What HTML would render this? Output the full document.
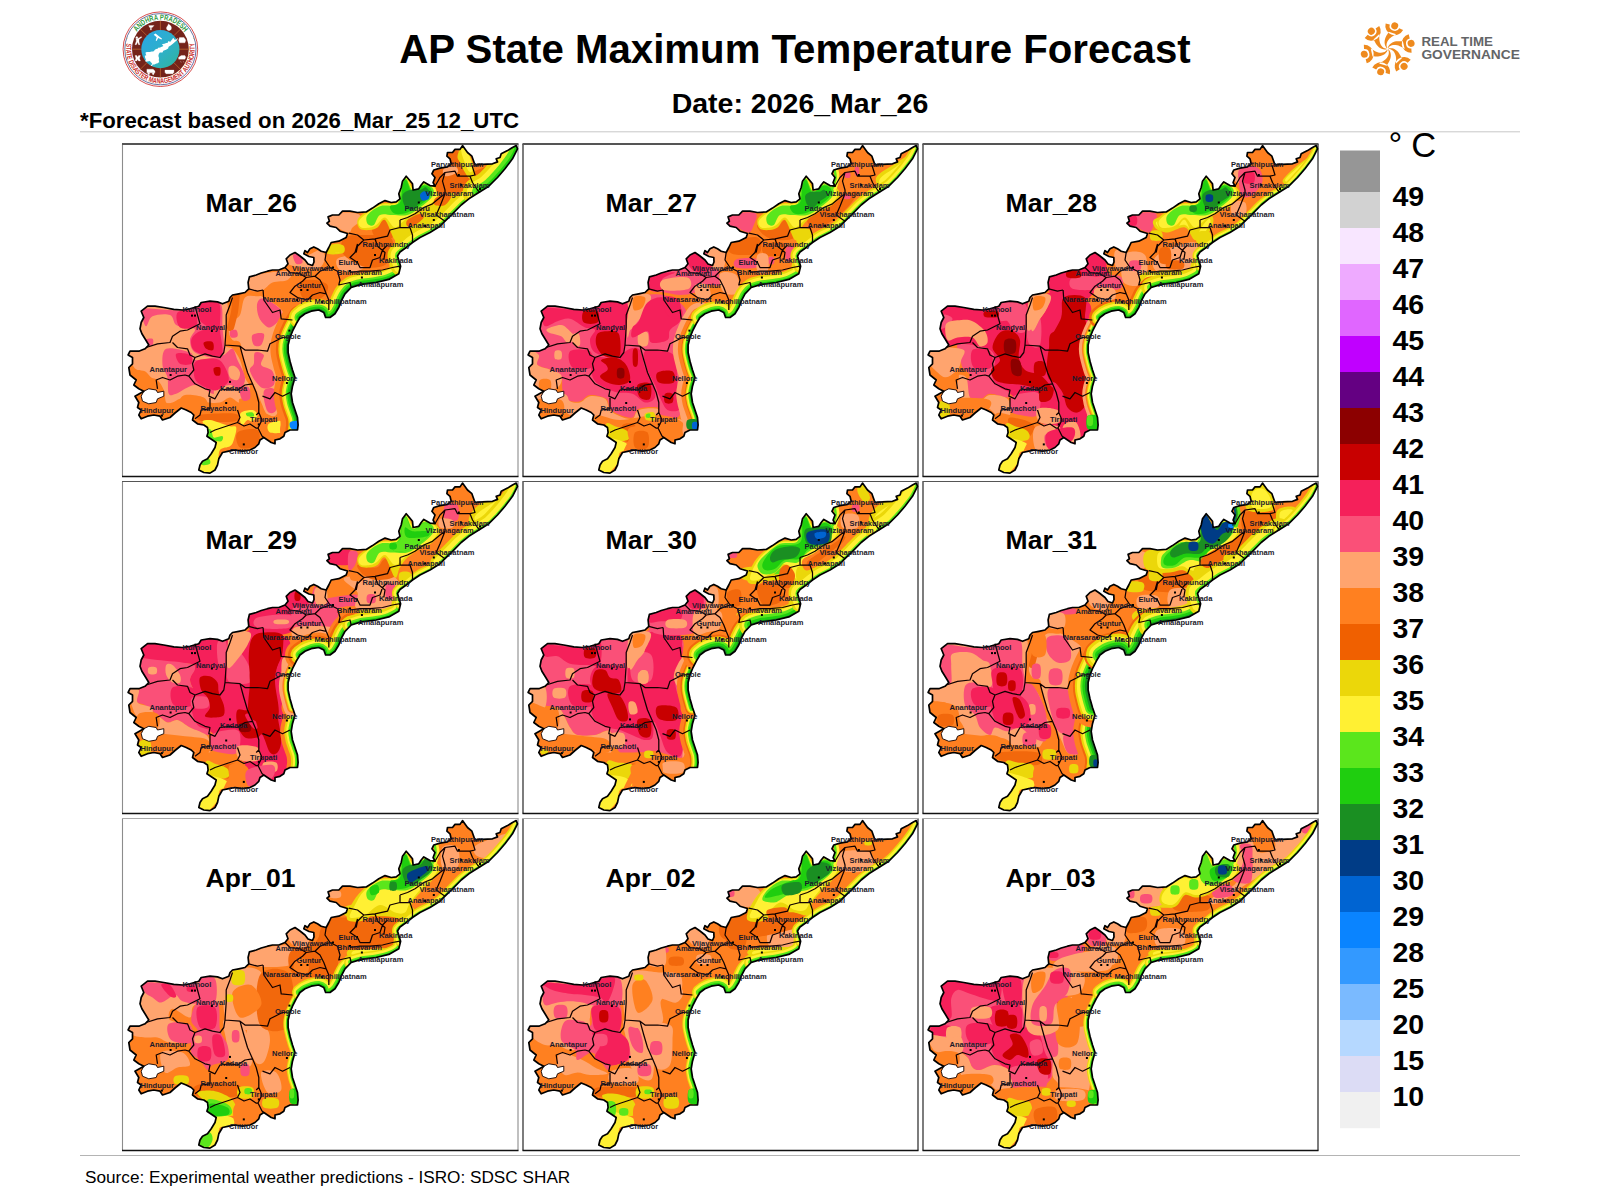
<!DOCTYPE html><html><head><meta charset="utf-8"><title>AP State Maximum Temperature Forecast</title>
<style>html,body{margin:0;padding:0;background:#fff}svg{display:block}text{font-family:"Liberation Sans",Arial,sans-serif}.b{font-weight:bold}.c{font-size:7.5px;font-weight:bold;fill:#1a1a2a}.d{font-size:26.5px;font-weight:bold;fill:#000}.n{font-size:28.5px;font-weight:bold;fill:#000}</style></head><body>
<svg width="1600" height="1200" viewBox="0 0 1600 1200">
<rect width="1600" height="1200" fill="#fff"/>
<defs>
<clipPath id="st"><path d="M516.2,145.6L512.5,147.5L507.5,150.6L501.2,153.8L500.0,157.5L496.2,158.8L497.5,161.9L492.5,163.8L482.5,164.4L475.0,165.0L471.9,156.2L467.5,152.5L462.5,145.6L460.0,149.4L455.0,149.4L452.5,152.5L447.5,152.5L446.9,156.2L450.0,158.8L451.2,163.8L447.5,166.9L440.0,168.1L433.8,170.0L431.9,173.8L435.0,177.5L433.1,182.5L435.0,186.2L430.0,185.6L423.8,181.9L421.2,185.0L418.8,188.8L413.1,190.0L412.5,183.8L409.4,180.0L406.2,176.2L402.5,181.2L401.2,187.5L398.8,193.8L400.0,198.8L396.2,201.9L391.2,202.5L385.0,200.6L378.8,203.8L372.5,208.1L366.2,211.9L357.5,212.5L350.0,211.2L342.5,211.2L338.8,215.0L332.5,215.0L328.1,216.9L329.4,221.2L326.9,223.1L330.0,226.2L336.2,227.5L340.0,231.2L347.5,233.5L346.2,237.5L338.8,241.2L331.2,242.5L328.8,247.5L326.2,252.5L321.2,251.2L317.5,248.8L313.8,246.9L310.0,248.8L307.5,252.5L305.0,250.6L303.8,253.8L309.0,256.5L313.8,257.5L314.0,262.0L312.5,265.5L308.0,264.0L305.0,260.0L300.0,256.0L295.0,252.5L290.0,255.0L286.2,258.8L288.0,263.8L285.0,267.5L278.8,270.0L272.5,270.0L267.5,271.2L261.2,273.0L256.2,275.0L249.4,276.9L248.1,282.5L248.8,288.8L245.0,292.5L238.8,293.8L232.5,295.0L230.0,297.5L228.8,301.2L222.5,303.8L217.5,301.9L210.0,301.2L201.2,302.5L198.8,306.2L190.0,308.8L182.5,310.0L173.8,309.4L163.8,307.5L155.0,306.2L147.5,306.2L141.2,311.2L143.8,317.5L141.2,322.5L140.0,328.8L141.9,333.8L145.0,338.8L148.8,345.0L145.0,348.8L138.8,351.2L130.0,351.2L128.1,355.0L132.5,357.5L132.5,363.8L128.8,367.5L130.0,375.0L136.2,380.0L133.8,385.0L138.8,388.8L143.8,391.2L135.0,396.2L138.8,402.5L137.5,407.5L141.2,410.0L138.8,415.0L141.2,418.8L147.5,416.2L153.8,415.0L160.0,416.2L162.5,420.0L170.0,417.5L175.0,413.0L181.2,408.0L186.2,410.0L191.2,412.5L193.8,415.0L192.5,420.0L197.5,423.8L203.8,425.0L207.5,427.5L208.1,432.5L206.9,436.2L212.5,440.0L216.2,442.5L215.0,447.5L211.2,453.8L207.5,458.8L202.5,461.2L200.0,465.0L198.8,470.0L203.8,472.5L210.0,473.1L215.0,470.0L217.5,465.0L218.8,458.8L222.5,452.5L228.8,451.2L235.0,450.0L242.5,451.2L250.0,450.0L255.0,447.5L258.8,443.8L260.0,440.0L263.8,437.5L267.5,440.0L271.2,442.5L275.0,443.8L275.0,440.0L280.0,438.8L283.8,436.2L285.0,432.5L290.0,430.0L297.5,430.0L298.1,425.0L297.5,417.5L295.0,410.0L292.5,402.5L291.2,393.8L292.5,386.2L295.0,377.5L292.5,370.0L290.0,361.2L288.1,352.5L288.1,345.0L290.0,337.5L292.5,331.2L296.2,323.8L300.0,317.5L305.0,313.8L311.2,311.2L318.8,310.0L323.8,312.5L325.6,317.5L330.0,317.5L335.0,313.8L338.8,307.5L341.2,301.2L345.0,293.8L351.2,287.5L361.2,284.4L376.2,282.5L388.8,279.4L398.8,273.8L400.6,266.2L397.5,256.0L400.0,252.0L406.2,247.5L412.5,242.5L420.0,237.5L430.0,232.5L440.0,226.2L445.0,221.2L452.5,213.8L461.2,205.0L468.8,198.8L478.8,192.5L488.8,186.2L497.5,177.5L505.0,168.8L512.5,158.8L517.5,148.8Z"/></clipPath>
<path id="ol" d="M516.2,145.6L512.5,147.5L507.5,150.6L501.2,153.8L500.0,157.5L496.2,158.8L497.5,161.9L492.5,163.8L482.5,164.4L475.0,165.0L471.9,156.2L467.5,152.5L462.5,145.6L460.0,149.4L455.0,149.4L452.5,152.5L447.5,152.5L446.9,156.2L450.0,158.8L451.2,163.8L447.5,166.9L440.0,168.1L433.8,170.0L431.9,173.8L435.0,177.5L433.1,182.5L435.0,186.2L430.0,185.6L423.8,181.9L421.2,185.0L418.8,188.8L413.1,190.0L412.5,183.8L409.4,180.0L406.2,176.2L402.5,181.2L401.2,187.5L398.8,193.8L400.0,198.8L396.2,201.9L391.2,202.5L385.0,200.6L378.8,203.8L372.5,208.1L366.2,211.9L357.5,212.5L350.0,211.2L342.5,211.2L338.8,215.0L332.5,215.0L328.1,216.9L329.4,221.2L326.9,223.1L330.0,226.2L336.2,227.5L340.0,231.2L347.5,233.5L346.2,237.5L338.8,241.2L331.2,242.5L328.8,247.5L326.2,252.5L321.2,251.2L317.5,248.8L313.8,246.9L310.0,248.8L307.5,252.5L305.0,250.6L303.8,253.8L309.0,256.5L313.8,257.5L314.0,262.0L312.5,265.5L308.0,264.0L305.0,260.0L300.0,256.0L295.0,252.5L290.0,255.0L286.2,258.8L288.0,263.8L285.0,267.5L278.8,270.0L272.5,270.0L267.5,271.2L261.2,273.0L256.2,275.0L249.4,276.9L248.1,282.5L248.8,288.8L245.0,292.5L238.8,293.8L232.5,295.0L230.0,297.5L228.8,301.2L222.5,303.8L217.5,301.9L210.0,301.2L201.2,302.5L198.8,306.2L190.0,308.8L182.5,310.0L173.8,309.4L163.8,307.5L155.0,306.2L147.5,306.2L141.2,311.2L143.8,317.5L141.2,322.5L140.0,328.8L141.9,333.8L145.0,338.8L148.8,345.0L145.0,348.8L138.8,351.2L130.0,351.2L128.1,355.0L132.5,357.5L132.5,363.8L128.8,367.5L130.0,375.0L136.2,380.0L133.8,385.0L138.8,388.8L143.8,391.2L135.0,396.2L138.8,402.5L137.5,407.5L141.2,410.0L138.8,415.0L141.2,418.8L147.5,416.2L153.8,415.0L160.0,416.2L162.5,420.0L170.0,417.5L175.0,413.0L181.2,408.0L186.2,410.0L191.2,412.5L193.8,415.0L192.5,420.0L197.5,423.8L203.8,425.0L207.5,427.5L208.1,432.5L206.9,436.2L212.5,440.0L216.2,442.5L215.0,447.5L211.2,453.8L207.5,458.8L202.5,461.2L200.0,465.0L198.8,470.0L203.8,472.5L210.0,473.1L215.0,470.0L217.5,465.0L218.8,458.8L222.5,452.5L228.8,451.2L235.0,450.0L242.5,451.2L250.0,450.0L255.0,447.5L258.8,443.8L260.0,440.0L263.8,437.5L267.5,440.0L271.2,442.5L275.0,443.8L275.0,440.0L280.0,438.8L283.8,436.2L285.0,432.5L290.0,430.0L297.5,430.0L298.1,425.0L297.5,417.5L295.0,410.0L292.5,402.5L291.2,393.8L292.5,386.2L295.0,377.5L292.5,370.0L290.0,361.2L288.1,352.5L288.1,345.0L290.0,337.5L292.5,331.2L296.2,323.8L300.0,317.5L305.0,313.8L311.2,311.2L318.8,310.0L323.8,312.5L325.6,317.5L330.0,317.5L335.0,313.8L338.8,307.5L341.2,301.2L345.0,293.8L351.2,287.5L361.2,284.4L376.2,282.5L388.8,279.4L398.8,273.8L400.6,266.2L397.5,256.0L400.0,252.0L406.2,247.5L412.5,242.5L420.0,237.5L430.0,232.5L440.0,226.2L445.0,221.2L452.5,213.8L461.2,205.0L468.8,198.8L478.8,192.5L488.8,186.2L497.5,177.5L505.0,168.8L512.5,158.8L517.5,148.8Z" fill="none" stroke="#000" stroke-width="1.7" stroke-linejoin="round"/>
<g id="db" fill="none" stroke="#100" stroke-width="1.25" stroke-linejoin="round">
<path d="M146.2,347.5L157.5,343.8L170.0,342.5L172.5,336.2L180.0,331.2L187.5,330.0L195.0,326.2L200.0,323.8L197.5,315.0L195.0,306.2 M172.5,342.5L177.5,347.5L187.5,348.8L190.0,355.0L195.0,357.5L192.5,363.8L193.8,370.0L188.8,376.2L185.0,375.0L177.5,376.2L170.0,380.0L162.5,377.5L156.2,380.0L157.5,388.8 M195.0,357.5L205.0,353.8L212.5,356.2L220.0,357.5L223.8,352.5L225.0,345.0L226.2,327.5L226.2,315.0L230.0,305.0L232.5,297.5 M188.8,376.2L195.0,383.8L205.0,388.8L210.0,390.0L208.8,396.2L215.0,398.8L220.0,390.0L230.0,388.8L237.5,390.0L245.0,385.0L252.5,383.8 M225.0,345.0L240.0,346.2L245.0,350.0L257.5,350.0L267.5,351.2L270.0,343.8L277.5,340.0L282.5,337.5L290.0,337.0 M240.0,346.2L243.8,360.0L247.5,372.5L252.5,383.8L256.2,392.5L258.8,402.5L258.8,412.5L256.2,415.0 M262.5,396.2L270.0,398.8L275.0,392.5L282.5,396.2L290.0,392.5 M210.0,396.2L210.0,408.8L201.2,410.0L200.0,415.0L195.0,418.8 M237.5,410.0L240.0,417.5L237.5,422.5L230.0,425.0L222.5,427.5L215.0,430.0L210.0,432.5 M263.1,290.0L263.8,300.0L272.5,312.5L280.0,310.0L281.2,318.8L292.5,320.0 M248.8,288.8L257.5,291.2L263.1,290.0 M285.0,267.5L290.0,272.5L300.0,273.8L306.2,277.5L302.5,281.2L295.0,286.2L290.0,292.5L297.5,297.5L307.5,300.0L312.5,295.0L320.0,292.5L326.2,293.8L328.8,300.0L328.8,310.0 M306.2,277.5L315.0,276.2L320.0,280.0L323.8,287.5L326.2,293.8 M326.2,252.5L325.0,260.0L330.0,267.5L320.0,271.2L315.0,276.2 M330.0,267.5L337.5,271.2L340.0,280.0L338.8,285.0L350.0,282.5L351.2,287.5 M357.5,243.8L355.0,252.5L350.0,257.5L357.5,262.5L360.0,267.5L370.0,267.5L372.5,260.0L380.0,257.5L382.5,250.0L387.5,245.0 M350.0,272.5L360.0,271.2L370.0,271.2L382.5,270.0L392.5,267.5L400.0,266.2 M400.0,220.0L407.5,217.5L415.0,213.8L423.8,207.5L432.5,203.8L440.0,197.5L445.0,193.8 M348.8,233.1L357.5,235.0L363.8,240.0L375.0,238.8L387.5,236.2L390.0,230.0L400.0,227.5L400.0,220.0 M400.0,227.5L410.0,227.5L412.5,235.0L412.5,242.5 M435.0,186.2L440.0,177.5L445.0,172.5L455.0,171.2L457.5,176.2L470.0,176.2L475.0,175.0L471.9,165.0 M470.0,176.2L472.5,182.5L477.5,190.0L480.0,192.5 M445.0,172.5L442.5,181.2L445.0,190.0L445.0,193.8L440.0,206.2L436.2,215.0L445.0,221.2 M363.8,240.0L357.5,246.2L356.2,252.5 M375.0,238.8L377.5,246.2L385.0,252.5L383.8,260.0 M258.8,412.5L262.0,420.0L258.0,428.0L262.0,436.0L263.8,437.5 M237.5,422.5L244.0,426.0L250.0,424.0L256.0,428.0L258.0,428.0"/>
<path d="M143.8,391.2L148.8,388.8L156.2,390.0L157.5,392.5L163.8,391.2L163.8,396.2L157.5,398.8L156.2,402.5L148.8,403.8L142.5,401.2L141.2,396.2Z" fill="#fff" stroke-width="0.9"/>
</g>
<g id="ct" fill="#000"><rect x="191.0" y="314.6" width="2" height="2"/><rect x="194.0" y="314.6" width="2" height="2"/><rect x="210.9" y="330.0" width="2" height="2"/><rect x="169.6" y="374.0" width="2" height="2"/><rect x="229.0" y="380.9" width="2" height="2"/><rect x="225.2" y="402.0" width="2" height="2"/><rect x="257.8" y="423.4" width="2" height="2"/><rect x="285.9" y="382.0" width="2" height="2"/><rect x="288.4" y="329.6" width="2" height="2"/><rect x="242.8" y="443.4" width="2" height="2"/><rect x="160.9" y="414.6" width="2" height="2"/><rect x="306.5" y="289.0" width="2" height="2"/><rect x="300.2" y="289.0" width="2" height="2"/><rect x="332.0" y="266.5" width="2" height="2"/><rect x="399.0" y="265.9" width="2" height="2"/><rect x="374.0" y="254.0" width="2" height="2"/><rect x="360.9" y="276.5" width="2" height="2"/><rect x="349.0" y="270.0" width="2" height="2"/><rect x="432.8" y="219.0" width="2" height="2"/><rect x="417.8" y="201.5" width="2" height="2"/><rect x="457.8" y="174.0" width="2" height="2"/><rect x="460.0" y="184.0" width="2" height="2"/><rect x="479.0" y="188.0" width="2" height="2"/><rect x="424.0" y="225.0" width="2" height="2"/><rect x="356.0" y="261.0" width="2" height="2"/><rect x="321.0" y="301.0" width="2" height="2"/><rect x="296.0" y="299.0" width="2" height="2"/></g>
</defs>
<text x="795" y="62.5" text-anchor="middle" class="b" font-size="40.2">AP State Maximum Temperature Forecast</text>
<text x="800" y="112.5" text-anchor="middle" class="b" font-size="28.5">Date: 2026_Mar_26</text>
<rect x="80" y="131.3" width="1440" height="1" fill="#c8c8c8"/>
<text x="80" y="128" class="b" font-size="22.25">*Forecast based on 2026_Mar_25 12_UTC</text>
<rect x="80" y="1155" width="1440" height="1" fill="#b4b4b4"/>
<text x="85" y="1183" font-size="17.2">Source: Experimental weather predictions - ISRO: SDSC SHAR</text>
<g id="apsdma">
<circle cx="160.4" cy="49.2" r="37.3" fill="#fff" stroke="#d23a3a" stroke-width="0.9"/>
<circle cx="160.4" cy="49.2" r="35.6" fill="none" stroke="#2a3a7a" stroke-width="0.7"/>
<circle cx="160.4" cy="49.2" r="28.4" fill="#74231a"/>
<line x1="160.40" y1="30.20" x2="160.40" y2="20.80" stroke="#e38a3c" stroke-width="0.5"/>
<line x1="173.84" y1="35.76" x2="180.48" y2="29.12" stroke="#e38a3c" stroke-width="0.5"/>
<line x1="179.40" y1="49.20" x2="188.80" y2="49.20" stroke="#e38a3c" stroke-width="0.5"/>
<line x1="173.84" y1="62.64" x2="180.48" y2="69.28" stroke="#e38a3c" stroke-width="0.5"/>
<line x1="160.40" y1="68.20" x2="160.40" y2="77.60" stroke="#e38a3c" stroke-width="0.5"/>
<line x1="146.96" y1="62.64" x2="140.32" y2="69.28" stroke="#e38a3c" stroke-width="0.5"/>
<line x1="141.40" y1="49.20" x2="132.00" y2="49.20" stroke="#e38a3c" stroke-width="0.5"/>
<line x1="146.96" y1="35.76" x2="140.32" y2="29.12" stroke="#e38a3c" stroke-width="0.5"/>
<path transform="translate(151.37,27.40) scale(0.9)" d="M-3,-2h6l-2,2h-1v3h-1v-3h-1z" fill="#fff" stroke="#fff" stroke-width="0.3"/>
<path transform="translate(169.43,27.40) scale(0.9)" d="M-1,-4c2,2 4,3 3,6c-1,2-4,2-5,0c-1,-2 1,-3 2,-6z" fill="#fff" stroke="#fff" stroke-width="0.3"/>
<path transform="translate(182.20,40.17) scale(0.9)" d="M-3,-3h5l2,3l-1,3h-6l-1,-3z" fill="#fff" stroke="#fff" stroke-width="0.3"/>
<path transform="translate(182.20,58.23) scale(0.9)" d="M-4,-1l3,-2h4l1,2l-1,2h-7z M-2,3l1,2 M1,3l1,2" fill="#fff" stroke="#fff" stroke-width="0.3"/>
<path transform="translate(169.43,71.00) scale(0.9)" d="M-5,-1h10v3h-10z M-4,2h8v1h-8z" fill="#fff" stroke="#fff" stroke-width="0.3"/>
<path transform="translate(151.37,71.00) scale(0.9)" d="M-5,-2h7l2,2v2h-9z M-3,2a1,1 0 1,0 .1,0 M2,2a1,1 0 1,0 .1,0" fill="#fff" stroke="#fff" stroke-width="0.3"/>
<path transform="translate(138.60,58.23) scale(0.9)" d="M-4,-3l1,3l-1,3h2l1,-2l1,2h2l-1,-3l1,-3h-2l-1,2l-1,-2z" fill="#fff" stroke="#fff" stroke-width="0.3"/>
<path transform="translate(138.60,40.17) scale(0.9)" d="M-2,-4a1.2,1.2 0 1,0 .1,0z M-3,-2h3l3,-2l.5,1l-3,2v3l1,3h-1.5l-1,-3l-1.5,3h-1.5l1.5,-4z" fill="#fff" stroke="#fff" stroke-width="0.3"/>
<defs><linearGradient id="sea" x1="0" y1="0" x2="1" y2="1"><stop offset="0" stop-color="#2aa6e6"/><stop offset="0.55" stop-color="#2eb0c8"/><stop offset="1" stop-color="#2fb59a"/></linearGradient>
<path id="arcT" d="M136.77,31.71 A29.4,29.4 0 0 1 184.33,32.13"/>
<path id="arcB" d="M126.62,43.24 A34.3,34.3 0 1 0 194.18,43.24"/>
</defs>
<circle cx="160.4" cy="49.2" r="19.1" fill="url(#sea)"/>
<path d="M178.14,38.00L176.84,38.70L176.51,39.41L174.57,39.68L173.49,38.00L172.62,38.60L172.40,39.14L171.54,39.95L171.11,40.76L170.67,41.46L169.70,41.73L168.89,40.98L168.19,41.62L167.76,42.87L166.24,43.03L164.40,43.79L162.78,44.00L161.97,44.54L162.57,45.08L163.43,45.95L161.92,46.81L160.94,46.92L160.08,47.25L160.21,47.59L160.51,48.37L159.43,47.55L158.24,47.79L157.59,48.76L156.08,49.02L154.94,49.84L154.13,50.81L153.27,51.46L151.64,51.46L149.91,52.11L147.64,52.00L145.70,52.33L145.59,53.84L146.35,55.25L144.72,55.79L144.94,56.87L145.27,58.28L145.91,59.25L145.37,60.65L145.70,61.63L147.32,61.41L148.62,61.13L150.02,61.09L150.56,62.06L151.48,62.82L152.19,63.68L151.43,65.09L150.67,66.06L152.08,66.06L152.73,64.55L154.46,64.44L155.86,63.79L156.62,63.47L157.27,63.47L158.13,62.82L159.27,62.17L158.78,60.22L159.00,58.06L158.40,55.90L158.78,54.06L159.86,52.54L161.48,52.44L162.46,52.54L163.32,50.81L166.03,49.84L168.13,48.44L168.62,46.81L170.67,45.52L172.62,43.89L174.89,42.06L177.16,40.00Z" fill="#fff"/>
<path d="M155.5,33.6l6.6,5.2l-.7,.8l-3.2,-1.6l-1.6,3l-.9,-.4l1,-3.4l-3,-2.4z" fill="#fff"/>
<text font-size="7.6" font-weight="bold" fill="#2e9a3e" textLength="55.4" lengthAdjust="spacingAndGlyphs"><textPath href="#arcT" startOffset="0" textLength="55.4" lengthAdjust="spacingAndGlyphs">ANDHRA PRADESH</textPath></text>
<text font-size="7.4" font-weight="bold" fill="#c9302c" textLength="119.7" lengthAdjust="spacingAndGlyphs"><textPath href="#arcB" startOffset="0" textLength="119.7" lengthAdjust="spacingAndGlyphs">STATE DISASTER MANAGEMENT AUTHORITY</textPath></text>
<circle cx="126.9" cy="38.2" r="0.5" fill="#c9a24a"/><circle cx="193.9" cy="38.2" r="0.5" fill="#c9a24a"/>
</g>
<g id="rtg" fill="#ee8a1e" stroke="none">
<g transform="translate(1387.7,48.8) rotate(17)"><path d="M-0.69,-0.78L-1.42,-1.62L-1.96,-2.62L-2.33,-3.74L-2.50,-4.93L-2.49,-6.18L-2.30,-7.46L-1.92,-8.74L-1.38,-9.99L-0.69,-11.21L0.14,-12.38L1.07,-13.48L2.07,-14.53L3.09,-15.52L4.00,-16.50L-4.00,-16.50L-4.25,-15.24L-4.61,-13.93L-4.94,-12.59L-5.20,-11.23L-5.36,-9.87L-5.40,-8.52L-5.30,-7.20L-5.07,-5.93L-4.70,-4.73L-4.19,-3.61L-3.56,-2.59L-2.80,-1.69L-1.94,-0.92L-1.01,-0.28Z M9.26,-22.37A9.4,9.4 0 0 1 -9.39,-23.67L-5.10,-23.82A5.1,5.1 0 0 0 5.02,-23.11Z"/><circle cx="0" cy="-24.0" r="3.5"/></g>
<g transform="translate(1387.7,48.8) rotate(77)"><path d="M-0.69,-0.78L-1.42,-1.62L-1.96,-2.62L-2.33,-3.74L-2.50,-4.93L-2.49,-6.18L-2.30,-7.46L-1.92,-8.74L-1.38,-9.99L-0.69,-11.21L0.14,-12.38L1.07,-13.48L2.07,-14.53L3.09,-15.52L4.00,-16.50L-4.00,-16.50L-4.25,-15.24L-4.61,-13.93L-4.94,-12.59L-5.20,-11.23L-5.36,-9.87L-5.40,-8.52L-5.30,-7.20L-5.07,-5.93L-4.70,-4.73L-4.19,-3.61L-3.56,-2.59L-2.80,-1.69L-1.94,-0.92L-1.01,-0.28Z M9.26,-22.37A9.4,9.4 0 0 1 -9.39,-23.67L-5.10,-23.82A5.1,5.1 0 0 0 5.02,-23.11Z"/><circle cx="0" cy="-24.0" r="3.5"/></g>
<g transform="translate(1387.7,48.8) rotate(137)"><path d="M-0.69,-0.78L-1.42,-1.62L-1.96,-2.62L-2.33,-3.74L-2.50,-4.93L-2.49,-6.18L-2.30,-7.46L-1.92,-8.74L-1.38,-9.99L-0.69,-11.21L0.14,-12.38L1.07,-13.48L2.07,-14.53L3.09,-15.52L4.00,-16.50L-4.00,-16.50L-4.25,-15.24L-4.61,-13.93L-4.94,-12.59L-5.20,-11.23L-5.36,-9.87L-5.40,-8.52L-5.30,-7.20L-5.07,-5.93L-4.70,-4.73L-4.19,-3.61L-3.56,-2.59L-2.80,-1.69L-1.94,-0.92L-1.01,-0.28Z M9.26,-22.37A9.4,9.4 0 0 1 -9.39,-23.67L-5.10,-23.82A5.1,5.1 0 0 0 5.02,-23.11Z"/><circle cx="0" cy="-24.0" r="3.5"/></g>
<g transform="translate(1387.7,48.8) rotate(197)"><path d="M-0.69,-0.78L-1.42,-1.62L-1.96,-2.62L-2.33,-3.74L-2.50,-4.93L-2.49,-6.18L-2.30,-7.46L-1.92,-8.74L-1.38,-9.99L-0.69,-11.21L0.14,-12.38L1.07,-13.48L2.07,-14.53L3.09,-15.52L4.00,-16.50L-4.00,-16.50L-4.25,-15.24L-4.61,-13.93L-4.94,-12.59L-5.20,-11.23L-5.36,-9.87L-5.40,-8.52L-5.30,-7.20L-5.07,-5.93L-4.70,-4.73L-4.19,-3.61L-3.56,-2.59L-2.80,-1.69L-1.94,-0.92L-1.01,-0.28Z M9.26,-22.37A9.4,9.4 0 0 1 -9.39,-23.67L-5.10,-23.82A5.1,5.1 0 0 0 5.02,-23.11Z"/><circle cx="0" cy="-24.0" r="3.5"/></g>
<g transform="translate(1387.7,48.8) rotate(257)"><path d="M-0.69,-0.78L-1.42,-1.62L-1.96,-2.62L-2.33,-3.74L-2.50,-4.93L-2.49,-6.18L-2.30,-7.46L-1.92,-8.74L-1.38,-9.99L-0.69,-11.21L0.14,-12.38L1.07,-13.48L2.07,-14.53L3.09,-15.52L4.00,-16.50L-4.00,-16.50L-4.25,-15.24L-4.61,-13.93L-4.94,-12.59L-5.20,-11.23L-5.36,-9.87L-5.40,-8.52L-5.30,-7.20L-5.07,-5.93L-4.70,-4.73L-4.19,-3.61L-3.56,-2.59L-2.80,-1.69L-1.94,-0.92L-1.01,-0.28Z M9.26,-22.37A9.4,9.4 0 0 1 -9.39,-23.67L-5.10,-23.82A5.1,5.1 0 0 0 5.02,-23.11Z"/><circle cx="0" cy="-24.0" r="3.5"/></g>
<g transform="translate(1387.7,48.8) rotate(317)"><path d="M-0.69,-0.78L-1.42,-1.62L-1.96,-2.62L-2.33,-3.74L-2.50,-4.93L-2.49,-6.18L-2.30,-7.46L-1.92,-8.74L-1.38,-9.99L-0.69,-11.21L0.14,-12.38L1.07,-13.48L2.07,-14.53L3.09,-15.52L4.00,-16.50L-4.00,-16.50L-4.25,-15.24L-4.61,-13.93L-4.94,-12.59L-5.20,-11.23L-5.36,-9.87L-5.40,-8.52L-5.30,-7.20L-5.07,-5.93L-4.70,-4.73L-4.19,-3.61L-3.56,-2.59L-2.80,-1.69L-1.94,-0.92L-1.01,-0.28Z M9.26,-22.37A9.4,9.4 0 0 1 -9.39,-23.67L-5.10,-23.82A5.1,5.1 0 0 0 5.02,-23.11Z"/><circle cx="0" cy="-24.0" r="3.5"/></g>
</g>
<text x="1421.4" y="46.2" font-size="12.6" font-weight="bold" fill="#636567" textLength="71.5" lengthAdjust="spacingAndGlyphs">REAL TIME</text>
<text x="1421.4" y="59.2" font-size="12.6" font-weight="bold" fill="#636567" textLength="98.5" lengthAdjust="spacingAndGlyphs">GOVERNANCE</text>
<g>
<rect x="1340" y="150.5" width="40" height="41.5" fill="#969696"/>
<rect x="1340" y="192" width="40" height="36.2" fill="#d2d2d2"/>
<rect x="1340" y="228" width="40" height="36.2" fill="#f8e6ff"/>
<rect x="1340" y="264" width="40" height="36.2" fill="#eeaaff"/>
<rect x="1340" y="300" width="40" height="36.2" fill="#e066ff"/>
<rect x="1340" y="336" width="40" height="36.2" fill="#c000ff"/>
<rect x="1340" y="372" width="40" height="36.2" fill="#640082"/>
<rect x="1340" y="408" width="40" height="36.2" fill="#8c0000"/>
<rect x="1340" y="444" width="40" height="36.2" fill="#c80000"/>
<rect x="1340" y="480" width="40" height="36.2" fill="#f5205a"/>
<rect x="1340" y="516" width="40" height="36.2" fill="#fa5078"/>
<rect x="1340" y="552" width="40" height="36.2" fill="#ffa46e"/>
<rect x="1340" y="588" width="40" height="36.2" fill="#ff8020"/>
<rect x="1340" y="624" width="40" height="36.2" fill="#f06000"/>
<rect x="1340" y="660" width="40" height="36.2" fill="#ebd70a"/>
<rect x="1340" y="696" width="40" height="36.2" fill="#fff033"/>
<rect x="1340" y="732" width="40" height="36.2" fill="#5be61c"/>
<rect x="1340" y="768" width="40" height="36.2" fill="#1fce0f"/>
<rect x="1340" y="804" width="40" height="36.2" fill="#1a8f22"/>
<rect x="1340" y="840" width="40" height="36.2" fill="#003c86"/>
<rect x="1340" y="876" width="40" height="36.2" fill="#0064d2"/>
<rect x="1340" y="912" width="40" height="36.2" fill="#0a84ff"/>
<rect x="1340" y="948" width="40" height="36.2" fill="#3399ff"/>
<rect x="1340" y="984" width="40" height="36.2" fill="#7abaff"/>
<rect x="1340" y="1020" width="40" height="36.2" fill="#b5d8ff"/>
<rect x="1340" y="1056" width="40" height="36.2" fill="#dcdcf5"/>
<rect x="1340" y="1092" width="40" height="36.2" fill="#f0f0f0"/>
<text x="1392.5" y="206.2" class="n">49</text>
<text x="1392.5" y="242.2" class="n">48</text>
<text x="1392.5" y="278.2" class="n">47</text>
<text x="1392.5" y="314.2" class="n">46</text>
<text x="1392.5" y="350.2" class="n">45</text>
<text x="1392.5" y="386.2" class="n">44</text>
<text x="1392.5" y="422.2" class="n">43</text>
<text x="1392.5" y="458.2" class="n">42</text>
<text x="1392.5" y="494.2" class="n">41</text>
<text x="1392.5" y="530.2" class="n">40</text>
<text x="1392.5" y="566.2" class="n">39</text>
<text x="1392.5" y="602.2" class="n">38</text>
<text x="1392.5" y="638.2" class="n">37</text>
<text x="1392.5" y="674.2" class="n">36</text>
<text x="1392.5" y="710.2" class="n">35</text>
<text x="1392.5" y="746.2" class="n">34</text>
<text x="1392.5" y="782.2" class="n">33</text>
<text x="1392.5" y="818.2" class="n">32</text>
<text x="1392.5" y="854.2" class="n">31</text>
<text x="1392.5" y="890.2" class="n">30</text>
<text x="1392.5" y="926.2" class="n">29</text>
<text x="1392.5" y="962.2" class="n">28</text>
<text x="1392.5" y="998.2" class="n">25</text>
<text x="1392.5" y="1034.2" class="n">20</text>
<text x="1392.5" y="1070.2" class="n">15</text>
<text x="1392.5" y="1106.2" class="n">10</text>
<text x="1388.6" y="156.8" font-size="34.5">°</text><text x="1411.2" y="156.8" font-size="34.5">C</text>
</g>
<rect x="122.5" y="144" width="395.5" height="332.5" fill="#fff"/>
<path d="M122.5,144V476.5" stroke="#8c8c8c" stroke-width="1.1" fill="none"/><path d="M518,144V476.5" stroke="#8c8c8c" stroke-width="1.1" fill="none"/>
<path d="M122.0,144H518.5" stroke="#555" stroke-width="1.8" fill="none"/><path d="M122.0,476.5H518.5" stroke="#111" stroke-width="1.3" fill="none"/>
<g transform="translate(0,0.0)">
<g clip-path="url(#st)">
<rect x="120" y="140" width="400" height="340" fill="#ff8020"/>
<path d="M141.2,307.5C143.8,305.8 150.6,304.6 157.5,305.0C164.4,305.4 175.4,310.4 182.5,310.0C189.6,309.6 193.8,303.9 200.0,302.5C206.2,301.1 215.4,301.7 220.0,301.9C224.6,302.1 226.5,299.5 227.5,303.8C228.5,308.0 226.7,320.6 226.2,327.5C225.8,334.4 224.0,341.5 225.0,345.0C226.0,348.5 230.0,346.2 232.5,348.8C235.0,351.2 237.9,355.2 240.0,360.0C242.1,364.8 243.3,372.9 245.0,377.5C246.7,382.1 250.0,383.8 250.0,387.5C250.0,391.2 246.9,397.5 245.0,400.0C243.1,402.5 241.2,402.9 238.8,402.5C236.2,402.1 233.1,397.5 230.0,397.5C226.9,397.5 223.8,401.7 220.0,402.5C216.2,403.3 210.8,402.9 207.5,402.5C204.2,402.1 202.9,400.8 200.0,400.0C197.1,399.2 193.3,397.7 190.0,397.5C186.7,397.3 182.9,397.9 180.0,398.8C177.1,399.6 174.8,401.9 172.5,402.5C170.2,403.1 167.7,404.6 166.2,402.5C164.8,400.4 165.2,393.8 163.8,390.0C162.3,386.2 159.6,382.1 157.5,380.0C155.4,377.9 153.3,379.0 151.2,377.5C149.2,376.0 147.3,372.5 145.0,371.2C142.7,370.0 139.6,371.0 137.5,370.0C135.4,369.0 134.0,367.9 132.5,365.0C131.0,362.1 127.7,355.0 128.8,352.5C129.8,350.0 135.6,351.2 138.8,350.0C141.9,348.8 147.3,348.3 147.5,345.0C147.7,341.7 140.8,335.0 140.0,330.0C139.2,325.0 142.3,318.8 142.5,315.0C142.7,311.2 138.8,309.2 141.2,307.5Z" fill="#ffa46e"/>
<path d="M245.0,297.5C247.9,294.4 254.4,296.2 257.5,296.2C260.6,296.2 259.6,295.0 263.8,297.5C267.9,300.0 279.6,306.2 282.5,311.2C285.4,316.2 282.3,322.7 281.2,327.5C280.2,332.3 276.9,335.4 276.2,340.0C275.6,344.6 276.7,350.0 277.5,355.0C278.3,360.0 280.4,365.0 281.2,370.0C282.1,375.0 282.7,379.6 282.5,385.0C282.3,390.4 281.0,397.5 280.0,402.5C279.0,407.5 278.3,412.9 276.2,415.0C274.2,417.1 270.0,417.1 267.5,415.0C265.0,412.9 263.3,407.1 261.2,402.5C259.2,397.9 257.3,392.5 255.0,387.5C252.7,382.5 249.6,377.9 247.5,372.5C245.4,367.1 243.8,360.0 242.5,355.0C241.2,350.0 241.7,345.0 240.0,342.5C238.3,340.0 234.4,341.9 232.5,340.0C230.6,338.1 228.8,334.4 228.8,331.2C228.8,328.1 230.6,324.0 232.5,321.2C234.4,318.5 237.9,319.0 240.0,315.0C242.1,311.0 242.1,300.6 245.0,297.5Z" fill="#ffa46e"/>
<path d="M236.2,296.2C235.9,299.0 235.3,307.3 234.4,312.5C233.4,317.7 231.2,325.0 230.6,327.5" fill="none" stroke="#f2680c" stroke-width="7" stroke-linecap="round" stroke-linejoin="round"/>
<path d="M249.4,277.5C251.2,274.8 254.5,274.8 261.2,273.8C268.0,272.7 285.6,270.2 290.0,271.2C294.4,272.3 290.4,278.1 287.5,280.0C284.6,281.9 276.7,280.8 272.5,282.5C268.3,284.2 266.2,288.8 262.5,290.0C258.8,291.2 252.2,292.1 250.0,290.0C247.8,287.9 247.5,280.2 249.4,277.5Z" fill="#ffa46e"/>
<path d="M287.5,256.2C288.6,254.5 291.7,253.3 295.0,253.1C298.3,252.9 303.3,255.5 307.5,255.0C311.7,254.5 317.1,249.6 320.0,250.0C322.9,250.4 325.0,254.6 325.0,257.5C325.0,260.4 322.9,265.6 320.0,267.5C317.1,269.4 311.7,269.0 307.5,268.8C303.3,268.5 298.2,267.1 295.0,266.2C291.8,265.4 289.4,265.4 288.1,263.8C286.9,262.1 286.4,258.0 287.5,256.2Z" fill="#ffa46e"/>
<path d="M337.5,258.8C340.4,256.2 352.5,254.4 357.5,255.0C362.5,255.6 367.5,259.8 367.5,262.5C367.5,265.2 362.1,270.0 357.5,271.2C352.9,272.5 343.3,272.1 340.0,270.0C336.7,267.9 334.6,261.2 337.5,258.8Z" fill="#ffa46e"/>
<path d="M328.8,215.0C331.0,212.7 337.7,212.7 342.5,212.5C347.3,212.3 354.4,212.5 357.5,213.8C360.6,215.0 362.1,217.7 361.2,220.0C360.4,222.3 354.6,225.4 352.5,227.5C350.4,229.6 351.5,232.5 348.8,232.5C346.0,232.5 339.6,228.5 336.2,227.5C332.9,226.5 330.0,228.3 328.8,226.2C327.5,224.2 326.5,217.3 328.8,215.0Z" fill="#ffa46e"/>
<path d="M300.0,282.5C302.1,279.6 310.4,279.6 315.0,280.0C319.6,280.4 325.8,282.5 327.5,285.0C329.2,287.5 327.1,292.5 325.0,295.0C322.9,297.5 318.8,299.6 315.0,300.0C311.2,300.4 305.0,300.4 302.5,297.5C300.0,294.6 297.9,285.4 300.0,282.5Z" fill="#f2680c"/>
<path d="M343.8,240.0C346.2,237.9 354.8,235.8 357.5,237.5C360.2,239.2 361.2,246.9 360.0,250.0C358.8,253.1 352.9,256.2 350.0,256.2C347.1,256.2 343.5,252.7 342.5,250.0C341.5,247.3 341.2,242.1 343.8,240.0Z" fill="#f2680c"/>
<path d="M345.0,237.5C348.8,235.0 356.2,235.0 363.8,235.0C371.2,235.0 385.2,234.6 390.0,237.5C394.8,240.4 393.3,247.9 392.5,252.5C391.7,257.1 389.2,262.5 385.0,265.0C380.8,267.5 373.3,268.3 367.5,267.5C361.7,266.7 354.4,262.9 350.0,260.0C345.6,257.1 342.1,253.8 341.2,250.0C340.4,246.2 341.2,240.0 345.0,237.5Z" fill="#f2680c"/>
<path d="M373.8,221.2C375.8,219.0 381.5,218.1 385.0,218.8C388.5,219.4 393.8,221.9 395.0,225.0C396.2,228.1 395.0,235.0 392.5,237.5C390.0,240.0 383.3,240.8 380.0,240.0C376.7,239.2 373.5,235.6 372.5,232.5C371.5,229.4 371.7,223.5 373.8,221.2Z" fill="#f2680c"/>
<path d="M327.5,246.2C330.2,245.0 339.8,244.0 342.5,245.0C345.2,246.0 345.4,250.9 343.8,252.5C342.1,254.1 335.4,254.4 332.5,254.4C329.6,254.4 327.1,253.9 326.2,252.5C325.4,251.1 324.8,247.5 327.5,246.2Z" fill="#ebd70a"/>
<path d="M330.0,247.5C331.5,246.6 338.3,246.1 340.0,246.9C341.7,247.6 341.5,250.9 340.0,251.9C338.5,252.8 332.9,253.2 331.2,252.5C329.6,251.8 328.5,248.4 330.0,247.5Z" fill="#fff033"/>
<path d="M327.5,246.2C329.2,244.8 336.0,243.1 338.8,243.8C341.5,244.4 343.8,248.5 343.8,250.0C343.8,251.5 341.2,252.1 338.8,252.5C336.2,252.9 330.6,253.5 328.8,252.5C326.9,251.5 325.8,247.7 327.5,246.2Z" fill="#ebd70a"/>
<path d="M357.5,220.0C358.3,217.3 361.2,215.2 365.0,212.5C368.8,209.8 374.6,205.6 380.0,203.8C385.4,201.9 394.2,205.0 397.5,201.2C400.8,197.5 398.5,185.4 400.0,181.2C401.5,177.1 403.8,174.8 406.2,176.2C408.8,177.7 412.1,189.1 415.0,190.0C417.9,190.9 420.4,182.5 423.8,181.9C427.1,181.2 432.3,184.1 435.0,186.2C437.7,188.4 440.4,191.9 440.0,195.0C439.6,198.1 435.4,202.5 432.5,205.0C429.6,207.5 426.7,207.5 422.5,210.0C418.3,212.5 411.2,216.7 407.5,220.0C403.8,223.3 402.1,226.7 400.0,230.0C397.9,233.3 397.5,241.7 395.0,240.0C392.5,238.3 387.9,222.1 385.0,220.0C382.1,217.9 380.0,225.8 377.5,227.5C375.0,229.2 372.9,229.8 370.0,230.0C367.1,230.2 362.1,230.4 360.0,228.8C357.9,227.1 356.7,222.7 357.5,220.0Z" fill="#ebd70a"/>
<path d="M358.8,221.2C359.6,219.0 362.7,216.5 366.2,213.8C369.8,211.0 374.8,206.9 380.0,205.0C385.2,203.1 394.0,206.2 397.5,202.5C401.0,198.8 399.8,186.7 401.2,182.5C402.7,178.3 404.2,176.2 406.2,177.5C408.3,178.8 410.8,189.1 413.8,190.0C416.7,190.9 420.4,183.6 423.8,183.1C427.1,182.6 431.5,184.9 433.8,186.9C436.0,188.9 437.9,192.2 437.5,195.0C437.1,197.8 434.0,201.5 431.2,203.8C428.5,206.0 425.4,206.2 421.2,208.8C417.1,211.2 410.6,215.6 406.2,218.8C401.9,221.9 398.5,227.7 395.0,227.5C391.5,227.3 388.1,217.9 385.0,217.5C381.9,217.1 378.8,223.3 376.2,225.0C373.8,226.7 372.5,227.1 370.0,227.5C367.5,227.9 363.1,228.5 361.2,227.5C359.4,226.5 357.9,223.5 358.8,221.2Z" fill="#fff033"/>
<path d="M367.5,215.0C369.6,212.1 375.0,208.1 380.0,206.2C385.0,204.4 394.0,207.5 397.5,203.8C401.0,200.0 399.8,187.9 401.2,183.8C402.7,179.6 404.3,177.5 406.2,178.8C408.2,180.0 410.2,190.3 413.1,191.2C416.0,192.2 420.5,184.9 423.8,184.4C427.0,183.9 431.0,186.1 432.5,188.1C434.0,190.1 434.6,193.0 432.5,196.2C430.4,199.5 424.2,204.4 420.0,207.5C415.8,210.6 412.1,213.8 407.5,215.0C402.9,216.2 397.1,215.0 392.5,215.0C387.9,215.0 383.1,213.3 380.0,215.0C376.9,216.7 375.8,223.5 373.8,225.0C371.7,226.5 368.5,225.4 367.5,223.8C366.5,222.1 365.4,217.9 367.5,215.0Z" fill="#5be61c"/>
<path d="M390.0,206.2C390.8,204.4 397.9,206.0 400.0,202.5C402.1,199.0 401.5,188.8 402.5,185.0C403.5,181.2 404.6,178.8 406.2,180.0C407.9,181.2 409.6,191.6 412.5,192.5C415.4,193.4 420.6,186.1 423.8,185.6C426.9,185.1 430.2,187.6 431.2,189.4C432.3,191.1 431.9,193.6 430.0,196.2C428.1,198.9 423.8,202.3 420.0,205.0C416.2,207.7 411.7,211.0 407.5,212.5C403.3,214.0 397.9,214.8 395.0,213.8C392.1,212.7 389.2,208.1 390.0,206.2Z" fill="#1fce0f"/>
<path d="M402.5,195.0C403.3,192.3 407.1,190.8 410.0,190.0C412.9,189.2 417.3,190.4 420.0,190.0C422.7,189.6 424.6,186.7 426.2,187.5C427.9,188.3 431.0,192.5 430.0,195.0C429.0,197.5 422.9,200.0 420.0,202.5C417.1,205.0 415.0,209.4 412.5,210.0C410.0,210.6 406.7,208.8 405.0,206.2C403.3,203.8 401.7,197.7 402.5,195.0Z" fill="#1a8f22"/>
<path d="M420.0,195.0C420.2,193.4 422.3,191.6 423.8,191.2C425.2,190.9 427.9,191.9 428.8,193.1C429.6,194.4 429.8,197.5 428.8,198.8C427.7,200.0 424.0,201.2 422.5,200.6C421.0,200.0 419.8,196.6 420.0,195.0Z" fill="#0064d2"/>
<path d="M397.5,227.5C400.8,223.3 409.2,218.8 415.0,215.0C420.8,211.2 427.5,208.3 432.5,205.0C437.5,201.7 441.7,197.1 445.0,195.0C448.3,192.9 450.4,190.8 452.5,192.5C454.6,194.2 459.6,199.4 457.5,205.0C455.4,210.6 446.2,220.8 440.0,226.2C433.8,231.7 426.7,233.1 420.0,237.5C413.3,241.9 404.2,252.1 400.0,252.5C395.8,252.9 395.4,244.2 395.0,240.0C394.6,235.8 394.2,231.7 397.5,227.5Z" fill="#ebd70a"/>
<path d="M407.5,220.0C409.6,217.9 417.3,214.2 420.0,213.8C422.7,213.3 424.6,215.6 423.8,217.5C422.9,219.4 417.7,223.5 415.0,225.0C412.3,226.5 408.8,227.1 407.5,226.2C406.2,225.4 405.4,222.1 407.5,220.0Z" fill="#f2680c"/>
<path d="M435.0,198.8C436.7,196.9 442.3,194.2 445.0,193.8C447.7,193.3 451.2,194.4 451.2,196.2C451.2,198.1 447.7,203.5 445.0,205.0C442.3,206.5 436.7,206.0 435.0,205.0C433.3,204.0 433.3,200.6 435.0,198.8Z" fill="#f2680c"/>
<path d="M447.5,152.5C448.5,150.6 455.0,150.0 457.5,151.2C460.0,152.5 460.4,156.5 462.5,160.0C464.6,163.5 467.5,170.8 470.0,172.5C472.5,174.2 473.3,171.5 477.5,170.0C481.7,168.5 492.5,163.3 495.0,163.8C497.5,164.2 494.6,169.8 492.5,172.5C490.4,175.2 486.2,177.1 482.5,180.0C478.8,182.9 475.0,187.9 470.0,190.0C465.0,192.1 457.5,191.7 452.5,192.5C447.5,193.3 442.9,196.0 440.0,195.0C437.1,194.0 436.2,190.0 435.0,186.2C433.8,182.5 430.8,175.6 432.5,172.5C434.2,169.4 441.9,169.2 445.0,167.5C448.1,165.8 450.8,165.0 451.2,162.5C451.7,160.0 446.5,154.4 447.5,152.5Z" fill="#f2680c"/>
<path d="M443.8,168.8C445.4,167.1 452.7,165.6 455.0,166.2C457.3,166.9 459.2,170.8 457.5,172.5C455.8,174.2 447.3,176.9 445.0,176.2C442.7,175.6 442.1,170.4 443.8,168.8Z" fill="#ffa46e"/>
<path d="M457.5,156.2C457.9,153.5 460.4,146.2 462.5,146.2C464.6,146.2 467.9,151.5 470.0,156.2C472.1,161.0 475.0,171.2 475.0,175.0C475.0,178.8 471.7,179.2 470.0,178.8C468.3,178.3 466.7,175.2 465.0,172.5C463.3,169.8 461.2,165.2 460.0,162.5C458.8,159.8 457.1,159.0 457.5,156.2Z" fill="#ebd70a"/>
<path d="M461.2,150.0C461.5,148.1 463.5,147.5 465.0,148.8C466.5,150.0 468.8,154.0 470.0,157.5C471.2,161.0 472.7,167.7 472.5,170.0C472.3,172.3 470.2,172.9 468.8,171.2C467.3,169.6 465.0,163.5 463.8,160.0C462.5,156.5 461.0,151.9 461.2,150.0Z" fill="#fff033"/>
<path d="M160.0,405.0C162.7,401.9 172.1,404.2 176.2,402.5C180.4,400.8 180.4,395.8 185.0,395.0C189.6,394.2 199.2,395.4 203.8,397.5C208.3,399.6 206.9,405.8 212.5,407.5C218.1,409.2 232.9,409.0 237.5,407.5C242.1,406.0 236.7,400.0 240.0,398.8C243.3,397.5 254.2,398.1 257.5,400.0C260.8,401.9 256.2,407.1 260.0,410.0C263.8,412.9 275.8,418.8 280.0,417.5C284.2,416.2 283.3,407.1 285.0,402.5C286.7,397.9 287.9,387.9 290.0,390.0C292.1,392.1 296.2,408.3 297.5,415.0C298.8,421.7 307.9,423.8 297.5,430.0C287.1,436.2 251.7,452.9 235.0,452.5C218.3,452.1 210.0,432.7 197.5,427.5C185.0,422.3 166.2,425.0 160.0,421.2C153.8,417.5 157.3,408.1 160.0,405.0Z" fill="#ff8020"/>
<path d="M200.0,415.0C205.4,413.8 229.2,412.7 235.0,413.8C240.8,414.8 240.4,420.0 235.0,421.2C229.6,422.5 208.3,422.3 202.5,421.2C196.7,420.2 194.6,416.2 200.0,415.0Z" fill="#f2680c"/>
<path d="M237.5,432.5C240.4,429.6 254.2,427.9 257.5,430.0C260.8,432.1 260.4,442.1 257.5,445.0C254.6,447.9 243.3,449.6 240.0,447.5C236.7,445.4 234.6,435.4 237.5,432.5Z" fill="#f2680c"/>
<path d="M202.5,421.2C203.1,420.0 207.3,419.8 210.0,420.0C212.7,420.2 215.4,421.5 218.8,422.5C222.1,423.5 227.1,425.4 230.0,426.2C232.9,427.1 235.6,425.2 236.2,427.5C236.9,429.8 234.8,436.9 233.8,440.0C232.7,443.1 232.3,444.6 230.0,446.2C227.7,447.9 222.1,446.9 220.0,450.0C217.9,453.1 219.2,461.0 217.5,465.0C215.8,469.0 213.3,472.9 210.0,473.8C206.7,474.6 199.0,472.1 197.5,470.0C196.0,467.9 198.8,464.6 201.2,461.2C203.8,457.9 210.0,453.1 212.5,450.0C215.0,446.9 217.1,445.0 216.2,442.5C215.4,440.0 209.2,437.5 207.5,435.0C205.8,432.5 207.1,429.8 206.2,427.5C205.4,425.2 201.9,422.5 202.5,421.2Z" fill="#fff033"/>
<path d="M206.5,429.4C207.1,428.3 210.0,428.6 211.2,430.0C212.5,431.4 211.9,436.5 213.8,437.5C215.6,438.5 221.2,435.6 222.5,436.2C223.8,436.9 222.9,440.6 221.2,441.2C219.6,441.9 214.8,440.8 212.5,440.0C210.2,439.2 208.5,438.0 207.5,436.2C206.5,434.5 205.9,430.4 206.5,429.4Z" fill="#5be61c"/>
<path d="M201.2,460.0C202.3,459.0 207.3,458.1 208.8,458.8C210.2,459.4 211.0,462.7 210.0,463.8C209.0,464.8 204.0,465.6 202.5,465.0C201.0,464.4 200.2,461.0 201.2,460.0Z" fill="#5be61c"/>
<path d="M241.2,412.5C243.3,410.8 249.8,409.6 252.5,410.0C255.2,410.4 257.5,413.1 257.5,415.0C257.5,416.9 254.2,420.4 252.5,421.2C250.8,422.1 249.2,419.4 247.5,420.0C245.8,420.6 243.8,425.0 242.5,425.0C241.2,425.0 240.2,422.1 240.0,420.0C239.8,417.9 239.2,414.2 241.2,412.5Z" fill="#fff033"/>
<path d="M246.2,413.1C247.1,412.5 251.2,412.0 252.5,412.5C253.8,413.0 254.6,415.6 253.8,416.2C252.9,416.9 248.8,416.8 247.5,416.2C246.2,415.7 245.4,413.8 246.2,413.1Z" fill="#5be61c"/>
<path d="M268.8,423.8C271.0,421.9 281.0,420.0 283.8,421.2C286.5,422.5 287.3,429.4 285.0,431.2C282.7,433.1 272.7,433.8 270.0,432.5C267.3,431.2 266.5,425.6 268.8,423.8Z" fill="#fff033"/>
<path d="M142.5,308.8C147.1,307.5 162.9,309.8 170.0,310.0C177.1,310.2 180.0,311.2 185.0,310.0C190.0,308.8 194.2,303.8 200.0,302.5C205.8,301.2 216.2,298.3 220.0,302.5C223.8,306.7 221.9,319.2 222.5,327.5C223.1,335.8 225.0,347.5 223.8,352.5C222.5,357.5 219.8,357.5 215.0,357.5C210.2,357.5 199.2,355.4 195.0,352.5C190.8,349.6 190.0,343.8 190.0,340.0C190.0,336.2 195.0,332.1 195.0,330.0C195.0,327.9 193.1,328.3 190.0,327.5C186.9,326.7 179.6,327.1 176.2,325.0C172.9,322.9 174.0,316.5 170.0,315.0C166.0,313.5 156.5,314.4 152.5,316.2C148.5,318.1 147.9,326.0 146.2,326.2C144.6,326.5 143.1,320.4 142.5,317.5C141.9,314.6 137.9,310.0 142.5,308.8Z" fill="#fa5078"/>
<path d="M166.2,348.8C170.8,346.7 185.2,350.6 190.0,352.5C194.8,354.4 190.8,359.2 195.0,360.0C199.2,360.8 210.2,358.3 215.0,357.5C219.8,356.7 220.8,356.5 223.8,355.0C226.7,353.5 230.2,347.9 232.5,348.8C234.8,349.6 235.4,355.2 237.5,360.0C239.6,364.8 244.6,372.5 245.0,377.5C245.4,382.5 242.5,388.8 240.0,390.0C237.5,391.2 234.2,385.0 230.0,385.0C225.8,385.0 217.9,388.5 215.0,390.0C212.1,391.5 215.8,394.6 212.5,393.8C209.2,392.9 201.0,385.0 195.0,385.0C189.0,385.0 180.6,392.3 176.2,393.8C171.9,395.2 170.2,396.5 168.8,393.8C167.3,391.0 168.5,382.3 167.5,377.5C166.5,372.7 162.7,369.8 162.5,365.0C162.3,360.2 161.7,350.8 166.2,348.8Z" fill="#fa5078"/>
<path d="M228.8,367.5C229.6,365.6 233.1,365.4 235.0,366.2C236.9,367.1 239.6,370.2 240.0,372.5C240.4,374.8 239.2,379.2 237.5,380.0C235.8,380.8 231.5,379.6 230.0,377.5C228.5,375.4 227.9,369.4 228.8,367.5Z" fill="#ffa46e"/>
<path d="M257.5,302.5C258.5,300.2 260.0,297.7 263.8,298.8C267.5,299.8 277.3,305.4 280.0,308.8C282.7,312.1 281.7,315.6 280.0,318.8C278.3,321.9 273.1,327.1 270.0,327.5C266.9,327.9 263.3,323.8 261.2,321.2C259.2,318.8 258.1,315.6 257.5,312.5C256.9,309.4 256.5,304.8 257.5,302.5Z" fill="#fa5078"/>
<path d="M230.0,331.2C230.8,330.0 235.0,329.2 236.2,330.0C237.5,330.8 238.3,335.0 237.5,336.2C236.7,337.5 232.5,338.3 231.2,337.5C230.0,336.7 229.2,332.5 230.0,331.2Z" fill="#fa5078"/>
<path d="M252.5,335.0C254.2,333.1 262.3,332.1 263.8,333.8C265.2,335.4 262.9,343.1 261.2,345.0C259.6,346.9 255.2,346.7 253.8,345.0C252.3,343.3 250.8,336.9 252.5,335.0Z" fill="#fa5078"/>
<path d="M255.0,352.5C256.7,351.0 262.7,352.9 263.8,355.0C264.8,357.1 259.8,362.3 261.2,365.0C262.7,367.7 270.4,367.9 272.5,371.2C274.6,374.6 275.6,382.3 273.8,385.0C271.9,387.7 265.2,389.8 261.2,387.5C257.3,385.2 251.2,375.2 250.0,371.2C248.8,367.3 252.9,366.9 253.8,363.8C254.6,360.6 253.3,354.0 255.0,352.5Z" fill="#fa5078"/>
<path d="M240.0,388.8C241.0,386.7 247.1,385.8 248.8,387.5C250.4,389.2 251.0,396.7 250.0,398.8C249.0,400.8 244.2,401.7 242.5,400.0C240.8,398.3 239.0,390.8 240.0,388.8Z" fill="#fa5078"/>
<path d="M263.8,391.2C265.0,387.7 272.9,386.9 275.0,390.0C277.1,393.1 277.5,406.5 276.2,410.0C275.0,413.5 269.6,414.4 267.5,411.2C265.4,408.1 262.5,394.8 263.8,391.2Z" fill="#fa5078"/>
<path d="M293.1,255.0C293.8,253.4 298.4,253.1 300.0,254.4C301.6,255.6 303.1,260.9 302.5,262.5C301.9,264.1 297.8,265.0 296.2,263.8C294.7,262.5 292.5,256.6 293.1,255.0Z" fill="#fa5078"/>
<path d="M145.0,340.0C146.0,338.8 151.2,337.9 152.5,338.8C153.8,339.6 153.5,343.8 152.5,345.0C151.5,346.2 147.5,347.1 146.2,346.2C145.0,345.4 144.0,341.2 145.0,340.0Z" fill="#fa5078"/>
<path d="M177.5,312.5C179.8,309.8 190.6,309.0 193.8,311.2C196.9,313.5 198.5,323.5 196.2,326.2C194.0,329.0 183.1,329.8 180.0,327.5C176.9,325.2 175.2,315.2 177.5,312.5Z" fill="#f5205a"/>
<path d="M200.0,303.8C203.1,300.9 215.4,298.8 218.8,303.1C222.1,307.5 219.4,321.8 220.0,330.0C220.6,338.2 223.3,348.0 222.5,352.5C221.7,357.0 219.6,357.1 215.0,356.9C210.4,356.7 199.0,354.1 195.0,351.2C191.0,348.4 190.8,343.1 191.2,340.0C191.7,336.9 194.8,334.6 197.5,332.5C200.2,330.4 207.1,329.6 207.5,327.5C207.9,325.4 201.2,324.0 200.0,320.0C198.8,316.0 196.9,306.6 200.0,303.8Z" fill="#f5205a"/>
<path d="M196.2,361.2C199.8,359.0 210.4,358.1 215.0,358.8C219.6,359.4 221.5,361.5 223.8,365.0C226.0,368.5 229.4,376.0 228.8,380.0C228.1,384.0 222.7,387.1 220.0,388.8C217.3,390.4 216.2,391.0 212.5,390.0C208.8,389.0 200.6,385.4 197.5,382.5C194.4,379.6 194.0,376.0 193.8,372.5C193.5,369.0 192.7,363.5 196.2,361.2Z" fill="#f5205a"/>
<path d="M176.2,353.8C177.9,352.3 187.5,353.3 190.0,355.0C192.5,356.7 192.9,362.3 191.2,363.8C189.6,365.2 182.5,365.4 180.0,363.8C177.5,362.1 174.6,355.2 176.2,353.8Z" fill="#f5205a"/>
<path d="M203.8,342.5C204.8,341.4 210.9,340.6 212.5,341.9C214.1,343.1 214.2,348.9 213.1,350.0C212.1,351.1 207.8,350.0 206.2,348.8C204.7,347.5 202.7,343.6 203.8,342.5Z" fill="#c80000"/>
<path d="M213.8,368.1C214.6,366.9 219.0,366.4 220.0,367.5C221.0,368.6 220.8,373.8 220.0,375.0C219.2,376.2 216.0,376.1 215.0,375.0C214.0,373.9 212.9,369.4 213.8,368.1Z" fill="#c80000"/>
<path d="M297.5,430.0C297.6,429.2 298.1,427.1 298.1,425.0C298.1,422.9 298.0,420.0 297.5,417.5C297.0,415.0 295.8,412.5 295.0,410.0C294.2,407.5 293.1,405.2 292.5,402.5C291.9,399.8 291.2,396.5 291.2,393.8C291.2,391.0 291.9,389.0 292.5,386.2C293.1,383.5 295.0,380.2 295.0,377.5C295.0,374.8 293.3,372.7 292.5,370.0C291.7,367.3 290.7,364.2 290.0,361.2C289.3,358.3 288.4,355.2 288.1,352.5C287.8,349.8 287.8,347.5 288.1,345.0C288.4,342.5 289.3,339.8 290.0,337.5C290.7,335.2 291.5,333.5 292.5,331.2C293.5,329.0 295.0,326.0 296.2,323.8C297.5,321.5 299.4,318.5 300.0,317.5" fill="none" stroke="#ff8020" stroke-width="35" stroke-linecap="round" stroke-linejoin="round"/>
<path d="M297.5,430.0C297.6,429.2 298.1,427.1 298.1,425.0C298.1,422.9 298.0,420.0 297.5,417.5C297.0,415.0 295.8,412.5 295.0,410.0C294.2,407.5 293.1,405.2 292.5,402.5C291.9,399.8 291.2,396.5 291.2,393.8C291.2,391.0 291.9,389.0 292.5,386.2C293.1,383.5 295.0,380.2 295.0,377.5C295.0,374.8 293.3,372.7 292.5,370.0C291.7,367.3 290.7,364.2 290.0,361.2C289.3,358.3 288.4,355.2 288.1,352.5C287.8,349.8 287.8,347.5 288.1,345.0C288.4,342.5 289.3,339.8 290.0,337.5C290.7,335.2 291.5,333.5 292.5,331.2C293.5,329.0 295.0,326.0 296.2,323.8C297.5,321.5 299.4,318.5 300.0,317.5" fill="none" stroke="#f2680c" stroke-width="24" stroke-linecap="round" stroke-linejoin="round"/>
<path d="M297.5,430.0C297.6,429.2 298.1,427.1 298.1,425.0C298.1,422.9 298.0,420.0 297.5,417.5C297.0,415.0 295.8,412.5 295.0,410.0C294.2,407.5 293.1,405.2 292.5,402.5C291.9,399.8 291.2,396.5 291.2,393.8C291.2,391.0 291.9,389.0 292.5,386.2C293.1,383.5 295.0,380.2 295.0,377.5C295.0,374.8 293.3,372.7 292.5,370.0C291.7,367.3 290.7,364.2 290.0,361.2C289.3,358.3 288.4,355.2 288.1,352.5C287.8,349.8 287.8,347.5 288.1,345.0C288.4,342.5 289.3,339.8 290.0,337.5C290.7,335.2 291.5,333.5 292.5,331.2C293.5,329.0 295.0,326.0 296.2,323.8C297.5,321.5 299.4,318.5 300.0,317.5" fill="none" stroke="#ebd70a" stroke-width="19" stroke-linecap="round" stroke-linejoin="round"/>
<path d="M297.5,430.0C297.6,429.2 298.1,427.1 298.1,425.0C298.1,422.9 298.0,420.0 297.5,417.5C297.0,415.0 295.8,412.5 295.0,410.0C294.2,407.5 293.1,405.2 292.5,402.5C291.9,399.8 291.2,396.5 291.2,393.8C291.2,391.0 291.9,389.0 292.5,386.2C293.1,383.5 295.0,380.2 295.0,377.5C295.0,374.8 293.3,372.7 292.5,370.0C291.7,367.3 290.7,364.2 290.0,361.2C289.3,358.3 288.4,355.2 288.1,352.5C287.8,349.8 287.8,347.5 288.1,345.0C288.4,342.5 289.3,339.8 290.0,337.5C290.7,335.2 291.5,333.5 292.5,331.2C293.5,329.0 295.0,326.0 296.2,323.8C297.5,321.5 299.4,318.5 300.0,317.5" fill="none" stroke="#fff033" stroke-width="16" stroke-linecap="round" stroke-linejoin="round"/>
<path d="M297.5,430.0C297.6,429.2 298.1,427.1 298.1,425.0C298.1,422.9 298.0,420.0 297.5,417.5C297.0,415.0 295.8,412.5 295.0,410.0C294.2,407.5 293.1,405.2 292.5,402.5C291.9,399.8 291.2,396.5 291.2,393.8C291.2,391.0 291.9,389.0 292.5,386.2C293.1,383.5 295.0,380.2 295.0,377.5C295.0,374.8 293.3,372.7 292.5,370.0C291.7,367.3 290.7,364.2 290.0,361.2C289.3,358.3 288.4,355.2 288.1,352.5C287.8,349.8 287.8,347.5 288.1,345.0C288.4,342.5 289.3,339.8 290.0,337.5C290.7,335.2 291.5,333.5 292.5,331.2C293.5,329.0 295.0,326.0 296.2,323.8C297.5,321.5 299.4,318.5 300.0,317.5" fill="none" stroke="#5be61c" stroke-width="11" stroke-linecap="round" stroke-linejoin="round"/>
<path d="M297.5,430.0C297.6,429.2 298.1,427.1 298.1,425.0C298.1,422.9 298.0,420.0 297.5,417.5C297.0,415.0 295.8,412.5 295.0,410.0C294.2,407.5 293.1,405.2 292.5,402.5C291.9,399.8 291.2,396.5 291.2,393.8C291.2,391.0 291.9,389.0 292.5,386.2C293.1,383.5 295.0,380.2 295.0,377.5C295.0,374.8 293.3,372.7 292.5,370.0C291.7,367.3 290.7,364.2 290.0,361.2C289.3,358.3 288.4,355.2 288.1,352.5C287.8,349.8 287.8,347.5 288.1,345.0C288.4,342.5 289.3,339.8 290.0,337.5C290.7,335.2 291.5,333.5 292.5,331.2C293.5,329.0 295.0,326.0 296.2,323.8C297.5,321.5 299.4,318.5 300.0,317.5" fill="none" stroke="#1fce0f" stroke-width="8" stroke-linecap="round" stroke-linejoin="round"/>
<path d="M297.5,430.0C297.6,429.2 298.1,427.1 298.1,425.0C298.1,422.9 298.0,420.0 297.5,417.5C297.0,415.0 295.8,412.5 295.0,410.0C294.2,407.5 293.1,405.2 292.5,402.5C291.9,399.8 291.2,396.5 291.2,393.8C291.2,391.0 291.9,389.0 292.5,386.2C293.1,383.5 295.0,380.2 295.0,377.5C295.0,374.8 293.3,372.7 292.5,370.0C291.7,367.3 290.7,364.2 290.0,361.2C289.3,358.3 288.4,355.2 288.1,352.5C287.8,349.8 287.8,347.5 288.1,345.0C288.4,342.5 289.3,339.8 290.0,337.5C290.7,335.2 291.5,333.5 292.5,331.2C293.5,329.0 295.0,326.0 296.2,323.8C297.5,321.5 299.4,318.5 300.0,317.5" fill="none" stroke="#1a8f22" stroke-width="4" stroke-linecap="round" stroke-linejoin="round"/>
<path d="M300.0,317.5C300.8,316.9 303.1,314.8 305.0,313.8C306.9,312.7 309.0,311.9 311.2,311.2C313.5,310.6 316.7,309.8 318.8,310.0C320.8,310.2 322.6,311.2 323.8,312.5C324.9,313.8 324.6,316.7 325.6,317.5C326.6,318.3 328.4,318.1 330.0,317.5C331.6,316.9 333.5,315.4 335.0,313.8C336.5,312.1 337.7,309.6 338.8,307.5C339.8,305.4 340.2,303.5 341.2,301.2C342.3,299.0 343.3,296.0 345.0,293.8C346.7,291.5 348.5,289.1 351.2,287.5C354.0,285.9 357.1,285.2 361.2,284.4C365.4,283.6 371.7,283.3 376.2,282.5C380.8,281.7 385.0,280.9 388.8,279.4C392.5,277.9 396.8,275.9 398.8,273.8C400.7,271.6 400.3,267.5 400.6,266.2" fill="none" stroke="#ebd70a" stroke-width="22" stroke-linecap="round" stroke-linejoin="round"/>
<path d="M300.0,317.5C300.8,316.9 303.1,314.8 305.0,313.8C306.9,312.7 309.0,311.9 311.2,311.2C313.5,310.6 316.7,309.8 318.8,310.0C320.8,310.2 322.6,311.2 323.8,312.5C324.9,313.8 324.6,316.7 325.6,317.5C326.6,318.3 328.4,318.1 330.0,317.5C331.6,316.9 333.5,315.4 335.0,313.8C336.5,312.1 337.7,309.6 338.8,307.5C339.8,305.4 340.2,303.5 341.2,301.2C342.3,299.0 343.3,296.0 345.0,293.8C346.7,291.5 348.5,289.1 351.2,287.5C354.0,285.9 357.1,285.2 361.2,284.4C365.4,283.6 371.7,283.3 376.2,282.5C380.8,281.7 385.0,280.9 388.8,279.4C392.5,277.9 396.8,275.9 398.8,273.8C400.7,271.6 400.3,267.5 400.6,266.2" fill="none" stroke="#fff033" stroke-width="18" stroke-linecap="round" stroke-linejoin="round"/>
<path d="M300.0,317.5C300.8,316.9 303.1,314.8 305.0,313.8C306.9,312.7 309.0,311.9 311.2,311.2C313.5,310.6 316.7,309.8 318.8,310.0C320.8,310.2 322.6,311.2 323.8,312.5C324.9,313.8 324.6,316.7 325.6,317.5C326.6,318.3 328.4,318.1 330.0,317.5C331.6,316.9 333.5,315.4 335.0,313.8C336.5,312.1 337.7,309.6 338.8,307.5C339.8,305.4 340.2,303.5 341.2,301.2C342.3,299.0 343.3,296.0 345.0,293.8C346.7,291.5 348.5,289.1 351.2,287.5C354.0,285.9 357.1,285.2 361.2,284.4C365.4,283.6 371.7,283.3 376.2,282.5C380.8,281.7 385.0,280.9 388.8,279.4C392.5,277.9 396.8,275.9 398.8,273.8C400.7,271.6 400.3,267.5 400.6,266.2" fill="none" stroke="#5be61c" stroke-width="11" stroke-linecap="round" stroke-linejoin="round"/>
<path d="M300.0,317.5C300.8,316.9 303.1,314.8 305.0,313.8C306.9,312.7 309.0,311.9 311.2,311.2C313.5,310.6 316.7,309.8 318.8,310.0C320.8,310.2 322.6,311.2 323.8,312.5C324.9,313.8 324.6,316.7 325.6,317.5C326.6,318.3 328.4,318.1 330.0,317.5C331.6,316.9 333.5,315.4 335.0,313.8C336.5,312.1 337.7,309.6 338.8,307.5C339.8,305.4 340.2,303.5 341.2,301.2C342.3,299.0 343.3,296.0 345.0,293.8C346.7,291.5 348.5,289.1 351.2,287.5C354.0,285.9 357.1,285.2 361.2,284.4C365.4,283.6 371.7,283.3 376.2,282.5C380.8,281.7 385.0,280.9 388.8,279.4C392.5,277.9 396.8,275.9 398.8,273.8C400.7,271.6 400.3,267.5 400.6,266.2" fill="none" stroke="#1fce0f" stroke-width="7" stroke-linecap="round" stroke-linejoin="round"/>
<path d="M300.0,317.5C300.8,316.9 303.1,314.8 305.0,313.8C306.9,312.7 309.0,311.9 311.2,311.2C313.5,310.6 316.7,309.8 318.8,310.0C320.8,310.2 322.6,311.2 323.8,312.5C324.9,313.8 324.6,316.7 325.6,317.5C326.6,318.3 328.4,318.1 330.0,317.5C331.6,316.9 333.5,315.4 335.0,313.8C336.5,312.1 337.7,309.6 338.8,307.5C339.8,305.4 340.2,303.5 341.2,301.2C342.3,299.0 343.3,296.0 345.0,293.8C346.7,291.5 348.5,289.1 351.2,287.5C354.0,285.9 357.1,285.2 361.2,284.4C365.4,283.6 371.7,283.3 376.2,282.5C380.8,281.7 385.0,280.9 388.8,279.4C392.5,277.9 396.8,275.9 398.8,273.8C400.7,271.6 400.3,267.5 400.6,266.2" fill="none" stroke="#1a8f22" stroke-width="3" stroke-linecap="round" stroke-linejoin="round"/>
<path d="M400.6,266.2C400.1,264.5 397.6,258.4 397.5,256.0C397.4,253.6 398.5,253.4 400.0,252.0C401.5,250.6 404.2,249.1 406.2,247.5C408.3,245.9 410.2,244.2 412.5,242.5C414.8,240.8 417.1,239.2 420.0,237.5C422.9,235.8 426.7,234.4 430.0,232.5C433.3,230.6 437.5,228.1 440.0,226.2C442.5,224.4 442.9,223.3 445.0,221.2C447.1,219.2 449.8,216.5 452.5,213.8C455.2,211.0 458.5,207.5 461.2,205.0C464.0,202.5 465.8,200.8 468.8,198.8C471.7,196.7 477.1,193.5 478.8,192.5" fill="none" stroke="#ebd70a" stroke-width="20" stroke-linecap="round" stroke-linejoin="round"/>
<path d="M400.6,266.2C400.1,264.5 397.6,258.4 397.5,256.0C397.4,253.6 398.5,253.4 400.0,252.0C401.5,250.6 404.2,249.1 406.2,247.5C408.3,245.9 410.2,244.2 412.5,242.5C414.8,240.8 417.1,239.2 420.0,237.5C422.9,235.8 426.7,234.4 430.0,232.5C433.3,230.6 437.5,228.1 440.0,226.2C442.5,224.4 442.9,223.3 445.0,221.2C447.1,219.2 449.8,216.5 452.5,213.8C455.2,211.0 458.5,207.5 461.2,205.0C464.0,202.5 465.8,200.8 468.8,198.8C471.7,196.7 477.1,193.5 478.8,192.5" fill="none" stroke="#fff033" stroke-width="14" stroke-linecap="round" stroke-linejoin="round"/>
<path d="M400.6,266.2C400.1,264.5 397.6,258.4 397.5,256.0C397.4,253.6 398.5,253.4 400.0,252.0C401.5,250.6 404.2,249.1 406.2,247.5C408.3,245.9 410.2,244.2 412.5,242.5C414.8,240.8 417.1,239.2 420.0,237.5C422.9,235.8 426.7,234.4 430.0,232.5C433.3,230.6 437.5,228.1 440.0,226.2C442.5,224.4 442.9,223.3 445.0,221.2C447.1,219.2 449.8,216.5 452.5,213.8C455.2,211.0 458.5,207.5 461.2,205.0C464.0,202.5 465.8,200.8 468.8,198.8C471.7,196.7 477.1,193.5 478.8,192.5" fill="none" stroke="#5be61c" stroke-width="5" stroke-linecap="round" stroke-linejoin="round"/>
<path d="M478.8,192.5C480.4,191.5 485.6,188.8 488.8,186.2C491.9,183.8 494.8,180.4 497.5,177.5C500.2,174.6 502.5,171.9 505.0,168.8C507.5,165.6 510.4,162.1 512.5,158.8C514.6,155.4 516.9,150.9 517.5,148.8C518.1,146.6 516.5,146.1 516.2,145.6" fill="none" stroke="#ebd70a" stroke-width="32" stroke-linecap="round" stroke-linejoin="round"/>
<path d="M478.8,192.5C480.4,191.5 485.6,188.8 488.8,186.2C491.9,183.8 494.8,180.4 497.5,177.5C500.2,174.6 502.5,171.9 505.0,168.8C507.5,165.6 510.4,162.1 512.5,158.8C514.6,155.4 516.9,150.9 517.5,148.8C518.1,146.6 516.5,146.1 516.2,145.6" fill="none" stroke="#fff033" stroke-width="24" stroke-linecap="round" stroke-linejoin="round"/>
<path d="M478.8,192.5C480.4,191.5 485.6,188.8 488.8,186.2C491.9,183.8 494.8,180.4 497.5,177.5C500.2,174.6 502.5,171.9 505.0,168.8C507.5,165.6 510.4,162.1 512.5,158.8C514.6,155.4 516.9,150.9 517.5,148.8C518.1,146.6 516.5,146.1 516.2,145.6" fill="none" stroke="#5be61c" stroke-width="14" stroke-linecap="round" stroke-linejoin="round"/>
<path d="M478.8,192.5C480.4,191.5 485.6,188.8 488.8,186.2C491.9,183.8 494.8,180.4 497.5,177.5C500.2,174.6 502.5,171.9 505.0,168.8C507.5,165.6 510.4,162.1 512.5,158.8C514.6,155.4 516.9,150.9 517.5,148.8C518.1,146.6 516.5,146.1 516.2,145.6" fill="none" stroke="#1fce0f" stroke-width="6" stroke-linecap="round" stroke-linejoin="round"/>
<path d="M290.0,422.5C291.0,421.2 296.0,420.2 297.5,421.2C299.0,422.3 299.8,427.5 298.8,428.8C297.7,430.0 292.7,429.8 291.2,428.8C289.8,427.7 289.0,423.8 290.0,422.5Z" fill="#0a84ff"/>
</g>
<use href="#db"/><use href="#ol"/><use href="#ct"/>
<g class="c"><text x="431" y="167">Parvathipuram</text><text x="449.5" y="188">Srikakulam</text><text x="425.5" y="195.5">Vizianagaram</text><text x="404.5" y="211">Paderu</text><text x="419.5" y="217">Visakhapatnam</text><text x="407.5" y="228">Anakapalli</text><text x="362.5" y="247">Rajahmundry</text><text x="338.5" y="264.5">Eluru</text><text x="379" y="263">Kakinada</text><text x="292" y="270.5">Vijayawada</text><text x="275.5" y="276">Amaravati</text><text x="337" y="275">Bhimavaram</text><text x="296.5" y="288">Guntur</text><text x="358" y="287">Amalapuram</text><text x="263.5" y="302">Narasaraopet</text><text x="314.5" y="304">Machilipatnam</text><text x="182.5" y="312">Kurnool</text><text x="196" y="330">Nandyal</text><text x="275" y="339">Ongole</text><text x="149.5" y="372">Anantapur</text><text x="272" y="381">Nellore</text><text x="220" y="390.5">Kadapa</text><text x="200.5" y="411">Rayachoti</text><text x="140.5" y="413">Hindupur</text><text x="250" y="422">Tirupati</text><text x="229" y="454">Chittoor</text></g>
<text x="205.6" y="211.5" class="d">Mar_26</text>
</g>
<rect x="523" y="144" width="395" height="332.5" fill="#fff"/>
<path d="M523,144V476.5" stroke="#111" stroke-width="1.1" fill="none"/><path d="M918,144V476.5" stroke="#111" stroke-width="1.1" fill="none"/>
<path d="M522.5,144H918.5" stroke="#555" stroke-width="1.8" fill="none"/><path d="M522.5,476.5H918.5" stroke="#111" stroke-width="1.3" fill="none"/>
<g transform="translate(400,0.0)">
<g clip-path="url(#st)">
<rect x="120" y="140" width="400" height="340" fill="#ff8020"/>
<path d="M141.2,307.5C143.8,305.8 150.6,304.6 157.5,305.0C164.4,305.4 175.4,310.4 182.5,310.0C189.6,309.6 193.8,303.9 200.0,302.5C206.2,301.1 214.6,302.7 220.0,301.9C225.4,301.0 228.3,298.6 232.5,297.5C236.7,296.4 239.8,295.4 245.0,295.0C250.2,294.6 257.5,293.3 263.8,295.0C270.0,296.7 278.5,300.6 282.5,305.0C286.5,309.4 288.5,315.4 287.5,321.2C286.5,327.1 278.3,333.5 276.2,340.0C274.2,346.5 274.2,353.8 275.0,360.0C275.8,366.2 280.0,370.4 281.2,377.5C282.5,384.6 283.1,395.8 282.5,402.5C281.9,409.2 281.0,415.4 277.5,417.5C274.0,419.6 264.6,416.7 261.2,415.0C257.9,413.3 261.2,408.5 257.5,407.5C253.8,406.5 242.9,407.1 238.8,408.8C234.6,410.4 235.6,416.5 232.5,417.5C229.4,418.5 223.8,416.5 220.0,415.0C216.2,413.5 212.3,411.5 210.0,408.8C207.7,406.0 209.6,401.0 206.2,398.8C202.9,396.5 194.4,394.6 190.0,395.0C185.6,395.4 183.8,400.4 180.0,401.2C176.2,402.1 170.4,401.9 167.5,400.0C164.6,398.1 163.5,394.0 162.5,390.0C161.5,386.0 163.1,379.6 161.2,376.2C159.4,372.9 155.2,371.9 151.2,370.0C147.3,368.1 141.0,367.5 137.5,365.0C134.0,362.5 129.8,357.5 130.0,355.0C130.2,352.5 135.8,351.7 138.8,350.0C141.7,348.3 147.3,348.3 147.5,345.0C147.7,341.7 140.8,335.0 140.0,330.0C139.2,325.0 142.3,318.8 142.5,315.0C142.7,311.2 138.8,309.2 141.2,307.5Z" fill="#fa5078"/>
<path d="M127.5,350.0C129.4,348.3 137.1,352.5 138.8,355.0C140.4,357.5 135.4,362.5 137.5,365.0C139.6,367.5 147.3,368.3 151.2,370.0C155.2,371.7 159.8,372.5 161.2,375.0C162.7,377.5 161.7,382.5 160.0,385.0C158.3,387.5 154.8,389.2 151.2,390.0C147.7,390.8 141.9,392.1 138.8,390.0C135.6,387.9 134.4,381.7 132.5,377.5C130.6,373.3 128.3,369.6 127.5,365.0C126.7,360.4 125.6,351.7 127.5,350.0Z" fill="#ffa46e"/>
<path d="M135.0,390.0C139.2,388.5 157.9,391.9 163.8,393.8C169.6,395.6 167.3,399.8 170.0,401.2C172.7,402.7 176.7,403.3 180.0,402.5C183.3,401.7 185.8,396.9 190.0,396.2C194.2,395.6 201.7,396.5 205.0,398.8C208.3,401.0 207.5,407.1 210.0,410.0C212.5,412.9 216.2,414.8 220.0,416.2C223.8,417.7 229.4,419.8 232.5,418.8C235.6,417.7 234.6,411.7 238.8,410.0C242.9,408.3 253.8,407.7 257.5,408.8C261.2,409.8 257.1,414.4 261.2,416.2C265.4,418.1 279.0,418.1 282.5,420.0C286.0,421.9 297.1,426.2 282.5,427.5C267.9,428.8 210.4,429.6 195.0,427.5C179.6,425.4 194.2,417.1 190.0,415.0C185.8,412.9 175.4,417.1 170.0,415.0C164.6,412.9 162.7,404.6 157.5,402.5C152.3,400.4 142.5,404.6 138.8,402.5C135.0,400.4 130.8,391.5 135.0,390.0Z" fill="#ffa46e"/>
<path d="M275.0,342.5C276.2,337.1 280.0,330.8 282.5,327.5C285.0,324.2 289.2,316.2 290.0,322.5C290.8,328.8 287.7,351.7 287.5,365.0C287.3,378.3 289.6,393.1 288.8,402.5C287.9,411.9 284.2,421.2 282.5,421.2C280.8,421.2 279.0,409.8 278.8,402.5C278.5,395.2 281.9,384.6 281.2,377.5C280.6,370.4 276.0,365.8 275.0,360.0C274.0,354.2 273.8,347.9 275.0,342.5Z" fill="#ffa46e"/>
<path d="M147.5,328.8C149.6,327.5 157.5,324.6 161.2,325.0C165.0,325.4 167.5,329.0 170.0,331.2C172.5,333.5 176.7,336.9 176.2,338.8C175.8,340.6 170.0,342.9 167.5,342.5C165.0,342.1 164.4,337.9 161.2,336.2C158.1,334.6 151.0,333.8 148.8,332.5C146.5,331.2 145.4,330.0 147.5,328.8Z" fill="#ffa46e"/>
<path d="M172.5,335.0C173.3,333.1 177.5,332.1 178.8,333.8C180.0,335.4 180.8,343.1 180.0,345.0C179.2,346.9 175.0,346.7 173.8,345.0C172.5,343.3 171.7,336.9 172.5,335.0Z" fill="#ffa46e"/>
<path d="M155.0,351.2C156.0,350.0 160.2,350.0 161.2,351.2C162.3,352.5 162.3,357.5 161.2,358.8C160.2,360.0 156.0,360.0 155.0,358.8C154.0,357.5 154.0,352.5 155.0,351.2Z" fill="#ffa46e"/>
<path d="M232.5,300.0C235.6,297.1 241.9,296.7 245.0,297.5C248.1,298.3 252.1,302.1 251.2,305.0C250.4,307.9 243.3,311.5 240.0,315.0C236.7,318.5 233.3,322.5 231.2,326.2C229.2,330.0 228.3,339.4 227.5,337.5C226.7,335.6 225.4,321.2 226.2,315.0C227.1,308.8 229.4,302.9 232.5,300.0Z" fill="#ffa46e"/>
<path d="M238.8,332.5C240.2,330.4 246.0,330.4 247.5,332.5C249.0,334.6 249.0,342.9 247.5,345.0C246.0,347.1 240.2,347.1 238.8,345.0C237.3,342.9 237.3,334.6 238.8,332.5Z" fill="#ffa46e"/>
<path d="M228.8,365.0C229.6,363.1 232.9,363.1 233.8,365.0C234.6,366.9 234.6,374.4 233.8,376.2C232.9,378.1 229.6,378.1 228.8,376.2C227.9,374.4 227.9,366.9 228.8,365.0Z" fill="#ffa46e"/>
<path d="M136.2,400.0C140.4,397.5 157.1,397.5 161.2,400.0C165.4,402.5 165.4,412.5 161.2,415.0C157.1,417.5 140.4,417.5 136.2,415.0C132.1,412.5 132.1,402.5 136.2,400.0Z" fill="#ff8020"/>
<path d="M140.0,380.0C141.7,378.3 148.3,378.3 150.0,380.0C151.7,381.7 151.7,388.3 150.0,390.0C148.3,391.7 141.7,391.7 140.0,390.0C138.3,388.3 138.3,381.7 140.0,380.0Z" fill="#ff8020"/>
<path d="M195.0,416.2C199.2,412.9 209.6,420.2 220.0,420.0C230.4,419.8 247.1,414.6 257.5,415.0C267.9,415.4 278.3,418.3 282.5,422.5C286.7,426.7 297.1,437.1 282.5,440.0C267.9,442.9 209.6,444.0 195.0,440.0C180.4,436.0 190.8,419.6 195.0,416.2Z" fill="#ff8020"/>
<path d="M222.5,425.0C224.6,422.5 232.9,422.5 235.0,425.0C237.1,427.5 237.1,437.5 235.0,440.0C232.9,442.5 224.6,442.5 222.5,440.0C220.4,437.5 220.4,427.5 222.5,425.0Z" fill="#f2680c"/>
<path d="M206.2,423.8C207.7,421.5 211.5,425.0 215.0,426.2C218.5,427.5 225.4,429.0 227.5,431.2C229.6,433.5 231.0,438.5 227.5,440.0C224.0,441.5 209.8,442.7 206.2,440.0C202.7,437.3 204.8,426.0 206.2,423.8Z" fill="#ebd70a"/>
<path d="M207.5,437.5C210.0,437.5 221.2,440.4 225.0,442.5C228.8,444.6 230.8,448.3 230.0,450.0C229.2,451.7 222.1,450.0 220.0,452.5C217.9,455.0 219.2,461.5 217.5,465.0C215.8,468.5 213.3,472.9 210.0,473.8C206.7,474.6 199.0,472.1 197.5,470.0C196.0,467.9 198.8,464.6 201.2,461.2C203.8,457.9 211.0,453.1 212.5,450.0C214.0,446.9 210.8,444.6 210.0,442.5C209.2,440.4 205.0,437.5 207.5,437.5Z" fill="#fff033"/>
<path d="M236.2,431.2C234.9,434.0 230.7,442.1 228.1,447.5C225.5,452.9 223.1,459.5 220.6,463.8C218.1,468.0 214.4,471.2 213.1,472.8" fill="none" stroke="#ff8020" stroke-width="5.5" stroke-linecap="round" stroke-linejoin="round"/>
<path d="M230.0,427.5C235.0,425.0 255.0,423.8 260.0,427.5C265.0,431.2 264.2,445.8 260.0,450.0C255.8,454.2 240.0,453.8 235.0,452.5C230.0,451.2 230.8,446.7 230.0,442.5C229.2,438.3 225.0,430.0 230.0,427.5Z" fill="#ff8020"/>
<path d="M235.0,432.5C237.1,430.0 245.4,430.0 247.5,432.5C249.6,435.0 249.6,445.0 247.5,447.5C245.4,450.0 237.1,450.0 235.0,447.5C232.9,445.0 232.9,435.0 235.0,432.5Z" fill="#f2680c"/>
<path d="M245.0,413.8C246.2,412.5 252.1,411.5 253.8,412.5C255.4,413.5 256.2,418.8 255.0,420.0C253.8,421.2 247.9,421.0 246.2,420.0C244.6,419.0 243.8,415.0 245.0,413.8Z" fill="#ebd70a"/>
<path d="M246.2,414.4C246.9,413.8 249.4,413.2 250.0,413.8C250.6,414.3 250.6,416.9 250.0,417.5C249.4,418.1 246.9,418.0 246.2,417.5C245.6,417.0 245.6,415.0 246.2,414.4Z" fill="#5be61c"/>
<path d="M231.2,295.0C235.0,292.5 247.3,292.9 250.0,295.0C252.7,297.1 250.0,302.5 247.5,307.5C245.0,312.5 238.3,321.2 235.0,325.0C231.7,328.8 228.8,332.5 227.5,330.0C226.2,327.5 226.9,315.8 227.5,310.0C228.1,304.2 227.5,297.5 231.2,295.0Z" fill="#ffa46e"/>
<path d="M233.8,297.5C235.6,295.4 243.5,295.8 245.0,297.5C246.5,299.2 244.4,305.4 242.5,307.5C240.6,309.6 235.2,311.7 233.8,310.0C232.3,308.3 231.9,299.6 233.8,297.5Z" fill="#ff8020"/>
<path d="M142.5,307.5C149.3,306.7 172.9,310.8 182.5,310.0C192.1,309.2 192.7,303.8 200.0,302.5C207.3,301.2 221.9,298.3 226.2,302.5C230.6,306.7 226.7,319.2 226.2,327.5C225.8,335.8 225.6,347.5 223.8,352.5C221.9,357.5 219.8,357.5 215.0,357.5C210.2,357.5 199.2,355.4 195.0,352.5C190.8,349.6 190.0,343.8 190.0,340.0C190.0,336.2 195.8,332.1 195.0,330.0C194.2,327.9 189.2,329.4 185.0,327.5C180.8,325.6 174.6,319.8 170.0,318.8C165.4,317.7 161.7,320.0 157.5,321.2C153.3,322.5 147.6,327.3 145.0,326.2C142.4,325.2 142.3,318.1 141.9,315.0C141.5,311.9 135.7,308.3 142.5,307.5Z" fill="#f5205a"/>
<path d="M192.5,357.5C196.5,355.4 208.8,359.0 215.0,357.5C221.2,356.0 225.8,350.0 230.0,348.8C234.2,347.5 237.5,346.9 240.0,350.0C242.5,353.1 242.9,362.1 245.0,367.5C247.1,372.9 250.8,377.5 252.5,382.5C254.2,387.5 256.2,394.2 255.0,397.5C253.8,400.8 248.8,403.1 245.0,402.5C241.2,401.9 237.1,395.4 232.5,393.8C227.9,392.1 221.7,393.3 217.5,392.5C213.3,391.7 211.2,390.6 207.5,388.8C203.8,386.9 197.7,384.4 195.0,381.2C192.3,378.1 191.7,374.0 191.2,370.0C190.8,366.0 188.5,359.6 192.5,357.5Z" fill="#f5205a"/>
<path d="M170.0,351.2C172.9,348.5 186.5,348.5 190.0,351.2C193.5,354.0 194.2,364.8 191.2,367.5C188.3,370.2 176.0,370.2 172.5,367.5C169.0,364.8 167.1,354.0 170.0,351.2Z" fill="#f5205a"/>
<path d="M247.5,302.5C251.7,298.5 258.1,296.5 263.8,297.5C269.4,298.5 278.5,304.8 281.2,308.8C284.0,312.7 281.9,317.7 280.0,321.2C278.1,324.8 272.1,326.9 270.0,330.0C267.9,333.1 270.6,337.9 267.5,340.0C264.4,342.1 254.6,344.0 251.2,342.5C247.9,341.0 250.6,332.1 247.5,331.2C244.4,330.4 235.0,338.1 232.5,337.5C230.0,336.9 231.5,330.2 232.5,327.5C233.5,324.8 236.2,325.4 238.8,321.2C241.2,317.1 243.3,306.5 247.5,302.5Z" fill="#f5205a"/>
<path d="M245.0,351.2C248.8,348.3 264.8,350.2 270.0,352.5C275.2,354.8 275.0,358.8 276.2,365.0C277.5,371.2 276.9,382.7 277.5,390.0C278.1,397.3 281.7,405.4 280.0,408.8C278.3,412.1 270.8,411.9 267.5,410.0C264.2,408.1 262.1,401.7 260.0,397.5C257.9,393.3 257.1,389.6 255.0,385.0C252.9,380.4 249.2,375.6 247.5,370.0C245.8,364.4 241.2,354.2 245.0,351.2Z" fill="#f5205a"/>
<path d="M287.5,255.0C288.5,252.9 292.5,252.5 295.0,252.5C297.5,252.5 299.6,253.3 302.5,255.0C305.4,256.7 311.7,259.8 312.5,262.5C313.3,265.2 310.4,269.8 307.5,271.2C304.6,272.7 298.1,272.3 295.0,271.2C291.9,270.2 290.0,267.7 288.8,265.0C287.5,262.3 286.5,257.1 287.5,255.0Z" fill="#f5205a"/>
<path d="M248.8,278.8C250.4,276.0 255.6,274.8 260.0,273.8C264.4,272.7 274.6,271.7 275.0,272.5C275.4,273.3 264.8,275.8 262.5,278.8C260.2,281.7 263.3,288.1 261.2,290.0C259.2,291.9 252.1,291.9 250.0,290.0C247.9,288.1 247.1,281.5 248.8,278.8Z" fill="#f5205a"/>
<path d="M263.8,297.5C265.6,295.0 276.0,296.7 278.8,300.0C281.5,303.3 281.9,315.0 280.0,317.5C278.1,320.0 270.2,318.3 267.5,315.0C264.8,311.7 261.9,300.0 263.8,297.5Z" fill="#f5205a"/>
<path d="M183.8,311.2C186.0,309.4 195.2,309.4 197.5,311.2C199.8,313.1 199.8,320.6 197.5,322.5C195.2,324.4 186.0,324.4 183.8,322.5C181.5,320.6 181.5,313.1 183.8,311.2Z" fill="#c80000"/>
<path d="M197.5,333.8C199.4,331.5 204.0,331.2 207.5,331.2C211.0,331.2 216.7,329.8 218.8,333.8C220.8,337.7 221.0,351.0 220.0,355.0C219.0,359.0 215.4,357.5 212.5,357.5C209.6,357.5 205.2,357.1 202.5,355.0C199.8,352.9 197.1,348.5 196.2,345.0C195.4,341.5 195.6,336.0 197.5,333.8Z" fill="#c80000"/>
<path d="M201.2,360.0C202.7,358.8 210.8,356.7 215.0,357.5C219.2,358.3 223.8,361.2 226.2,365.0C228.8,368.8 231.0,376.7 230.0,380.0C229.0,383.3 223.8,384.6 220.0,385.0C216.2,385.4 210.8,384.0 207.5,382.5C204.2,381.0 200.0,378.3 200.0,376.2C200.0,374.2 206.5,371.9 207.5,370.0C208.5,368.1 207.3,366.7 206.2,365.0C205.2,363.3 199.8,361.2 201.2,360.0Z" fill="#c80000"/>
<path d="M233.1,350.0C233.9,347.5 236.8,347.5 237.5,350.0C238.2,352.5 238.2,362.5 237.5,365.0C236.8,367.5 233.9,367.5 233.1,365.0C232.4,362.5 232.4,352.5 233.1,350.0Z" fill="#c80000"/>
<path d="M237.5,385.0C239.2,382.7 247.9,381.5 250.0,383.8C252.1,386.0 251.7,396.5 250.0,398.8C248.3,401.0 242.1,399.8 240.0,397.5C237.9,395.2 235.8,387.3 237.5,385.0Z" fill="#c80000"/>
<path d="M257.5,372.5C259.8,370.6 269.8,369.6 272.5,371.2C275.2,372.9 276.0,380.6 273.8,382.5C271.5,384.4 261.5,384.2 258.8,382.5C256.0,380.8 255.2,374.4 257.5,372.5Z" fill="#c80000"/>
<path d="M265.0,393.8C266.2,392.3 271.2,392.3 272.5,393.8C273.8,395.2 273.8,401.0 272.5,402.5C271.2,404.0 266.2,404.0 265.0,402.5C263.8,401.0 263.8,395.2 265.0,393.8Z" fill="#c80000"/>
<path d="M217.5,368.8C218.5,367.3 222.7,367.3 223.8,368.8C224.8,370.2 224.8,376.0 223.8,377.5C222.7,379.0 218.5,379.0 217.5,377.5C216.5,376.0 216.5,370.2 217.5,368.8Z" fill="#8c0000"/>
<path d="M240.0,385.0C240.8,384.2 244.2,384.2 245.0,385.0C245.8,385.8 245.8,389.2 245.0,390.0C244.2,390.8 240.8,390.8 240.0,390.0C239.2,389.2 239.2,385.8 240.0,385.0Z" fill="#8c0000"/>
<path d="M248.8,277.5C250.6,274.7 254.4,276.9 261.2,273.1C268.1,269.4 284.0,258.4 290.0,255.0C296.0,251.6 293.3,253.8 297.5,252.5C301.7,251.2 311.5,244.4 315.0,247.5C318.5,250.6 317.9,265.0 318.8,271.2C319.6,277.5 321.9,282.7 320.0,285.0C318.1,287.3 311.7,283.8 307.5,285.0C303.3,286.2 299.6,290.8 295.0,292.5C290.4,294.2 285.0,295.0 280.0,295.0C275.0,295.0 270.0,293.3 265.0,292.5C260.0,291.7 252.7,292.5 250.0,290.0C247.3,287.5 246.9,280.3 248.8,277.5Z" fill="#fa5078"/>
<path d="M287.5,255.0C288.5,252.9 292.5,252.5 295.0,252.5C297.5,252.5 299.6,253.3 302.5,255.0C305.4,256.7 311.7,259.8 312.5,262.5C313.3,265.2 310.4,269.8 307.5,271.2C304.6,272.7 298.1,272.3 295.0,271.2C291.9,270.2 290.0,267.7 288.8,265.0C287.5,262.3 286.5,257.1 287.5,255.0Z" fill="#f5205a"/>
<path d="M248.8,278.8C250.4,276.0 255.6,274.8 260.0,273.8C264.4,272.7 274.6,271.7 275.0,272.5C275.4,273.3 264.8,275.8 262.5,278.8C260.2,281.7 263.3,288.1 261.2,290.0C259.2,291.9 252.1,291.9 250.0,290.0C247.9,288.1 247.1,281.5 248.8,278.8Z" fill="#f5205a"/>
<path d="M262.5,280.0C266.5,277.9 283.1,276.0 287.5,277.5C291.9,279.0 292.7,286.7 288.8,288.8C284.8,290.8 268.1,291.5 263.8,290.0C259.4,288.5 258.5,282.1 262.5,280.0Z" fill="#ffa46e"/>
<path d="M307.5,248.8C309.4,245.8 321.0,246.9 323.8,250.0C326.5,253.1 325.6,264.6 323.8,267.5C321.9,270.4 315.2,270.6 312.5,267.5C309.8,264.4 305.6,251.7 307.5,248.8Z" fill="#ffa46e"/>
<path d="M295.0,285.0C296.7,282.9 305.0,282.9 307.5,285.0C310.0,287.1 311.7,295.4 310.0,297.5C308.3,299.6 300.0,299.6 297.5,297.5C295.0,295.4 293.3,287.1 295.0,285.0Z" fill="#ffa46e"/>
<path d="M320.0,273.8C322.1,270.8 333.1,271.9 336.2,275.0C339.4,278.1 340.8,289.6 338.8,292.5C336.7,295.4 326.9,295.6 323.8,292.5C320.6,289.4 317.9,276.7 320.0,273.8Z" fill="#ffa46e"/>
<path d="M336.2,259.4C339.6,257.9 352.9,257.4 356.2,258.8C359.6,260.1 359.6,266.0 356.2,267.5C352.9,269.0 339.6,268.9 336.2,267.5C332.9,266.1 332.9,260.8 336.2,259.4Z" fill="#fa5078"/>
<path d="M368.8,257.5C369.6,256.5 372.9,256.5 373.8,257.5C374.6,258.5 374.6,262.7 373.8,263.8C372.9,264.8 369.6,264.8 368.8,263.8C367.9,262.7 367.9,258.5 368.8,257.5Z" fill="#fa5078"/>
<path d="M386.2,247.5C387.5,245.4 392.5,245.4 393.8,247.5C395.0,249.6 395.0,257.9 393.8,260.0C392.5,262.1 387.5,262.1 386.2,260.0C385.0,257.9 385.0,249.6 386.2,247.5Z" fill="#fa5078"/>
<path d="M330.0,242.5C334.6,240.0 352.5,235.8 357.5,237.5C362.5,239.2 362.5,249.6 360.0,252.5C357.5,255.4 347.5,255.0 342.5,255.0C337.5,255.0 332.1,254.6 330.0,252.5C327.9,250.4 325.4,245.0 330.0,242.5Z" fill="#f2680c"/>
<path d="M363.8,245.0C366.7,242.9 379.4,240.8 382.5,242.5C385.6,244.2 385.4,252.9 382.5,255.0C379.6,257.1 368.1,256.7 365.0,255.0C361.9,253.3 360.8,247.1 363.8,245.0Z" fill="#f2680c"/>
<path d="M357.5,255.0C359.2,252.3 365.8,252.3 367.5,255.0C369.2,257.7 369.2,268.5 367.5,271.2C365.8,274.0 359.2,274.0 357.5,271.2C355.8,268.5 355.8,257.7 357.5,255.0Z" fill="#ffa46e"/>
<path d="M397.5,232.5C399.2,231.0 405.8,231.0 407.5,232.5C409.2,234.0 409.2,239.8 407.5,241.2C405.8,242.7 399.2,242.7 397.5,241.2C395.8,239.8 395.8,234.0 397.5,232.5Z" fill="#ebd70a"/>
<path d="M327.5,215.0C330.0,212.7 337.7,212.7 342.5,212.5C347.3,212.3 354.4,211.7 356.2,213.8C358.1,215.8 355.0,221.9 353.8,225.0C352.5,228.1 351.7,232.1 348.8,232.5C345.8,232.9 339.8,228.5 336.2,227.5C332.7,226.5 329.0,228.3 327.5,226.2C326.0,224.2 325.0,217.3 327.5,215.0Z" fill="#fa5078"/>
<path d="M357.5,225.0C359.6,223.8 371.7,228.3 376.2,227.5C380.8,226.7 381.0,221.0 385.0,220.0C389.0,219.0 398.3,218.3 400.0,221.2C401.7,224.2 399.0,234.4 395.0,237.5C391.0,240.6 381.5,240.4 376.2,240.0C371.0,239.6 366.9,237.5 363.8,235.0C360.6,232.5 355.4,226.2 357.5,225.0Z" fill="#f2680c"/>
<path d="M357.5,220.0C358.3,217.3 361.2,215.2 365.0,212.5C368.8,209.8 374.6,205.6 380.0,203.8C385.4,201.9 394.2,205.0 397.5,201.2C400.8,197.5 398.5,185.4 400.0,181.2C401.5,177.1 403.8,174.8 406.2,176.2C408.8,177.7 412.1,189.1 415.0,190.0C417.9,190.9 420.4,182.5 423.8,181.9C427.1,181.2 432.3,184.1 435.0,186.2C437.7,188.4 440.4,191.9 440.0,195.0C439.6,198.1 435.4,202.5 432.5,205.0C429.6,207.5 426.7,207.5 422.5,210.0C418.3,212.5 411.2,216.7 407.5,220.0C403.8,223.3 402.1,226.7 400.0,230.0C397.9,233.3 397.5,241.7 395.0,240.0C392.5,238.3 387.9,222.1 385.0,220.0C382.1,217.9 380.0,225.8 377.5,227.5C375.0,229.2 372.9,229.8 370.0,230.0C367.1,230.2 362.1,230.4 360.0,228.8C357.9,227.1 356.7,222.7 357.5,220.0Z" fill="#ebd70a"/>
<path d="M358.8,221.2C359.6,219.0 362.7,216.5 366.2,213.8C369.8,211.0 374.8,206.9 380.0,205.0C385.2,203.1 394.0,206.2 397.5,202.5C401.0,198.8 399.8,186.7 401.2,182.5C402.7,178.3 404.2,176.2 406.2,177.5C408.3,178.8 410.8,189.1 413.8,190.0C416.7,190.9 420.4,183.6 423.8,183.1C427.1,182.6 431.5,184.9 433.8,186.9C436.0,188.9 437.9,192.2 437.5,195.0C437.1,197.8 434.0,201.5 431.2,203.8C428.5,206.0 425.4,206.2 421.2,208.8C417.1,211.2 410.6,215.6 406.2,218.8C401.9,221.9 398.5,227.7 395.0,227.5C391.5,227.3 388.1,217.9 385.0,217.5C381.9,217.1 378.8,223.3 376.2,225.0C373.8,226.7 372.5,227.1 370.0,227.5C367.5,227.9 363.1,228.5 361.2,227.5C359.4,226.5 357.9,223.5 358.8,221.2Z" fill="#fff033"/>
<path d="M367.5,215.0C369.6,212.1 375.0,208.1 380.0,206.2C385.0,204.4 394.0,207.5 397.5,203.8C401.0,200.0 399.8,187.9 401.2,183.8C402.7,179.6 404.3,177.5 406.2,178.8C408.2,180.0 410.2,190.3 413.1,191.2C416.0,192.2 420.5,184.9 423.8,184.4C427.0,183.9 431.0,186.1 432.5,188.1C434.0,190.1 434.6,193.0 432.5,196.2C430.4,199.5 424.2,204.4 420.0,207.5C415.8,210.6 412.1,213.8 407.5,215.0C402.9,216.2 397.1,215.0 392.5,215.0C387.9,215.0 383.1,213.3 380.0,215.0C376.9,216.7 375.8,223.5 373.8,225.0C371.7,226.5 368.5,225.4 367.5,223.8C366.5,222.1 365.4,217.9 367.5,215.0Z" fill="#5be61c"/>
<path d="M390.0,206.2C390.8,204.4 397.9,206.0 400.0,202.5C402.1,199.0 401.5,188.8 402.5,185.0C403.5,181.2 404.6,178.8 406.2,180.0C407.9,181.2 409.6,191.6 412.5,192.5C415.4,193.4 420.6,186.1 423.8,185.6C426.9,185.1 430.2,187.6 431.2,189.4C432.3,191.1 431.9,193.6 430.0,196.2C428.1,198.9 423.8,202.3 420.0,205.0C416.2,207.7 411.7,211.0 407.5,212.5C403.3,214.0 397.9,214.8 395.0,213.8C392.1,212.7 389.2,208.1 390.0,206.2Z" fill="#1fce0f"/>
<path d="M405.2,195.8C405.9,193.6 408.9,192.4 411.2,191.8C413.6,191.1 417.1,192.1 419.2,191.8C421.4,191.4 422.9,189.1 424.2,189.8C425.6,190.4 428.1,193.8 427.2,195.8C426.4,197.8 421.6,199.8 419.2,201.8C416.9,203.8 415.2,207.2 413.2,207.8C411.2,208.2 408.6,206.8 407.2,204.8C405.9,202.8 404.6,197.9 405.2,195.8Z" fill="#1a8f22"/>
<path d="M397.5,230.0C399.6,227.7 407.9,227.7 410.0,230.0C412.1,232.3 412.1,241.5 410.0,243.8C407.9,246.0 399.6,246.0 397.5,243.8C395.4,241.5 395.4,232.3 397.5,230.0Z" fill="#ebd70a"/>
<path d="M407.5,220.0C409.6,216.2 426.2,209.2 432.5,205.0C438.8,200.8 440.8,197.1 445.0,195.0C449.2,192.9 457.5,190.0 457.5,192.5C457.5,195.0 451.2,204.2 445.0,210.0C438.8,215.8 426.2,225.8 420.0,227.5C413.8,229.2 405.4,223.8 407.5,220.0Z" fill="#f2680c"/>
<path d="M476.2,177.5C478.3,173.1 489.8,167.3 495.0,163.8C500.2,160.2 504.6,156.9 507.5,156.2C510.4,155.6 514.6,155.8 512.5,160.0C510.4,164.2 500.0,176.2 495.0,181.2C490.0,186.2 485.6,190.6 482.5,190.0C479.4,189.4 474.2,181.9 476.2,177.5Z" fill="#ebd70a"/>
<path d="M480.0,178.8C482.1,175.4 490.4,170.8 495.0,167.5C499.6,164.2 507.5,156.9 507.5,158.8C507.5,160.6 499.2,174.0 495.0,178.8C490.8,183.5 485.0,187.5 482.5,187.5C480.0,187.5 477.9,182.1 480.0,178.8Z" fill="#fff033"/>
<path d="M455.0,167.5C455.6,166.2 458.1,166.2 458.8,167.5C459.4,168.8 459.4,173.8 458.8,175.0C458.1,176.2 455.6,176.2 455.0,175.0C454.4,173.8 454.4,168.8 455.0,167.5Z" fill="#fa5078"/>
<path d="M445.0,172.5C445.8,171.7 449.2,171.7 450.0,172.5C450.8,173.3 450.8,176.7 450.0,177.5C449.2,178.3 445.8,178.3 445.0,177.5C444.2,176.7 444.2,173.3 445.0,172.5Z" fill="#fa5078"/>
<path d="M443.8,195.0C444.8,194.4 449.0,194.4 450.0,195.0C451.0,195.6 451.0,198.1 450.0,198.8C449.0,199.4 444.8,199.4 443.8,198.8C442.7,198.1 442.7,195.6 443.8,195.0Z" fill="#fa5078"/>
<path d="M387.5,247.5C388.3,245.8 391.7,245.8 392.5,247.5C393.3,249.2 393.3,255.8 392.5,257.5C391.7,259.2 388.3,259.2 387.5,257.5C386.7,255.8 386.7,249.2 387.5,247.5Z" fill="#fa5078"/>
<path d="M436.2,168.8C436.5,170.2 437.7,174.4 437.5,177.5C437.3,180.6 435.4,185.8 435.0,187.5" fill="none" stroke="#fff033" stroke-width="4" stroke-linecap="round" stroke-linejoin="round"/>
<path d="M434.4,168.8C434.6,170.2 435.8,174.4 435.6,177.5C435.4,180.6 433.5,185.8 433.1,187.5" fill="none" stroke="#5be61c" stroke-width="2.5" stroke-linecap="round" stroke-linejoin="round"/>
<path d="M297.5,430.0C297.6,429.2 298.1,427.1 298.1,425.0C298.1,422.9 298.0,420.0 297.5,417.5C297.0,415.0 295.8,412.5 295.0,410.0C294.2,407.5 293.1,405.2 292.5,402.5C291.9,399.8 291.2,396.5 291.2,393.8C291.2,391.0 291.9,389.0 292.5,386.2C293.1,383.5 295.0,380.2 295.0,377.5C295.0,374.8 293.3,372.7 292.5,370.0C291.7,367.3 290.7,364.2 290.0,361.2C289.3,358.3 288.4,355.2 288.1,352.5C287.8,349.8 287.8,347.5 288.1,345.0C288.4,342.5 289.3,339.8 290.0,337.5C290.7,335.2 291.5,333.5 292.5,331.2C293.5,329.0 295.0,326.0 296.2,323.8C297.5,321.5 299.4,318.5 300.0,317.5" fill="none" stroke="#ffa46e" stroke-width="30" stroke-linecap="round" stroke-linejoin="round"/>
<path d="M297.5,430.0C297.6,429.2 298.1,427.1 298.1,425.0C298.1,422.9 298.0,420.0 297.5,417.5C297.0,415.0 295.8,412.5 295.0,410.0C294.2,407.5 293.1,405.2 292.5,402.5C291.9,399.8 291.2,396.5 291.2,393.8C291.2,391.0 291.9,389.0 292.5,386.2C293.1,383.5 295.0,380.2 295.0,377.5C295.0,374.8 293.3,372.7 292.5,370.0C291.7,367.3 290.7,364.2 290.0,361.2C289.3,358.3 288.4,355.2 288.1,352.5C287.8,349.8 287.8,347.5 288.1,345.0C288.4,342.5 289.3,339.8 290.0,337.5C290.7,335.2 291.5,333.5 292.5,331.2C293.5,329.0 295.0,326.0 296.2,323.8C297.5,321.5 299.4,318.5 300.0,317.5" fill="none" stroke="#ff8020" stroke-width="20" stroke-linecap="round" stroke-linejoin="round"/>
<path d="M297.5,430.0C297.6,429.2 298.1,427.1 298.1,425.0C298.1,422.9 298.0,420.0 297.5,417.5C297.0,415.0 295.8,412.5 295.0,410.0C294.2,407.5 293.1,405.2 292.5,402.5C291.9,399.8 291.2,396.5 291.2,393.8C291.2,391.0 291.9,389.0 292.5,386.2C293.1,383.5 295.0,380.2 295.0,377.5C295.0,374.8 293.3,372.7 292.5,370.0C291.7,367.3 290.7,364.2 290.0,361.2C289.3,358.3 288.4,355.2 288.1,352.5C287.8,349.8 287.8,347.5 288.1,345.0C288.4,342.5 289.3,339.8 290.0,337.5C290.7,335.2 291.5,333.5 292.5,331.2C293.5,329.0 295.0,326.0 296.2,323.8C297.5,321.5 299.4,318.5 300.0,317.5" fill="none" stroke="#f2680c" stroke-width="13" stroke-linecap="round" stroke-linejoin="round"/>
<path d="M297.5,430.0C297.6,429.2 298.1,427.1 298.1,425.0C298.1,422.9 298.0,420.0 297.5,417.5C297.0,415.0 295.8,412.5 295.0,410.0C294.2,407.5 293.1,405.2 292.5,402.5C291.9,399.8 291.2,396.5 291.2,393.8C291.2,391.0 291.9,389.0 292.5,386.2C293.1,383.5 295.0,380.2 295.0,377.5C295.0,374.8 293.3,372.7 292.5,370.0C291.7,367.3 290.7,364.2 290.0,361.2C289.3,358.3 288.4,355.2 288.1,352.5C287.8,349.8 287.8,347.5 288.1,345.0C288.4,342.5 289.3,339.8 290.0,337.5C290.7,335.2 291.5,333.5 292.5,331.2C293.5,329.0 295.0,326.0 296.2,323.8C297.5,321.5 299.4,318.5 300.0,317.5" fill="none" stroke="#ebd70a" stroke-width="11" stroke-linecap="round" stroke-linejoin="round"/>
<path d="M297.5,430.0C297.6,429.2 298.1,427.1 298.1,425.0C298.1,422.9 298.0,420.0 297.5,417.5C297.0,415.0 295.8,412.5 295.0,410.0C294.2,407.5 293.1,405.2 292.5,402.5C291.9,399.8 291.2,396.5 291.2,393.8C291.2,391.0 291.9,389.0 292.5,386.2C293.1,383.5 295.0,380.2 295.0,377.5C295.0,374.8 293.3,372.7 292.5,370.0C291.7,367.3 290.7,364.2 290.0,361.2C289.3,358.3 288.4,355.2 288.1,352.5C287.8,349.8 287.8,347.5 288.1,345.0C288.4,342.5 289.3,339.8 290.0,337.5C290.7,335.2 291.5,333.5 292.5,331.2C293.5,329.0 295.0,326.0 296.2,323.8C297.5,321.5 299.4,318.5 300.0,317.5" fill="none" stroke="#fff033" stroke-width="9" stroke-linecap="round" stroke-linejoin="round"/>
<path d="M297.5,430.0C297.6,429.2 298.1,427.1 298.1,425.0C298.1,422.9 298.0,420.0 297.5,417.5C297.0,415.0 295.8,412.5 295.0,410.0C294.2,407.5 293.1,405.2 292.5,402.5C291.9,399.8 291.2,396.5 291.2,393.8C291.2,391.0 291.9,389.0 292.5,386.2C293.1,383.5 295.0,380.2 295.0,377.5C295.0,374.8 293.3,372.7 292.5,370.0C291.7,367.3 290.7,364.2 290.0,361.2C289.3,358.3 288.4,355.2 288.1,352.5C287.8,349.8 287.8,347.5 288.1,345.0C288.4,342.5 289.3,339.8 290.0,337.5C290.7,335.2 291.5,333.5 292.5,331.2C293.5,329.0 295.0,326.0 296.2,323.8C297.5,321.5 299.4,318.5 300.0,317.5" fill="none" stroke="#5be61c" stroke-width="6" stroke-linecap="round" stroke-linejoin="round"/>
<path d="M297.5,430.0C297.6,429.2 298.1,427.1 298.1,425.0C298.1,422.9 298.0,420.0 297.5,417.5C297.0,415.0 295.8,412.5 295.0,410.0C294.2,407.5 293.1,405.2 292.5,402.5C291.9,399.8 291.2,396.5 291.2,393.8C291.2,391.0 291.9,389.0 292.5,386.2C293.1,383.5 295.0,380.2 295.0,377.5C295.0,374.8 293.3,372.7 292.5,370.0C291.7,367.3 290.7,364.2 290.0,361.2C289.3,358.3 288.4,355.2 288.1,352.5C287.8,349.8 287.8,347.5 288.1,345.0C288.4,342.5 289.3,339.8 290.0,337.5C290.7,335.2 291.5,333.5 292.5,331.2C293.5,329.0 295.0,326.0 296.2,323.8C297.5,321.5 299.4,318.5 300.0,317.5" fill="none" stroke="#1fce0f" stroke-width="4" stroke-linecap="round" stroke-linejoin="round"/>
<path d="M297.5,430.0C297.6,429.2 298.1,427.1 298.1,425.0C298.1,422.9 298.0,420.0 297.5,417.5C297.0,415.0 295.8,412.5 295.0,410.0C294.2,407.5 293.1,405.2 292.5,402.5C291.9,399.8 291.2,396.5 291.2,393.8C291.2,391.0 291.9,389.0 292.5,386.2C293.1,383.5 295.0,380.2 295.0,377.5C295.0,374.8 293.3,372.7 292.5,370.0C291.7,367.3 290.7,364.2 290.0,361.2C289.3,358.3 288.4,355.2 288.1,352.5C287.8,349.8 287.8,347.5 288.1,345.0C288.4,342.5 289.3,339.8 290.0,337.5C290.7,335.2 291.5,333.5 292.5,331.2C293.5,329.0 295.0,326.0 296.2,323.8C297.5,321.5 299.4,318.5 300.0,317.5" fill="none" stroke="#1a8f22" stroke-width="2" stroke-linecap="round" stroke-linejoin="round"/>
<path d="M300.0,317.5C300.8,316.9 303.1,314.8 305.0,313.8C306.9,312.7 309.0,311.9 311.2,311.2C313.5,310.6 316.7,309.8 318.8,310.0C320.8,310.2 322.6,311.2 323.8,312.5C324.9,313.8 324.6,316.7 325.6,317.5C326.6,318.3 328.4,318.1 330.0,317.5C331.6,316.9 333.5,315.4 335.0,313.8C336.5,312.1 337.7,309.6 338.8,307.5C339.8,305.4 340.2,303.5 341.2,301.2C342.3,299.0 343.3,296.0 345.0,293.8C346.7,291.5 348.5,289.1 351.2,287.5C354.0,285.9 357.1,285.2 361.2,284.4C365.4,283.6 371.7,283.3 376.2,282.5C380.8,281.7 385.0,280.9 388.8,279.4C392.5,277.9 396.8,275.9 398.8,273.8C400.7,271.6 400.3,267.5 400.6,266.2" fill="none" stroke="#ebd70a" stroke-width="18" stroke-linecap="round" stroke-linejoin="round"/>
<path d="M300.0,317.5C300.8,316.9 303.1,314.8 305.0,313.8C306.9,312.7 309.0,311.9 311.2,311.2C313.5,310.6 316.7,309.8 318.8,310.0C320.8,310.2 322.6,311.2 323.8,312.5C324.9,313.8 324.6,316.7 325.6,317.5C326.6,318.3 328.4,318.1 330.0,317.5C331.6,316.9 333.5,315.4 335.0,313.8C336.5,312.1 337.7,309.6 338.8,307.5C339.8,305.4 340.2,303.5 341.2,301.2C342.3,299.0 343.3,296.0 345.0,293.8C346.7,291.5 348.5,289.1 351.2,287.5C354.0,285.9 357.1,285.2 361.2,284.4C365.4,283.6 371.7,283.3 376.2,282.5C380.8,281.7 385.0,280.9 388.8,279.4C392.5,277.9 396.8,275.9 398.8,273.8C400.7,271.6 400.3,267.5 400.6,266.2" fill="none" stroke="#fff033" stroke-width="14" stroke-linecap="round" stroke-linejoin="round"/>
<path d="M300.0,317.5C300.8,316.9 303.1,314.8 305.0,313.8C306.9,312.7 309.0,311.9 311.2,311.2C313.5,310.6 316.7,309.8 318.8,310.0C320.8,310.2 322.6,311.2 323.8,312.5C324.9,313.8 324.6,316.7 325.6,317.5C326.6,318.3 328.4,318.1 330.0,317.5C331.6,316.9 333.5,315.4 335.0,313.8C336.5,312.1 337.7,309.6 338.8,307.5C339.8,305.4 340.2,303.5 341.2,301.2C342.3,299.0 343.3,296.0 345.0,293.8C346.7,291.5 348.5,289.1 351.2,287.5C354.0,285.9 357.1,285.2 361.2,284.4C365.4,283.6 371.7,283.3 376.2,282.5C380.8,281.7 385.0,280.9 388.8,279.4C392.5,277.9 396.8,275.9 398.8,273.8C400.7,271.6 400.3,267.5 400.6,266.2" fill="none" stroke="#5be61c" stroke-width="8" stroke-linecap="round" stroke-linejoin="round"/>
<path d="M300.0,317.5C300.8,316.9 303.1,314.8 305.0,313.8C306.9,312.7 309.0,311.9 311.2,311.2C313.5,310.6 316.7,309.8 318.8,310.0C320.8,310.2 322.6,311.2 323.8,312.5C324.9,313.8 324.6,316.7 325.6,317.5C326.6,318.3 328.4,318.1 330.0,317.5C331.6,316.9 333.5,315.4 335.0,313.8C336.5,312.1 337.7,309.6 338.8,307.5C339.8,305.4 340.2,303.5 341.2,301.2C342.3,299.0 343.3,296.0 345.0,293.8C346.7,291.5 348.5,289.1 351.2,287.5C354.0,285.9 357.1,285.2 361.2,284.4C365.4,283.6 371.7,283.3 376.2,282.5C380.8,281.7 385.0,280.9 388.8,279.4C392.5,277.9 396.8,275.9 398.8,273.8C400.7,271.6 400.3,267.5 400.6,266.2" fill="none" stroke="#1fce0f" stroke-width="4" stroke-linecap="round" stroke-linejoin="round"/>
<path d="M400.6,266.2C400.1,264.5 397.6,258.4 397.5,256.0C397.4,253.6 398.5,253.4 400.0,252.0C401.5,250.6 404.2,249.1 406.2,247.5C408.3,245.9 410.2,244.2 412.5,242.5C414.8,240.8 417.1,239.2 420.0,237.5C422.9,235.8 426.7,234.4 430.0,232.5C433.3,230.6 437.5,228.1 440.0,226.2C442.5,224.4 442.9,223.3 445.0,221.2C447.1,219.2 449.8,216.5 452.5,213.8C455.2,211.0 458.5,207.5 461.2,205.0C464.0,202.5 465.8,200.8 468.8,198.8C471.7,196.7 475.4,194.6 478.8,192.5C482.1,190.4 485.6,188.8 488.8,186.2C491.9,183.8 494.8,180.4 497.5,177.5C500.2,174.6 502.5,171.9 505.0,168.8C507.5,165.6 510.4,162.1 512.5,158.8C514.6,155.4 516.9,150.9 517.5,148.8C518.1,146.6 516.5,146.1 516.2,145.6" fill="none" stroke="#ebd70a" stroke-width="14" stroke-linecap="round" stroke-linejoin="round"/>
<path d="M400.6,266.2C400.1,264.5 397.6,258.4 397.5,256.0C397.4,253.6 398.5,253.4 400.0,252.0C401.5,250.6 404.2,249.1 406.2,247.5C408.3,245.9 410.2,244.2 412.5,242.5C414.8,240.8 417.1,239.2 420.0,237.5C422.9,235.8 426.7,234.4 430.0,232.5C433.3,230.6 437.5,228.1 440.0,226.2C442.5,224.4 442.9,223.3 445.0,221.2C447.1,219.2 449.8,216.5 452.5,213.8C455.2,211.0 458.5,207.5 461.2,205.0C464.0,202.5 465.8,200.8 468.8,198.8C471.7,196.7 475.4,194.6 478.8,192.5C482.1,190.4 485.6,188.8 488.8,186.2C491.9,183.8 494.8,180.4 497.5,177.5C500.2,174.6 502.5,171.9 505.0,168.8C507.5,165.6 510.4,162.1 512.5,158.8C514.6,155.4 516.9,150.9 517.5,148.8C518.1,146.6 516.5,146.1 516.2,145.6" fill="none" stroke="#fff033" stroke-width="10" stroke-linecap="round" stroke-linejoin="round"/>
<path d="M400.6,266.2C400.1,264.5 397.6,258.4 397.5,256.0C397.4,253.6 398.5,253.4 400.0,252.0C401.5,250.6 404.2,249.1 406.2,247.5C408.3,245.9 410.2,244.2 412.5,242.5C414.8,240.8 417.1,239.2 420.0,237.5C422.9,235.8 426.7,234.4 430.0,232.5C433.3,230.6 437.5,228.1 440.0,226.2C442.5,224.4 442.9,223.3 445.0,221.2C447.1,219.2 449.8,216.5 452.5,213.8C455.2,211.0 458.5,207.5 461.2,205.0C464.0,202.5 465.8,200.8 468.8,198.8C471.7,196.7 475.4,194.6 478.8,192.5C482.1,190.4 485.6,188.8 488.8,186.2C491.9,183.8 494.8,180.4 497.5,177.5C500.2,174.6 502.5,171.9 505.0,168.8C507.5,165.6 510.4,162.1 512.5,158.8C514.6,155.4 516.9,150.9 517.5,148.8C518.1,146.6 516.5,146.1 516.2,145.6" fill="none" stroke="#5be61c" stroke-width="4" stroke-linecap="round" stroke-linejoin="round"/>
<path d="M287.5,420.0C289.2,418.5 295.8,418.5 297.5,420.0C299.2,421.5 299.2,427.3 297.5,428.8C295.8,430.2 289.2,430.2 287.5,428.8C285.8,427.3 285.8,421.5 287.5,420.0Z" fill="#1a8f22"/>
<path d="M292.5,422.5C293.3,421.5 296.7,421.5 297.5,422.5C298.3,423.5 298.3,427.7 297.5,428.8C296.7,429.8 293.3,429.8 292.5,428.8C291.7,427.7 291.7,423.5 292.5,422.5Z" fill="#0064d2"/>
</g>
<use href="#db"/><use href="#ol"/><use href="#ct"/>
<g class="c"><text x="431" y="167">Parvathipuram</text><text x="449.5" y="188">Srikakulam</text><text x="425.5" y="195.5">Vizianagaram</text><text x="404.5" y="211">Paderu</text><text x="419.5" y="217">Visakhapatnam</text><text x="407.5" y="228">Anakapalli</text><text x="362.5" y="247">Rajahmundry</text><text x="338.5" y="264.5">Eluru</text><text x="379" y="263">Kakinada</text><text x="292" y="270.5">Vijayawada</text><text x="275.5" y="276">Amaravati</text><text x="337" y="275">Bhimavaram</text><text x="296.5" y="288">Guntur</text><text x="358" y="287">Amalapuram</text><text x="263.5" y="302">Narasaraopet</text><text x="314.5" y="304">Machilipatnam</text><text x="182.5" y="312">Kurnool</text><text x="196" y="330">Nandyal</text><text x="275" y="339">Ongole</text><text x="149.5" y="372">Anantapur</text><text x="272" y="381">Nellore</text><text x="220" y="390.5">Kadapa</text><text x="200.5" y="411">Rayachoti</text><text x="140.5" y="413">Hindupur</text><text x="250" y="422">Tirupati</text><text x="229" y="454">Chittoor</text></g>
<text x="205.6" y="211.5" class="d">Mar_27</text>
</g>
<rect x="923" y="144" width="395" height="332.5" fill="#fff"/>
<path d="M923,144V476.5" stroke="#111" stroke-width="1.1" fill="none"/><path d="M1318,144V476.5" stroke="#111" stroke-width="1.1" fill="none"/>
<path d="M922.5,144H1318.5" stroke="#555" stroke-width="1.8" fill="none"/><path d="M922.5,476.5H1318.5" stroke="#111" stroke-width="1.3" fill="none"/>
<g transform="translate(800,0.0)">
<g clip-path="url(#st)">
<rect x="120" y="140" width="400" height="340" fill="#ff8020"/>
<path d="M141.2,307.5C143.8,305.8 150.6,304.6 157.5,305.0C164.4,305.4 175.4,310.4 182.5,310.0C189.6,309.6 193.8,303.9 200.0,302.5C206.2,301.1 215.2,301.7 220.0,301.9C224.8,302.1 226.7,299.5 228.8,303.8C230.8,308.0 230.6,325.6 232.5,327.5C234.4,329.4 237.9,320.4 240.0,315.0C242.1,309.6 241.0,298.8 245.0,295.0C249.0,291.2 256.5,291.2 263.8,292.5C271.0,293.8 284.4,297.7 288.8,302.5C293.1,307.3 291.0,315.0 290.0,321.2C289.0,327.5 283.3,333.5 282.5,340.0C281.7,346.5 284.2,353.8 285.0,360.0C285.8,366.2 287.1,370.4 287.5,377.5C287.9,384.6 287.7,392.1 287.5,402.5C287.3,412.9 293.3,433.8 286.2,440.0C279.2,446.2 252.9,443.1 245.0,440.0C237.1,436.9 240.0,426.5 238.8,421.2C237.5,416.0 240.6,411.9 237.5,408.8C234.4,405.6 224.6,405.0 220.0,402.5C215.4,400.0 214.2,396.2 210.0,393.8C205.8,391.2 199.2,390.2 195.0,387.5C190.8,384.8 188.8,380.8 185.0,377.5C181.2,374.2 175.4,371.7 172.5,367.5C169.6,363.3 170.0,356.2 167.5,352.5C165.0,348.8 160.8,346.2 157.5,345.0C154.2,343.8 150.4,347.5 147.5,345.0C144.6,342.5 140.8,335.0 140.0,330.0C139.2,325.0 142.3,318.8 142.5,315.0C142.7,311.2 138.8,309.2 141.2,307.5Z" fill="#f5205a"/>
<path d="M157.5,345.0C159.6,343.3 167.1,344.2 172.5,345.0C177.9,345.8 186.2,347.5 190.0,350.0C193.8,352.5 194.6,355.4 195.0,360.0C195.4,364.6 191.7,372.9 192.5,377.5C193.3,382.1 197.1,384.8 200.0,387.5C202.9,390.2 208.3,390.0 210.0,393.8C211.7,397.5 208.3,406.5 210.0,410.0C211.7,413.5 215.4,414.2 220.0,415.0C224.6,415.8 234.4,418.5 237.5,415.0C240.6,411.5 241.7,397.3 238.8,393.8C235.8,390.2 225.2,393.1 220.0,393.8C214.8,394.4 212.5,397.5 207.5,397.5C202.5,397.5 194.6,393.3 190.0,393.8C185.4,394.2 183.3,399.4 180.0,400.0C176.7,400.6 172.5,400.0 170.0,397.5C167.5,395.0 165.0,388.8 165.0,385.0C165.0,381.2 170.4,377.9 170.0,375.0C169.6,372.1 164.2,370.8 162.5,367.5C160.8,364.2 160.8,358.8 160.0,355.0C159.2,351.2 155.4,346.7 157.5,345.0Z" fill="#fa5078"/>
<path d="M142.5,315.0C144.6,313.5 152.1,316.7 152.5,318.8C152.9,320.8 147.1,326.0 145.0,327.5C142.9,329.0 140.4,329.6 140.0,327.5C139.6,325.4 140.4,316.5 142.5,315.0Z" fill="#fa5078"/>
<path d="M200.0,303.8C204.2,301.0 220.6,299.4 225.0,303.8C229.4,308.1 227.9,325.4 226.2,330.0C224.6,334.6 218.1,332.7 215.0,331.2C211.9,329.8 210.0,323.1 207.5,321.2C205.0,319.4 201.2,322.9 200.0,320.0C198.8,317.1 195.8,306.5 200.0,303.8Z" fill="#fa5078"/>
<path d="M227.5,315.0C229.8,312.7 237.9,312.5 240.0,317.5C242.1,322.5 241.7,340.4 240.0,345.0C238.3,349.6 232.3,347.3 230.0,345.0C227.7,342.7 226.7,336.2 226.2,331.2C225.8,326.2 225.2,317.3 227.5,315.0Z" fill="#fa5078"/>
<path d="M128.8,350.0C130.8,346.2 139.2,347.5 145.0,347.5C150.8,347.5 161.0,347.9 163.8,350.0C166.5,352.1 162.3,356.7 161.2,360.0C160.2,363.3 160.2,367.1 157.5,370.0C154.8,372.9 149.2,377.5 145.0,377.5C140.8,377.5 135.2,374.6 132.5,370.0C129.8,365.4 126.7,353.8 128.8,350.0Z" fill="#ffa46e"/>
<path d="M146.2,323.8C148.5,320.4 156.9,320.4 161.2,320.0C165.6,319.6 168.5,319.4 172.5,321.2C176.5,323.1 182.5,327.7 185.0,331.2C187.5,334.8 188.3,340.0 187.5,342.5C186.7,345.0 182.5,347.1 180.0,346.2C177.5,345.4 176.2,339.0 172.5,337.5C168.8,336.0 161.7,337.1 157.5,337.5C153.3,337.9 149.4,342.3 147.5,340.0C145.6,337.7 144.0,327.1 146.2,323.8Z" fill="#ffa46e"/>
<path d="M230.0,297.5C232.7,294.2 242.3,293.1 245.0,295.0C247.7,296.9 247.1,304.8 246.2,308.8C245.4,312.7 242.3,315.0 240.0,318.8C237.7,322.5 234.4,331.9 232.5,331.2C230.6,330.6 229.2,320.6 228.8,315.0C228.3,309.4 227.3,300.8 230.0,297.5Z" fill="#ffa46e"/>
<path d="M156.2,376.2C157.7,374.2 164.0,374.0 166.2,377.5C168.5,381.0 167.7,393.5 170.0,397.5C172.3,401.5 176.7,401.7 180.0,401.2C183.3,400.8 185.4,395.4 190.0,395.0C194.6,394.6 204.2,395.4 207.5,398.8C210.8,402.1 211.2,411.9 210.0,415.0C208.8,418.1 203.8,418.8 200.0,417.5C196.2,416.2 191.7,409.6 187.5,407.5C183.3,405.4 179.4,406.2 175.0,405.0C170.6,403.8 164.2,402.5 161.2,400.0C158.3,397.5 158.3,394.0 157.5,390.0C156.7,386.0 154.8,378.3 156.2,376.2Z" fill="#ffa46e"/>
<path d="M237.5,408.8C240.4,406.7 254.0,407.7 257.5,410.0C261.0,412.3 261.7,420.4 258.8,422.5C255.8,424.6 243.5,424.8 240.0,422.5C236.5,420.2 234.6,410.8 237.5,408.8Z" fill="#ffa46e"/>
<path d="M286.2,342.5C287.1,327.9 291.7,323.8 292.5,327.5C293.3,331.2 291.2,352.5 291.2,365.0C291.2,377.5 293.1,394.2 292.5,402.5C291.9,410.8 288.5,425.0 287.5,415.0C286.5,405.0 285.4,357.1 286.2,342.5Z" fill="#ffa46e"/>
<path d="M263.8,425.0C265.8,422.1 273.5,420.0 276.2,422.5C279.0,425.0 282.1,437.1 280.0,440.0C277.9,442.9 266.5,442.5 263.8,440.0C261.0,437.5 261.7,427.9 263.8,425.0Z" fill="#ffa46e"/>
<path d="M128.8,365.0C131.0,365.0 140.2,376.5 145.0,377.5C149.8,378.5 155.4,370.4 157.5,371.2C159.6,372.1 159.2,379.4 157.5,382.5C155.8,385.6 151.0,389.0 147.5,390.0C144.0,391.0 139.0,390.8 136.2,388.8C133.5,386.7 132.5,381.5 131.2,377.5C130.0,373.5 126.5,365.0 128.8,365.0Z" fill="#ff8020"/>
<path d="M136.2,400.0C144.4,397.1 176.0,397.5 185.0,398.8C194.0,400.0 191.2,405.6 190.0,407.5C188.8,409.4 182.3,408.8 177.5,410.0C172.7,411.2 168.1,414.0 161.2,415.0C154.4,416.0 140.4,418.8 136.2,416.2C132.1,413.8 128.1,402.9 136.2,400.0Z" fill="#ff8020"/>
<path d="M138.8,402.5C140.4,400.2 147.1,400.2 148.8,402.5C150.4,404.8 150.4,414.0 148.8,416.2C147.1,418.5 140.4,418.5 138.8,416.2C137.1,414.0 137.1,404.8 138.8,402.5Z" fill="#ebd70a"/>
<path d="M195.0,415.0C197.5,410.8 202.5,413.8 210.0,415.0C217.5,416.2 234.2,420.4 240.0,422.5C245.8,424.6 244.2,424.6 245.0,427.5C245.8,430.4 253.3,437.9 245.0,440.0C236.7,442.1 203.3,444.2 195.0,440.0C186.7,435.8 192.5,419.2 195.0,415.0Z" fill="#ff8020"/>
<path d="M210.0,417.5C212.9,416.9 223.3,419.6 227.5,421.2C231.7,422.9 233.8,424.4 235.0,427.5C236.2,430.6 236.7,439.6 235.0,440.0C233.3,440.4 229.2,432.5 225.0,430.0C220.8,427.5 212.5,427.1 210.0,425.0C207.5,422.9 207.1,418.1 210.0,417.5Z" fill="#f2680c"/>
<path d="M206.2,423.8C207.7,421.5 211.5,425.0 215.0,426.2C218.5,427.5 225.4,429.0 227.5,431.2C229.6,433.5 231.0,438.5 227.5,440.0C224.0,441.5 209.8,442.7 206.2,440.0C202.7,437.3 204.8,426.0 206.2,423.8Z" fill="#ebd70a"/>
<path d="M207.5,437.5C210.0,437.5 221.2,440.4 225.0,442.5C228.8,444.6 230.8,448.3 230.0,450.0C229.2,451.7 222.1,450.0 220.0,452.5C217.9,455.0 219.2,461.5 217.5,465.0C215.8,468.5 213.3,472.9 210.0,473.8C206.7,474.6 199.0,472.1 197.5,470.0C196.0,467.9 198.8,464.6 201.2,461.2C203.8,457.9 211.0,453.1 212.5,450.0C214.0,446.9 210.8,444.6 210.0,442.5C209.2,440.4 205.0,437.5 207.5,437.5Z" fill="#fff033"/>
<path d="M236.2,431.2C234.9,434.0 230.7,442.1 228.1,447.5C225.5,452.9 223.1,459.5 220.6,463.8C218.1,468.0 214.4,471.2 213.1,472.8" fill="none" stroke="#ff8020" stroke-width="5.5" stroke-linecap="round" stroke-linejoin="round"/>
<path d="M235.0,427.5C238.8,423.3 255.8,423.8 260.0,427.5C264.2,431.2 263.8,445.8 260.0,450.0C256.2,454.2 241.7,456.2 237.5,452.5C233.3,448.8 231.2,431.7 235.0,427.5Z" fill="#ffa46e"/>
<path d="M245.0,435.0C246.5,432.9 253.5,432.1 255.0,433.8C256.5,435.4 255.2,442.9 253.8,445.0C252.3,447.1 247.7,447.9 246.2,446.2C244.8,444.6 243.5,437.1 245.0,435.0Z" fill="#fa5078"/>
<path d="M247.5,432.5C251.7,429.2 268.3,426.2 272.5,427.5C276.7,428.8 275.4,436.7 272.5,440.0C269.6,443.3 259.2,446.2 255.0,447.5C250.8,448.8 248.8,450.0 247.5,447.5C246.2,445.0 243.3,435.8 247.5,432.5Z" fill="#f5205a"/>
<path d="M231.2,295.0C235.0,292.5 247.3,292.9 250.0,295.0C252.7,297.1 250.0,302.5 247.5,307.5C245.0,312.5 238.3,321.2 235.0,325.0C231.7,328.8 228.8,332.5 227.5,330.0C226.2,327.5 226.9,315.8 227.5,310.0C228.1,304.2 227.5,297.5 231.2,295.0Z" fill="#ffa46e"/>
<path d="M233.8,297.5C235.6,295.4 243.5,295.8 245.0,297.5C246.5,299.2 244.4,305.4 242.5,307.5C240.6,309.6 235.2,311.7 233.8,310.0C232.3,308.3 231.9,299.6 233.8,297.5Z" fill="#ff8020"/>
<path d="M172.5,350.0C175.2,347.3 186.9,348.3 190.0,351.2C193.1,354.2 194.0,364.8 191.2,367.5C188.5,370.2 176.9,370.4 173.8,367.5C170.6,364.6 169.8,352.7 172.5,350.0Z" fill="#f5205a"/>
<path d="M185.0,311.2C187.1,310.3 195.4,310.3 197.5,311.2C199.6,312.2 199.6,315.9 197.5,316.9C195.4,317.8 187.1,317.8 185.0,316.9C182.9,315.9 182.9,312.2 185.0,311.2Z" fill="#c80000"/>
<path d="M200.0,332.5C203.3,329.8 209.2,330.0 212.5,331.2C215.8,332.5 219.0,335.6 220.0,340.0C221.0,344.4 217.9,352.5 218.8,357.5C219.6,362.5 221.5,367.1 225.0,370.0C228.5,372.9 235.8,372.5 240.0,375.0C244.2,377.5 247.7,382.5 250.0,385.0C252.3,387.5 253.8,387.5 253.8,390.0C253.8,392.5 252.3,398.1 250.0,400.0C247.7,401.9 242.1,402.9 240.0,401.2C237.9,399.6 240.4,392.7 237.5,390.0C234.6,387.3 227.5,386.0 222.5,385.0C217.5,384.0 212.1,384.6 207.5,383.8C202.9,382.9 197.7,382.3 195.0,380.0C192.3,377.7 190.4,373.3 191.2,370.0C192.1,366.7 199.8,363.8 200.0,360.0C200.2,356.2 192.5,352.1 192.5,347.5C192.5,342.9 196.7,335.2 200.0,332.5Z" fill="#c80000"/>
<path d="M235.0,362.5C236.7,360.4 243.3,360.4 245.0,362.5C246.7,364.6 246.7,372.9 245.0,375.0C243.3,377.1 236.7,377.1 235.0,375.0C233.3,372.9 233.3,364.6 235.0,362.5Z" fill="#c80000"/>
<path d="M265.0,297.5C268.3,295.0 279.2,292.1 282.5,295.0C285.8,297.9 286.0,309.0 285.0,315.0C284.0,321.0 278.8,325.8 276.2,331.2C273.8,336.7 269.4,342.7 270.0,347.5C270.6,352.3 277.5,355.0 280.0,360.0C282.5,365.0 284.0,370.4 285.0,377.5C286.0,384.6 287.5,396.7 286.2,402.5C285.0,408.3 280.6,411.7 277.5,412.5C274.4,413.3 270.0,410.8 267.5,407.5C265.0,404.2 265.0,397.5 262.5,392.5C260.0,387.5 254.2,382.1 252.5,377.5C250.8,372.9 252.9,369.2 252.5,365.0C252.1,360.8 250.4,357.5 250.0,352.5C249.6,347.5 248.3,339.2 250.0,335.0C251.7,330.8 257.9,331.7 260.0,327.5C262.1,323.3 261.7,315.0 262.5,310.0C263.3,305.0 261.7,300.0 265.0,297.5Z" fill="#c80000"/>
<path d="M205.0,340.0C206.7,337.9 213.3,337.9 215.0,340.0C216.7,342.1 216.7,350.4 215.0,352.5C213.3,354.6 206.7,354.6 205.0,352.5C203.3,350.4 203.3,342.1 205.0,340.0Z" fill="#8c0000"/>
<path d="M211.2,360.0C212.5,357.9 218.3,358.8 220.0,361.2C221.7,363.8 222.5,372.9 221.2,375.0C220.0,377.1 214.2,376.2 212.5,373.8C210.8,371.2 210.0,362.1 211.2,360.0Z" fill="#8c0000"/>
<path d="M250.0,352.5C250.8,350.8 254.0,349.2 255.0,350.0C256.0,350.8 257.1,355.8 256.2,357.5C255.4,359.2 251.0,360.8 250.0,360.0C249.0,359.2 249.2,354.2 250.0,352.5Z" fill="#f5205a"/>
<path d="M248.8,277.5C250.6,274.3 255.0,276.2 261.2,273.1C267.5,270.0 280.6,262.2 286.2,258.8C291.9,255.3 291.9,253.1 295.0,252.5C298.1,251.9 302.9,251.9 305.0,255.0C307.1,258.1 305.8,266.7 307.5,271.2C309.2,275.8 317.1,279.0 315.0,282.5C312.9,286.0 300.0,289.6 295.0,292.5C290.0,295.4 290.0,298.8 285.0,300.0C280.0,301.2 270.8,301.2 265.0,300.0C259.2,298.8 252.7,296.2 250.0,292.5C247.3,288.8 246.9,280.7 248.8,277.5Z" fill="#f5205a"/>
<path d="M272.5,277.5C276.7,275.6 293.3,275.6 297.5,277.5C301.7,279.4 301.7,286.9 297.5,288.8C293.3,290.6 276.7,290.6 272.5,288.8C268.3,286.9 268.3,279.4 272.5,277.5Z" fill="#fa5078"/>
<path d="M295.0,277.5C299.2,275.4 315.8,274.4 320.0,276.2C324.2,278.1 324.2,286.7 320.0,288.8C315.8,290.8 299.2,290.6 295.0,288.8C290.8,286.9 290.8,279.6 295.0,277.5Z" fill="#fa5078"/>
<path d="M267.5,271.2C269.6,270.2 277.9,270.2 280.0,271.2C282.1,272.3 282.1,276.5 280.0,277.5C277.9,278.5 269.6,278.5 267.5,277.5C265.4,276.5 265.4,272.3 267.5,271.2Z" fill="#c80000"/>
<path d="M263.8,297.5C267.7,294.2 281.5,294.2 285.0,297.5C288.5,300.8 284.2,310.0 285.0,317.5C285.8,325.0 289.6,332.1 290.0,342.5C290.4,352.9 294.2,373.8 287.5,380.0C280.8,386.2 256.2,386.2 250.0,380.0C243.8,373.8 248.1,352.9 250.0,342.5C251.9,332.1 259.0,325.0 261.2,317.5C263.5,310.0 259.8,300.8 263.8,297.5Z" fill="#c80000"/>
<path d="M315.0,251.2C316.7,248.8 324.4,249.8 326.2,252.5C328.1,255.2 327.9,265.0 326.2,267.5C324.6,270.0 318.1,270.2 316.2,267.5C314.4,264.8 313.3,253.8 315.0,251.2Z" fill="#ffa46e"/>
<path d="M323.8,255.0C327.3,250.4 341.5,250.4 345.0,255.0C348.5,259.6 348.5,277.9 345.0,282.5C341.5,287.1 327.3,287.1 323.8,282.5C320.2,277.9 320.2,259.6 323.8,255.0Z" fill="#ffa46e"/>
<path d="M295.0,288.8C297.7,286.9 310.6,286.9 313.8,288.8C316.9,290.6 316.5,298.1 313.8,300.0C311.0,301.9 300.6,301.9 297.5,300.0C294.4,298.1 292.3,290.6 295.0,288.8Z" fill="#ffa46e"/>
<path d="M330.0,261.2C331.7,259.8 338.3,259.8 340.0,261.2C341.7,262.7 341.7,268.5 340.0,270.0C338.3,271.5 331.7,271.5 330.0,270.0C328.3,268.5 328.3,262.7 330.0,261.2Z" fill="#fa5078"/>
<path d="M357.5,255.0C363.8,250.2 388.8,240.4 395.0,242.5C401.2,244.6 401.2,262.7 395.0,267.5C388.8,272.3 363.8,273.3 357.5,271.2C351.2,269.2 351.2,259.8 357.5,255.0Z" fill="#ffa46e"/>
<path d="M360.0,248.8C361.7,246.5 368.3,246.5 370.0,248.8C371.7,251.0 371.7,260.2 370.0,262.5C368.3,264.8 361.7,264.8 360.0,262.5C358.3,260.2 358.3,251.0 360.0,248.8Z" fill="#f2680c"/>
<path d="M367.5,261.2C370.0,260.0 380.0,260.0 382.5,261.2C385.0,262.5 385.0,267.5 382.5,268.8C380.0,270.0 370.0,270.0 367.5,268.8C365.0,267.5 365.0,262.5 367.5,261.2Z" fill="#f2680c"/>
<path d="M351.2,231.2C352.9,230.0 359.6,230.0 361.2,231.2C362.9,232.5 362.9,237.5 361.2,238.8C359.6,240.0 352.9,240.0 351.2,238.8C349.6,237.5 349.6,232.5 351.2,231.2Z" fill="#ebd70a"/>
<path d="M345.0,272.5C353.3,270.4 387.1,269.6 395.0,271.2C402.9,272.9 400.8,280.4 392.5,282.5C384.2,284.6 352.9,285.4 345.0,283.8C337.1,282.1 336.7,274.6 345.0,272.5Z" fill="#ebd70a"/>
<path d="M350.0,275.0C357.1,273.5 386.2,272.7 392.5,273.8C398.8,274.8 394.6,279.8 387.5,281.2C380.4,282.7 356.2,283.5 350.0,282.5C343.8,281.5 342.9,276.5 350.0,275.0Z" fill="#fff033"/>
<path d="M327.5,215.0C330.0,212.7 337.7,212.7 342.5,212.5C347.3,212.3 354.4,211.7 356.2,213.8C358.1,215.8 355.0,221.9 353.8,225.0C352.5,228.1 351.7,232.1 348.8,232.5C345.8,232.9 339.8,228.5 336.2,227.5C332.7,226.5 329.0,228.3 327.5,226.2C326.0,224.2 325.0,217.3 327.5,215.0Z" fill="#fa5078"/>
<path d="M327.5,216.2C329.0,214.8 334.8,214.8 336.2,216.2C337.7,217.7 337.7,223.5 336.2,225.0C334.8,226.5 329.0,226.5 327.5,225.0C326.0,223.5 326.0,217.7 327.5,216.2Z" fill="#f5205a"/>
<path d="M358.8,217.5C367.9,215.4 401.9,212.1 410.0,215.0C418.1,217.9 410.0,230.8 407.5,235.0C405.0,239.2 398.8,241.2 395.0,240.0C391.2,238.8 389.6,228.8 385.0,227.5C380.4,226.2 372.5,232.5 367.5,232.5C362.5,232.5 356.5,230.0 355.0,227.5C353.5,225.0 349.6,219.6 358.8,217.5Z" fill="#ebd70a"/>
<path d="M361.2,220.0C369.6,218.5 400.2,215.4 407.5,217.5C414.8,219.6 407.1,229.2 405.0,232.5C402.9,235.8 398.3,238.8 395.0,237.5C391.7,236.2 389.6,226.2 385.0,225.0C380.4,223.8 372.1,229.8 367.5,230.0C362.9,230.2 358.5,227.9 357.5,226.2C356.5,224.6 352.9,221.5 361.2,220.0Z" fill="#fff033"/>
<path d="M357.5,220.0C358.3,217.3 361.2,215.2 365.0,212.5C368.8,209.8 374.6,205.6 380.0,203.8C385.4,201.9 394.2,205.0 397.5,201.2C400.8,197.5 398.5,185.4 400.0,181.2C401.5,177.1 403.8,174.8 406.2,176.2C408.8,177.7 412.1,189.1 415.0,190.0C417.9,190.9 420.4,182.5 423.8,181.9C427.1,181.2 432.3,184.1 435.0,186.2C437.7,188.4 440.4,191.9 440.0,195.0C439.6,198.1 435.4,202.5 432.5,205.0C429.6,207.5 426.7,207.5 422.5,210.0C418.3,212.5 411.2,216.7 407.5,220.0C403.8,223.3 402.1,226.7 400.0,230.0C397.9,233.3 397.5,241.7 395.0,240.0C392.5,238.3 387.9,222.1 385.0,220.0C382.1,217.9 380.0,225.8 377.5,227.5C375.0,229.2 372.9,229.8 370.0,230.0C367.1,230.2 362.1,230.4 360.0,228.8C357.9,227.1 356.7,222.7 357.5,220.0Z" fill="#ebd70a"/>
<path d="M358.8,221.2C359.6,219.0 362.7,216.5 366.2,213.8C369.8,211.0 374.8,206.9 380.0,205.0C385.2,203.1 394.0,206.2 397.5,202.5C401.0,198.8 399.8,186.7 401.2,182.5C402.7,178.3 404.2,176.2 406.2,177.5C408.3,178.8 410.8,189.1 413.8,190.0C416.7,190.9 420.4,183.6 423.8,183.1C427.1,182.6 431.5,184.9 433.8,186.9C436.0,188.9 437.9,192.2 437.5,195.0C437.1,197.8 434.0,201.5 431.2,203.8C428.5,206.0 425.4,206.2 421.2,208.8C417.1,211.2 410.6,215.6 406.2,218.8C401.9,221.9 398.5,227.7 395.0,227.5C391.5,227.3 388.1,217.9 385.0,217.5C381.9,217.1 378.8,223.3 376.2,225.0C373.8,226.7 372.5,227.1 370.0,227.5C367.5,227.9 363.1,228.5 361.2,227.5C359.4,226.5 357.9,223.5 358.8,221.2Z" fill="#fff033"/>
<path d="M367.5,215.0C369.6,212.1 375.0,208.1 380.0,206.2C385.0,204.4 394.0,207.5 397.5,203.8C401.0,200.0 399.8,187.9 401.2,183.8C402.7,179.6 404.3,177.5 406.2,178.8C408.2,180.0 410.2,190.3 413.1,191.2C416.0,192.2 420.5,184.9 423.8,184.4C427.0,183.9 431.0,186.1 432.5,188.1C434.0,190.1 434.6,193.0 432.5,196.2C430.4,199.5 424.2,204.4 420.0,207.5C415.8,210.6 412.1,213.8 407.5,215.0C402.9,216.2 397.1,215.0 392.5,215.0C387.9,215.0 383.1,213.3 380.0,215.0C376.9,216.7 375.8,223.5 373.8,225.0C371.7,226.5 368.5,225.4 367.5,223.8C366.5,222.1 365.4,217.9 367.5,215.0Z" fill="#5be61c"/>
<path d="M390.0,206.2C390.8,204.4 397.9,206.0 400.0,202.5C402.1,199.0 401.5,188.8 402.5,185.0C403.5,181.2 404.6,178.8 406.2,180.0C407.9,181.2 409.6,191.6 412.5,192.5C415.4,193.4 420.6,186.1 423.8,185.6C426.9,185.1 430.2,187.6 431.2,189.4C432.3,191.1 431.9,193.6 430.0,196.2C428.1,198.9 423.8,202.3 420.0,205.0C416.2,207.7 411.7,211.0 407.5,212.5C403.3,214.0 397.9,214.8 395.0,213.8C392.1,212.7 389.2,208.1 390.0,206.2Z" fill="#1fce0f"/>
<path d="M402.5,195.0C403.3,192.3 407.1,190.8 410.0,190.0C412.9,189.2 417.3,190.4 420.0,190.0C422.7,189.6 424.6,186.7 426.2,187.5C427.9,188.3 431.0,192.5 430.0,195.0C429.0,197.5 422.9,200.0 420.0,202.5C417.1,205.0 415.0,209.4 412.5,210.0C410.0,210.6 406.7,208.8 405.0,206.2C403.3,203.8 401.7,197.7 402.5,195.0Z" fill="#1a8f22"/>
<path d="M406.2,195.0C407.3,194.0 411.5,194.0 412.5,195.0C413.5,196.0 413.5,200.2 412.5,201.2C411.5,202.3 407.3,202.3 406.2,201.2C405.2,200.2 405.2,196.0 406.2,195.0Z" fill="#003c86"/>
<path d="M390.0,206.2C391.0,205.4 395.2,205.4 396.2,206.2C397.3,207.1 397.3,210.4 396.2,211.2C395.2,212.1 391.0,212.1 390.0,211.2C389.0,210.4 389.0,207.1 390.0,206.2Z" fill="#1a8f22"/>
<path d="M351.2,232.5C352.9,231.2 359.6,231.2 361.2,232.5C362.9,233.8 362.9,238.8 361.2,240.0C359.6,241.2 352.9,241.2 351.2,240.0C349.6,238.8 349.6,233.8 351.2,232.5Z" fill="#ebd70a"/>
<path d="M397.5,232.5C399.6,230.6 407.9,230.6 410.0,232.5C412.1,234.4 412.1,241.9 410.0,243.8C407.9,245.6 399.6,245.6 397.5,243.8C395.4,241.9 395.4,234.4 397.5,232.5Z" fill="#ebd70a"/>
<path d="M432.5,202.5C434.6,200.4 442.9,200.4 445.0,202.5C447.1,204.6 447.1,212.9 445.0,215.0C442.9,217.1 434.6,217.1 432.5,215.0C430.4,212.9 430.4,204.6 432.5,202.5Z" fill="#ffa46e"/>
<path d="M435.0,167.5C436.7,165.0 443.3,164.0 445.0,166.2C446.7,168.5 446.7,178.8 445.0,181.2C443.3,183.8 436.7,183.5 435.0,181.2C433.3,179.0 433.3,170.0 435.0,167.5Z" fill="#ffa46e"/>
<path d="M440.0,168.8C443.1,166.2 453.8,165.4 457.5,167.5C461.2,169.6 463.3,176.7 462.5,181.2C461.7,185.8 455.8,192.5 452.5,195.0C449.2,197.5 444.8,198.3 442.5,196.2C440.2,194.2 439.2,187.1 438.8,182.5C438.3,177.9 436.9,171.2 440.0,168.8Z" fill="#fa5078"/>
<path d="M443.8,172.5C445.4,170.8 452.1,170.8 453.8,172.5C455.4,174.2 455.4,180.8 453.8,182.5C452.1,184.2 445.4,184.2 443.8,182.5C442.1,180.8 442.1,174.2 443.8,172.5Z" fill="#f5205a"/>
<path d="M482.5,181.2C482.5,178.5 490.8,171.2 495.0,167.5C499.2,163.8 505.0,159.4 507.5,158.8C510.0,158.1 512.1,159.6 510.0,163.8C507.9,167.9 499.6,180.8 495.0,183.8C490.4,186.7 482.5,184.0 482.5,181.2Z" fill="#ebd70a"/>
<path d="M485.0,180.0C485.4,177.7 494.0,170.6 497.5,167.5C501.0,164.4 506.7,159.0 506.2,161.2C505.8,163.5 498.5,178.1 495.0,181.2C491.5,184.4 484.6,182.3 485.0,180.0Z" fill="#fff033"/>
<path d="M297.5,430.0C297.6,429.2 298.1,427.1 298.1,425.0C298.1,422.9 298.0,420.0 297.5,417.5C297.0,415.0 295.8,412.5 295.0,410.0C294.2,407.5 293.1,405.2 292.5,402.5C291.9,399.8 291.2,396.5 291.2,393.8C291.2,391.0 291.9,389.0 292.5,386.2C293.1,383.5 295.0,380.2 295.0,377.5C295.0,374.8 293.3,372.7 292.5,370.0C291.7,367.3 290.7,364.2 290.0,361.2C289.3,358.3 288.4,355.2 288.1,352.5C287.8,349.8 287.8,347.5 288.1,345.0C288.4,342.5 289.3,339.8 290.0,337.5C290.7,335.2 291.5,333.5 292.5,331.2C293.5,329.0 295.0,326.0 296.2,323.8C297.5,321.5 299.4,318.5 300.0,317.5" fill="none" stroke="#ffa46e" stroke-width="18" stroke-linecap="round" stroke-linejoin="round"/>
<path d="M297.5,430.0C297.6,429.2 298.1,427.1 298.1,425.0C298.1,422.9 298.0,420.0 297.5,417.5C297.0,415.0 295.8,412.5 295.0,410.0C294.2,407.5 293.1,405.2 292.5,402.5C291.9,399.8 291.2,396.5 291.2,393.8C291.2,391.0 291.9,389.0 292.5,386.2C293.1,383.5 295.0,380.2 295.0,377.5C295.0,374.8 293.3,372.7 292.5,370.0C291.7,367.3 290.7,364.2 290.0,361.2C289.3,358.3 288.4,355.2 288.1,352.5C287.8,349.8 287.8,347.5 288.1,345.0C288.4,342.5 289.3,339.8 290.0,337.5C290.7,335.2 291.5,333.5 292.5,331.2C293.5,329.0 295.0,326.0 296.2,323.8C297.5,321.5 299.4,318.5 300.0,317.5" fill="none" stroke="#ff8020" stroke-width="12" stroke-linecap="round" stroke-linejoin="round"/>
<path d="M297.5,430.0C297.6,429.2 298.1,427.1 298.1,425.0C298.1,422.9 298.0,420.0 297.5,417.5C297.0,415.0 295.8,412.5 295.0,410.0C294.2,407.5 293.1,405.2 292.5,402.5C291.9,399.8 291.2,396.5 291.2,393.8C291.2,391.0 291.9,389.0 292.5,386.2C293.1,383.5 295.0,380.2 295.0,377.5C295.0,374.8 293.3,372.7 292.5,370.0C291.7,367.3 290.7,364.2 290.0,361.2C289.3,358.3 288.4,355.2 288.1,352.5C287.8,349.8 287.8,347.5 288.1,345.0C288.4,342.5 289.3,339.8 290.0,337.5C290.7,335.2 291.5,333.5 292.5,331.2C293.5,329.0 295.0,326.0 296.2,323.8C297.5,321.5 299.4,318.5 300.0,317.5" fill="none" stroke="#ebd70a" stroke-width="9" stroke-linecap="round" stroke-linejoin="round"/>
<path d="M297.5,430.0C297.6,429.2 298.1,427.1 298.1,425.0C298.1,422.9 298.0,420.0 297.5,417.5C297.0,415.0 295.8,412.5 295.0,410.0C294.2,407.5 293.1,405.2 292.5,402.5C291.9,399.8 291.2,396.5 291.2,393.8C291.2,391.0 291.9,389.0 292.5,386.2C293.1,383.5 295.0,380.2 295.0,377.5C295.0,374.8 293.3,372.7 292.5,370.0C291.7,367.3 290.7,364.2 290.0,361.2C289.3,358.3 288.4,355.2 288.1,352.5C287.8,349.8 287.8,347.5 288.1,345.0C288.4,342.5 289.3,339.8 290.0,337.5C290.7,335.2 291.5,333.5 292.5,331.2C293.5,329.0 295.0,326.0 296.2,323.8C297.5,321.5 299.4,318.5 300.0,317.5" fill="none" stroke="#fff033" stroke-width="7" stroke-linecap="round" stroke-linejoin="round"/>
<path d="M297.5,430.0C297.6,429.2 298.1,427.1 298.1,425.0C298.1,422.9 298.0,420.0 297.5,417.5C297.0,415.0 295.8,412.5 295.0,410.0C294.2,407.5 293.1,405.2 292.5,402.5C291.9,399.8 291.2,396.5 291.2,393.8C291.2,391.0 291.9,389.0 292.5,386.2C293.1,383.5 295.0,380.2 295.0,377.5C295.0,374.8 293.3,372.7 292.5,370.0C291.7,367.3 290.7,364.2 290.0,361.2C289.3,358.3 288.4,355.2 288.1,352.5C287.8,349.8 287.8,347.5 288.1,345.0C288.4,342.5 289.3,339.8 290.0,337.5C290.7,335.2 291.5,333.5 292.5,331.2C293.5,329.0 295.0,326.0 296.2,323.8C297.5,321.5 299.4,318.5 300.0,317.5" fill="none" stroke="#5be61c" stroke-width="4" stroke-linecap="round" stroke-linejoin="round"/>
<path d="M297.5,430.0C297.6,429.2 298.1,427.1 298.1,425.0C298.1,422.9 298.0,420.0 297.5,417.5C297.0,415.0 295.8,412.5 295.0,410.0C294.2,407.5 293.1,405.2 292.5,402.5C291.9,399.8 291.2,396.5 291.2,393.8C291.2,391.0 291.9,389.0 292.5,386.2C293.1,383.5 295.0,380.2 295.0,377.5C295.0,374.8 293.3,372.7 292.5,370.0C291.7,367.3 290.7,364.2 290.0,361.2C289.3,358.3 288.4,355.2 288.1,352.5C287.8,349.8 287.8,347.5 288.1,345.0C288.4,342.5 289.3,339.8 290.0,337.5C290.7,335.2 291.5,333.5 292.5,331.2C293.5,329.0 295.0,326.0 296.2,323.8C297.5,321.5 299.4,318.5 300.0,317.5" fill="none" stroke="#1fce0f" stroke-width="2" stroke-linecap="round" stroke-linejoin="round"/>
<path d="M300.0,317.5C300.8,316.9 303.1,314.8 305.0,313.8C306.9,312.7 309.0,311.9 311.2,311.2C313.5,310.6 316.7,309.8 318.8,310.0C320.8,310.2 322.6,311.2 323.8,312.5C324.9,313.8 324.6,316.7 325.6,317.5C326.6,318.3 328.4,318.1 330.0,317.5C331.6,316.9 333.5,315.4 335.0,313.8C336.5,312.1 337.7,309.6 338.8,307.5C339.8,305.4 340.2,303.5 341.2,301.2C342.3,299.0 343.3,296.0 345.0,293.8C346.7,291.5 350.2,288.5 351.2,287.5" fill="none" stroke="#f2680c" stroke-width="22" stroke-linecap="round" stroke-linejoin="round"/>
<path d="M300.0,317.5C300.8,316.9 303.1,314.8 305.0,313.8C306.9,312.7 309.0,311.9 311.2,311.2C313.5,310.6 316.7,309.8 318.8,310.0C320.8,310.2 322.6,311.2 323.8,312.5C324.9,313.8 324.6,316.7 325.6,317.5C326.6,318.3 328.4,318.1 330.0,317.5C331.6,316.9 333.5,315.4 335.0,313.8C336.5,312.1 337.7,309.6 338.8,307.5C339.8,305.4 340.2,303.5 341.2,301.2C342.3,299.0 343.3,296.0 345.0,293.8C346.7,291.5 350.2,288.5 351.2,287.5" fill="none" stroke="#ebd70a" stroke-width="17" stroke-linecap="round" stroke-linejoin="round"/>
<path d="M300.0,317.5C300.8,316.9 303.1,314.8 305.0,313.8C306.9,312.7 309.0,311.9 311.2,311.2C313.5,310.6 316.7,309.8 318.8,310.0C320.8,310.2 322.6,311.2 323.8,312.5C324.9,313.8 324.6,316.7 325.6,317.5C326.6,318.3 328.4,318.1 330.0,317.5C331.6,316.9 333.5,315.4 335.0,313.8C336.5,312.1 337.7,309.6 338.8,307.5C339.8,305.4 340.2,303.5 341.2,301.2C342.3,299.0 343.3,296.0 345.0,293.8C346.7,291.5 350.2,288.5 351.2,287.5" fill="none" stroke="#fff033" stroke-width="13" stroke-linecap="round" stroke-linejoin="round"/>
<path d="M300.0,317.5C300.8,316.9 303.1,314.8 305.0,313.8C306.9,312.7 309.0,311.9 311.2,311.2C313.5,310.6 316.7,309.8 318.8,310.0C320.8,310.2 322.6,311.2 323.8,312.5C324.9,313.8 324.6,316.7 325.6,317.5C326.6,318.3 328.4,318.1 330.0,317.5C331.6,316.9 333.5,315.4 335.0,313.8C336.5,312.1 337.7,309.6 338.8,307.5C339.8,305.4 340.2,303.5 341.2,301.2C342.3,299.0 343.3,296.0 345.0,293.8C346.7,291.5 350.2,288.5 351.2,287.5" fill="none" stroke="#5be61c" stroke-width="8" stroke-linecap="round" stroke-linejoin="round"/>
<path d="M300.0,317.5C300.8,316.9 303.1,314.8 305.0,313.8C306.9,312.7 309.0,311.9 311.2,311.2C313.5,310.6 316.7,309.8 318.8,310.0C320.8,310.2 322.6,311.2 323.8,312.5C324.9,313.8 324.6,316.7 325.6,317.5C326.6,318.3 328.4,318.1 330.0,317.5C331.6,316.9 333.5,315.4 335.0,313.8C336.5,312.1 337.7,309.6 338.8,307.5C339.8,305.4 340.2,303.5 341.2,301.2C342.3,299.0 343.3,296.0 345.0,293.8C346.7,291.5 350.2,288.5 351.2,287.5" fill="none" stroke="#1fce0f" stroke-width="5" stroke-linecap="round" stroke-linejoin="round"/>
<path d="M300.0,317.5C300.8,316.9 303.1,314.8 305.0,313.8C306.9,312.7 309.0,311.9 311.2,311.2C313.5,310.6 316.7,309.8 318.8,310.0C320.8,310.2 322.6,311.2 323.8,312.5C324.9,313.8 324.6,316.7 325.6,317.5C326.6,318.3 328.4,318.1 330.0,317.5C331.6,316.9 333.5,315.4 335.0,313.8C336.5,312.1 337.7,309.6 338.8,307.5C339.8,305.4 340.2,303.5 341.2,301.2C342.3,299.0 343.3,296.0 345.0,293.8C346.7,291.5 350.2,288.5 351.2,287.5" fill="none" stroke="#1a8f22" stroke-width="2" stroke-linecap="round" stroke-linejoin="round"/>
<path d="M351.2,287.5C352.9,287.0 357.1,285.2 361.2,284.4C365.4,283.6 371.7,283.3 376.2,282.5C380.8,281.7 385.0,280.9 388.8,279.4C392.5,277.9 396.8,275.9 398.8,273.8C400.7,271.6 400.3,267.5 400.6,266.2" fill="none" stroke="#ebd70a" stroke-width="20" stroke-linecap="round" stroke-linejoin="round"/>
<path d="M351.2,287.5C352.9,287.0 357.1,285.2 361.2,284.4C365.4,283.6 371.7,283.3 376.2,282.5C380.8,281.7 385.0,280.9 388.8,279.4C392.5,277.9 396.8,275.9 398.8,273.8C400.7,271.6 400.3,267.5 400.6,266.2" fill="none" stroke="#fff033" stroke-width="14" stroke-linecap="round" stroke-linejoin="round"/>
<path d="M351.2,287.5C352.9,287.0 357.1,285.2 361.2,284.4C365.4,283.6 371.7,283.3 376.2,282.5C380.8,281.7 385.0,280.9 388.8,279.4C392.5,277.9 396.8,275.9 398.8,273.8C400.7,271.6 400.3,267.5 400.6,266.2" fill="none" stroke="#5be61c" stroke-width="8" stroke-linecap="round" stroke-linejoin="round"/>
<path d="M351.2,287.5C352.9,287.0 357.1,285.2 361.2,284.4C365.4,283.6 371.7,283.3 376.2,282.5C380.8,281.7 385.0,280.9 388.8,279.4C392.5,277.9 396.8,275.9 398.8,273.8C400.7,271.6 400.3,267.5 400.6,266.2" fill="none" stroke="#1fce0f" stroke-width="4" stroke-linecap="round" stroke-linejoin="round"/>
<path d="M400.6,266.2C400.1,264.5 397.6,258.4 397.5,256.0C397.4,253.6 398.5,253.4 400.0,252.0C401.5,250.6 404.2,249.1 406.2,247.5C408.3,245.9 410.2,244.2 412.5,242.5C414.8,240.8 417.1,239.2 420.0,237.5C422.9,235.8 426.7,234.4 430.0,232.5C433.3,230.6 437.5,228.1 440.0,226.2C442.5,224.4 442.9,223.3 445.0,221.2C447.1,219.2 449.8,216.5 452.5,213.8C455.2,211.0 458.5,207.5 461.2,205.0C464.0,202.5 465.8,200.8 468.8,198.8C471.7,196.7 475.4,194.6 478.8,192.5C482.1,190.4 485.6,188.8 488.8,186.2C491.9,183.8 494.8,180.4 497.5,177.5C500.2,174.6 502.5,171.9 505.0,168.8C507.5,165.6 510.4,162.1 512.5,158.8C514.6,155.4 516.9,150.9 517.5,148.8C518.1,146.6 516.5,146.1 516.2,145.6" fill="none" stroke="#ebd70a" stroke-width="10" stroke-linecap="round" stroke-linejoin="round"/>
<path d="M400.6,266.2C400.1,264.5 397.6,258.4 397.5,256.0C397.4,253.6 398.5,253.4 400.0,252.0C401.5,250.6 404.2,249.1 406.2,247.5C408.3,245.9 410.2,244.2 412.5,242.5C414.8,240.8 417.1,239.2 420.0,237.5C422.9,235.8 426.7,234.4 430.0,232.5C433.3,230.6 437.5,228.1 440.0,226.2C442.5,224.4 442.9,223.3 445.0,221.2C447.1,219.2 449.8,216.5 452.5,213.8C455.2,211.0 458.5,207.5 461.2,205.0C464.0,202.5 465.8,200.8 468.8,198.8C471.7,196.7 475.4,194.6 478.8,192.5C482.1,190.4 485.6,188.8 488.8,186.2C491.9,183.8 494.8,180.4 497.5,177.5C500.2,174.6 502.5,171.9 505.0,168.8C507.5,165.6 510.4,162.1 512.5,158.8C514.6,155.4 516.9,150.9 517.5,148.8C518.1,146.6 516.5,146.1 516.2,145.6" fill="none" stroke="#fff033" stroke-width="7" stroke-linecap="round" stroke-linejoin="round"/>
<path d="M400.6,266.2C400.1,264.5 397.6,258.4 397.5,256.0C397.4,253.6 398.5,253.4 400.0,252.0C401.5,250.6 404.2,249.1 406.2,247.5C408.3,245.9 410.2,244.2 412.5,242.5C414.8,240.8 417.1,239.2 420.0,237.5C422.9,235.8 426.7,234.4 430.0,232.5C433.3,230.6 437.5,228.1 440.0,226.2C442.5,224.4 442.9,223.3 445.0,221.2C447.1,219.2 449.8,216.5 452.5,213.8C455.2,211.0 458.5,207.5 461.2,205.0C464.0,202.5 465.8,200.8 468.8,198.8C471.7,196.7 475.4,194.6 478.8,192.5C482.1,190.4 485.6,188.8 488.8,186.2C491.9,183.8 494.8,180.4 497.5,177.5C500.2,174.6 502.5,171.9 505.0,168.8C507.5,165.6 510.4,162.1 512.5,158.8C514.6,155.4 516.9,150.9 517.5,148.8C518.1,146.6 516.5,146.1 516.2,145.6" fill="none" stroke="#5be61c" stroke-width="3" stroke-linecap="round" stroke-linejoin="round"/>
<path d="M287.5,416.2C289.2,414.2 295.8,414.2 297.5,416.2C299.2,418.3 299.2,426.7 297.5,428.8C295.8,430.8 289.2,430.8 287.5,428.8C285.8,426.7 285.8,418.3 287.5,416.2Z" fill="#1fce0f"/>
<path d="M287.5,416.2C288.3,414.8 291.7,414.8 292.5,416.2C293.3,417.7 293.3,423.5 292.5,425.0C291.7,426.5 288.3,426.5 287.5,425.0C286.7,423.5 286.7,417.7 287.5,416.2Z" fill="#5be61c"/>
</g>
<use href="#db"/><use href="#ol"/><use href="#ct"/>
<g class="c"><text x="431" y="167">Parvathipuram</text><text x="449.5" y="188">Srikakulam</text><text x="425.5" y="195.5">Vizianagaram</text><text x="404.5" y="211">Paderu</text><text x="419.5" y="217">Visakhapatnam</text><text x="407.5" y="228">Anakapalli</text><text x="362.5" y="247">Rajahmundry</text><text x="338.5" y="264.5">Eluru</text><text x="379" y="263">Kakinada</text><text x="292" y="270.5">Vijayawada</text><text x="275.5" y="276">Amaravati</text><text x="337" y="275">Bhimavaram</text><text x="296.5" y="288">Guntur</text><text x="358" y="287">Amalapuram</text><text x="263.5" y="302">Narasaraopet</text><text x="314.5" y="304">Machilipatnam</text><text x="182.5" y="312">Kurnool</text><text x="196" y="330">Nandyal</text><text x="275" y="339">Ongole</text><text x="149.5" y="372">Anantapur</text><text x="272" y="381">Nellore</text><text x="220" y="390.5">Kadapa</text><text x="200.5" y="411">Rayachoti</text><text x="140.5" y="413">Hindupur</text><text x="250" y="422">Tirupati</text><text x="229" y="454">Chittoor</text></g>
<text x="205.6" y="211.5" class="d">Mar_28</text>
</g>
<rect x="122.5" y="481.5" width="395.5" height="332.0" fill="#fff"/>
<path d="M122.5,481.5V813.5" stroke="#8c8c8c" stroke-width="1.1" fill="none"/><path d="M518,481.5V813.5" stroke="#8c8c8c" stroke-width="1.1" fill="none"/>
<path d="M122.0,481.5H518.5" stroke="#555" stroke-width="1.2" fill="none"/><path d="M122.0,813.5H518.5" stroke="#111" stroke-width="1.3" fill="none"/>
<g transform="translate(0,337.5)">
<g clip-path="url(#st)">
<rect x="120" y="140" width="400" height="340" fill="#ff8020"/>
<path d="M141.2,307.5C143.8,304.6 150.6,304.6 157.5,305.0C164.4,305.4 175.4,310.4 182.5,310.0C189.6,309.6 193.8,303.9 200.0,302.5C206.2,301.1 215.2,301.7 220.0,301.9C224.8,302.1 227.1,299.5 228.8,303.8C230.4,308.0 228.1,325.6 230.0,327.5C231.9,329.4 237.5,320.4 240.0,315.0C242.5,309.6 241.0,298.8 245.0,295.0C249.0,291.2 256.5,291.2 263.8,292.5C271.0,293.8 284.8,297.7 288.8,302.5C292.7,307.3 288.8,315.0 287.5,321.2C286.2,327.5 281.7,333.5 281.2,340.0C280.8,346.5 284.0,353.8 285.0,360.0C286.0,366.2 287.1,370.4 287.5,377.5C287.9,384.6 287.7,392.1 287.5,402.5C287.3,412.9 293.3,433.8 286.2,440.0C279.2,446.2 252.9,443.1 245.0,440.0C237.1,436.9 240.0,426.5 238.8,421.2C237.5,416.0 240.6,411.9 237.5,408.8C234.4,405.6 224.6,405.0 220.0,402.5C215.4,400.0 214.2,396.2 210.0,393.8C205.8,391.2 198.3,391.5 195.0,387.5C191.7,383.5 190.0,375.0 190.0,370.0C190.0,365.0 195.0,362.1 195.0,357.5C195.0,352.9 190.0,347.1 190.0,342.5C190.0,337.9 195.0,332.7 195.0,330.0C195.0,327.3 194.2,327.1 190.0,326.2C185.8,325.4 176.2,325.6 170.0,325.0C163.8,324.4 157.1,322.9 152.5,322.5C147.9,322.1 144.4,325.0 142.5,322.5C140.6,320.0 138.8,310.4 141.2,307.5Z" fill="#f5205a"/>
<path d="M141.2,321.2C144.2,320.0 149.4,321.7 157.5,322.5C165.6,323.3 183.8,324.8 190.0,326.2C196.2,327.7 195.0,328.5 195.0,331.2C195.0,334.0 190.0,338.1 190.0,342.5C190.0,346.9 194.8,352.9 195.0,357.5C195.2,362.1 190.8,365.0 191.2,370.0C191.7,375.0 194.4,383.5 197.5,387.5C200.6,391.5 207.9,390.0 210.0,393.8C212.1,397.5 208.3,406.5 210.0,410.0C211.7,413.5 215.4,414.2 220.0,415.0C224.6,415.8 234.4,418.5 237.5,415.0C240.6,411.5 241.7,397.3 238.8,393.8C235.8,390.2 225.2,393.1 220.0,393.8C214.8,394.4 212.5,398.1 207.5,397.5C202.5,396.9 195.0,392.5 190.0,390.0C185.0,387.5 181.2,383.3 177.5,382.5C173.8,381.7 170.8,385.8 167.5,385.0C164.2,384.2 161.2,380.4 157.5,377.5C153.8,374.6 148.3,369.6 145.0,367.5C141.7,365.4 139.0,367.1 137.5,365.0C136.0,362.9 134.6,358.3 136.2,355.0C137.9,351.7 146.9,349.2 147.5,345.0C148.1,340.8 141.0,334.0 140.0,330.0C139.0,326.0 138.3,322.5 141.2,321.2Z" fill="#fa5078"/>
<path d="M172.5,350.0C175.8,347.3 190.2,348.3 193.8,351.2C197.3,354.2 197.1,364.8 193.8,367.5C190.4,370.2 177.3,370.4 173.8,367.5C170.2,364.6 169.2,352.7 172.5,350.0Z" fill="#f5205a"/>
<path d="M192.5,360.0C195.0,358.3 205.0,358.3 207.5,360.0C210.0,361.7 210.0,368.3 207.5,370.0C205.0,371.7 195.0,371.7 192.5,370.0C190.0,368.3 190.0,361.7 192.5,360.0Z" fill="#fa5078"/>
<path d="M227.5,315.0C229.8,312.3 236.2,312.3 240.0,315.0C243.8,317.7 248.3,326.2 250.0,331.2C251.7,336.2 253.3,342.7 250.0,345.0C246.7,347.3 234.0,347.3 230.0,345.0C226.0,342.7 226.7,336.2 226.2,331.2C225.8,326.2 225.2,317.7 227.5,315.0Z" fill="#fa5078"/>
<path d="M217.5,305.0C218.8,301.2 224.8,301.2 226.2,305.0C227.7,308.8 227.5,323.8 226.2,327.5C225.0,331.2 220.2,331.2 218.8,327.5C217.3,323.8 216.2,308.8 217.5,305.0Z" fill="#fa5078"/>
<path d="M128.8,350.0C129.8,347.1 137.3,350.0 138.8,352.5C140.2,355.0 135.4,362.1 137.5,365.0C139.6,367.9 149.0,367.9 151.2,370.0C153.5,372.1 153.3,375.8 151.2,377.5C149.2,379.2 141.9,381.2 138.8,380.0C135.6,378.8 134.2,375.0 132.5,370.0C130.8,365.0 127.7,352.9 128.8,350.0Z" fill="#ffa46e"/>
<path d="M148.8,330.0C150.0,329.0 155.0,329.0 156.2,330.0C157.5,331.0 157.5,335.2 156.2,336.2C155.0,337.3 150.0,337.3 148.8,336.2C147.5,335.2 147.5,331.0 148.8,330.0Z" fill="#ffa46e"/>
<path d="M166.2,327.5C167.3,325.8 170.2,325.8 172.5,327.5C174.8,329.2 178.8,334.6 180.0,337.5C181.2,340.4 181.2,343.8 180.0,345.0C178.8,346.2 174.8,346.2 172.5,345.0C170.2,343.8 167.3,340.4 166.2,337.5C165.2,334.6 165.2,329.2 166.2,327.5Z" fill="#ffa46e"/>
<path d="M230.0,297.5C232.5,293.1 242.5,294.4 245.0,296.2C247.5,298.1 246.2,305.2 245.0,308.8C243.8,312.3 240.0,315.2 237.5,317.5C235.0,319.8 231.2,325.8 230.0,322.5C228.8,319.2 227.5,301.9 230.0,297.5Z" fill="#ffa46e"/>
<path d="M156.2,377.5C157.9,376.7 164.0,384.2 167.5,385.0C171.0,385.8 173.8,381.7 177.5,382.5C181.2,383.3 185.0,387.3 190.0,390.0C195.0,392.7 204.2,394.6 207.5,398.8C210.8,402.9 211.2,411.9 210.0,415.0C208.8,418.1 203.8,418.8 200.0,417.5C196.2,416.2 191.7,409.6 187.5,407.5C183.3,405.4 179.4,406.2 175.0,405.0C170.6,403.8 164.2,402.5 161.2,400.0C158.3,397.5 158.3,393.8 157.5,390.0C156.7,386.2 154.6,378.3 156.2,377.5Z" fill="#ffa46e"/>
<path d="M282.5,321.2C284.0,318.1 289.8,318.1 291.2,321.2C292.7,324.4 292.7,336.9 291.2,340.0C289.8,343.1 284.0,343.1 282.5,340.0C281.0,336.9 281.0,324.4 282.5,321.2Z" fill="#ffa46e"/>
<path d="M263.8,425.0C265.8,423.5 274.2,423.5 276.2,425.0C278.3,426.5 278.3,432.3 276.2,433.8C274.2,435.2 265.8,435.2 263.8,433.8C261.7,432.3 261.7,426.5 263.8,425.0Z" fill="#ffa46e"/>
<path d="M237.5,408.8C240.4,406.7 254.0,407.7 257.5,410.0C261.0,412.3 261.7,420.4 258.8,422.5C255.8,424.6 243.5,424.8 240.0,422.5C236.5,420.2 234.6,410.8 237.5,408.8Z" fill="#ffa46e"/>
<path d="M138.8,376.2C141.9,374.0 154.4,374.0 157.5,376.2C160.6,378.5 160.6,387.7 157.5,390.0C154.4,392.3 141.9,392.3 138.8,390.0C135.6,387.7 135.6,378.5 138.8,376.2Z" fill="#ff8020"/>
<path d="M136.2,400.0C139.8,396.7 149.4,396.5 157.5,396.2C165.6,396.0 176.7,397.7 185.0,398.8C193.3,399.8 203.8,399.8 207.5,402.5C211.2,405.2 212.5,413.8 207.5,415.0C202.5,416.2 185.2,410.0 177.5,410.0C169.8,410.0 168.1,414.0 161.2,415.0C154.4,416.0 140.4,418.8 136.2,416.2C132.1,413.8 132.7,403.3 136.2,400.0Z" fill="#ff8020"/>
<path d="M140.0,403.8C141.7,401.7 148.3,401.7 150.0,403.8C151.7,405.8 151.7,414.2 150.0,416.2C148.3,418.3 141.7,418.3 140.0,416.2C138.3,414.2 138.3,405.8 140.0,403.8Z" fill="#ebd70a"/>
<path d="M195.0,415.0C197.5,410.8 202.5,413.8 210.0,415.0C217.5,416.2 234.2,420.4 240.0,422.5C245.8,424.6 244.2,424.6 245.0,427.5C245.8,430.4 253.3,437.9 245.0,440.0C236.7,442.1 203.3,444.2 195.0,440.0C186.7,435.8 192.5,419.2 195.0,415.0Z" fill="#ff8020"/>
<path d="M225.0,427.5C227.1,425.4 235.4,425.4 237.5,427.5C239.6,429.6 239.6,437.9 237.5,440.0C235.4,442.1 227.1,442.1 225.0,440.0C222.9,437.9 222.9,429.6 225.0,427.5Z" fill="#f2680c"/>
<path d="M206.2,423.8C207.7,421.5 211.5,425.0 215.0,426.2C218.5,427.5 225.4,429.0 227.5,431.2C229.6,433.5 231.0,438.5 227.5,440.0C224.0,441.5 209.8,442.7 206.2,440.0C202.7,437.3 204.8,426.0 206.2,423.8Z" fill="#ebd70a"/>
<path d="M207.5,437.5C210.0,437.5 221.2,440.4 225.0,442.5C228.8,444.6 230.8,448.3 230.0,450.0C229.2,451.7 222.1,450.0 220.0,452.5C217.9,455.0 219.2,461.5 217.5,465.0C215.8,468.5 213.3,472.9 210.0,473.8C206.7,474.6 199.0,472.1 197.5,470.0C196.0,467.9 198.8,464.6 201.2,461.2C203.8,457.9 211.0,453.1 212.5,450.0C214.0,446.9 210.8,444.6 210.0,442.5C209.2,440.4 205.0,437.5 207.5,437.5Z" fill="#fff033"/>
<path d="M236.2,431.2C234.9,434.0 230.7,442.1 228.1,447.5C225.5,452.9 223.1,459.5 220.6,463.8C218.1,468.0 214.4,471.2 213.1,472.8" fill="none" stroke="#ff8020" stroke-width="5.5" stroke-linecap="round" stroke-linejoin="round"/>
<path d="M230.0,427.5C232.9,425.4 244.2,426.2 247.5,430.0C250.8,433.8 252.1,446.2 250.0,450.0C247.9,453.8 238.3,453.8 235.0,452.5C231.7,451.2 230.8,446.7 230.0,442.5C229.2,438.3 227.1,429.6 230.0,427.5Z" fill="#ff8020"/>
<path d="M247.5,432.5C251.7,429.2 268.3,426.2 272.5,427.5C276.7,428.8 275.4,436.7 272.5,440.0C269.6,443.3 259.2,446.2 255.0,447.5C250.8,448.8 248.8,450.0 247.5,447.5C246.2,445.0 243.3,435.8 247.5,432.5Z" fill="#fa5078"/>
<path d="M231.2,295.0C235.0,292.5 247.3,292.9 250.0,295.0C252.7,297.1 250.0,302.5 247.5,307.5C245.0,312.5 238.3,321.2 235.0,325.0C231.7,328.8 228.8,332.5 227.5,330.0C226.2,327.5 226.9,315.8 227.5,310.0C228.1,304.2 227.5,297.5 231.2,295.0Z" fill="#ffa46e"/>
<path d="M200.0,340.0C201.5,337.7 207.1,337.9 210.0,338.8C212.9,339.6 216.0,342.3 217.5,345.0C219.0,347.7 217.7,351.2 218.8,355.0C219.8,358.8 222.9,363.8 223.8,367.5C224.6,371.2 225.2,375.4 223.8,377.5C222.3,379.6 218.1,379.8 215.0,380.0C211.9,380.2 205.8,380.4 205.0,378.8C204.2,377.1 209.6,373.1 210.0,370.0C210.4,366.9 209.0,362.9 207.5,360.0C206.0,357.1 202.5,355.8 201.2,352.5C200.0,349.2 198.5,342.3 200.0,340.0Z" fill="#c80000"/>
<path d="M265.0,297.5C269.0,296.2 278.3,292.1 281.2,295.0C284.2,297.9 283.3,309.0 282.5,315.0C281.7,321.0 278.3,325.8 276.2,331.2C274.2,336.7 269.8,341.9 270.0,347.5C270.2,353.1 276.2,360.0 277.5,365.0C278.8,370.0 276.9,371.2 277.5,377.5C278.1,383.8 281.2,396.2 281.2,402.5C281.2,408.8 279.4,412.9 277.5,415.0C275.6,417.1 272.5,417.9 270.0,415.0C267.5,412.1 264.6,400.0 262.5,397.5C260.4,395.0 260.4,399.6 257.5,400.0C254.6,400.4 248.3,402.1 245.0,400.0C241.7,397.9 238.8,392.1 237.5,387.5C236.2,382.9 235.4,375.4 237.5,372.5C239.6,369.6 247.9,376.2 250.0,370.0C252.1,363.8 248.8,342.1 250.0,335.0C251.2,327.9 257.5,331.2 257.5,327.5C257.5,323.8 250.0,316.7 250.0,312.5C250.0,308.3 255.0,305.0 257.5,302.5C260.0,300.0 261.0,298.8 265.0,297.5Z" fill="#c80000"/>
<path d="M258.8,372.5C260.8,370.8 269.2,370.8 271.2,372.5C273.3,374.2 273.3,380.8 271.2,382.5C269.2,384.2 260.8,384.2 258.8,382.5C256.7,380.8 256.7,374.2 258.8,372.5Z" fill="#8c0000"/>
<path d="M240.0,386.2C241.7,385.0 248.3,385.0 250.0,386.2C251.7,387.5 251.7,392.5 250.0,393.8C248.3,395.0 241.7,395.0 240.0,393.8C238.3,392.5 238.3,387.5 240.0,386.2Z" fill="#8c0000"/>
<path d="M245.0,377.5C245.0,375.4 250.4,375.4 252.5,377.5C254.6,379.6 257.5,387.9 257.5,390.0C257.5,392.1 254.6,392.1 252.5,390.0C250.4,387.9 245.0,379.6 245.0,377.5Z" fill="#f5205a"/>
<path d="M248.8,277.5C250.6,274.3 255.0,276.2 261.2,273.1C267.5,270.0 280.6,262.2 286.2,258.8C291.9,255.3 291.5,253.1 295.0,252.5C298.5,251.9 305.4,251.9 307.5,255.0C309.6,258.1 309.2,267.1 307.5,271.2C305.8,275.4 300.4,276.0 297.5,280.0C294.6,284.0 295.4,292.1 290.0,295.0C284.6,297.9 271.7,297.9 265.0,297.5C258.3,297.1 252.7,295.8 250.0,292.5C247.3,289.2 246.9,280.7 248.8,277.5Z" fill="#f5205a"/>
<path d="M257.5,280.0C262.9,277.9 284.6,275.8 290.0,277.5C295.4,279.2 295.4,287.9 290.0,290.0C284.6,292.1 262.9,291.7 257.5,290.0C252.1,288.3 252.1,282.1 257.5,280.0Z" fill="#fa5078"/>
<path d="M275.0,282.5C277.1,281.9 285.4,281.9 287.5,282.5C289.6,283.1 289.6,285.6 287.5,286.2C285.4,286.9 277.1,286.9 275.0,286.2C272.9,285.6 272.9,283.1 275.0,282.5Z" fill="#ffa46e"/>
<path d="M295.0,255.0C295.8,253.8 299.2,253.8 300.0,255.0C300.8,256.2 300.8,261.2 300.0,262.5C299.2,263.8 295.8,263.8 295.0,262.5C294.2,261.2 294.2,256.2 295.0,255.0Z" fill="#c80000"/>
<path d="M252.5,300.0C255.0,296.2 258.8,295.4 263.8,295.0C268.8,294.6 279.8,293.8 282.5,297.5C285.2,301.2 281.2,310.0 280.0,317.5C278.8,325.0 275.4,332.1 275.0,342.5C274.6,352.9 281.7,373.8 277.5,380.0C273.3,386.2 254.6,386.2 250.0,380.0C245.4,373.8 250.2,352.9 250.0,342.5C249.8,332.1 248.3,324.6 248.8,317.5C249.2,310.4 250.0,303.8 252.5,300.0Z" fill="#c80000"/>
<path d="M292.5,271.2C294.6,267.5 303.8,271.2 307.5,267.5C311.2,263.8 312.9,249.8 315.0,248.8C317.1,247.7 316.0,259.6 320.0,261.2C324.0,262.9 332.5,259.4 338.8,258.8C345.0,258.1 354.4,256.0 357.5,257.5C360.6,259.0 360.6,265.2 357.5,267.5C354.4,269.8 341.9,267.5 338.8,271.2C335.6,275.0 341.9,287.1 338.8,290.0C335.6,292.9 327.3,288.8 320.0,288.8C312.7,288.8 299.6,292.9 295.0,290.0C290.4,287.1 290.4,275.0 292.5,271.2Z" fill="#fa5078"/>
<path d="M315.0,251.2C316.7,249.0 324.4,250.0 326.2,252.5C328.1,255.0 327.9,264.0 326.2,266.2C324.6,268.5 318.1,268.8 316.2,266.2C314.4,263.8 313.3,253.5 315.0,251.2Z" fill="#ffa46e"/>
<path d="M295.0,290.0C300.8,287.9 326.2,288.3 332.5,290.0C338.8,291.7 338.3,297.9 332.5,300.0C326.7,302.1 303.8,304.2 297.5,302.5C291.2,300.8 289.2,292.1 295.0,290.0Z" fill="#ffa46e"/>
<path d="M345.0,240.0C351.2,237.5 386.7,234.8 395.0,240.0C403.3,245.2 401.2,266.0 395.0,271.2C388.8,276.5 363.8,274.0 357.5,271.2C351.2,268.5 359.6,260.2 357.5,255.0C355.4,249.8 338.8,242.5 345.0,240.0Z" fill="#ffa46e"/>
<path d="M351.2,233.8C353.3,232.3 361.7,232.3 363.8,233.8C365.8,235.2 365.8,241.0 363.8,242.5C361.7,244.0 353.3,244.0 351.2,242.5C349.2,241.0 349.2,235.2 351.2,233.8Z" fill="#ff8020"/>
<path d="M386.2,247.5C387.7,245.4 393.5,245.4 395.0,247.5C396.5,249.6 396.5,257.9 395.0,260.0C393.5,262.1 387.7,262.1 386.2,260.0C384.8,257.9 384.8,249.6 386.2,247.5Z" fill="#fa5078"/>
<path d="M367.5,257.5C368.8,256.2 373.8,256.2 375.0,257.5C376.2,258.8 376.2,263.8 375.0,265.0C373.8,266.2 368.8,266.2 367.5,265.0C366.2,263.8 366.2,258.8 367.5,257.5Z" fill="#fa5078"/>
<path d="M351.2,273.8C358.5,271.9 388.1,271.0 395.0,272.5C401.9,274.0 399.8,280.6 392.5,282.5C385.2,284.4 358.1,285.2 351.2,283.8C344.4,282.3 344.0,275.6 351.2,273.8Z" fill="#ebd70a"/>
<path d="M355.0,276.2C360.8,275.0 384.6,274.2 390.0,275.0C395.4,275.8 393.3,280.0 387.5,281.2C381.7,282.5 360.4,283.3 355.0,282.5C349.6,281.7 349.2,277.5 355.0,276.2Z" fill="#fff033"/>
<path d="M327.5,215.0C330.0,212.7 338.5,212.7 342.5,212.5C346.5,212.3 349.8,211.5 351.2,213.8C352.7,216.0 353.8,224.0 351.2,226.2C348.8,228.5 340.2,227.5 336.2,227.5C332.3,227.5 329.0,228.3 327.5,226.2C326.0,224.2 325.0,217.3 327.5,215.0Z" fill="#f5205a"/>
<path d="M348.8,215.0C350.2,212.1 356.5,212.9 357.5,215.0C358.5,217.1 356.5,224.6 355.0,227.5C353.5,230.4 349.8,234.6 348.8,232.5C347.7,230.4 347.3,217.9 348.8,215.0Z" fill="#fa5078"/>
<path d="M357.5,227.5C359.6,226.2 371.7,231.0 376.2,230.0C380.8,229.0 381.0,222.5 385.0,221.2C389.0,220.0 398.3,219.6 400.0,222.5C401.7,225.4 399.0,235.4 395.0,238.8C391.0,242.1 381.5,242.7 376.2,242.5C371.0,242.3 366.9,240.0 363.8,237.5C360.6,235.0 355.4,228.8 357.5,227.5Z" fill="#f2680c"/>
<path d="M357.5,220.0C358.3,217.3 361.2,215.2 365.0,212.5C368.8,209.8 374.6,205.6 380.0,203.8C385.4,201.9 394.2,205.0 397.5,201.2C400.8,197.5 398.5,185.4 400.0,181.2C401.5,177.1 403.8,174.8 406.2,176.2C408.8,177.7 412.1,189.1 415.0,190.0C417.9,190.9 420.4,182.5 423.8,181.9C427.1,181.2 432.3,184.1 435.0,186.2C437.7,188.4 440.4,191.9 440.0,195.0C439.6,198.1 435.4,202.5 432.5,205.0C429.6,207.5 426.7,207.5 422.5,210.0C418.3,212.5 411.2,216.7 407.5,220.0C403.8,223.3 402.1,226.7 400.0,230.0C397.9,233.3 397.5,241.7 395.0,240.0C392.5,238.3 387.9,222.1 385.0,220.0C382.1,217.9 380.0,225.8 377.5,227.5C375.0,229.2 372.9,229.8 370.0,230.0C367.1,230.2 362.1,230.4 360.0,228.8C357.9,227.1 356.7,222.7 357.5,220.0Z" fill="#ebd70a"/>
<path d="M358.8,221.2C359.6,219.0 362.7,216.5 366.2,213.8C369.8,211.0 374.8,206.9 380.0,205.0C385.2,203.1 394.0,206.2 397.5,202.5C401.0,198.8 399.8,186.7 401.2,182.5C402.7,178.3 404.2,176.2 406.2,177.5C408.3,178.8 410.8,189.1 413.8,190.0C416.7,190.9 420.4,183.6 423.8,183.1C427.1,182.6 431.5,184.9 433.8,186.9C436.0,188.9 437.9,192.2 437.5,195.0C437.1,197.8 434.0,201.5 431.2,203.8C428.5,206.0 425.4,206.2 421.2,208.8C417.1,211.2 410.6,215.6 406.2,218.8C401.9,221.9 398.5,227.7 395.0,227.5C391.5,227.3 388.1,217.9 385.0,217.5C381.9,217.1 378.8,223.3 376.2,225.0C373.8,226.7 372.5,227.1 370.0,227.5C367.5,227.9 363.1,228.5 361.2,227.5C359.4,226.5 357.9,223.5 358.8,221.2Z" fill="#fff033"/>
<path d="M367.5,215.0C369.6,212.1 375.0,208.1 380.0,206.2C385.0,204.4 394.0,207.5 397.5,203.8C401.0,200.0 399.8,187.9 401.2,183.8C402.7,179.6 404.3,177.5 406.2,178.8C408.2,180.0 410.2,190.3 413.1,191.2C416.0,192.2 420.5,184.9 423.8,184.4C427.0,183.9 431.0,186.1 432.5,188.1C434.0,190.1 434.6,193.0 432.5,196.2C430.4,199.5 424.2,204.4 420.0,207.5C415.8,210.6 412.1,213.8 407.5,215.0C402.9,216.2 397.1,215.0 392.5,215.0C387.9,215.0 383.1,213.3 380.0,215.0C376.9,216.7 375.8,223.5 373.8,225.0C371.7,226.5 368.5,225.4 367.5,223.8C366.5,222.1 365.4,217.9 367.5,215.0Z" fill="#5be61c"/>
<path d="M390.0,206.2C390.8,204.4 397.9,206.0 400.0,202.5C402.1,199.0 401.5,188.8 402.5,185.0C403.5,181.2 404.6,178.8 406.2,180.0C407.9,181.2 409.6,191.6 412.5,192.5C415.4,193.4 420.6,186.1 423.8,185.6C426.9,185.1 430.2,187.6 431.2,189.4C432.3,191.1 431.9,193.6 430.0,196.2C428.1,198.9 423.8,202.3 420.0,205.0C416.2,207.7 411.7,211.0 407.5,212.5C403.3,214.0 397.9,214.8 395.0,213.8C392.1,212.7 389.2,208.1 390.0,206.2Z" fill="#1fce0f"/>
<path d="M390.0,206.2C390.8,204.4 397.9,206.0 400.0,202.5C402.1,199.0 401.5,188.8 402.5,185.0C403.5,181.2 404.6,178.8 406.2,180.0C407.9,181.2 409.6,191.6 412.5,192.5C415.4,193.4 420.6,186.1 423.8,185.6C426.9,185.1 430.2,187.6 431.2,189.4C432.3,191.1 431.9,193.6 430.0,196.2C428.1,198.9 423.8,202.3 420.0,205.0C416.2,207.7 411.7,211.0 407.5,212.5C403.3,214.0 397.9,214.8 395.0,213.8C392.1,212.7 389.2,208.1 390.0,206.2Z" fill="#5be61c"/>
<path d="M405.0,190.0C405.8,189.0 408.8,193.1 412.5,193.8C416.2,194.4 425.0,192.9 427.5,193.8C430.0,194.6 430.8,197.7 427.5,198.8C424.2,199.8 411.2,201.5 407.5,200.0C403.8,198.5 404.2,191.0 405.0,190.0Z" fill="#1fce0f"/>
<path d="M390.0,206.2C391.0,205.4 395.2,205.4 396.2,206.2C397.3,207.1 397.3,210.4 396.2,211.2C395.2,212.1 391.0,212.1 390.0,211.2C389.0,210.4 389.0,207.1 390.0,206.2Z" fill="#1fce0f"/>
<path d="M400.0,235.0C401.7,233.5 408.3,233.5 410.0,235.0C411.7,236.5 411.7,242.3 410.0,243.8C408.3,245.2 401.7,245.2 400.0,243.8C398.3,242.3 398.3,236.5 400.0,235.0Z" fill="#ebd70a"/>
<path d="M470.0,177.5C472.1,172.9 477.9,167.9 482.5,165.0C487.1,162.1 492.1,162.5 497.5,160.0C502.9,157.5 512.5,150.0 515.0,150.0C517.5,150.0 515.8,154.4 512.5,160.0C509.2,165.6 500.0,178.3 495.0,183.8C490.0,189.2 486.7,191.0 482.5,192.5C478.3,194.0 472.1,195.0 470.0,192.5C467.9,190.0 467.9,182.1 470.0,177.5Z" fill="#ebd70a"/>
<path d="M475.0,178.8C477.5,174.2 491.2,166.7 497.5,162.5C503.8,158.3 512.9,150.6 512.5,153.8C512.1,156.9 500.0,175.2 495.0,181.2C490.0,187.3 485.8,190.4 482.5,190.0C479.2,189.6 472.5,183.3 475.0,178.8Z" fill="#fff033"/>
<path d="M445.0,167.5C447.1,165.0 455.4,165.0 457.5,167.5C459.6,170.0 459.6,180.0 457.5,182.5C455.4,185.0 447.1,185.0 445.0,182.5C442.9,180.0 442.9,170.0 445.0,167.5Z" fill="#fa5078"/>
<path d="M440.0,181.2C442.1,180.0 450.4,181.0 452.5,182.5C454.6,184.0 454.6,188.8 452.5,190.0C450.4,191.2 442.1,191.5 440.0,190.0C437.9,188.5 437.9,182.5 440.0,181.2Z" fill="#ffa46e"/>
<path d="M297.5,430.0C297.6,429.2 298.1,427.1 298.1,425.0C298.1,422.9 298.0,420.0 297.5,417.5C297.0,415.0 295.8,412.5 295.0,410.0C294.2,407.5 293.1,405.2 292.5,402.5C291.9,399.8 291.2,396.5 291.2,393.8C291.2,391.0 291.9,389.0 292.5,386.2C293.1,383.5 295.0,380.2 295.0,377.5C295.0,374.8 292.9,371.2 292.5,370.0" fill="none" stroke="#ff8020" stroke-width="22" stroke-linecap="round" stroke-linejoin="round"/>
<path d="M297.5,430.0C297.6,429.2 298.1,427.1 298.1,425.0C298.1,422.9 298.0,420.0 297.5,417.5C297.0,415.0 295.8,412.5 295.0,410.0C294.2,407.5 293.1,405.2 292.5,402.5C291.9,399.8 291.2,396.5 291.2,393.8C291.2,391.0 291.9,389.0 292.5,386.2C293.1,383.5 295.0,380.2 295.0,377.5C295.0,374.8 292.9,371.2 292.5,370.0" fill="none" stroke="#ebd70a" stroke-width="14" stroke-linecap="round" stroke-linejoin="round"/>
<path d="M297.5,430.0C297.6,429.2 298.1,427.1 298.1,425.0C298.1,422.9 298.0,420.0 297.5,417.5C297.0,415.0 295.8,412.5 295.0,410.0C294.2,407.5 293.1,405.2 292.5,402.5C291.9,399.8 291.2,396.5 291.2,393.8C291.2,391.0 291.9,389.0 292.5,386.2C293.1,383.5 295.0,380.2 295.0,377.5C295.0,374.8 292.9,371.2 292.5,370.0" fill="none" stroke="#fff033" stroke-width="10" stroke-linecap="round" stroke-linejoin="round"/>
<path d="M297.5,430.0C297.6,429.2 298.1,427.1 298.1,425.0C298.1,422.9 298.0,420.0 297.5,417.5C297.0,415.0 295.8,412.5 295.0,410.0C294.2,407.5 293.1,405.2 292.5,402.5C291.9,399.8 291.2,396.5 291.2,393.8C291.2,391.0 291.9,389.0 292.5,386.2C293.1,383.5 295.0,380.2 295.0,377.5C295.0,374.8 292.9,371.2 292.5,370.0" fill="none" stroke="#5be61c" stroke-width="6" stroke-linecap="round" stroke-linejoin="round"/>
<path d="M297.5,430.0C297.6,429.2 298.1,427.1 298.1,425.0C298.1,422.9 298.0,420.0 297.5,417.5C297.0,415.0 295.8,412.5 295.0,410.0C294.2,407.5 293.1,405.2 292.5,402.5C291.9,399.8 291.2,396.5 291.2,393.8C291.2,391.0 291.9,389.0 292.5,386.2C293.1,383.5 295.0,380.2 295.0,377.5C295.0,374.8 292.9,371.2 292.5,370.0" fill="none" stroke="#1fce0f" stroke-width="3" stroke-linecap="round" stroke-linejoin="round"/>
<path d="M292.5,370.0C292.1,368.5 290.7,364.2 290.0,361.2C289.3,358.3 288.4,355.2 288.1,352.5C287.8,349.8 287.8,347.5 288.1,345.0C288.4,342.5 289.3,339.8 290.0,337.5C290.7,335.2 291.5,333.5 292.5,331.2C293.5,329.0 295.0,326.0 296.2,323.8C297.5,321.5 299.4,318.5 300.0,317.5" fill="none" stroke="#ffa46e" stroke-width="18" stroke-linecap="round" stroke-linejoin="round"/>
<path d="M292.5,370.0C292.1,368.5 290.7,364.2 290.0,361.2C289.3,358.3 288.4,355.2 288.1,352.5C287.8,349.8 287.8,347.5 288.1,345.0C288.4,342.5 289.3,339.8 290.0,337.5C290.7,335.2 291.5,333.5 292.5,331.2C293.5,329.0 295.0,326.0 296.2,323.8C297.5,321.5 299.4,318.5 300.0,317.5" fill="none" stroke="#ff8020" stroke-width="11" stroke-linecap="round" stroke-linejoin="round"/>
<path d="M292.5,370.0C292.1,368.5 290.7,364.2 290.0,361.2C289.3,358.3 288.4,355.2 288.1,352.5C287.8,349.8 287.8,347.5 288.1,345.0C288.4,342.5 289.3,339.8 290.0,337.5C290.7,335.2 291.5,333.5 292.5,331.2C293.5,329.0 295.0,326.0 296.2,323.8C297.5,321.5 299.4,318.5 300.0,317.5" fill="none" stroke="#ebd70a" stroke-width="8" stroke-linecap="round" stroke-linejoin="round"/>
<path d="M292.5,370.0C292.1,368.5 290.7,364.2 290.0,361.2C289.3,358.3 288.4,355.2 288.1,352.5C287.8,349.8 287.8,347.5 288.1,345.0C288.4,342.5 289.3,339.8 290.0,337.5C290.7,335.2 291.5,333.5 292.5,331.2C293.5,329.0 295.0,326.0 296.2,323.8C297.5,321.5 299.4,318.5 300.0,317.5" fill="none" stroke="#fff033" stroke-width="6" stroke-linecap="round" stroke-linejoin="round"/>
<path d="M292.5,370.0C292.1,368.5 290.7,364.2 290.0,361.2C289.3,358.3 288.4,355.2 288.1,352.5C287.8,349.8 287.8,347.5 288.1,345.0C288.4,342.5 289.3,339.8 290.0,337.5C290.7,335.2 291.5,333.5 292.5,331.2C293.5,329.0 295.0,326.0 296.2,323.8C297.5,321.5 299.4,318.5 300.0,317.5" fill="none" stroke="#5be61c" stroke-width="3" stroke-linecap="round" stroke-linejoin="round"/>
<path d="M300.0,317.5C300.8,316.9 303.1,314.8 305.0,313.8C306.9,312.7 309.0,311.9 311.2,311.2C313.5,310.6 316.7,309.8 318.8,310.0C320.8,310.2 322.6,311.2 323.8,312.5C324.9,313.8 324.6,316.7 325.6,317.5C326.6,318.3 328.4,318.1 330.0,317.5C331.6,316.9 333.5,315.4 335.0,313.8C336.5,312.1 337.7,309.6 338.8,307.5C339.8,305.4 340.2,303.5 341.2,301.2C342.3,299.0 343.3,296.0 345.0,293.8C346.7,291.5 350.2,288.5 351.2,287.5" fill="none" stroke="#ff8020" stroke-width="30" stroke-linecap="round" stroke-linejoin="round"/>
<path d="M300.0,317.5C300.8,316.9 303.1,314.8 305.0,313.8C306.9,312.7 309.0,311.9 311.2,311.2C313.5,310.6 316.7,309.8 318.8,310.0C320.8,310.2 322.6,311.2 323.8,312.5C324.9,313.8 324.6,316.7 325.6,317.5C326.6,318.3 328.4,318.1 330.0,317.5C331.6,316.9 333.5,315.4 335.0,313.8C336.5,312.1 337.7,309.6 338.8,307.5C339.8,305.4 340.2,303.5 341.2,301.2C342.3,299.0 343.3,296.0 345.0,293.8C346.7,291.5 350.2,288.5 351.2,287.5" fill="none" stroke="#f2680c" stroke-width="24" stroke-linecap="round" stroke-linejoin="round"/>
<path d="M300.0,317.5C300.8,316.9 303.1,314.8 305.0,313.8C306.9,312.7 309.0,311.9 311.2,311.2C313.5,310.6 316.7,309.8 318.8,310.0C320.8,310.2 322.6,311.2 323.8,312.5C324.9,313.8 324.6,316.7 325.6,317.5C326.6,318.3 328.4,318.1 330.0,317.5C331.6,316.9 333.5,315.4 335.0,313.8C336.5,312.1 337.7,309.6 338.8,307.5C339.8,305.4 340.2,303.5 341.2,301.2C342.3,299.0 343.3,296.0 345.0,293.8C346.7,291.5 350.2,288.5 351.2,287.5" fill="none" stroke="#ebd70a" stroke-width="19" stroke-linecap="round" stroke-linejoin="round"/>
<path d="M300.0,317.5C300.8,316.9 303.1,314.8 305.0,313.8C306.9,312.7 309.0,311.9 311.2,311.2C313.5,310.6 316.7,309.8 318.8,310.0C320.8,310.2 322.6,311.2 323.8,312.5C324.9,313.8 324.6,316.7 325.6,317.5C326.6,318.3 328.4,318.1 330.0,317.5C331.6,316.9 333.5,315.4 335.0,313.8C336.5,312.1 337.7,309.6 338.8,307.5C339.8,305.4 340.2,303.5 341.2,301.2C342.3,299.0 343.3,296.0 345.0,293.8C346.7,291.5 350.2,288.5 351.2,287.5" fill="none" stroke="#fff033" stroke-width="14" stroke-linecap="round" stroke-linejoin="round"/>
<path d="M300.0,317.5C300.8,316.9 303.1,314.8 305.0,313.8C306.9,312.7 309.0,311.9 311.2,311.2C313.5,310.6 316.7,309.8 318.8,310.0C320.8,310.2 322.6,311.2 323.8,312.5C324.9,313.8 324.6,316.7 325.6,317.5C326.6,318.3 328.4,318.1 330.0,317.5C331.6,316.9 333.5,315.4 335.0,313.8C336.5,312.1 337.7,309.6 338.8,307.5C339.8,305.4 340.2,303.5 341.2,301.2C342.3,299.0 343.3,296.0 345.0,293.8C346.7,291.5 350.2,288.5 351.2,287.5" fill="none" stroke="#5be61c" stroke-width="9" stroke-linecap="round" stroke-linejoin="round"/>
<path d="M300.0,317.5C300.8,316.9 303.1,314.8 305.0,313.8C306.9,312.7 309.0,311.9 311.2,311.2C313.5,310.6 316.7,309.8 318.8,310.0C320.8,310.2 322.6,311.2 323.8,312.5C324.9,313.8 324.6,316.7 325.6,317.5C326.6,318.3 328.4,318.1 330.0,317.5C331.6,316.9 333.5,315.4 335.0,313.8C336.5,312.1 337.7,309.6 338.8,307.5C339.8,305.4 340.2,303.5 341.2,301.2C342.3,299.0 343.3,296.0 345.0,293.8C346.7,291.5 350.2,288.5 351.2,287.5" fill="none" stroke="#1fce0f" stroke-width="5" stroke-linecap="round" stroke-linejoin="round"/>
<path d="M300.0,317.5C300.8,316.9 303.1,314.8 305.0,313.8C306.9,312.7 309.0,311.9 311.2,311.2C313.5,310.6 316.7,309.8 318.8,310.0C320.8,310.2 322.6,311.2 323.8,312.5C324.9,313.8 324.6,316.7 325.6,317.5C326.6,318.3 328.4,318.1 330.0,317.5C331.6,316.9 333.5,315.4 335.0,313.8C336.5,312.1 337.7,309.6 338.8,307.5C339.8,305.4 340.2,303.5 341.2,301.2C342.3,299.0 343.3,296.0 345.0,293.8C346.7,291.5 350.2,288.5 351.2,287.5" fill="none" stroke="#1a8f22" stroke-width="2" stroke-linecap="round" stroke-linejoin="round"/>
<path d="M351.2,287.5C352.9,287.0 357.1,285.2 361.2,284.4C365.4,283.6 371.7,283.3 376.2,282.5C380.8,281.7 385.0,280.9 388.8,279.4C392.5,277.9 396.8,275.9 398.8,273.8C400.7,271.6 400.3,267.5 400.6,266.2" fill="none" stroke="#ebd70a" stroke-width="18" stroke-linecap="round" stroke-linejoin="round"/>
<path d="M351.2,287.5C352.9,287.0 357.1,285.2 361.2,284.4C365.4,283.6 371.7,283.3 376.2,282.5C380.8,281.7 385.0,280.9 388.8,279.4C392.5,277.9 396.8,275.9 398.8,273.8C400.7,271.6 400.3,267.5 400.6,266.2" fill="none" stroke="#fff033" stroke-width="13" stroke-linecap="round" stroke-linejoin="round"/>
<path d="M351.2,287.5C352.9,287.0 357.1,285.2 361.2,284.4C365.4,283.6 371.7,283.3 376.2,282.5C380.8,281.7 385.0,280.9 388.8,279.4C392.5,277.9 396.8,275.9 398.8,273.8C400.7,271.6 400.3,267.5 400.6,266.2" fill="none" stroke="#5be61c" stroke-width="8" stroke-linecap="round" stroke-linejoin="round"/>
<path d="M351.2,287.5C352.9,287.0 357.1,285.2 361.2,284.4C365.4,283.6 371.7,283.3 376.2,282.5C380.8,281.7 385.0,280.9 388.8,279.4C392.5,277.9 396.8,275.9 398.8,273.8C400.7,271.6 400.3,267.5 400.6,266.2" fill="none" stroke="#1fce0f" stroke-width="4" stroke-linecap="round" stroke-linejoin="round"/>
<path d="M400.6,266.2C400.1,264.5 397.6,258.4 397.5,256.0C397.4,253.6 398.5,253.4 400.0,252.0C401.5,250.6 404.2,249.1 406.2,247.5C408.3,245.9 410.2,244.2 412.5,242.5C414.8,240.8 417.1,239.2 420.0,237.5C422.9,235.8 426.7,234.4 430.0,232.5C433.3,230.6 438.3,227.3 440.0,226.2" fill="none" stroke="#ebd70a" stroke-width="11" stroke-linecap="round" stroke-linejoin="round"/>
<path d="M400.6,266.2C400.1,264.5 397.6,258.4 397.5,256.0C397.4,253.6 398.5,253.4 400.0,252.0C401.5,250.6 404.2,249.1 406.2,247.5C408.3,245.9 410.2,244.2 412.5,242.5C414.8,240.8 417.1,239.2 420.0,237.5C422.9,235.8 426.7,234.4 430.0,232.5C433.3,230.6 438.3,227.3 440.0,226.2" fill="none" stroke="#fff033" stroke-width="8" stroke-linecap="round" stroke-linejoin="round"/>
<path d="M400.6,266.2C400.1,264.5 397.6,258.4 397.5,256.0C397.4,253.6 398.5,253.4 400.0,252.0C401.5,250.6 404.2,249.1 406.2,247.5C408.3,245.9 410.2,244.2 412.5,242.5C414.8,240.8 417.1,239.2 420.0,237.5C422.9,235.8 426.7,234.4 430.0,232.5C433.3,230.6 438.3,227.3 440.0,226.2" fill="none" stroke="#5be61c" stroke-width="3" stroke-linecap="round" stroke-linejoin="round"/>
<path d="M440.0,226.2C440.8,225.4 442.9,223.3 445.0,221.2C447.1,219.2 449.8,216.5 452.5,213.8C455.2,211.0 458.5,207.5 461.2,205.0C464.0,202.5 465.8,200.8 468.8,198.8C471.7,196.7 475.4,194.6 478.8,192.5C482.1,190.4 485.6,188.8 488.8,186.2C491.9,183.8 494.8,180.4 497.5,177.5C500.2,174.6 502.5,171.9 505.0,168.8C507.5,165.6 510.4,162.1 512.5,158.8C514.6,155.4 516.9,150.9 517.5,148.8C518.1,146.6 516.5,146.1 516.2,145.6" fill="none" stroke="#ebd70a" stroke-width="20" stroke-linecap="round" stroke-linejoin="round"/>
<path d="M440.0,226.2C440.8,225.4 442.9,223.3 445.0,221.2C447.1,219.2 449.8,216.5 452.5,213.8C455.2,211.0 458.5,207.5 461.2,205.0C464.0,202.5 465.8,200.8 468.8,198.8C471.7,196.7 475.4,194.6 478.8,192.5C482.1,190.4 485.6,188.8 488.8,186.2C491.9,183.8 494.8,180.4 497.5,177.5C500.2,174.6 502.5,171.9 505.0,168.8C507.5,165.6 510.4,162.1 512.5,158.8C514.6,155.4 516.9,150.9 517.5,148.8C518.1,146.6 516.5,146.1 516.2,145.6" fill="none" stroke="#fff033" stroke-width="14" stroke-linecap="round" stroke-linejoin="round"/>
<path d="M440.0,226.2C440.8,225.4 442.9,223.3 445.0,221.2C447.1,219.2 449.8,216.5 452.5,213.8C455.2,211.0 458.5,207.5 461.2,205.0C464.0,202.5 465.8,200.8 468.8,198.8C471.7,196.7 475.4,194.6 478.8,192.5C482.1,190.4 485.6,188.8 488.8,186.2C491.9,183.8 494.8,180.4 497.5,177.5C500.2,174.6 502.5,171.9 505.0,168.8C507.5,165.6 510.4,162.1 512.5,158.8C514.6,155.4 516.9,150.9 517.5,148.8C518.1,146.6 516.5,146.1 516.2,145.6" fill="none" stroke="#5be61c" stroke-width="4" stroke-linecap="round" stroke-linejoin="round"/>
</g>
<use href="#db"/><use href="#ol"/><use href="#ct"/>
<g class="c"><text x="431" y="167">Parvathipuram</text><text x="449.5" y="188">Srikakulam</text><text x="425.5" y="195.5">Vizianagaram</text><text x="404.5" y="211">Paderu</text><text x="419.5" y="217">Visakhapatnam</text><text x="407.5" y="228">Anakapalli</text><text x="362.5" y="247">Rajahmundry</text><text x="338.5" y="264.5">Eluru</text><text x="379" y="263">Kakinada</text><text x="292" y="270.5">Vijayawada</text><text x="275.5" y="276">Amaravati</text><text x="337" y="275">Bhimavaram</text><text x="296.5" y="288">Guntur</text><text x="358" y="287">Amalapuram</text><text x="263.5" y="302">Narasaraopet</text><text x="314.5" y="304">Machilipatnam</text><text x="182.5" y="312">Kurnool</text><text x="196" y="330">Nandyal</text><text x="275" y="339">Ongole</text><text x="149.5" y="372">Anantapur</text><text x="272" y="381">Nellore</text><text x="220" y="390.5">Kadapa</text><text x="200.5" y="411">Rayachoti</text><text x="140.5" y="413">Hindupur</text><text x="250" y="422">Tirupati</text><text x="229" y="454">Chittoor</text></g>
<text x="205.6" y="211.5" class="d">Mar_29</text>
</g>
<rect x="523" y="481.5" width="395" height="332.0" fill="#fff"/>
<path d="M523,481.5V813.5" stroke="#111" stroke-width="1.1" fill="none"/><path d="M918,481.5V813.5" stroke="#111" stroke-width="1.1" fill="none"/>
<path d="M522.5,481.5H918.5" stroke="#555" stroke-width="1.2" fill="none"/><path d="M522.5,813.5H918.5" stroke="#111" stroke-width="1.3" fill="none"/>
<g transform="translate(400,337.5)">
<g clip-path="url(#st)">
<rect x="120" y="140" width="400" height="340" fill="#ff8020"/>
<path d="M141.2,307.5C143.8,305.8 150.6,304.6 157.5,305.0C164.4,305.4 175.4,310.4 182.5,310.0C189.6,309.6 193.8,303.9 200.0,302.5C206.2,301.1 215.2,301.7 220.0,301.9C224.8,302.1 227.1,299.5 228.8,303.8C230.4,308.0 228.1,325.6 230.0,327.5C231.9,329.4 237.5,320.4 240.0,315.0C242.5,309.6 241.0,298.8 245.0,295.0C249.0,291.2 257.5,291.2 263.8,292.5C270.0,293.8 279.6,297.7 282.5,302.5C285.4,307.3 282.5,315.0 281.2,321.2C280.0,327.5 274.8,333.5 275.0,340.0C275.2,346.5 280.8,353.8 282.5,360.0C284.2,366.2 284.6,370.4 285.0,377.5C285.4,384.6 285.4,395.4 285.0,402.5C284.6,409.6 286.5,417.9 282.5,420.0C278.5,422.1 265.4,415.8 261.2,415.0C257.1,414.2 261.2,415.0 257.5,415.0C253.8,415.0 245.0,415.0 238.8,415.0C232.5,415.0 224.8,418.5 220.0,415.0C215.2,411.5 214.2,396.7 210.0,393.8C205.8,390.8 200.4,396.9 195.0,397.5C189.6,398.1 181.7,398.8 177.5,397.5C173.3,396.2 172.5,393.8 170.0,390.0C167.5,386.2 164.6,378.3 162.5,375.0C160.4,371.7 160.4,371.2 157.5,370.0C154.6,368.8 147.7,369.6 145.0,367.5C142.3,365.4 140.8,361.2 141.2,357.5C141.7,353.8 147.7,349.6 147.5,345.0C147.3,340.4 140.8,335.0 140.0,330.0C139.2,325.0 142.3,318.8 142.5,315.0C142.7,311.2 138.8,309.2 141.2,307.5Z" fill="#fa5078"/>
<path d="M143.8,307.5C150.0,306.0 173.1,310.6 182.5,310.0C191.9,309.4 197.1,300.8 200.0,303.8C202.9,306.7 201.7,323.5 200.0,327.5C198.3,331.5 195.0,327.7 190.0,327.5C185.0,327.3 175.4,327.7 170.0,326.2C164.6,324.8 161.7,320.0 157.5,318.8C153.3,317.5 147.3,320.6 145.0,318.8C142.7,316.9 137.5,309.0 143.8,307.5Z" fill="#f5205a"/>
<path d="M170.0,348.8C173.8,345.6 190.8,345.6 195.0,348.8C199.2,351.9 198.8,364.4 195.0,367.5C191.2,370.6 176.7,370.6 172.5,367.5C168.3,364.4 166.2,351.9 170.0,348.8Z" fill="#f5205a"/>
<path d="M195.0,330.0C197.9,327.5 202.5,327.3 207.5,327.5C212.5,327.7 222.1,328.3 225.0,331.2C227.9,334.2 222.5,342.3 225.0,345.0C227.5,347.7 236.7,343.8 240.0,347.5C243.3,351.2 242.9,361.7 245.0,367.5C247.1,373.3 251.2,377.1 252.5,382.5C253.8,387.9 253.8,396.7 252.5,400.0C251.2,403.3 247.5,402.5 245.0,402.5C242.5,402.5 241.7,401.7 237.5,400.0C233.3,398.3 225.0,394.2 220.0,392.5C215.0,390.8 211.7,391.7 207.5,390.0C203.3,388.3 197.7,385.8 195.0,382.5C192.3,379.2 191.2,374.2 191.2,370.0C191.2,365.8 195.2,362.1 195.0,357.5C194.8,352.9 190.0,347.1 190.0,342.5C190.0,337.9 192.1,332.5 195.0,330.0Z" fill="#f5205a"/>
<path d="M245.0,297.5C249.0,294.0 257.7,292.5 263.8,293.8C269.8,295.0 278.5,299.4 281.2,305.0C284.0,310.6 281.9,320.8 280.0,327.5C278.1,334.2 274.8,342.1 270.0,345.0C265.2,347.9 254.6,347.1 251.2,345.0C247.9,342.9 251.9,334.8 250.0,332.5C248.1,330.2 242.9,330.4 240.0,331.2C237.1,332.1 234.2,338.1 232.5,337.5C230.8,336.9 228.8,331.2 230.0,327.5C231.2,323.8 237.5,320.0 240.0,315.0C242.5,310.0 241.0,301.0 245.0,297.5Z" fill="#f5205a"/>
<path d="M245.0,350.0C248.8,346.5 264.0,346.2 270.0,348.8C276.0,351.2 279.2,358.1 281.2,365.0C283.3,371.9 282.5,381.2 282.5,390.0C282.5,398.8 283.8,413.3 281.2,417.5C278.8,421.7 271.0,418.3 267.5,415.0C264.0,411.7 262.1,402.5 260.0,397.5C257.9,392.5 257.1,389.6 255.0,385.0C252.9,380.4 249.2,375.8 247.5,370.0C245.8,364.2 241.2,353.5 245.0,350.0Z" fill="#f5205a"/>
<path d="M232.5,305.0C236.5,297.1 243.3,296.2 251.2,295.0C259.2,293.8 275.2,293.8 280.0,297.5C284.8,301.2 280.8,310.0 280.0,317.5C279.2,325.0 275.4,332.1 275.0,342.5C274.6,352.9 284.6,373.8 277.5,380.0C270.4,386.2 240.8,386.2 232.5,380.0C224.2,373.8 227.5,355.0 227.5,342.5C227.5,330.0 228.5,312.9 232.5,305.0Z" fill="#f5205a"/>
<path d="M232.5,317.5C235.6,313.3 248.1,313.3 251.2,317.5C254.4,321.7 254.4,338.3 251.2,342.5C248.1,346.7 235.6,346.7 232.5,342.5C229.4,338.3 229.4,321.7 232.5,317.5Z" fill="#fa5078"/>
<path d="M240.0,333.8C241.2,331.9 246.2,331.9 247.5,333.8C248.8,335.6 248.8,343.1 247.5,345.0C246.2,346.9 241.2,346.9 240.0,345.0C238.8,343.1 238.8,335.6 240.0,333.8Z" fill="#ffa46e"/>
<path d="M128.8,350.0C130.8,346.7 142.3,346.7 145.0,350.0C147.7,353.3 147.1,366.7 145.0,370.0C142.9,373.3 135.2,373.3 132.5,370.0C129.8,366.7 126.7,353.3 128.8,350.0Z" fill="#ffa46e"/>
<path d="M153.8,351.2C155.6,349.8 163.1,349.8 165.0,351.2C166.9,352.7 166.9,358.5 165.0,360.0C163.1,361.5 155.6,361.5 153.8,360.0C151.9,358.5 151.9,352.7 153.8,351.2Z" fill="#ffa46e"/>
<path d="M166.2,331.2C167.5,329.8 172.5,329.8 173.8,331.2C175.0,332.7 175.0,338.5 173.8,340.0C172.5,341.5 167.5,341.5 166.2,340.0C165.0,338.5 165.0,332.7 166.2,331.2Z" fill="#ffa46e"/>
<path d="M230.0,297.5C232.5,291.7 242.5,293.8 245.0,296.2C247.5,298.8 246.2,308.1 245.0,312.5C243.8,316.9 240.0,319.4 237.5,322.5C235.0,325.6 231.2,335.4 230.0,331.2C228.8,327.1 227.5,303.3 230.0,297.5Z" fill="#ffa46e"/>
<path d="M230.0,300.0C231.5,295.4 236.7,296.2 237.5,300.0C238.3,303.8 236.5,317.9 235.0,322.5C233.5,327.1 229.6,331.2 228.8,327.5C227.9,323.8 228.5,304.6 230.0,300.0Z" fill="#ff8020"/>
<path d="M238.8,335.0C240.2,333.3 246.0,333.3 247.5,335.0C249.0,336.7 249.0,343.3 247.5,345.0C246.0,346.7 240.2,346.7 238.8,345.0C237.3,343.3 237.3,336.7 238.8,335.0Z" fill="#ffa46e"/>
<path d="M157.5,370.0C158.3,367.5 160.4,371.7 162.5,375.0C164.6,378.3 167.5,386.2 170.0,390.0C172.5,393.8 173.3,396.2 177.5,397.5C181.7,398.8 189.6,398.1 195.0,397.5C200.4,396.9 207.3,390.8 210.0,393.8C212.7,396.7 212.9,411.0 211.2,415.0C209.6,419.0 204.0,418.8 200.0,417.5C196.0,416.2 191.7,409.6 187.5,407.5C183.3,405.4 179.4,406.2 175.0,405.0C170.6,403.8 164.2,402.5 161.2,400.0C158.3,397.5 158.1,395.0 157.5,390.0C156.9,385.0 156.7,372.5 157.5,370.0Z" fill="#ffa46e"/>
<path d="M211.2,396.2C213.3,394.2 221.7,394.2 223.8,396.2C225.8,398.3 225.8,406.7 223.8,408.8C221.7,410.8 213.3,410.8 211.2,408.8C209.2,406.7 209.2,398.3 211.2,396.2Z" fill="#ffa46e"/>
<path d="M273.8,340.0C273.5,333.5 278.8,324.4 281.2,321.2C283.8,318.1 287.7,316.0 288.8,321.2C289.8,326.5 287.7,339.0 287.5,352.5C287.3,366.0 288.3,391.2 287.5,402.5C286.7,413.8 282.9,422.1 282.5,420.0C282.1,417.9 285.0,400.0 285.0,390.0C285.0,380.0 284.4,368.3 282.5,360.0C280.6,351.7 274.0,346.5 273.8,340.0Z" fill="#ffa46e"/>
<path d="M263.8,425.0C266.9,423.3 279.4,423.3 282.5,425.0C285.6,426.7 285.6,433.3 282.5,435.0C279.4,436.7 266.9,436.7 263.8,435.0C260.6,433.3 260.6,426.7 263.8,425.0Z" fill="#ffa46e"/>
<path d="M228.8,365.0C229.6,363.1 233.5,363.3 235.0,365.0C236.5,366.7 238.3,373.1 237.5,375.0C236.7,376.9 231.5,377.9 230.0,376.2C228.5,374.6 227.9,366.9 228.8,365.0Z" fill="#ffa46e"/>
<path d="M130.0,365.0C132.3,363.8 140.4,369.0 145.0,370.0C149.6,371.0 155.4,367.9 157.5,371.2C159.6,374.6 160.6,386.9 157.5,390.0C154.4,393.1 143.1,392.1 138.8,390.0C134.4,387.9 132.7,381.7 131.2,377.5C129.8,373.3 127.7,366.2 130.0,365.0Z" fill="#ff8020"/>
<path d="M136.2,400.0C139.8,396.7 149.4,396.5 157.5,396.2C165.6,396.0 176.7,397.7 185.0,398.8C193.3,399.8 203.8,399.8 207.5,402.5C211.2,405.2 212.5,413.8 207.5,415.0C202.5,416.2 185.2,410.0 177.5,410.0C169.8,410.0 168.1,414.0 161.2,415.0C154.4,416.0 140.4,418.8 136.2,416.2C132.1,413.8 132.7,403.3 136.2,400.0Z" fill="#ff8020"/>
<path d="M141.2,412.5C142.3,411.9 146.5,411.9 147.5,412.5C148.5,413.1 148.5,415.6 147.5,416.2C146.5,416.9 142.3,416.9 141.2,416.2C140.2,415.6 140.2,413.1 141.2,412.5Z" fill="#ebd70a"/>
<path d="M195.0,415.0C197.5,410.8 202.5,415.0 210.0,415.0C217.5,415.0 232.1,415.0 240.0,415.0C247.9,415.0 254.6,410.8 257.5,415.0C260.4,419.2 267.9,435.8 257.5,440.0C247.1,444.2 205.4,444.2 195.0,440.0C184.6,435.8 192.5,419.2 195.0,415.0Z" fill="#ff8020"/>
<path d="M245.0,413.8C246.2,412.7 251.2,412.7 252.5,413.8C253.8,414.8 253.8,419.0 252.5,420.0C251.2,421.0 246.2,421.0 245.0,420.0C243.8,419.0 243.8,414.8 245.0,413.8Z" fill="#ebd70a"/>
<path d="M230.0,427.5C231.2,425.4 236.2,425.4 237.5,427.5C238.8,429.6 238.8,437.9 237.5,440.0C236.2,442.1 231.2,442.1 230.0,440.0C228.8,437.9 228.8,429.6 230.0,427.5Z" fill="#f2680c"/>
<path d="M207.5,423.8C209.2,421.2 213.3,424.4 217.5,425.0C221.7,425.6 230.0,425.0 232.5,427.5C235.0,430.0 236.7,437.9 232.5,440.0C228.3,442.1 211.7,442.7 207.5,440.0C203.3,437.3 205.8,426.2 207.5,423.8Z" fill="#ebd70a"/>
<path d="M207.5,437.5C210.0,437.1 220.8,438.3 225.0,440.0C229.2,441.7 233.3,445.4 232.5,447.5C231.7,449.6 222.5,449.6 220.0,452.5C217.5,455.4 219.2,461.5 217.5,465.0C215.8,468.5 213.3,472.9 210.0,473.8C206.7,474.6 199.0,472.1 197.5,470.0C196.0,467.9 198.8,464.6 201.2,461.2C203.8,457.9 211.0,453.1 212.5,450.0C214.0,446.9 210.8,444.6 210.0,442.5C209.2,440.4 205.0,437.9 207.5,437.5Z" fill="#fff033"/>
<path d="M236.2,431.2C234.9,434.0 230.7,442.1 228.1,447.5C225.5,452.9 223.1,459.5 220.6,463.8C218.1,468.0 214.4,471.2 213.1,472.8" fill="none" stroke="#ff8020" stroke-width="5.5" stroke-linecap="round" stroke-linejoin="round"/>
<path d="M232.5,427.5C237.1,425.0 255.4,423.8 260.0,427.5C264.6,431.2 264.2,445.8 260.0,450.0C255.8,454.2 239.6,453.8 235.0,452.5C230.4,451.2 232.9,446.7 232.5,442.5C232.1,438.3 227.9,430.0 232.5,427.5Z" fill="#ff8020"/>
<path d="M231.2,295.0C235.0,292.5 247.3,292.9 250.0,295.0C252.7,297.1 250.0,302.5 247.5,307.5C245.0,312.5 238.3,321.2 235.0,325.0C231.7,328.8 228.8,332.5 227.5,330.0C226.2,327.5 226.9,315.8 227.5,310.0C228.1,304.2 227.5,297.5 231.2,295.0Z" fill="#ffa46e"/>
<path d="M233.8,297.5C235.6,295.4 243.5,295.8 245.0,297.5C246.5,299.2 244.4,305.4 242.5,307.5C240.6,309.6 235.2,311.7 233.8,310.0C232.3,308.3 231.9,299.6 233.8,297.5Z" fill="#ff8020"/>
<path d="M185.0,311.2C186.7,309.8 193.3,309.8 195.0,311.2C196.7,312.7 196.7,318.5 195.0,320.0C193.3,321.5 186.7,321.5 185.0,320.0C183.3,318.5 183.3,312.7 185.0,311.2Z" fill="#c80000"/>
<path d="M195.0,333.8C197.1,331.2 202.5,331.5 205.0,332.5C207.5,333.5 207.7,338.3 210.0,340.0C212.3,341.7 217.1,340.0 218.8,342.5C220.4,345.0 223.1,353.1 220.0,355.0C216.9,356.9 204.6,355.0 200.0,353.8C195.4,352.5 193.3,350.8 192.5,347.5C191.7,344.2 192.9,336.2 195.0,333.8Z" fill="#c80000"/>
<path d="M182.5,353.8C184.2,352.1 190.8,352.1 192.5,353.8C194.2,355.4 194.2,362.1 192.5,363.8C190.8,365.4 184.2,365.4 182.5,363.8C180.8,362.1 180.8,355.4 182.5,353.8Z" fill="#c80000"/>
<path d="M207.5,356.2C208.5,354.2 215.6,355.2 218.8,357.5C221.9,359.8 224.8,365.8 226.2,370.0C227.7,374.2 228.8,380.4 227.5,382.5C226.2,384.6 221.2,384.6 218.8,382.5C216.2,380.4 214.4,374.4 212.5,370.0C210.6,365.6 206.5,358.3 207.5,356.2Z" fill="#c80000"/>
<path d="M237.5,382.5C239.2,380.0 247.9,379.8 250.0,382.5C252.1,385.2 251.7,396.2 250.0,398.8C248.3,401.2 242.1,400.2 240.0,397.5C237.9,394.8 235.8,385.0 237.5,382.5Z" fill="#c80000"/>
<path d="M257.5,368.8C260.4,366.9 273.1,367.7 276.2,370.0C279.4,372.3 279.2,380.6 276.2,382.5C273.3,384.4 261.9,383.5 258.8,381.2C255.6,379.0 254.6,370.6 257.5,368.8Z" fill="#c80000"/>
<path d="M267.5,392.5C268.8,391.0 273.8,391.0 275.0,392.5C276.2,394.0 276.2,399.8 275.0,401.2C273.8,402.7 268.8,402.7 267.5,401.2C266.2,399.8 266.2,394.0 267.5,392.5Z" fill="#c80000"/>
<path d="M248.8,277.5C250.6,274.3 255.0,276.2 261.2,273.1C267.5,270.0 280.6,262.2 286.2,258.8C291.9,255.3 291.9,253.1 295.0,252.5C298.1,251.9 303.3,251.9 305.0,255.0C306.7,258.1 306.2,267.1 305.0,271.2C303.8,275.4 299.2,276.0 297.5,280.0C295.8,284.0 300.4,292.1 295.0,295.0C289.6,297.9 272.5,297.9 265.0,297.5C257.5,297.1 252.7,295.8 250.0,292.5C247.3,289.2 246.9,280.7 248.8,277.5Z" fill="#fa5078"/>
<path d="M248.8,277.5C250.6,275.5 256.0,274.2 261.2,273.1C266.5,272.1 276.9,269.7 280.0,271.2C283.1,272.8 283.1,280.4 280.0,282.5C276.9,284.6 266.2,283.3 261.2,283.8C256.2,284.2 252.1,286.0 250.0,285.0C247.9,284.0 246.9,279.5 248.8,277.5Z" fill="#f5205a"/>
<path d="M286.2,255.0C287.1,252.2 292.3,253.1 295.0,253.1C297.7,253.1 301.2,252.2 302.5,255.0C303.8,257.8 304.6,267.5 302.5,270.0C300.4,272.5 292.7,272.5 290.0,270.0C287.3,267.5 285.4,257.8 286.2,255.0Z" fill="#f5205a"/>
<path d="M267.5,282.5C270.4,281.2 282.1,281.2 285.0,282.5C287.9,283.8 287.9,288.8 285.0,290.0C282.1,291.2 270.4,291.2 267.5,290.0C264.6,288.8 264.6,283.8 267.5,282.5Z" fill="#ffa46e"/>
<path d="M295.0,273.8C299.2,269.4 315.8,271.0 320.0,273.8C324.2,276.5 322.1,285.6 320.0,290.0C317.9,294.4 311.7,298.3 307.5,300.0C303.3,301.7 297.1,304.4 295.0,300.0C292.9,295.6 290.8,278.1 295.0,273.8Z" fill="#ffa46e"/>
<path d="M307.5,251.2C309.2,247.9 315.8,247.9 317.5,251.2C319.2,254.6 319.2,267.9 317.5,271.2C315.8,274.6 309.2,274.6 307.5,271.2C305.8,267.9 305.8,254.6 307.5,251.2Z" fill="#ffa46e"/>
<path d="M357.5,248.8C359.6,245.2 372.1,244.0 376.2,246.2C380.4,248.5 384.6,259.0 382.5,262.5C380.4,266.0 367.9,269.8 363.8,267.5C359.6,265.2 355.4,252.3 357.5,248.8Z" fill="#f2680c"/>
<path d="M327.5,255.0C329.2,252.5 337.9,250.4 340.0,252.5C342.1,254.6 341.7,265.0 340.0,267.5C338.3,270.0 332.1,269.6 330.0,267.5C327.9,265.4 325.8,257.5 327.5,255.0Z" fill="#f2680c"/>
<path d="M345.0,230.0C357.5,227.9 407.5,228.8 420.0,230.0C432.5,231.2 426.2,235.4 420.0,237.5C413.8,239.6 395.0,241.7 382.5,242.5C370.0,243.3 351.2,244.6 345.0,242.5C338.8,240.4 332.5,232.1 345.0,230.0Z" fill="#ebd70a"/>
<path d="M357.5,230.0C365.8,229.0 403.3,229.0 407.5,230.0C411.7,231.0 390.8,235.2 382.5,236.2C374.2,237.3 361.7,237.3 357.5,236.2C353.3,235.2 349.2,231.0 357.5,230.0Z" fill="#5be61c"/>
<path d="M342.5,272.5C351.2,270.2 386.7,269.6 395.0,271.2C403.3,272.9 401.2,280.2 392.5,282.5C383.8,284.8 350.8,286.7 342.5,285.0C334.2,283.3 333.8,274.8 342.5,272.5Z" fill="#ebd70a"/>
<path d="M347.5,275.0C355.0,273.3 385.8,272.7 392.5,273.8C399.2,274.8 395.0,279.6 387.5,281.2C380.0,282.9 354.2,284.8 347.5,283.8C340.8,282.7 340.0,276.7 347.5,275.0Z" fill="#fff033"/>
<path d="M327.5,215.0C329.0,214.2 334.8,214.2 336.2,215.0C337.7,215.8 337.7,219.2 336.2,220.0C334.8,220.8 329.0,220.8 327.5,220.0C326.0,219.2 326.0,215.8 327.5,215.0Z" fill="#fa5078"/>
<path d="M347.5,243.8C346.7,240.6 350.0,232.3 352.5,227.5C355.0,222.7 357.9,219.0 362.5,215.0C367.1,211.0 374.2,206.0 380.0,203.8C385.8,201.5 394.2,205.0 397.5,201.2C400.8,197.5 398.5,185.4 400.0,181.2C401.5,177.1 403.8,174.8 406.2,176.2C408.8,177.7 412.1,189.1 415.0,190.0C417.9,190.9 420.4,182.5 423.8,181.9C427.1,181.2 432.3,184.1 435.0,186.2C437.7,188.4 440.4,191.9 440.0,195.0C439.6,198.1 435.4,201.7 432.5,205.0C429.6,208.3 425.4,211.2 422.5,215.0C419.6,218.8 417.5,223.3 415.0,227.5C412.5,231.7 410.4,236.7 407.5,240.0C404.6,243.3 400.4,247.9 397.5,247.5C394.6,247.1 392.5,240.4 390.0,237.5C387.5,234.6 385.8,229.6 382.5,230.0C379.2,230.4 374.2,237.3 370.0,240.0C365.8,242.7 361.2,245.6 357.5,246.2C353.8,246.9 348.3,246.9 347.5,243.8Z" fill="#ebd70a"/>
<path d="M350.0,241.2C349.6,238.8 352.7,231.7 355.0,227.5C357.3,223.3 359.6,220.0 363.8,216.2C367.9,212.5 374.4,207.3 380.0,205.0C385.6,202.7 394.0,206.2 397.5,202.5C401.0,198.8 399.8,186.7 401.2,182.5C402.7,178.3 404.2,176.2 406.2,177.5C408.3,178.8 410.8,189.1 413.8,190.0C416.7,190.9 420.4,183.6 423.8,183.1C427.1,182.6 431.5,184.9 433.8,186.9C436.0,188.9 437.9,192.2 437.5,195.0C437.1,197.8 434.2,200.4 431.2,203.8C428.3,207.1 423.1,211.0 420.0,215.0C416.9,219.0 415.0,223.8 412.5,227.5C410.0,231.2 407.5,235.0 405.0,237.5C402.5,240.0 400.0,243.3 397.5,242.5C395.0,241.7 392.5,235.2 390.0,232.5C387.5,229.8 385.8,225.6 382.5,226.2C379.2,226.9 374.2,233.5 370.0,236.2C365.8,239.0 360.8,241.7 357.5,242.5C354.2,243.3 350.4,243.8 350.0,241.2Z" fill="#fff033"/>
<path d="M357.5,227.5C357.9,224.4 361.2,221.0 365.0,217.5C368.8,214.0 374.6,208.5 380.0,206.2C385.4,204.0 394.0,207.5 397.5,203.8C401.0,200.0 399.8,187.9 401.2,183.8C402.7,179.6 404.3,177.5 406.2,178.8C408.2,180.0 410.2,190.3 413.1,191.2C416.0,192.2 420.5,184.9 423.8,184.4C427.0,183.9 431.0,186.1 432.5,188.1C434.0,190.1 434.6,193.0 432.5,196.2C430.4,199.5 424.2,204.4 420.0,207.5C415.8,210.6 411.2,212.1 407.5,215.0C403.8,217.9 401.2,223.3 397.5,225.0C393.8,226.7 388.8,223.3 385.0,225.0C381.2,226.7 378.8,233.1 375.0,235.0C371.2,236.9 365.4,237.5 362.5,236.2C359.6,235.0 357.1,230.6 357.5,227.5Z" fill="#5be61c"/>
<path d="M362.5,226.2C363.3,223.3 367.1,218.0 370.0,215.0C372.9,212.0 375.0,209.8 380.0,208.1C385.0,206.5 396.2,208.9 400.0,205.0C403.8,201.1 401.5,189.2 402.5,185.0C403.5,180.8 404.6,178.8 406.2,180.0C407.9,181.2 409.6,191.6 412.5,192.5C415.4,193.4 420.6,186.1 423.8,185.6C426.9,185.1 430.2,187.6 431.2,189.4C432.3,191.1 431.9,193.6 430.0,196.2C428.1,198.9 423.8,202.3 420.0,205.0C416.2,207.7 410.8,209.8 407.5,212.5C404.2,215.2 403.8,219.6 400.0,221.2C396.2,222.9 389.2,220.8 385.0,222.5C380.8,224.2 378.3,229.6 375.0,231.2C371.7,232.9 367.1,233.3 365.0,232.5C362.9,231.7 361.7,229.2 362.5,226.2Z" fill="#1fce0f"/>
<path d="M370.0,220.0C370.4,217.9 371.7,214.4 375.0,212.5C378.3,210.6 385.8,209.0 390.0,208.8C394.2,208.5 399.2,209.4 400.0,211.2C400.8,213.1 398.3,218.1 395.0,220.0C391.7,221.9 383.8,221.7 380.0,222.5C376.2,223.3 374.2,225.4 372.5,225.0C370.8,224.6 369.6,222.1 370.0,220.0Z" fill="#1a8f22"/>
<path d="M405.0,192.5C406.5,190.0 410.8,190.4 415.0,190.0C419.2,189.6 427.5,187.5 430.0,190.0C432.5,192.5 432.5,202.1 430.0,205.0C427.5,207.9 419.0,207.5 415.0,207.5C411.0,207.5 407.9,207.5 406.2,205.0C404.6,202.5 403.5,195.0 405.0,192.5Z" fill="#1a8f22"/>
<path d="M407.5,195.0C410.4,192.7 424.2,190.8 427.5,192.5C430.8,194.2 430.4,202.7 427.5,205.0C424.6,207.3 413.3,207.9 410.0,206.2C406.7,204.6 404.6,197.3 407.5,195.0Z" fill="#003c86"/>
<path d="M415.0,195.6C416.4,194.5 423.3,193.8 425.0,194.4C426.7,195.0 426.4,198.2 425.0,199.4C423.6,200.5 418.5,201.9 416.9,201.2C415.2,200.6 413.6,196.8 415.0,195.6Z" fill="#0064d2"/>
<path d="M380.0,232.5C381.2,229.2 385.0,226.7 387.5,227.5C390.0,228.3 394.6,233.8 395.0,237.5C395.4,241.2 392.5,248.3 390.0,250.0C387.5,251.7 381.7,250.4 380.0,247.5C378.3,244.6 378.8,235.8 380.0,232.5Z" fill="#f2680c"/>
<path d="M397.5,230.0C399.6,227.7 407.9,227.7 410.0,230.0C412.1,232.3 412.1,241.5 410.0,243.8C407.9,246.0 399.6,246.0 397.5,243.8C395.4,241.5 395.4,232.3 397.5,230.0Z" fill="#ebd70a"/>
<path d="M470.0,177.5C472.1,172.9 477.9,167.9 482.5,165.0C487.1,162.1 492.1,162.5 497.5,160.0C502.9,157.5 512.5,150.0 515.0,150.0C517.5,150.0 515.8,154.4 512.5,160.0C509.2,165.6 500.0,178.3 495.0,183.8C490.0,189.2 486.7,191.0 482.5,192.5C478.3,194.0 472.1,195.0 470.0,192.5C467.9,190.0 467.9,182.1 470.0,177.5Z" fill="#ebd70a"/>
<path d="M475.0,178.8C477.5,174.2 491.2,166.7 497.5,162.5C503.8,158.3 512.9,150.6 512.5,153.8C512.1,156.9 500.0,175.2 495.0,181.2C490.0,187.3 485.8,190.4 482.5,190.0C479.2,189.6 472.5,183.3 475.0,178.8Z" fill="#fff033"/>
<path d="M457.5,150.0C458.3,148.3 461.7,145.8 463.8,147.5C465.8,149.2 469.8,157.1 470.0,160.0C470.2,162.9 466.9,165.4 465.0,165.0C463.1,164.6 460.0,160.0 458.8,157.5C457.5,155.0 456.7,151.7 457.5,150.0Z" fill="#ebd70a"/>
<path d="M452.5,167.5C453.5,166.5 457.7,166.5 458.8,167.5C459.8,168.5 459.8,172.7 458.8,173.8C457.7,174.8 453.5,174.8 452.5,173.8C451.5,172.7 451.5,168.5 452.5,167.5Z" fill="#fa5078"/>
<path d="M442.5,177.5C445.0,175.4 455.0,175.4 457.5,177.5C460.0,179.6 460.0,187.9 457.5,190.0C455.0,192.1 445.0,192.1 442.5,190.0C440.0,187.9 440.0,179.6 442.5,177.5Z" fill="#ffa46e"/>
<path d="M436.2,168.8C436.5,170.2 437.7,174.4 437.5,177.5C437.3,180.6 435.4,185.8 435.0,187.5" fill="none" stroke="#fff033" stroke-width="4" stroke-linecap="round" stroke-linejoin="round"/>
<path d="M434.4,168.8C434.6,170.2 435.8,174.4 435.6,177.5C435.4,180.6 433.5,185.8 433.1,187.5" fill="none" stroke="#5be61c" stroke-width="2.5" stroke-linecap="round" stroke-linejoin="round"/>
<path d="M297.5,430.0C297.6,429.2 298.1,427.1 298.1,425.0C298.1,422.9 298.0,420.0 297.5,417.5C297.0,415.0 295.8,412.5 295.0,410.0C294.2,407.5 293.1,405.2 292.5,402.5C291.9,399.8 291.2,396.5 291.2,393.8C291.2,391.0 291.9,389.0 292.5,386.2C293.1,383.5 295.0,380.2 295.0,377.5C295.0,374.8 292.9,371.2 292.5,370.0" fill="none" stroke="#ff8020" stroke-width="24" stroke-linecap="round" stroke-linejoin="round"/>
<path d="M297.5,430.0C297.6,429.2 298.1,427.1 298.1,425.0C298.1,422.9 298.0,420.0 297.5,417.5C297.0,415.0 295.8,412.5 295.0,410.0C294.2,407.5 293.1,405.2 292.5,402.5C291.9,399.8 291.2,396.5 291.2,393.8C291.2,391.0 291.9,389.0 292.5,386.2C293.1,383.5 295.0,380.2 295.0,377.5C295.0,374.8 292.9,371.2 292.5,370.0" fill="none" stroke="#f2680c" stroke-width="16" stroke-linecap="round" stroke-linejoin="round"/>
<path d="M297.5,430.0C297.6,429.2 298.1,427.1 298.1,425.0C298.1,422.9 298.0,420.0 297.5,417.5C297.0,415.0 295.8,412.5 295.0,410.0C294.2,407.5 293.1,405.2 292.5,402.5C291.9,399.8 291.2,396.5 291.2,393.8C291.2,391.0 291.9,389.0 292.5,386.2C293.1,383.5 295.0,380.2 295.0,377.5C295.0,374.8 292.9,371.2 292.5,370.0" fill="none" stroke="#ebd70a" stroke-width="13" stroke-linecap="round" stroke-linejoin="round"/>
<path d="M297.5,430.0C297.6,429.2 298.1,427.1 298.1,425.0C298.1,422.9 298.0,420.0 297.5,417.5C297.0,415.0 295.8,412.5 295.0,410.0C294.2,407.5 293.1,405.2 292.5,402.5C291.9,399.8 291.2,396.5 291.2,393.8C291.2,391.0 291.9,389.0 292.5,386.2C293.1,383.5 295.0,380.2 295.0,377.5C295.0,374.8 292.9,371.2 292.5,370.0" fill="none" stroke="#fff033" stroke-width="10" stroke-linecap="round" stroke-linejoin="round"/>
<path d="M297.5,430.0C297.6,429.2 298.1,427.1 298.1,425.0C298.1,422.9 298.0,420.0 297.5,417.5C297.0,415.0 295.8,412.5 295.0,410.0C294.2,407.5 293.1,405.2 292.5,402.5C291.9,399.8 291.2,396.5 291.2,393.8C291.2,391.0 291.9,389.0 292.5,386.2C293.1,383.5 295.0,380.2 295.0,377.5C295.0,374.8 292.9,371.2 292.5,370.0" fill="none" stroke="#5be61c" stroke-width="7" stroke-linecap="round" stroke-linejoin="round"/>
<path d="M297.5,430.0C297.6,429.2 298.1,427.1 298.1,425.0C298.1,422.9 298.0,420.0 297.5,417.5C297.0,415.0 295.8,412.5 295.0,410.0C294.2,407.5 293.1,405.2 292.5,402.5C291.9,399.8 291.2,396.5 291.2,393.8C291.2,391.0 291.9,389.0 292.5,386.2C293.1,383.5 295.0,380.2 295.0,377.5C295.0,374.8 292.9,371.2 292.5,370.0" fill="none" stroke="#1fce0f" stroke-width="4" stroke-linecap="round" stroke-linejoin="round"/>
<path d="M297.5,430.0C297.6,429.2 298.1,427.1 298.1,425.0C298.1,422.9 298.0,420.0 297.5,417.5C297.0,415.0 295.8,412.5 295.0,410.0C294.2,407.5 293.1,405.2 292.5,402.5C291.9,399.8 291.2,396.5 291.2,393.8C291.2,391.0 291.9,389.0 292.5,386.2C293.1,383.5 295.0,380.2 295.0,377.5C295.0,374.8 292.9,371.2 292.5,370.0" fill="none" stroke="#1a8f22" stroke-width="2" stroke-linecap="round" stroke-linejoin="round"/>
<path d="M292.5,370.0C292.1,368.5 290.7,364.2 290.0,361.2C289.3,358.3 288.4,355.2 288.1,352.5C287.8,349.8 287.8,347.5 288.1,345.0C288.4,342.5 289.3,339.8 290.0,337.5C290.7,335.2 291.5,333.5 292.5,331.2C293.5,329.0 295.0,326.0 296.2,323.8C297.5,321.5 299.4,318.5 300.0,317.5" fill="none" stroke="#ff8020" stroke-width="22" stroke-linecap="round" stroke-linejoin="round"/>
<path d="M292.5,370.0C292.1,368.5 290.7,364.2 290.0,361.2C289.3,358.3 288.4,355.2 288.1,352.5C287.8,349.8 287.8,347.5 288.1,345.0C288.4,342.5 289.3,339.8 290.0,337.5C290.7,335.2 291.5,333.5 292.5,331.2C293.5,329.0 295.0,326.0 296.2,323.8C297.5,321.5 299.4,318.5 300.0,317.5" fill="none" stroke="#f2680c" stroke-width="15" stroke-linecap="round" stroke-linejoin="round"/>
<path d="M292.5,370.0C292.1,368.5 290.7,364.2 290.0,361.2C289.3,358.3 288.4,355.2 288.1,352.5C287.8,349.8 287.8,347.5 288.1,345.0C288.4,342.5 289.3,339.8 290.0,337.5C290.7,335.2 291.5,333.5 292.5,331.2C293.5,329.0 295.0,326.0 296.2,323.8C297.5,321.5 299.4,318.5 300.0,317.5" fill="none" stroke="#ebd70a" stroke-width="12" stroke-linecap="round" stroke-linejoin="round"/>
<path d="M292.5,370.0C292.1,368.5 290.7,364.2 290.0,361.2C289.3,358.3 288.4,355.2 288.1,352.5C287.8,349.8 287.8,347.5 288.1,345.0C288.4,342.5 289.3,339.8 290.0,337.5C290.7,335.2 291.5,333.5 292.5,331.2C293.5,329.0 295.0,326.0 296.2,323.8C297.5,321.5 299.4,318.5 300.0,317.5" fill="none" stroke="#fff033" stroke-width="10" stroke-linecap="round" stroke-linejoin="round"/>
<path d="M292.5,370.0C292.1,368.5 290.7,364.2 290.0,361.2C289.3,358.3 288.4,355.2 288.1,352.5C287.8,349.8 287.8,347.5 288.1,345.0C288.4,342.5 289.3,339.8 290.0,337.5C290.7,335.2 291.5,333.5 292.5,331.2C293.5,329.0 295.0,326.0 296.2,323.8C297.5,321.5 299.4,318.5 300.0,317.5" fill="none" stroke="#5be61c" stroke-width="7" stroke-linecap="round" stroke-linejoin="round"/>
<path d="M292.5,370.0C292.1,368.5 290.7,364.2 290.0,361.2C289.3,358.3 288.4,355.2 288.1,352.5C287.8,349.8 287.8,347.5 288.1,345.0C288.4,342.5 289.3,339.8 290.0,337.5C290.7,335.2 291.5,333.5 292.5,331.2C293.5,329.0 295.0,326.0 296.2,323.8C297.5,321.5 299.4,318.5 300.0,317.5" fill="none" stroke="#1fce0f" stroke-width="5" stroke-linecap="round" stroke-linejoin="round"/>
<path d="M292.5,370.0C292.1,368.5 290.7,364.2 290.0,361.2C289.3,358.3 288.4,355.2 288.1,352.5C287.8,349.8 287.8,347.5 288.1,345.0C288.4,342.5 289.3,339.8 290.0,337.5C290.7,335.2 291.5,333.5 292.5,331.2C293.5,329.0 295.0,326.0 296.2,323.8C297.5,321.5 299.4,318.5 300.0,317.5" fill="none" stroke="#1a8f22" stroke-width="2" stroke-linecap="round" stroke-linejoin="round"/>
<path d="M300.0,317.5C300.8,316.9 303.1,314.8 305.0,313.8C306.9,312.7 309.0,311.9 311.2,311.2C313.5,310.6 316.7,309.8 318.8,310.0C320.8,310.2 322.6,311.2 323.8,312.5C324.9,313.8 324.6,316.7 325.6,317.5C326.6,318.3 328.4,318.1 330.0,317.5C331.6,316.9 333.5,315.4 335.0,313.8C336.5,312.1 337.7,309.6 338.8,307.5C339.8,305.4 340.2,303.5 341.2,301.2C342.3,299.0 343.3,296.0 345.0,293.8C346.7,291.5 350.2,288.5 351.2,287.5" fill="none" stroke="#ff8020" stroke-width="34" stroke-linecap="round" stroke-linejoin="round"/>
<path d="M300.0,317.5C300.8,316.9 303.1,314.8 305.0,313.8C306.9,312.7 309.0,311.9 311.2,311.2C313.5,310.6 316.7,309.8 318.8,310.0C320.8,310.2 322.6,311.2 323.8,312.5C324.9,313.8 324.6,316.7 325.6,317.5C326.6,318.3 328.4,318.1 330.0,317.5C331.6,316.9 333.5,315.4 335.0,313.8C336.5,312.1 337.7,309.6 338.8,307.5C339.8,305.4 340.2,303.5 341.2,301.2C342.3,299.0 343.3,296.0 345.0,293.8C346.7,291.5 350.2,288.5 351.2,287.5" fill="none" stroke="#f2680c" stroke-width="26" stroke-linecap="round" stroke-linejoin="round"/>
<path d="M300.0,317.5C300.8,316.9 303.1,314.8 305.0,313.8C306.9,312.7 309.0,311.9 311.2,311.2C313.5,310.6 316.7,309.8 318.8,310.0C320.8,310.2 322.6,311.2 323.8,312.5C324.9,313.8 324.6,316.7 325.6,317.5C326.6,318.3 328.4,318.1 330.0,317.5C331.6,316.9 333.5,315.4 335.0,313.8C336.5,312.1 337.7,309.6 338.8,307.5C339.8,305.4 340.2,303.5 341.2,301.2C342.3,299.0 343.3,296.0 345.0,293.8C346.7,291.5 350.2,288.5 351.2,287.5" fill="none" stroke="#ebd70a" stroke-width="22" stroke-linecap="round" stroke-linejoin="round"/>
<path d="M300.0,317.5C300.8,316.9 303.1,314.8 305.0,313.8C306.9,312.7 309.0,311.9 311.2,311.2C313.5,310.6 316.7,309.8 318.8,310.0C320.8,310.2 322.6,311.2 323.8,312.5C324.9,313.8 324.6,316.7 325.6,317.5C326.6,318.3 328.4,318.1 330.0,317.5C331.6,316.9 333.5,315.4 335.0,313.8C336.5,312.1 337.7,309.6 338.8,307.5C339.8,305.4 340.2,303.5 341.2,301.2C342.3,299.0 343.3,296.0 345.0,293.8C346.7,291.5 350.2,288.5 351.2,287.5" fill="none" stroke="#fff033" stroke-width="18" stroke-linecap="round" stroke-linejoin="round"/>
<path d="M300.0,317.5C300.8,316.9 303.1,314.8 305.0,313.8C306.9,312.7 309.0,311.9 311.2,311.2C313.5,310.6 316.7,309.8 318.8,310.0C320.8,310.2 322.6,311.2 323.8,312.5C324.9,313.8 324.6,316.7 325.6,317.5C326.6,318.3 328.4,318.1 330.0,317.5C331.6,316.9 333.5,315.4 335.0,313.8C336.5,312.1 337.7,309.6 338.8,307.5C339.8,305.4 340.2,303.5 341.2,301.2C342.3,299.0 343.3,296.0 345.0,293.8C346.7,291.5 350.2,288.5 351.2,287.5" fill="none" stroke="#5be61c" stroke-width="13" stroke-linecap="round" stroke-linejoin="round"/>
<path d="M300.0,317.5C300.8,316.9 303.1,314.8 305.0,313.8C306.9,312.7 309.0,311.9 311.2,311.2C313.5,310.6 316.7,309.8 318.8,310.0C320.8,310.2 322.6,311.2 323.8,312.5C324.9,313.8 324.6,316.7 325.6,317.5C326.6,318.3 328.4,318.1 330.0,317.5C331.6,316.9 333.5,315.4 335.0,313.8C336.5,312.1 337.7,309.6 338.8,307.5C339.8,305.4 340.2,303.5 341.2,301.2C342.3,299.0 343.3,296.0 345.0,293.8C346.7,291.5 350.2,288.5 351.2,287.5" fill="none" stroke="#1fce0f" stroke-width="9" stroke-linecap="round" stroke-linejoin="round"/>
<path d="M300.0,317.5C300.8,316.9 303.1,314.8 305.0,313.8C306.9,312.7 309.0,311.9 311.2,311.2C313.5,310.6 316.7,309.8 318.8,310.0C320.8,310.2 322.6,311.2 323.8,312.5C324.9,313.8 324.6,316.7 325.6,317.5C326.6,318.3 328.4,318.1 330.0,317.5C331.6,316.9 333.5,315.4 335.0,313.8C336.5,312.1 337.7,309.6 338.8,307.5C339.8,305.4 340.2,303.5 341.2,301.2C342.3,299.0 343.3,296.0 345.0,293.8C346.7,291.5 350.2,288.5 351.2,287.5" fill="none" stroke="#1a8f22" stroke-width="4" stroke-linecap="round" stroke-linejoin="round"/>
<path d="M351.2,287.5C352.9,287.0 357.1,285.2 361.2,284.4C365.4,283.6 371.7,283.3 376.2,282.5C380.8,281.7 385.0,280.9 388.8,279.4C392.5,277.9 396.8,275.9 398.8,273.8C400.7,271.6 400.3,267.5 400.6,266.2" fill="none" stroke="#ebd70a" stroke-width="24" stroke-linecap="round" stroke-linejoin="round"/>
<path d="M351.2,287.5C352.9,287.0 357.1,285.2 361.2,284.4C365.4,283.6 371.7,283.3 376.2,282.5C380.8,281.7 385.0,280.9 388.8,279.4C392.5,277.9 396.8,275.9 398.8,273.8C400.7,271.6 400.3,267.5 400.6,266.2" fill="none" stroke="#fff033" stroke-width="19" stroke-linecap="round" stroke-linejoin="round"/>
<path d="M351.2,287.5C352.9,287.0 357.1,285.2 361.2,284.4C365.4,283.6 371.7,283.3 376.2,282.5C380.8,281.7 385.0,280.9 388.8,279.4C392.5,277.9 396.8,275.9 398.8,273.8C400.7,271.6 400.3,267.5 400.6,266.2" fill="none" stroke="#5be61c" stroke-width="14" stroke-linecap="round" stroke-linejoin="round"/>
<path d="M351.2,287.5C352.9,287.0 357.1,285.2 361.2,284.4C365.4,283.6 371.7,283.3 376.2,282.5C380.8,281.7 385.0,280.9 388.8,279.4C392.5,277.9 396.8,275.9 398.8,273.8C400.7,271.6 400.3,267.5 400.6,266.2" fill="none" stroke="#1fce0f" stroke-width="8" stroke-linecap="round" stroke-linejoin="round"/>
<path d="M351.2,287.5C352.9,287.0 357.1,285.2 361.2,284.4C365.4,283.6 371.7,283.3 376.2,282.5C380.8,281.7 385.0,280.9 388.8,279.4C392.5,277.9 396.8,275.9 398.8,273.8C400.7,271.6 400.3,267.5 400.6,266.2" fill="none" stroke="#1a8f22" stroke-width="3" stroke-linecap="round" stroke-linejoin="round"/>
<path d="M402.5,222.5C404.2,219.6 410.0,218.3 415.0,215.0C420.0,211.7 427.5,205.8 432.5,202.5C437.5,199.2 440.8,196.7 445.0,195.0C449.2,193.3 456.2,191.2 457.5,192.5C458.8,193.8 455.4,199.2 452.5,202.5C449.6,205.8 444.2,209.2 440.0,212.5C435.8,215.8 431.7,219.6 427.5,222.5C423.3,225.4 418.8,228.3 415.0,230.0C411.2,231.7 407.1,233.8 405.0,232.5C402.9,231.2 400.8,225.4 402.5,222.5Z" fill="#ff8020"/>
<path d="M407.5,223.8C409.4,221.5 415.4,218.1 420.0,215.0C424.6,211.9 430.8,207.7 435.0,205.0C439.2,202.3 443.8,198.8 445.0,198.8C446.2,198.8 445.0,202.3 442.5,205.0C440.0,207.7 434.2,211.7 430.0,215.0C425.8,218.3 421.0,222.7 417.5,225.0C414.0,227.3 410.4,229.0 408.8,228.8C407.1,228.5 405.6,226.0 407.5,223.8Z" fill="#f2680c"/>
<path d="M400.6,266.2C400.1,264.5 397.6,258.4 397.5,256.0C397.4,253.6 398.5,253.4 400.0,252.0C401.5,250.6 404.2,249.1 406.2,247.5C408.3,245.9 410.2,244.2 412.5,242.5C414.8,240.8 417.1,239.2 420.0,237.5C422.9,235.8 426.7,234.4 430.0,232.5C433.3,230.6 437.5,228.1 440.0,226.2C442.5,224.4 442.9,223.3 445.0,221.2C447.1,219.2 449.8,216.5 452.5,213.8C455.2,211.0 458.5,207.5 461.2,205.0C464.0,202.5 465.8,200.8 468.8,198.8C471.7,196.7 477.1,193.5 478.8,192.5" fill="none" stroke="#ebd70a" stroke-width="18" stroke-linecap="round" stroke-linejoin="round"/>
<path d="M400.6,266.2C400.1,264.5 397.6,258.4 397.5,256.0C397.4,253.6 398.5,253.4 400.0,252.0C401.5,250.6 404.2,249.1 406.2,247.5C408.3,245.9 410.2,244.2 412.5,242.5C414.8,240.8 417.1,239.2 420.0,237.5C422.9,235.8 426.7,234.4 430.0,232.5C433.3,230.6 437.5,228.1 440.0,226.2C442.5,224.4 442.9,223.3 445.0,221.2C447.1,219.2 449.8,216.5 452.5,213.8C455.2,211.0 458.5,207.5 461.2,205.0C464.0,202.5 465.8,200.8 468.8,198.8C471.7,196.7 477.1,193.5 478.8,192.5" fill="none" stroke="#fff033" stroke-width="13" stroke-linecap="round" stroke-linejoin="round"/>
<path d="M400.6,266.2C400.1,264.5 397.6,258.4 397.5,256.0C397.4,253.6 398.5,253.4 400.0,252.0C401.5,250.6 404.2,249.1 406.2,247.5C408.3,245.9 410.2,244.2 412.5,242.5C414.8,240.8 417.1,239.2 420.0,237.5C422.9,235.8 426.7,234.4 430.0,232.5C433.3,230.6 437.5,228.1 440.0,226.2C442.5,224.4 442.9,223.3 445.0,221.2C447.1,219.2 449.8,216.5 452.5,213.8C455.2,211.0 458.5,207.5 461.2,205.0C464.0,202.5 465.8,200.8 468.8,198.8C471.7,196.7 477.1,193.5 478.8,192.5" fill="none" stroke="#5be61c" stroke-width="4" stroke-linecap="round" stroke-linejoin="round"/>
<path d="M478.8,192.5C480.4,191.5 485.6,188.8 488.8,186.2C491.9,183.8 494.8,180.4 497.5,177.5C500.2,174.6 502.5,171.9 505.0,168.8C507.5,165.6 510.4,162.1 512.5,158.8C514.6,155.4 516.9,150.9 517.5,148.8C518.1,146.6 516.5,146.1 516.2,145.6" fill="none" stroke="#ebd70a" stroke-width="26" stroke-linecap="round" stroke-linejoin="round"/>
<path d="M478.8,192.5C480.4,191.5 485.6,188.8 488.8,186.2C491.9,183.8 494.8,180.4 497.5,177.5C500.2,174.6 502.5,171.9 505.0,168.8C507.5,165.6 510.4,162.1 512.5,158.8C514.6,155.4 516.9,150.9 517.5,148.8C518.1,146.6 516.5,146.1 516.2,145.6" fill="none" stroke="#fff033" stroke-width="20" stroke-linecap="round" stroke-linejoin="round"/>
<path d="M478.8,192.5C480.4,191.5 485.6,188.8 488.8,186.2C491.9,183.8 494.8,180.4 497.5,177.5C500.2,174.6 502.5,171.9 505.0,168.8C507.5,165.6 510.4,162.1 512.5,158.8C514.6,155.4 516.9,150.9 517.5,148.8C518.1,146.6 516.5,146.1 516.2,145.6" fill="none" stroke="#5be61c" stroke-width="5" stroke-linecap="round" stroke-linejoin="round"/>
</g>
<use href="#db"/><use href="#ol"/><use href="#ct"/>
<g class="c"><text x="431" y="167">Parvathipuram</text><text x="449.5" y="188">Srikakulam</text><text x="425.5" y="195.5">Vizianagaram</text><text x="404.5" y="211">Paderu</text><text x="419.5" y="217">Visakhapatnam</text><text x="407.5" y="228">Anakapalli</text><text x="362.5" y="247">Rajahmundry</text><text x="338.5" y="264.5">Eluru</text><text x="379" y="263">Kakinada</text><text x="292" y="270.5">Vijayawada</text><text x="275.5" y="276">Amaravati</text><text x="337" y="275">Bhimavaram</text><text x="296.5" y="288">Guntur</text><text x="358" y="287">Amalapuram</text><text x="263.5" y="302">Narasaraopet</text><text x="314.5" y="304">Machilipatnam</text><text x="182.5" y="312">Kurnool</text><text x="196" y="330">Nandyal</text><text x="275" y="339">Ongole</text><text x="149.5" y="372">Anantapur</text><text x="272" y="381">Nellore</text><text x="220" y="390.5">Kadapa</text><text x="200.5" y="411">Rayachoti</text><text x="140.5" y="413">Hindupur</text><text x="250" y="422">Tirupati</text><text x="229" y="454">Chittoor</text></g>
<text x="205.6" y="211.5" class="d">Mar_30</text>
</g>
<rect x="923" y="481.5" width="395" height="332.0" fill="#fff"/>
<path d="M923,481.5V813.5" stroke="#111" stroke-width="1.1" fill="none"/><path d="M1318,481.5V813.5" stroke="#111" stroke-width="1.1" fill="none"/>
<path d="M922.5,481.5H1318.5" stroke="#555" stroke-width="1.2" fill="none"/><path d="M922.5,813.5H1318.5" stroke="#111" stroke-width="1.3" fill="none"/>
<g transform="translate(800,337.5)">
<g clip-path="url(#st)">
<rect x="120" y="140" width="400" height="340" fill="#ff8020"/>
<path d="M141.2,307.5C143.8,305.8 150.6,304.6 157.5,305.0C164.4,305.4 175.4,310.4 182.5,310.0C189.6,309.6 193.8,303.9 200.0,302.5C206.2,301.1 215.4,301.7 220.0,301.9C224.6,302.1 226.5,299.5 227.5,303.8C228.5,308.0 226.7,320.6 226.2,327.5C225.8,334.4 224.0,341.5 225.0,345.0C226.0,348.5 230.0,346.2 232.5,348.8C235.0,351.2 237.9,355.2 240.0,360.0C242.1,364.8 243.3,372.9 245.0,377.5C246.7,382.1 250.0,383.8 250.0,387.5C250.0,391.2 246.9,396.2 245.0,400.0C243.1,403.8 241.2,408.3 238.8,410.0C236.2,411.7 233.1,410.0 230.0,410.0C226.9,410.0 223.3,410.0 220.0,410.0C216.7,410.0 213.3,411.7 210.0,410.0C206.7,408.3 203.3,402.1 200.0,400.0C196.7,397.9 193.3,397.7 190.0,397.5C186.7,397.3 182.9,397.9 180.0,398.8C177.1,399.6 174.8,401.9 172.5,402.5C170.2,403.1 167.7,404.6 166.2,402.5C164.8,400.4 165.2,393.8 163.8,390.0C162.3,386.2 159.6,383.3 157.5,380.0C155.4,376.7 153.3,372.5 151.2,370.0C149.2,367.5 147.3,365.8 145.0,365.0C142.7,364.2 139.6,365.4 137.5,365.0C135.4,364.6 134.0,364.6 132.5,362.5C131.0,360.4 127.7,354.6 128.8,352.5C129.8,350.4 135.6,351.2 138.8,350.0C141.9,348.8 147.3,348.3 147.5,345.0C147.7,341.7 140.8,335.0 140.0,330.0C139.2,325.0 142.3,318.8 142.5,315.0C142.7,311.2 138.8,309.2 141.2,307.5Z" fill="#ffa46e"/>
<path d="M245.0,297.5C247.9,294.4 254.4,296.2 257.5,296.2C260.6,296.2 259.6,295.0 263.8,297.5C267.9,300.0 280.2,306.2 282.5,311.2C284.8,316.2 279.6,322.7 277.5,327.5C275.4,332.3 271.2,335.4 270.0,340.0C268.8,344.6 268.8,350.0 270.0,355.0C271.2,360.0 275.8,365.0 277.5,370.0C279.2,375.0 279.4,379.6 280.0,385.0C280.6,390.4 281.9,397.1 281.2,402.5C280.6,407.9 278.5,415.4 276.2,417.5C274.0,419.6 270.0,417.5 267.5,415.0C265.0,412.5 263.3,407.1 261.2,402.5C259.2,397.9 257.3,392.5 255.0,387.5C252.7,382.5 249.6,377.9 247.5,372.5C245.4,367.1 243.8,360.0 242.5,355.0C241.2,350.0 241.7,345.0 240.0,342.5C238.3,340.0 234.4,341.9 232.5,340.0C230.6,338.1 228.8,334.4 228.8,331.2C228.8,328.1 230.6,324.0 232.5,321.2C234.4,318.5 237.9,319.0 240.0,315.0C242.1,311.0 242.1,300.6 245.0,297.5Z" fill="#ffa46e"/>
<path d="M237.5,297.5C237.2,300.0 236.6,307.5 235.6,312.5C234.7,317.5 232.5,325.0 231.9,327.5" fill="none" stroke="#f2680c" stroke-width="6" stroke-linecap="round" stroke-linejoin="round"/>
<path d="M142.5,308.8C147.5,305.4 162.9,309.8 170.0,310.0C177.1,310.2 180.0,311.2 185.0,310.0C190.0,308.8 194.2,303.8 200.0,302.5C205.8,301.2 216.2,298.3 220.0,302.5C223.8,306.7 221.5,320.4 222.5,327.5C223.5,334.6 224.6,341.7 226.2,345.0C227.9,348.3 230.2,345.0 232.5,347.5C234.8,350.0 237.7,355.0 240.0,360.0C242.3,365.0 245.2,370.4 246.2,377.5C247.3,384.6 248.5,398.8 246.2,402.5C244.0,406.2 236.9,402.1 232.5,400.0C228.1,397.9 224.2,391.0 220.0,390.0C215.8,389.0 211.7,393.8 207.5,393.8C203.3,393.8 197.9,389.4 195.0,390.0C192.1,390.6 192.5,397.5 190.0,397.5C187.5,397.5 182.5,393.3 180.0,390.0C177.5,386.7 177.5,381.2 175.0,377.5C172.5,373.8 166.7,372.3 165.0,367.5C163.3,362.7 163.3,352.5 165.0,348.8C166.7,345.0 170.8,344.8 175.0,345.0C179.2,345.2 187.5,352.9 190.0,350.0C192.5,347.1 191.2,332.1 190.0,327.5C188.8,322.9 185.8,324.6 182.5,322.5C179.2,320.4 175.0,316.0 170.0,315.0C165.0,314.0 155.6,314.2 152.5,316.2C149.4,318.3 151.5,322.7 151.2,327.5C151.0,332.3 152.3,342.1 151.2,345.0C150.2,347.9 146.9,347.5 145.0,345.0C143.1,342.5 140.4,336.0 140.0,330.0C139.6,324.0 137.5,312.1 142.5,308.8Z" fill="#fa5078"/>
<path d="M172.5,335.0C175.0,332.7 186.9,329.0 190.0,331.2C193.1,333.5 193.8,346.5 191.2,348.8C188.8,351.0 178.1,347.3 175.0,345.0C171.9,342.7 170.0,337.3 172.5,335.0Z" fill="#ffa46e"/>
<path d="M228.8,367.5C229.8,366.0 234.0,366.0 235.0,367.5C236.0,369.0 236.0,374.8 235.0,376.2C234.0,377.7 229.8,377.7 228.8,376.2C227.7,374.8 227.7,369.0 228.8,367.5Z" fill="#ffa46e"/>
<path d="M247.5,300.0C250.2,297.3 260.0,297.3 263.8,298.8C267.5,300.2 269.0,304.8 270.0,308.8C271.0,312.7 272.1,319.8 270.0,322.5C267.9,325.2 261.2,326.2 257.5,325.0C253.8,323.8 249.2,319.2 247.5,315.0C245.8,310.8 244.8,302.7 247.5,300.0Z" fill="#fa5078"/>
<path d="M250.0,332.5C251.9,330.2 259.4,330.2 261.2,332.5C263.1,334.8 263.1,344.0 261.2,346.2C259.4,348.5 251.9,348.5 250.0,346.2C248.1,344.0 248.1,334.8 250.0,332.5Z" fill="#fa5078"/>
<path d="M232.5,327.5C233.8,325.4 238.8,325.4 240.0,327.5C241.2,329.6 241.2,337.9 240.0,340.0C238.8,342.1 233.8,342.1 232.5,340.0C231.2,337.9 231.2,329.6 232.5,327.5Z" fill="#fa5078"/>
<path d="M248.8,351.2C251.7,348.1 262.7,349.4 267.5,352.5C272.3,355.6 275.8,363.8 277.5,370.0C279.2,376.2 278.8,385.4 277.5,390.0C276.2,394.6 273.3,397.1 270.0,397.5C266.7,397.9 260.8,396.9 257.5,392.5C254.2,388.1 251.5,378.1 250.0,371.2C248.5,364.4 245.8,354.4 248.8,351.2Z" fill="#fa5078"/>
<path d="M263.8,397.5C265.8,394.6 277.3,394.6 280.0,397.5C282.7,400.4 282.1,412.1 280.0,415.0C277.9,417.9 270.2,417.9 267.5,415.0C264.8,412.1 261.7,400.4 263.8,397.5Z" fill="#fa5078"/>
<path d="M223.8,396.2C225.6,394.4 233.1,394.4 235.0,396.2C236.9,398.1 236.9,405.6 235.0,407.5C233.1,409.4 225.6,409.4 223.8,407.5C221.9,405.6 221.9,398.1 223.8,396.2Z" fill="#fa5078"/>
<path d="M293.8,255.0C294.8,253.8 299.0,253.8 300.0,255.0C301.0,256.2 301.0,261.2 300.0,262.5C299.0,263.8 294.8,263.8 293.8,262.5C292.7,261.2 292.7,256.2 293.8,255.0Z" fill="#fa5078"/>
<path d="M261.2,271.2C263.5,270.4 272.7,270.4 275.0,271.2C277.3,272.1 277.3,275.4 275.0,276.2C272.7,277.1 263.5,277.1 261.2,276.2C259.0,275.4 259.0,272.1 261.2,271.2Z" fill="#fa5078"/>
<path d="M193.8,331.2C198.3,329.0 215.6,326.9 220.0,331.2C224.4,335.6 223.8,353.1 220.0,357.5C216.2,361.9 202.1,359.6 197.5,357.5C192.9,355.4 193.1,349.4 192.5,345.0C191.9,340.6 189.2,333.5 193.8,331.2Z" fill="#f5205a"/>
<path d="M172.5,351.2C175.8,348.5 191.2,348.5 195.0,351.2C198.8,354.0 198.3,364.8 195.0,367.5C191.7,370.2 178.8,370.2 175.0,367.5C171.2,364.8 169.2,354.0 172.5,351.2Z" fill="#f5205a"/>
<path d="M191.2,357.5C194.2,352.9 206.5,353.8 212.5,355.0C218.5,356.2 224.6,360.4 227.5,365.0C230.4,369.6 231.2,378.3 230.0,382.5C228.8,386.7 223.8,388.8 220.0,390.0C216.2,391.2 211.7,391.2 207.5,390.0C203.3,388.8 197.7,387.9 195.0,382.5C192.3,377.1 188.3,362.1 191.2,357.5Z" fill="#f5205a"/>
<path d="M240.0,387.5C241.7,385.4 248.3,385.4 250.0,387.5C251.7,389.6 251.7,397.9 250.0,400.0C248.3,402.1 241.7,402.1 240.0,400.0C238.3,397.9 238.3,389.6 240.0,387.5Z" fill="#f5205a"/>
<path d="M257.5,371.2C259.4,369.8 266.9,369.8 268.8,371.2C270.6,372.7 270.6,378.5 268.8,380.0C266.9,381.5 259.4,381.5 257.5,380.0C255.6,378.5 255.6,372.7 257.5,371.2Z" fill="#f5205a"/>
<path d="M197.5,336.2C199.0,334.4 204.8,334.4 206.2,336.2C207.7,338.1 207.7,345.6 206.2,347.5C204.8,349.4 199.0,349.4 197.5,347.5C196.0,345.6 196.0,338.1 197.5,336.2Z" fill="#c80000"/>
<path d="M208.8,343.8C209.8,342.3 214.0,342.3 215.0,343.8C216.0,345.2 216.0,351.0 215.0,352.5C214.0,354.0 209.8,354.0 208.8,352.5C207.7,351.0 207.7,345.2 208.8,343.8Z" fill="#c80000"/>
<path d="M212.5,361.2C212.7,358.3 217.9,359.8 220.0,362.5C222.1,365.2 225.2,374.6 225.0,377.5C224.8,380.4 220.8,382.7 218.8,380.0C216.7,377.3 212.3,364.2 212.5,361.2Z" fill="#c80000"/>
<path d="M203.8,376.2C205.2,374.6 211.0,374.6 212.5,376.2C214.0,377.9 214.0,384.6 212.5,386.2C211.0,387.9 205.2,387.9 203.8,386.2C202.3,384.6 202.3,377.9 203.8,376.2Z" fill="#c80000"/>
<path d="M130.0,365.0C132.3,362.9 140.4,364.0 145.0,365.0C149.6,366.0 155.4,367.1 157.5,371.2C159.6,375.4 160.6,386.9 157.5,390.0C154.4,393.1 143.1,392.1 138.8,390.0C134.4,387.9 132.7,381.7 131.2,377.5C129.8,373.3 127.7,367.1 130.0,365.0Z" fill="#ff8020"/>
<path d="M138.8,377.5C141.0,375.8 150.2,375.8 152.5,377.5C154.8,379.2 154.8,385.8 152.5,387.5C150.2,389.2 141.0,389.2 138.8,387.5C136.5,385.8 136.5,379.2 138.8,377.5Z" fill="#f2680c"/>
<path d="M136.2,400.0C139.8,396.7 149.4,396.5 157.5,396.2C165.6,396.0 176.7,397.7 185.0,398.8C193.3,399.8 203.3,399.8 207.5,402.5C211.7,405.2 215.0,413.8 210.0,415.0C205.0,416.2 185.6,410.0 177.5,410.0C169.4,410.0 168.1,414.0 161.2,415.0C154.4,416.0 140.4,418.8 136.2,416.2C132.1,413.8 132.7,403.3 136.2,400.0Z" fill="#ff8020"/>
<path d="M195.0,410.0C203.3,405.0 234.6,409.2 245.0,410.0C255.4,410.8 250.4,413.1 257.5,415.0C264.6,416.9 282.5,417.1 287.5,421.2C292.5,425.4 302.9,436.9 287.5,440.0C272.1,443.1 210.4,445.0 195.0,440.0C179.6,435.0 186.7,415.0 195.0,410.0Z" fill="#ff8020"/>
<path d="M200.0,415.0C206.2,413.8 231.2,412.9 237.5,415.0C243.8,417.1 243.8,426.2 237.5,427.5C231.2,428.8 206.2,424.6 200.0,422.5C193.8,420.4 193.8,416.2 200.0,415.0Z" fill="#f2680c"/>
<path d="M243.8,412.5C245.6,411.0 253.1,411.0 255.0,412.5C256.9,414.0 256.9,419.8 255.0,421.2C253.1,422.7 245.6,422.7 243.8,421.2C241.9,419.8 241.9,414.0 243.8,412.5Z" fill="#ebd70a"/>
<path d="M206.2,423.8C208.1,421.2 213.1,424.4 217.5,425.0C221.9,425.6 230.0,425.0 232.5,427.5C235.0,430.0 236.9,437.9 232.5,440.0C228.1,442.1 210.6,442.7 206.2,440.0C201.9,437.3 204.4,426.2 206.2,423.8Z" fill="#ebd70a"/>
<path d="M206.2,435.0C208.8,434.6 220.2,438.3 225.0,440.0C229.8,441.7 234.2,442.9 235.0,445.0C235.8,447.1 232.5,451.2 230.0,452.5C227.5,453.8 222.1,450.4 220.0,452.5C217.9,454.6 219.2,461.5 217.5,465.0C215.8,468.5 213.3,472.9 210.0,473.8C206.7,474.6 199.0,472.1 197.5,470.0C196.0,467.9 198.8,464.6 201.2,461.2C203.8,457.9 211.0,453.1 212.5,450.0C214.0,446.9 211.0,445.0 210.0,442.5C209.0,440.0 203.8,435.4 206.2,435.0Z" fill="#fff033"/>
<path d="M206.5,440.0C207.1,437.9 210.2,437.9 211.2,440.0C212.2,442.1 213.1,450.4 212.5,452.5C211.9,454.6 208.5,454.6 207.5,452.5C206.5,450.4 205.9,442.1 206.5,440.0Z" fill="#5be61c"/>
<path d="M235.0,430.0C238.8,425.8 255.8,424.2 260.0,427.5C264.2,430.8 263.8,445.8 260.0,450.0C256.2,454.2 241.7,455.8 237.5,452.5C233.3,449.2 231.2,434.2 235.0,430.0Z" fill="#ff8020"/>
<path d="M270.0,427.5C271.2,426.2 276.2,426.2 277.5,427.5C278.8,428.8 278.8,433.8 277.5,435.0C276.2,436.2 271.2,436.2 270.0,435.0C268.8,433.8 268.8,428.8 270.0,427.5Z" fill="#ebd70a"/>
<path d="M248.8,276.2C251.2,274.0 261.2,274.0 263.8,276.2C266.2,278.5 266.2,287.7 263.8,290.0C261.2,292.3 251.2,292.3 248.8,290.0C246.2,287.7 246.2,278.5 248.8,276.2Z" fill="#ffa46e"/>
<path d="M287.5,256.2C288.6,254.5 291.7,253.3 295.0,253.1C298.3,252.9 305.4,252.0 307.5,255.0C309.6,258.0 309.6,268.5 307.5,271.2C305.4,274.0 298.2,272.5 295.0,271.2C291.8,270.0 289.4,266.2 288.1,263.8C286.9,261.2 286.4,258.0 287.5,256.2Z" fill="#ffa46e"/>
<path d="M338.8,258.8C341.9,256.9 354.4,256.9 357.5,258.8C360.6,260.6 360.6,268.1 357.5,270.0C354.4,271.9 341.9,271.9 338.8,270.0C335.6,268.1 335.6,260.6 338.8,258.8Z" fill="#ffa46e"/>
<path d="M370.0,255.0C373.1,252.3 385.6,250.4 388.8,252.5C391.9,254.6 391.9,264.8 388.8,267.5C385.6,270.2 373.1,270.8 370.0,268.8C366.9,266.7 366.9,257.7 370.0,255.0Z" fill="#ffa46e"/>
<path d="M327.5,245.0C330.0,243.5 340.0,243.5 342.5,245.0C345.0,246.5 345.0,252.3 342.5,253.8C340.0,255.2 330.0,255.2 327.5,253.8C325.0,252.3 325.0,246.5 327.5,245.0Z" fill="#ebd70a"/>
<path d="M350.0,232.5C351.9,231.0 359.4,231.0 361.2,232.5C363.1,234.0 363.1,239.8 361.2,241.2C359.4,242.7 351.9,242.7 350.0,241.2C348.1,239.8 348.1,234.0 350.0,232.5Z" fill="#ebd70a"/>
<path d="M395.0,232.5C397.1,231.2 405.4,231.2 407.5,232.5C409.6,233.8 409.6,238.8 407.5,240.0C405.4,241.2 397.1,241.2 395.0,240.0C392.9,238.8 392.9,233.8 395.0,232.5Z" fill="#ebd70a"/>
<path d="M338.8,272.5C348.1,270.2 386.0,269.4 395.0,271.2C404.0,273.1 401.9,281.5 392.5,283.8C383.1,286.0 347.7,286.9 338.8,285.0C329.8,283.1 329.4,274.8 338.8,272.5Z" fill="#ebd70a"/>
<path d="M345.0,275.0C352.9,273.3 385.4,272.5 392.5,273.8C399.6,275.0 395.4,280.8 387.5,282.5C379.6,284.2 352.1,285.0 345.0,283.8C337.9,282.5 337.1,276.7 345.0,275.0Z" fill="#fff033"/>
<path d="M232.5,297.5C234.6,294.2 242.9,294.2 245.0,297.5C247.1,300.8 247.1,314.2 245.0,317.5C242.9,320.8 234.6,320.8 232.5,317.5C230.4,314.2 230.4,300.8 232.5,297.5Z" fill="#ff8020"/>
<path d="M328.8,215.0C331.5,212.5 342.3,212.5 345.0,215.0C347.7,217.5 347.7,227.5 345.0,230.0C342.3,232.5 331.5,232.5 328.8,230.0C326.0,227.5 326.0,217.5 328.8,215.0Z" fill="#ffa46e"/>
<path d="M345.0,235.0C353.8,232.1 388.8,232.1 397.5,235.0C406.2,237.9 406.2,249.6 397.5,252.5C388.8,255.4 353.8,255.4 345.0,252.5C336.2,249.6 336.2,237.9 345.0,235.0Z" fill="#f2680c"/>
<path d="M370.0,252.5C373.3,249.6 386.7,249.6 390.0,252.5C393.3,255.4 393.3,267.1 390.0,270.0C386.7,272.9 373.3,272.9 370.0,270.0C366.7,267.1 366.7,255.4 370.0,252.5Z" fill="#ffa46e"/>
<path d="M345.0,215.0C347.7,211.7 355.4,212.1 361.2,210.0C367.1,207.9 374.0,204.0 380.0,202.5C386.0,201.0 394.2,204.8 397.5,201.2C400.8,197.7 398.5,185.4 400.0,181.2C401.5,177.1 403.8,174.8 406.2,176.2C408.8,177.7 412.1,189.1 415.0,190.0C417.9,190.9 420.4,182.5 423.8,181.9C427.1,181.2 432.3,184.1 435.0,186.2C437.7,188.4 440.4,191.9 440.0,195.0C439.6,198.1 435.4,201.7 432.5,205.0C429.6,208.3 425.4,211.2 422.5,215.0C419.6,218.8 417.5,223.3 415.0,227.5C412.5,231.7 410.4,237.3 407.5,240.0C404.6,242.7 400.4,244.2 397.5,243.8C394.6,243.3 392.5,239.4 390.0,237.5C387.5,235.6 385.8,232.9 382.5,232.5C379.2,232.1 374.2,234.6 370.0,235.0C365.8,235.4 361.7,235.8 357.5,235.0C353.3,234.2 347.1,233.3 345.0,230.0C342.9,226.7 342.3,218.3 345.0,215.0Z" fill="#ebd70a"/>
<path d="M357.5,217.5C358.3,214.6 360.0,214.8 363.8,212.5C367.5,210.2 374.4,205.4 380.0,203.8C385.6,202.1 394.0,206.0 397.5,202.5C401.0,199.0 399.8,186.7 401.2,182.5C402.7,178.3 404.2,176.2 406.2,177.5C408.3,178.8 410.8,189.1 413.8,190.0C416.7,190.9 420.4,183.6 423.8,183.1C427.1,182.6 431.5,184.9 433.8,186.9C436.0,188.9 437.9,192.2 437.5,195.0C437.1,197.8 434.2,200.4 431.2,203.8C428.3,207.1 423.1,211.0 420.0,215.0C416.9,219.0 415.0,224.2 412.5,227.5C410.0,230.8 408.8,234.2 405.0,235.0C401.2,235.8 393.8,233.5 390.0,232.5C386.2,231.5 385.8,229.0 382.5,228.8C379.2,228.5 374.0,231.0 370.0,231.2C366.0,231.5 360.8,232.3 358.8,230.0C356.7,227.7 356.7,220.4 357.5,217.5Z" fill="#fff033"/>
<path d="M361.2,221.2C361.7,218.8 361.9,217.7 365.0,215.0C368.1,212.3 374.6,206.9 380.0,205.0C385.4,203.1 394.0,207.3 397.5,203.8C401.0,200.2 399.8,187.9 401.2,183.8C402.7,179.6 404.3,177.5 406.2,178.8C408.2,180.0 410.2,190.3 413.1,191.2C416.0,192.2 420.5,184.9 423.8,184.4C427.0,183.9 431.0,186.1 432.5,188.1C434.0,190.1 434.6,193.0 432.5,196.2C430.4,199.5 424.2,204.4 420.0,207.5C415.8,210.6 409.6,212.1 407.5,215.0C405.4,217.9 410.4,223.8 407.5,225.0C404.6,226.2 395.4,221.7 390.0,222.5C384.6,223.3 379.6,228.8 375.0,230.0C370.4,231.2 364.8,231.5 362.5,230.0C360.2,228.5 360.8,223.8 361.2,221.2Z" fill="#5be61c"/>
<path d="M363.8,221.2C364.6,219.0 367.3,216.2 370.0,213.8C372.7,211.2 375.0,207.7 380.0,206.2C385.0,204.8 396.2,208.5 400.0,205.0C403.8,201.5 401.5,189.2 402.5,185.0C403.5,180.8 404.6,178.8 406.2,180.0C407.9,181.2 409.6,191.6 412.5,192.5C415.4,193.4 420.6,186.1 423.8,185.6C426.9,185.1 430.2,187.6 431.2,189.4C432.3,191.1 431.9,193.6 430.0,196.2C428.1,198.9 423.3,202.3 420.0,205.0C416.7,207.7 413.3,210.0 410.0,212.5C406.7,215.0 404.2,218.8 400.0,220.0C395.8,221.2 389.2,218.8 385.0,220.0C380.8,221.2 378.3,226.2 375.0,227.5C371.7,228.8 366.9,228.5 365.0,227.5C363.1,226.5 362.9,223.5 363.8,221.2Z" fill="#1fce0f"/>
<path d="M370.0,216.2C370.0,214.6 371.2,212.0 373.8,210.0C376.2,208.0 380.6,205.4 385.0,204.4C389.4,203.3 397.5,207.4 400.0,203.8C402.5,200.1 399.0,186.7 400.0,182.5C401.0,178.3 404.2,177.5 406.2,178.8C408.3,180.0 409.6,189.0 412.5,190.0C415.4,191.0 420.4,185.4 423.8,185.0C427.1,184.6 431.5,185.2 432.5,187.5C433.5,189.8 432.1,195.4 430.0,198.8C427.9,202.1 423.8,205.6 420.0,207.5C416.2,209.4 410.8,208.5 407.5,210.0C404.2,211.5 403.8,215.2 400.0,216.2C396.2,217.3 389.4,215.6 385.0,216.2C380.6,216.9 376.2,220.0 373.8,220.0C371.2,220.0 370.0,217.9 370.0,216.2Z" fill="#1a8f22"/>
<path d="M401.2,181.2C402.1,178.8 404.4,176.5 406.2,177.5C408.1,178.5 410.6,185.0 412.5,187.5C414.4,190.0 415.6,192.9 417.5,192.5C419.4,192.1 421.2,186.0 423.8,185.0C426.2,184.0 431.0,185.0 432.5,186.2C434.0,187.5 434.2,190.8 432.5,192.5C430.8,194.2 425.0,194.6 422.5,196.2C420.0,197.9 419.2,200.8 417.5,202.5C415.8,204.2 414.6,206.2 412.5,206.2C410.4,206.2 406.9,204.8 405.0,202.5C403.1,200.2 401.9,196.0 401.2,192.5C400.6,189.0 400.4,183.8 401.2,181.2Z" fill="#003c86"/>
<path d="M389.4,205.0C390.7,203.8 396.1,203.8 397.5,205.0C398.9,206.2 398.9,211.2 397.5,212.5C396.1,213.8 390.7,213.8 389.4,212.5C388.0,211.2 388.0,206.2 389.4,205.0Z" fill="#003c86"/>
<path d="M428.8,186.2C429.6,185.6 432.9,185.6 433.8,186.2C434.6,186.9 434.6,189.4 433.8,190.0C432.9,190.6 429.6,190.6 428.8,190.0C427.9,189.4 427.9,186.9 428.8,186.2Z" fill="#0a84ff"/>
<path d="M350.0,232.5C351.9,230.8 359.4,230.8 361.2,232.5C363.1,234.2 363.1,240.8 361.2,242.5C359.4,244.2 351.9,244.2 350.0,242.5C348.1,240.8 348.1,234.2 350.0,232.5Z" fill="#ebd70a"/>
<path d="M395.0,230.0C397.5,227.7 407.5,227.7 410.0,230.0C412.5,232.3 412.5,241.5 410.0,243.8C407.5,246.0 397.5,246.0 395.0,243.8C392.5,241.5 392.5,232.3 395.0,230.0Z" fill="#ebd70a"/>
<path d="M327.5,245.0C330.0,243.8 340.0,243.8 342.5,245.0C345.0,246.2 345.0,251.2 342.5,252.5C340.0,253.8 330.0,253.8 327.5,252.5C325.0,251.2 325.0,246.2 327.5,245.0Z" fill="#ebd70a"/>
<path d="M402.5,220.0C407.1,215.4 425.4,206.7 432.5,202.5C439.6,198.3 440.8,196.2 445.0,195.0C449.2,193.8 457.5,192.1 457.5,195.0C457.5,197.9 451.2,207.1 445.0,212.5C438.8,217.9 426.7,224.6 420.0,227.5C413.3,230.4 407.9,231.2 405.0,230.0C402.1,228.8 397.9,224.6 402.5,220.0Z" fill="#f2680c"/>
<path d="M425.0,217.5C427.1,216.2 435.4,216.2 437.5,217.5C439.6,218.8 439.6,223.8 437.5,225.0C435.4,226.2 427.1,226.2 425.0,225.0C422.9,223.8 422.9,218.8 425.0,217.5Z" fill="#ebd70a"/>
<path d="M445.0,175.0C450.0,171.7 470.0,171.7 475.0,175.0C480.0,178.3 480.0,191.7 475.0,195.0C470.0,198.3 450.0,198.3 445.0,195.0C440.0,191.7 440.0,178.3 445.0,175.0Z" fill="#f2680c"/>
<path d="M447.5,152.5C450.0,148.3 458.3,146.7 462.5,147.5C466.7,148.3 470.8,153.3 472.5,157.5C474.2,161.7 476.7,170.0 472.5,172.5C468.3,175.0 451.7,175.8 447.5,172.5C443.3,169.2 445.0,156.7 447.5,152.5Z" fill="#ebd70a"/>
<path d="M452.5,155.0C454.2,151.9 459.6,150.4 462.5,151.2C465.4,152.1 468.8,156.9 470.0,160.0C471.2,163.1 472.9,168.3 470.0,170.0C467.1,171.7 455.4,172.5 452.5,170.0C449.6,167.5 450.8,158.1 452.5,155.0Z" fill="#fff033"/>
<path d="M477.5,172.5C480.4,169.2 492.1,167.9 495.0,170.0C497.9,172.1 497.1,181.2 495.0,185.0C492.9,188.8 485.4,191.7 482.5,192.5C479.6,193.3 478.3,193.3 477.5,190.0C476.7,186.7 474.6,175.8 477.5,172.5Z" fill="#ebd70a"/>
<path d="M480.0,175.0C481.7,172.1 490.4,171.0 492.5,172.5C494.6,174.0 494.2,180.8 492.5,183.8C490.8,186.7 484.6,191.5 482.5,190.0C480.4,188.5 478.3,177.9 480.0,175.0Z" fill="#fff033"/>
<path d="M436.9,168.8C437.1,170.2 438.3,174.4 438.1,177.5C437.9,180.6 436.0,185.8 435.6,187.5" fill="none" stroke="#5be61c" stroke-width="5" stroke-linecap="round" stroke-linejoin="round"/>
<path d="M435.0,168.8C435.2,170.2 436.5,174.4 436.2,177.5C436.0,180.6 434.2,185.8 433.8,187.5" fill="none" stroke="#1a8f22" stroke-width="3" stroke-linecap="round" stroke-linejoin="round"/>
<path d="M434.0,168.8C434.2,170.2 435.5,174.4 435.2,177.5C435.0,180.6 433.2,185.8 432.8,187.5" fill="none" stroke="#003c86" stroke-width="1.5" stroke-linecap="round" stroke-linejoin="round"/>
<path d="M297.5,430.0C297.6,429.2 298.1,427.1 298.1,425.0C298.1,422.9 298.0,420.0 297.5,417.5C297.0,415.0 295.8,412.5 295.0,410.0C294.2,407.5 293.1,405.2 292.5,402.5C291.9,399.8 291.2,396.5 291.2,393.8C291.2,391.0 291.9,389.0 292.5,386.2C293.1,383.5 295.0,380.2 295.0,377.5C295.0,374.8 292.9,371.2 292.5,370.0" fill="none" stroke="#ff8020" stroke-width="36" stroke-linecap="round" stroke-linejoin="round"/>
<path d="M297.5,430.0C297.6,429.2 298.1,427.1 298.1,425.0C298.1,422.9 298.0,420.0 297.5,417.5C297.0,415.0 295.8,412.5 295.0,410.0C294.2,407.5 293.1,405.2 292.5,402.5C291.9,399.8 291.2,396.5 291.2,393.8C291.2,391.0 291.9,389.0 292.5,386.2C293.1,383.5 295.0,380.2 295.0,377.5C295.0,374.8 292.9,371.2 292.5,370.0" fill="none" stroke="#f2680c" stroke-width="26" stroke-linecap="round" stroke-linejoin="round"/>
<path d="M297.5,430.0C297.6,429.2 298.1,427.1 298.1,425.0C298.1,422.9 298.0,420.0 297.5,417.5C297.0,415.0 295.8,412.5 295.0,410.0C294.2,407.5 293.1,405.2 292.5,402.5C291.9,399.8 291.2,396.5 291.2,393.8C291.2,391.0 291.9,389.0 292.5,386.2C293.1,383.5 295.0,380.2 295.0,377.5C295.0,374.8 292.9,371.2 292.5,370.0" fill="none" stroke="#ebd70a" stroke-width="22" stroke-linecap="round" stroke-linejoin="round"/>
<path d="M297.5,430.0C297.6,429.2 298.1,427.1 298.1,425.0C298.1,422.9 298.0,420.0 297.5,417.5C297.0,415.0 295.8,412.5 295.0,410.0C294.2,407.5 293.1,405.2 292.5,402.5C291.9,399.8 291.2,396.5 291.2,393.8C291.2,391.0 291.9,389.0 292.5,386.2C293.1,383.5 295.0,380.2 295.0,377.5C295.0,374.8 292.9,371.2 292.5,370.0" fill="none" stroke="#fff033" stroke-width="18" stroke-linecap="round" stroke-linejoin="round"/>
<path d="M297.5,430.0C297.6,429.2 298.1,427.1 298.1,425.0C298.1,422.9 298.0,420.0 297.5,417.5C297.0,415.0 295.8,412.5 295.0,410.0C294.2,407.5 293.1,405.2 292.5,402.5C291.9,399.8 291.2,396.5 291.2,393.8C291.2,391.0 291.9,389.0 292.5,386.2C293.1,383.5 295.0,380.2 295.0,377.5C295.0,374.8 292.9,371.2 292.5,370.0" fill="none" stroke="#5be61c" stroke-width="13" stroke-linecap="round" stroke-linejoin="round"/>
<path d="M297.5,430.0C297.6,429.2 298.1,427.1 298.1,425.0C298.1,422.9 298.0,420.0 297.5,417.5C297.0,415.0 295.8,412.5 295.0,410.0C294.2,407.5 293.1,405.2 292.5,402.5C291.9,399.8 291.2,396.5 291.2,393.8C291.2,391.0 291.9,389.0 292.5,386.2C293.1,383.5 295.0,380.2 295.0,377.5C295.0,374.8 292.9,371.2 292.5,370.0" fill="none" stroke="#1fce0f" stroke-width="9" stroke-linecap="round" stroke-linejoin="round"/>
<path d="M297.5,430.0C297.6,429.2 298.1,427.1 298.1,425.0C298.1,422.9 298.0,420.0 297.5,417.5C297.0,415.0 295.8,412.5 295.0,410.0C294.2,407.5 293.1,405.2 292.5,402.5C291.9,399.8 291.2,396.5 291.2,393.8C291.2,391.0 291.9,389.0 292.5,386.2C293.1,383.5 295.0,380.2 295.0,377.5C295.0,374.8 292.9,371.2 292.5,370.0" fill="none" stroke="#1a8f22" stroke-width="5" stroke-linecap="round" stroke-linejoin="round"/>
<path d="M292.5,370.0C292.1,368.5 290.7,364.2 290.0,361.2C289.3,358.3 288.4,355.2 288.1,352.5C287.8,349.8 287.8,347.5 288.1,345.0C288.4,342.5 289.3,339.8 290.0,337.5C290.7,335.2 291.5,333.5 292.5,331.2C293.5,329.0 295.0,326.0 296.2,323.8C297.5,321.5 299.4,318.5 300.0,317.5" fill="none" stroke="#ff8020" stroke-width="40" stroke-linecap="round" stroke-linejoin="round"/>
<path d="M292.5,370.0C292.1,368.5 290.7,364.2 290.0,361.2C289.3,358.3 288.4,355.2 288.1,352.5C287.8,349.8 287.8,347.5 288.1,345.0C288.4,342.5 289.3,339.8 290.0,337.5C290.7,335.2 291.5,333.5 292.5,331.2C293.5,329.0 295.0,326.0 296.2,323.8C297.5,321.5 299.4,318.5 300.0,317.5" fill="none" stroke="#f2680c" stroke-width="30" stroke-linecap="round" stroke-linejoin="round"/>
<path d="M292.5,370.0C292.1,368.5 290.7,364.2 290.0,361.2C289.3,358.3 288.4,355.2 288.1,352.5C287.8,349.8 287.8,347.5 288.1,345.0C288.4,342.5 289.3,339.8 290.0,337.5C290.7,335.2 291.5,333.5 292.5,331.2C293.5,329.0 295.0,326.0 296.2,323.8C297.5,321.5 299.4,318.5 300.0,317.5" fill="none" stroke="#ebd70a" stroke-width="26" stroke-linecap="round" stroke-linejoin="round"/>
<path d="M292.5,370.0C292.1,368.5 290.7,364.2 290.0,361.2C289.3,358.3 288.4,355.2 288.1,352.5C287.8,349.8 287.8,347.5 288.1,345.0C288.4,342.5 289.3,339.8 290.0,337.5C290.7,335.2 291.5,333.5 292.5,331.2C293.5,329.0 295.0,326.0 296.2,323.8C297.5,321.5 299.4,318.5 300.0,317.5" fill="none" stroke="#fff033" stroke-width="22" stroke-linecap="round" stroke-linejoin="round"/>
<path d="M292.5,370.0C292.1,368.5 290.7,364.2 290.0,361.2C289.3,358.3 288.4,355.2 288.1,352.5C287.8,349.8 287.8,347.5 288.1,345.0C288.4,342.5 289.3,339.8 290.0,337.5C290.7,335.2 291.5,333.5 292.5,331.2C293.5,329.0 295.0,326.0 296.2,323.8C297.5,321.5 299.4,318.5 300.0,317.5" fill="none" stroke="#5be61c" stroke-width="15" stroke-linecap="round" stroke-linejoin="round"/>
<path d="M292.5,370.0C292.1,368.5 290.7,364.2 290.0,361.2C289.3,358.3 288.4,355.2 288.1,352.5C287.8,349.8 287.8,347.5 288.1,345.0C288.4,342.5 289.3,339.8 290.0,337.5C290.7,335.2 291.5,333.5 292.5,331.2C293.5,329.0 295.0,326.0 296.2,323.8C297.5,321.5 299.4,318.5 300.0,317.5" fill="none" stroke="#1fce0f" stroke-width="11" stroke-linecap="round" stroke-linejoin="round"/>
<path d="M292.5,370.0C292.1,368.5 290.7,364.2 290.0,361.2C289.3,358.3 288.4,355.2 288.1,352.5C287.8,349.8 287.8,347.5 288.1,345.0C288.4,342.5 289.3,339.8 290.0,337.5C290.7,335.2 291.5,333.5 292.5,331.2C293.5,329.0 295.0,326.0 296.2,323.8C297.5,321.5 299.4,318.5 300.0,317.5" fill="none" stroke="#1a8f22" stroke-width="6" stroke-linecap="round" stroke-linejoin="round"/>
<path d="M300.0,317.5C300.8,316.9 303.1,314.8 305.0,313.8C306.9,312.7 309.0,311.9 311.2,311.2C313.5,310.6 316.7,309.8 318.8,310.0C320.8,310.2 322.6,311.2 323.8,312.5C324.9,313.8 324.6,316.7 325.6,317.5C326.6,318.3 328.4,318.1 330.0,317.5C331.6,316.9 333.5,315.4 335.0,313.8C336.5,312.1 337.7,309.6 338.8,307.5C339.8,305.4 340.2,303.5 341.2,301.2C342.3,299.0 343.3,296.0 345.0,293.8C346.7,291.5 350.2,288.5 351.2,287.5" fill="none" stroke="#f2680c" stroke-width="32" stroke-linecap="round" stroke-linejoin="round"/>
<path d="M300.0,317.5C300.8,316.9 303.1,314.8 305.0,313.8C306.9,312.7 309.0,311.9 311.2,311.2C313.5,310.6 316.7,309.8 318.8,310.0C320.8,310.2 322.6,311.2 323.8,312.5C324.9,313.8 324.6,316.7 325.6,317.5C326.6,318.3 328.4,318.1 330.0,317.5C331.6,316.9 333.5,315.4 335.0,313.8C336.5,312.1 337.7,309.6 338.8,307.5C339.8,305.4 340.2,303.5 341.2,301.2C342.3,299.0 343.3,296.0 345.0,293.8C346.7,291.5 350.2,288.5 351.2,287.5" fill="none" stroke="#ebd70a" stroke-width="28" stroke-linecap="round" stroke-linejoin="round"/>
<path d="M300.0,317.5C300.8,316.9 303.1,314.8 305.0,313.8C306.9,312.7 309.0,311.9 311.2,311.2C313.5,310.6 316.7,309.8 318.8,310.0C320.8,310.2 322.6,311.2 323.8,312.5C324.9,313.8 324.6,316.7 325.6,317.5C326.6,318.3 328.4,318.1 330.0,317.5C331.6,316.9 333.5,315.4 335.0,313.8C336.5,312.1 337.7,309.6 338.8,307.5C339.8,305.4 340.2,303.5 341.2,301.2C342.3,299.0 343.3,296.0 345.0,293.8C346.7,291.5 350.2,288.5 351.2,287.5" fill="none" stroke="#fff033" stroke-width="22" stroke-linecap="round" stroke-linejoin="round"/>
<path d="M300.0,317.5C300.8,316.9 303.1,314.8 305.0,313.8C306.9,312.7 309.0,311.9 311.2,311.2C313.5,310.6 316.7,309.8 318.8,310.0C320.8,310.2 322.6,311.2 323.8,312.5C324.9,313.8 324.6,316.7 325.6,317.5C326.6,318.3 328.4,318.1 330.0,317.5C331.6,316.9 333.5,315.4 335.0,313.8C336.5,312.1 337.7,309.6 338.8,307.5C339.8,305.4 340.2,303.5 341.2,301.2C342.3,299.0 343.3,296.0 345.0,293.8C346.7,291.5 350.2,288.5 351.2,287.5" fill="none" stroke="#5be61c" stroke-width="15" stroke-linecap="round" stroke-linejoin="round"/>
<path d="M300.0,317.5C300.8,316.9 303.1,314.8 305.0,313.8C306.9,312.7 309.0,311.9 311.2,311.2C313.5,310.6 316.7,309.8 318.8,310.0C320.8,310.2 322.6,311.2 323.8,312.5C324.9,313.8 324.6,316.7 325.6,317.5C326.6,318.3 328.4,318.1 330.0,317.5C331.6,316.9 333.5,315.4 335.0,313.8C336.5,312.1 337.7,309.6 338.8,307.5C339.8,305.4 340.2,303.5 341.2,301.2C342.3,299.0 343.3,296.0 345.0,293.8C346.7,291.5 350.2,288.5 351.2,287.5" fill="none" stroke="#1fce0f" stroke-width="10" stroke-linecap="round" stroke-linejoin="round"/>
<path d="M300.0,317.5C300.8,316.9 303.1,314.8 305.0,313.8C306.9,312.7 309.0,311.9 311.2,311.2C313.5,310.6 316.7,309.8 318.8,310.0C320.8,310.2 322.6,311.2 323.8,312.5C324.9,313.8 324.6,316.7 325.6,317.5C326.6,318.3 328.4,318.1 330.0,317.5C331.6,316.9 333.5,315.4 335.0,313.8C336.5,312.1 337.7,309.6 338.8,307.5C339.8,305.4 340.2,303.5 341.2,301.2C342.3,299.0 343.3,296.0 345.0,293.8C346.7,291.5 350.2,288.5 351.2,287.5" fill="none" stroke="#1a8f22" stroke-width="5" stroke-linecap="round" stroke-linejoin="round"/>
<path d="M351.2,287.5C352.9,287.0 357.1,285.2 361.2,284.4C365.4,283.6 371.7,283.3 376.2,282.5C380.8,281.7 385.0,280.9 388.8,279.4C392.5,277.9 396.8,275.9 398.8,273.8C400.7,271.6 400.3,267.5 400.6,266.2" fill="none" stroke="#ebd70a" stroke-width="26" stroke-linecap="round" stroke-linejoin="round"/>
<path d="M351.2,287.5C352.9,287.0 357.1,285.2 361.2,284.4C365.4,283.6 371.7,283.3 376.2,282.5C380.8,281.7 385.0,280.9 388.8,279.4C392.5,277.9 396.8,275.9 398.8,273.8C400.7,271.6 400.3,267.5 400.6,266.2" fill="none" stroke="#fff033" stroke-width="20" stroke-linecap="round" stroke-linejoin="round"/>
<path d="M351.2,287.5C352.9,287.0 357.1,285.2 361.2,284.4C365.4,283.6 371.7,283.3 376.2,282.5C380.8,281.7 385.0,280.9 388.8,279.4C392.5,277.9 396.8,275.9 398.8,273.8C400.7,271.6 400.3,267.5 400.6,266.2" fill="none" stroke="#5be61c" stroke-width="14" stroke-linecap="round" stroke-linejoin="round"/>
<path d="M351.2,287.5C352.9,287.0 357.1,285.2 361.2,284.4C365.4,283.6 371.7,283.3 376.2,282.5C380.8,281.7 385.0,280.9 388.8,279.4C392.5,277.9 396.8,275.9 398.8,273.8C400.7,271.6 400.3,267.5 400.6,266.2" fill="none" stroke="#1fce0f" stroke-width="9" stroke-linecap="round" stroke-linejoin="round"/>
<path d="M351.2,287.5C352.9,287.0 357.1,285.2 361.2,284.4C365.4,283.6 371.7,283.3 376.2,282.5C380.8,281.7 385.0,280.9 388.8,279.4C392.5,277.9 396.8,275.9 398.8,273.8C400.7,271.6 400.3,267.5 400.6,266.2" fill="none" stroke="#1a8f22" stroke-width="4" stroke-linecap="round" stroke-linejoin="round"/>
<path d="M400.6,266.2C400.1,264.5 397.6,258.4 397.5,256.0C397.4,253.6 398.5,253.4 400.0,252.0C401.5,250.6 404.2,249.1 406.2,247.5C408.3,245.9 410.2,244.2 412.5,242.5C414.8,240.8 417.1,239.2 420.0,237.5C422.9,235.8 426.7,234.4 430.0,232.5C433.3,230.6 437.5,228.1 440.0,226.2C442.5,224.4 442.9,223.3 445.0,221.2C447.1,219.2 449.8,216.5 452.5,213.8C455.2,211.0 458.5,207.5 461.2,205.0C464.0,202.5 465.8,200.8 468.8,198.8C471.7,196.7 477.1,193.5 478.8,192.5" fill="none" stroke="#ebd70a" stroke-width="24" stroke-linecap="round" stroke-linejoin="round"/>
<path d="M400.6,266.2C400.1,264.5 397.6,258.4 397.5,256.0C397.4,253.6 398.5,253.4 400.0,252.0C401.5,250.6 404.2,249.1 406.2,247.5C408.3,245.9 410.2,244.2 412.5,242.5C414.8,240.8 417.1,239.2 420.0,237.5C422.9,235.8 426.7,234.4 430.0,232.5C433.3,230.6 437.5,228.1 440.0,226.2C442.5,224.4 442.9,223.3 445.0,221.2C447.1,219.2 449.8,216.5 452.5,213.8C455.2,211.0 458.5,207.5 461.2,205.0C464.0,202.5 465.8,200.8 468.8,198.8C471.7,196.7 477.1,193.5 478.8,192.5" fill="none" stroke="#fff033" stroke-width="18" stroke-linecap="round" stroke-linejoin="round"/>
<path d="M400.6,266.2C400.1,264.5 397.6,258.4 397.5,256.0C397.4,253.6 398.5,253.4 400.0,252.0C401.5,250.6 404.2,249.1 406.2,247.5C408.3,245.9 410.2,244.2 412.5,242.5C414.8,240.8 417.1,239.2 420.0,237.5C422.9,235.8 426.7,234.4 430.0,232.5C433.3,230.6 437.5,228.1 440.0,226.2C442.5,224.4 442.9,223.3 445.0,221.2C447.1,219.2 449.8,216.5 452.5,213.8C455.2,211.0 458.5,207.5 461.2,205.0C464.0,202.5 465.8,200.8 468.8,198.8C471.7,196.7 477.1,193.5 478.8,192.5" fill="none" stroke="#5be61c" stroke-width="5" stroke-linecap="round" stroke-linejoin="round"/>
<path d="M478.8,192.5C480.4,191.5 485.6,188.8 488.8,186.2C491.9,183.8 494.8,180.4 497.5,177.5C500.2,174.6 502.5,171.9 505.0,168.8C507.5,165.6 510.4,162.1 512.5,158.8C514.6,155.4 516.9,150.9 517.5,148.8C518.1,146.6 516.5,146.1 516.2,145.6" fill="none" stroke="#ebd70a" stroke-width="13" stroke-linecap="round" stroke-linejoin="round"/>
<path d="M478.8,192.5C480.4,191.5 485.6,188.8 488.8,186.2C491.9,183.8 494.8,180.4 497.5,177.5C500.2,174.6 502.5,171.9 505.0,168.8C507.5,165.6 510.4,162.1 512.5,158.8C514.6,155.4 516.9,150.9 517.5,148.8C518.1,146.6 516.5,146.1 516.2,145.6" fill="none" stroke="#fff033" stroke-width="9" stroke-linecap="round" stroke-linejoin="round"/>
<path d="M478.8,192.5C480.4,191.5 485.6,188.8 488.8,186.2C491.9,183.8 494.8,180.4 497.5,177.5C500.2,174.6 502.5,171.9 505.0,168.8C507.5,165.6 510.4,162.1 512.5,158.8C514.6,155.4 516.9,150.9 517.5,148.8C518.1,146.6 516.5,146.1 516.2,145.6" fill="none" stroke="#5be61c" stroke-width="4" stroke-linecap="round" stroke-linejoin="round"/>
<path d="M290.0,418.8C291.2,417.1 296.2,417.1 297.5,418.8C298.8,420.4 298.8,427.1 297.5,428.8C296.2,430.4 291.2,430.4 290.0,428.8C288.8,427.1 288.8,420.4 290.0,418.8Z" fill="#1a8f22"/>
<path d="M293.8,422.5C294.4,421.5 296.9,421.5 297.5,422.5C298.1,423.5 298.1,427.7 297.5,428.8C296.9,429.8 294.4,429.8 293.8,428.8C293.1,427.7 293.1,423.5 293.8,422.5Z" fill="#003c86"/>
</g>
<use href="#db"/><use href="#ol"/><use href="#ct"/>
<g class="c"><text x="431" y="167">Parvathipuram</text><text x="449.5" y="188">Srikakulam</text><text x="425.5" y="195.5">Vizianagaram</text><text x="404.5" y="211">Paderu</text><text x="419.5" y="217">Visakhapatnam</text><text x="407.5" y="228">Anakapalli</text><text x="362.5" y="247">Rajahmundry</text><text x="338.5" y="264.5">Eluru</text><text x="379" y="263">Kakinada</text><text x="292" y="270.5">Vijayawada</text><text x="275.5" y="276">Amaravati</text><text x="337" y="275">Bhimavaram</text><text x="296.5" y="288">Guntur</text><text x="358" y="287">Amalapuram</text><text x="263.5" y="302">Narasaraopet</text><text x="314.5" y="304">Machilipatnam</text><text x="182.5" y="312">Kurnool</text><text x="196" y="330">Nandyal</text><text x="275" y="339">Ongole</text><text x="149.5" y="372">Anantapur</text><text x="272" y="381">Nellore</text><text x="220" y="390.5">Kadapa</text><text x="200.5" y="411">Rayachoti</text><text x="140.5" y="413">Hindupur</text><text x="250" y="422">Tirupati</text><text x="229" y="454">Chittoor</text></g>
<text x="205.6" y="211.5" class="d">Mar_31</text>
</g>
<rect x="122.5" y="818.5" width="395.5" height="332.0" fill="#fff"/>
<path d="M122.5,818.5V1150.5" stroke="#8c8c8c" stroke-width="1.1" fill="none"/><path d="M518,818.5V1150.5" stroke="#8c8c8c" stroke-width="1.1" fill="none"/>
<path d="M122.0,818.5H518.5" stroke="#aaa" stroke-width="1.2" fill="none"/><path d="M122.0,1150.5H518.5" stroke="#111" stroke-width="1.3" fill="none"/>
<g transform="translate(0,675.0)">
<g clip-path="url(#st)">
<rect x="120" y="140" width="400" height="340" fill="#ff8020"/>
<path d="M141.2,307.5C143.8,305.8 150.6,304.6 157.5,305.0C164.4,305.4 175.4,310.4 182.5,310.0C189.6,309.6 193.8,303.9 200.0,302.5C206.2,301.1 215.6,301.7 220.0,301.9C224.4,302.1 225.4,299.5 226.2,303.8C227.1,308.0 230.2,323.1 225.0,327.5C219.8,331.9 200.8,327.5 195.0,330.0C189.2,332.5 193.8,341.9 190.0,342.5C186.2,343.1 175.8,333.3 172.5,333.8C169.2,334.2 167.1,342.3 170.0,345.0C172.9,347.7 186.7,346.7 190.0,350.0C193.3,353.3 193.3,362.1 190.0,365.0C186.7,367.9 175.4,367.9 170.0,367.5C164.6,367.1 161.7,363.3 157.5,362.5C153.3,361.7 149.2,362.9 145.0,362.5C140.8,362.1 135.2,361.7 132.5,360.0C129.8,358.3 127.7,354.2 128.8,352.5C129.8,350.8 135.6,351.2 138.8,350.0C141.9,348.8 147.3,348.3 147.5,345.0C147.7,341.7 140.8,335.0 140.0,330.0C139.2,325.0 142.3,318.8 142.5,315.0C142.7,311.2 138.8,309.2 141.2,307.5Z" fill="#ffa46e"/>
<path d="M223.8,345.0C226.0,342.1 235.4,343.3 240.0,347.5C244.6,351.7 249.4,362.9 251.2,370.0C253.1,377.1 253.1,386.7 251.2,390.0C249.4,393.3 243.5,390.8 240.0,390.0C236.5,389.2 232.3,389.2 230.0,385.0C227.7,380.8 227.3,371.7 226.2,365.0C225.2,358.3 221.5,347.9 223.8,345.0Z" fill="#ffa46e"/>
<path d="M245.0,302.5C249.8,299.0 257.5,297.9 263.8,300.0C270.0,302.1 280.4,310.4 282.5,315.0C284.6,319.6 280.4,324.8 276.2,327.5C272.1,330.2 261.0,328.3 257.5,331.2C254.0,334.2 257.9,342.7 255.0,345.0C252.1,347.3 243.8,346.2 240.0,345.0C236.2,343.8 233.3,341.5 232.5,337.5C231.7,333.5 232.9,327.1 235.0,321.2C237.1,315.4 240.2,306.0 245.0,302.5Z" fill="#ffa46e"/>
<path d="M247.5,352.5C249.8,348.3 261.2,350.4 265.0,352.5C268.8,354.6 270.0,359.6 270.0,365.0C270.0,370.4 267.1,381.0 265.0,385.0C262.9,389.0 259.8,390.0 257.5,388.8C255.2,387.5 252.9,383.5 251.2,377.5C249.6,371.5 245.2,356.7 247.5,352.5Z" fill="#ffa46e"/>
<path d="M261.2,397.5C262.7,394.2 272.9,394.6 276.2,397.5C279.6,400.4 282.7,411.7 281.2,415.0C279.8,418.3 270.8,420.4 267.5,417.5C264.2,414.6 259.8,400.8 261.2,397.5Z" fill="#ffa46e"/>
<path d="M161.2,377.5C164.2,374.2 177.7,375.4 182.5,377.5C187.3,379.6 190.8,387.5 190.0,390.0C189.2,392.5 181.7,391.2 177.5,392.5C173.3,393.8 167.7,400.0 165.0,397.5C162.3,395.0 158.3,380.8 161.2,377.5Z" fill="#ffa46e"/>
<path d="M143.8,307.5C150.0,306.2 173.5,309.8 182.5,310.0C191.5,310.2 195.0,305.8 197.5,308.8C200.0,311.7 200.0,324.6 197.5,327.5C195.0,330.4 186.2,327.5 182.5,326.2C178.8,325.0 178.5,319.8 175.0,320.0C171.5,320.2 165.0,327.1 161.2,327.5C157.5,327.9 155.2,324.2 152.5,322.5C149.8,320.8 146.5,320.0 145.0,317.5C143.5,315.0 137.5,308.8 143.8,307.5Z" fill="#fa5078"/>
<path d="M161.2,310.0C161.2,308.1 167.5,308.1 170.0,310.0C172.5,311.9 176.2,319.4 176.2,321.2C176.2,323.1 172.5,323.1 170.0,321.2C167.5,319.4 161.2,311.9 161.2,310.0Z" fill="#f5205a"/>
<path d="M187.5,311.2C188.8,310.4 193.8,310.4 195.0,311.2C196.2,312.1 196.2,315.4 195.0,316.2C193.8,317.1 188.8,317.1 187.5,316.2C186.2,315.4 186.2,312.1 187.5,311.2Z" fill="#f5205a"/>
<path d="M200.0,303.8C202.5,299.8 212.5,299.8 215.0,303.8C217.5,307.7 217.5,323.5 215.0,327.5C212.5,331.5 202.5,331.5 200.0,327.5C197.5,323.5 197.5,307.7 200.0,303.8Z" fill="#fa5078"/>
<path d="M197.5,327.5C201.9,324.6 213.8,322.9 217.5,327.5C221.2,332.1 218.3,347.9 220.0,355.0C221.7,362.1 226.2,365.0 227.5,370.0C228.8,375.0 230.0,381.7 227.5,385.0C225.0,388.3 215.8,388.3 212.5,390.0C209.2,391.7 209.6,395.8 207.5,395.0C205.4,394.2 202.7,387.9 200.0,385.0C197.3,382.1 192.5,381.7 191.2,377.5C190.0,373.3 191.5,363.8 192.5,360.0C193.5,356.2 197.7,357.5 197.5,355.0C197.3,352.5 191.2,349.6 191.2,345.0C191.2,340.4 193.1,330.4 197.5,327.5Z" fill="#fa5078"/>
<path d="M168.8,348.8C171.9,346.2 186.2,346.9 190.0,350.0C193.8,353.1 194.4,365.0 191.2,367.5C188.1,370.0 175.0,368.1 171.2,365.0C167.5,361.9 165.6,351.2 168.8,348.8Z" fill="#fa5078"/>
<path d="M197.5,332.5C200.0,329.2 212.1,329.2 215.0,332.5C217.9,335.8 217.5,349.2 215.0,352.5C212.5,355.8 202.9,355.8 200.0,352.5C197.1,349.2 195.0,335.8 197.5,332.5Z" fill="#f5205a"/>
<path d="M212.5,361.2C213.5,358.1 219.2,358.1 221.2,361.2C223.3,364.4 226.0,376.9 225.0,380.0C224.0,383.1 217.1,383.1 215.0,380.0C212.9,376.9 211.5,364.4 212.5,361.2Z" fill="#f5205a"/>
<path d="M198.8,372.5C200.6,370.4 208.1,370.4 210.0,372.5C211.9,374.6 211.9,382.9 210.0,385.0C208.1,387.1 200.6,387.1 198.8,385.0C196.9,382.9 196.9,374.6 198.8,372.5Z" fill="#f5205a"/>
<path d="M195.0,361.2C196.0,360.2 200.2,360.2 201.2,361.2C202.3,362.3 202.3,366.5 201.2,367.5C200.2,368.5 196.0,368.5 195.0,367.5C194.0,366.5 194.0,362.3 195.0,361.2Z" fill="#ffa46e"/>
<path d="M250.0,300.0C252.1,298.1 261.2,298.1 262.5,300.0C263.8,301.9 259.6,309.4 257.5,311.2C255.4,313.1 251.2,313.1 250.0,311.2C248.8,309.4 247.9,301.9 250.0,300.0Z" fill="#fa5078"/>
<path d="M232.5,356.2C233.5,354.6 237.7,354.6 238.8,356.2C239.8,357.9 239.8,364.6 238.8,366.2C237.7,367.9 233.5,367.9 232.5,366.2C231.5,364.6 231.5,357.9 232.5,356.2Z" fill="#fa5078"/>
<path d="M241.2,390.0C242.5,388.3 247.5,388.3 248.8,390.0C250.0,391.7 250.0,398.3 248.8,400.0C247.5,401.7 242.5,401.7 241.2,400.0C240.0,398.3 240.0,391.7 241.2,390.0Z" fill="#fa5078"/>
<path d="M293.8,255.0C295.0,253.5 300.0,253.5 301.2,255.0C302.5,256.5 302.5,262.3 301.2,263.8C300.0,265.2 295.0,265.2 293.8,263.8C292.5,262.3 292.5,256.5 293.8,255.0Z" fill="#fa5078"/>
<path d="M251.2,300.0C253.1,298.1 261.5,298.1 262.5,300.0C263.5,301.9 259.4,309.4 257.5,311.2C255.6,313.1 252.3,313.1 251.2,311.2C250.2,309.4 249.4,301.9 251.2,300.0Z" fill="#fa5078"/>
<path d="M232.5,297.5C234.2,295.6 241.2,295.6 242.5,297.5C243.8,299.4 241.7,306.9 240.0,308.8C238.3,310.6 233.8,310.6 232.5,308.8C231.2,306.9 230.8,299.4 232.5,297.5Z" fill="#ebd70a"/>
<path d="M227.5,320.0C228.1,319.2 230.6,319.2 231.2,320.0C231.9,320.8 231.9,324.2 231.2,325.0C230.6,325.8 228.1,325.8 227.5,325.0C226.9,324.2 226.9,320.8 227.5,320.0Z" fill="#ebd70a"/>
<path d="M197.5,410.0C204.2,408.1 230.8,408.1 237.5,410.0C244.2,411.9 244.2,419.4 237.5,421.2C230.8,423.1 204.2,423.1 197.5,421.2C190.8,419.4 190.8,411.9 197.5,410.0Z" fill="#f2680c"/>
<path d="M175.0,401.2C177.1,400.0 185.4,400.0 187.5,401.2C189.6,402.5 189.6,407.5 187.5,408.8C185.4,410.0 177.1,410.0 175.0,408.8C172.9,407.5 172.9,402.5 175.0,401.2Z" fill="#ebd70a"/>
<path d="M197.5,417.5C199.2,415.6 209.2,415.0 215.0,416.2C220.8,417.5 229.2,421.0 232.5,425.0C235.8,429.0 239.4,437.5 235.0,440.0C230.6,442.5 211.2,442.1 206.2,440.0C201.2,437.9 206.5,431.2 205.0,427.5C203.5,423.8 195.8,419.4 197.5,417.5Z" fill="#ebd70a"/>
<path d="M206.2,435.0C208.8,434.6 220.2,438.3 225.0,440.0C229.8,441.7 234.2,442.9 235.0,445.0C235.8,447.1 232.5,451.2 230.0,452.5C227.5,453.8 222.1,450.4 220.0,452.5C217.9,454.6 219.2,461.5 217.5,465.0C215.8,468.5 213.3,472.9 210.0,473.8C206.7,474.6 199.0,472.1 197.5,470.0C196.0,467.9 198.8,464.6 201.2,461.2C203.8,457.9 211.0,453.1 212.5,450.0C214.0,446.9 211.0,445.0 210.0,442.5C209.0,440.0 203.8,435.4 206.2,435.0Z" fill="#fff033"/>
<path d="M207.5,425.0C209.6,422.7 216.2,425.2 220.0,426.2C223.8,427.3 228.3,429.0 230.0,431.2C231.7,433.5 233.8,438.5 230.0,440.0C226.2,441.5 211.2,442.5 207.5,440.0C203.8,437.5 205.4,427.3 207.5,425.0Z" fill="#5be61c"/>
<path d="M210.0,428.8C212.9,427.5 224.6,430.6 227.5,432.5C230.4,434.4 230.4,438.8 227.5,440.0C224.6,441.2 212.9,441.9 210.0,440.0C207.1,438.1 207.1,430.0 210.0,428.8Z" fill="#1fce0f"/>
<path d="M235.0,430.0C238.8,425.8 255.8,424.2 260.0,427.5C264.2,430.8 263.8,445.8 260.0,450.0C256.2,454.2 241.7,455.8 237.5,452.5C233.3,449.2 231.2,434.2 235.0,430.0Z" fill="#ff8020"/>
<path d="M238.8,412.5C241.0,410.8 250.2,410.8 252.5,412.5C254.8,414.2 254.8,420.8 252.5,422.5C250.2,424.2 241.0,424.2 238.8,422.5C236.5,420.8 236.5,414.2 238.8,412.5Z" fill="#ebd70a"/>
<path d="M245.0,413.8C246.0,412.9 250.2,412.9 251.2,413.8C252.3,414.6 252.3,417.9 251.2,418.8C250.2,419.6 246.0,419.6 245.0,418.8C244.0,417.9 244.0,414.6 245.0,413.8Z" fill="#5be61c"/>
<path d="M263.8,423.8C266.0,422.3 275.2,422.3 277.5,423.8C279.8,425.2 279.8,431.0 277.5,432.5C275.2,434.0 266.0,434.0 263.8,432.5C261.5,431.0 261.5,425.2 263.8,423.8Z" fill="#ebd70a"/>
<path d="M200.0,458.8C201.9,456.7 207.9,456.5 210.0,457.5C212.1,458.5 212.9,462.5 212.5,465.0C212.1,467.5 209.8,471.7 207.5,472.5C205.2,473.3 200.0,472.3 198.8,470.0C197.5,467.7 198.1,460.8 200.0,458.8Z" fill="#5be61c"/>
<path d="M248.8,276.2C250.8,273.4 254.4,274.0 261.2,273.1C268.1,272.3 285.2,268.4 290.0,271.2C294.8,274.1 296.9,286.9 290.0,290.0C283.1,293.1 255.6,292.3 248.8,290.0C241.9,287.7 246.7,279.1 248.8,276.2Z" fill="#ffa46e"/>
<path d="M287.5,256.2C288.6,254.5 291.7,253.3 295.0,253.1C298.3,252.9 305.4,252.0 307.5,255.0C309.6,258.0 309.6,268.5 307.5,271.2C305.4,274.0 298.2,272.5 295.0,271.2C291.8,270.0 289.4,266.2 288.1,263.8C286.9,261.2 286.4,258.0 287.5,256.2Z" fill="#ffa46e"/>
<path d="M290.0,277.5C293.3,272.1 308.8,273.3 315.0,267.5C321.2,261.7 322.5,246.7 327.5,242.5C332.5,238.3 333.8,242.9 345.0,242.5C356.2,242.1 386.7,235.2 395.0,240.0C403.3,244.8 403.3,265.8 395.0,271.2C386.7,276.7 354.4,270.2 345.0,272.5C335.6,274.8 340.8,280.4 338.8,285.0C336.7,289.6 339.8,297.5 332.5,300.0C325.2,302.5 302.1,303.8 295.0,300.0C287.9,296.2 286.7,282.9 290.0,277.5Z" fill="#f2680c"/>
<path d="M295.0,285.0C297.1,282.9 305.4,282.9 307.5,285.0C309.6,287.1 309.6,295.4 307.5,297.5C305.4,299.6 297.1,299.6 295.0,297.5C292.9,295.4 292.9,287.1 295.0,285.0Z" fill="#ff8020"/>
<path d="M227.5,300.0C233.1,291.5 255.6,289.4 261.2,297.5C266.9,305.6 266.9,340.2 261.2,348.8C255.6,357.3 233.1,356.9 227.5,348.8C221.9,340.6 221.9,308.5 227.5,300.0Z" fill="#ffa46e"/>
<path d="M260.0,300.0C265.0,291.7 285.0,291.7 290.0,300.0C295.0,308.3 295.0,341.7 290.0,350.0C285.0,358.3 265.0,358.3 260.0,350.0C255.0,341.7 255.0,308.3 260.0,300.0Z" fill="#f2680c"/>
<path d="M232.5,317.5C234.4,312.1 246.5,307.9 251.2,310.0C256.0,312.1 263.1,324.6 261.2,330.0C259.4,335.4 244.8,344.6 240.0,342.5C235.2,340.4 230.6,322.9 232.5,317.5Z" fill="#ff8020"/>
<path d="M232.5,296.2C234.4,294.2 241.9,294.2 243.8,296.2C245.6,298.3 245.6,306.7 243.8,308.8C241.9,310.8 234.4,310.8 232.5,308.8C230.6,306.7 230.6,298.3 232.5,296.2Z" fill="#ebd70a"/>
<path d="M226.2,320.0C227.3,319.0 231.5,319.0 232.5,320.0C233.5,321.0 233.5,325.2 232.5,326.2C231.5,327.3 227.3,327.3 226.2,326.2C225.2,325.2 225.2,321.0 226.2,320.0Z" fill="#ebd70a"/>
<path d="M350.0,230.0C359.6,227.9 397.9,227.9 407.5,230.0C417.1,232.1 417.1,240.4 407.5,242.5C397.9,244.6 359.6,244.6 350.0,242.5C340.4,240.4 340.4,232.1 350.0,230.0Z" fill="#ebd70a"/>
<path d="M342.5,251.2C343.5,250.6 347.7,250.6 348.8,251.2C349.8,251.9 349.8,254.4 348.8,255.0C347.7,255.6 343.5,255.6 342.5,255.0C341.5,254.4 341.5,251.9 342.5,251.2Z" fill="#ebd70a"/>
<path d="M351.2,273.8C357.3,272.3 381.5,272.3 387.5,273.8C393.5,275.2 393.5,281.0 387.5,282.5C381.5,284.0 357.3,284.0 351.2,282.5C345.2,281.0 345.2,275.2 351.2,273.8Z" fill="#ebd70a"/>
<path d="M355.0,275.6C360.0,274.5 380.4,274.1 385.0,275.0C389.6,275.9 387.5,280.1 382.5,281.2C377.5,282.4 359.6,282.8 355.0,281.9C350.4,280.9 350.0,276.8 355.0,275.6Z" fill="#fff033"/>
<path d="M330.0,216.2C331.7,215.2 338.3,215.2 340.0,216.2C341.7,217.3 341.7,221.5 340.0,222.5C338.3,223.5 331.7,223.5 330.0,222.5C328.3,221.5 328.3,217.3 330.0,216.2Z" fill="#ffa46e"/>
<path d="M327.5,247.5C338.8,242.5 383.3,239.6 395.0,242.5C406.7,245.4 398.8,260.0 397.5,265.0C396.2,270.0 399.2,271.2 387.5,272.5C375.8,273.8 337.5,276.7 327.5,272.5C317.5,268.3 316.2,252.5 327.5,247.5Z" fill="#f2680c"/>
<path d="M347.5,245.0C345.2,242.5 348.8,235.0 351.2,230.0C353.8,225.0 357.7,219.4 362.5,215.0C367.3,210.6 374.2,206.0 380.0,203.8C385.8,201.5 394.2,205.0 397.5,201.2C400.8,197.5 398.5,185.4 400.0,181.2C401.5,177.1 403.8,174.8 406.2,176.2C408.8,177.7 412.1,189.1 415.0,190.0C417.9,190.9 420.4,182.5 423.8,181.9C427.1,181.2 432.3,184.1 435.0,186.2C437.7,188.4 440.4,191.9 440.0,195.0C439.6,198.1 435.4,201.7 432.5,205.0C429.6,208.3 425.8,211.2 422.5,215.0C419.2,218.8 414.6,223.3 412.5,227.5C410.4,231.7 412.9,237.9 410.0,240.0C407.1,242.1 400.0,241.2 395.0,240.0C390.0,238.8 385.0,231.7 380.0,232.5C375.0,233.3 370.4,242.9 365.0,245.0C359.6,247.1 349.8,247.5 347.5,245.0Z" fill="#ebd70a"/>
<path d="M350.0,242.5C348.3,240.8 352.7,234.4 355.0,230.0C357.3,225.6 359.6,220.4 363.8,216.2C367.9,212.1 374.4,207.3 380.0,205.0C385.6,202.7 394.0,206.2 397.5,202.5C401.0,198.8 399.8,186.7 401.2,182.5C402.7,178.3 404.2,176.2 406.2,177.5C408.3,178.8 410.8,189.1 413.8,190.0C416.7,190.9 420.4,183.6 423.8,183.1C427.1,182.6 431.5,184.9 433.8,186.9C436.0,188.9 437.9,192.2 437.5,195.0C437.1,197.8 434.2,200.4 431.2,203.8C428.3,207.1 423.5,211.0 420.0,215.0C416.5,219.0 412.5,223.8 410.0,227.5C407.5,231.2 407.5,235.8 405.0,237.5C402.5,239.2 399.2,238.8 395.0,237.5C390.8,236.2 385.0,229.6 380.0,230.0C375.0,230.4 370.0,237.9 365.0,240.0C360.0,242.1 351.7,244.2 350.0,242.5Z" fill="#fff033"/>
<path d="M367.5,215.0C369.6,212.1 375.0,208.1 380.0,206.2C385.0,204.4 394.0,207.5 397.5,203.8C401.0,200.0 399.8,187.9 401.2,183.8C402.7,179.6 404.3,177.5 406.2,178.8C408.2,180.0 410.2,190.3 413.1,191.2C416.0,192.2 420.5,184.9 423.8,184.4C427.0,183.9 431.0,186.1 432.5,188.1C434.0,190.1 434.6,193.0 432.5,196.2C430.4,199.5 424.2,204.4 420.0,207.5C415.8,210.6 412.1,213.8 407.5,215.0C402.9,216.2 397.1,215.0 392.5,215.0C387.9,215.0 383.1,213.3 380.0,215.0C376.9,216.7 375.8,223.5 373.8,225.0C371.7,226.5 368.5,225.4 367.5,223.8C366.5,222.1 365.4,217.9 367.5,215.0Z" fill="#5be61c"/>
<path d="M390.0,206.2C390.8,204.4 397.9,206.0 400.0,202.5C402.1,199.0 401.5,188.8 402.5,185.0C403.5,181.2 404.6,178.8 406.2,180.0C407.9,181.2 409.6,191.6 412.5,192.5C415.4,193.4 420.6,186.1 423.8,185.6C426.9,185.1 430.2,187.6 431.2,189.4C432.3,191.1 431.9,193.6 430.0,196.2C428.1,198.9 423.8,202.3 420.0,205.0C416.2,207.7 411.7,211.0 407.5,212.5C403.3,214.0 397.9,214.8 395.0,213.8C392.1,212.7 389.2,208.1 390.0,206.2Z" fill="#1fce0f"/>
<path d="M370.0,212.5C371.0,210.8 376.0,209.2 377.5,210.0C379.0,210.8 379.8,215.8 378.8,217.5C377.7,219.2 372.7,220.8 371.2,220.0C369.8,219.2 369.0,214.2 370.0,212.5Z" fill="#1fce0f"/>
<path d="M402.5,195.0C403.3,192.3 407.1,190.8 410.0,190.0C412.9,189.2 417.3,191.2 420.0,190.0C422.7,188.8 424.2,182.5 426.2,182.5C428.3,182.5 431.9,187.5 432.5,190.0C433.1,192.5 432.1,195.0 430.0,197.5C427.9,200.0 422.9,202.9 420.0,205.0C417.1,207.1 415.0,209.8 412.5,210.0C410.0,210.2 406.7,208.8 405.0,206.2C403.3,203.8 401.7,197.7 402.5,195.0Z" fill="#1a8f22"/>
<path d="M390.0,207.5C391.0,206.2 395.2,206.2 396.2,207.5C397.3,208.8 397.3,213.8 396.2,215.0C395.2,216.2 391.0,216.2 390.0,215.0C389.0,213.8 389.0,208.8 390.0,207.5Z" fill="#1a8f22"/>
<path d="M407.5,198.8C409.2,196.2 416.7,193.8 420.0,192.5C423.3,191.2 426.2,190.6 427.5,191.2C428.8,191.9 429.2,194.2 427.5,196.2C425.8,198.3 420.4,201.9 417.5,203.8C414.6,205.6 411.7,208.3 410.0,207.5C408.3,206.7 405.8,201.2 407.5,198.8Z" fill="#003c86"/>
<path d="M442.5,172.5C445.0,169.2 455.0,169.2 457.5,172.5C460.0,175.8 460.0,189.2 457.5,192.5C455.0,195.8 445.0,195.8 442.5,192.5C440.0,189.2 440.0,175.8 442.5,172.5Z" fill="#ffa46e"/>
<path d="M475.0,171.2C477.9,168.1 489.6,164.4 495.0,162.5C500.4,160.6 507.5,156.9 507.5,160.0C507.5,163.1 500.0,177.7 495.0,181.2C490.0,184.8 480.8,182.9 477.5,181.2C474.2,179.6 472.1,174.4 475.0,171.2Z" fill="#ffa46e"/>
<path d="M436.2,168.8C436.5,170.2 437.7,174.4 437.5,177.5C437.3,180.6 435.4,185.8 435.0,187.5" fill="none" stroke="#fff033" stroke-width="4" stroke-linecap="round" stroke-linejoin="round"/>
<path d="M434.4,168.8C434.6,170.2 435.8,174.4 435.6,177.5C435.4,180.6 433.5,185.8 433.1,187.5" fill="none" stroke="#5be61c" stroke-width="2.5" stroke-linecap="round" stroke-linejoin="round"/>
<path d="M297.5,430.0C297.6,429.2 298.1,427.1 298.1,425.0C298.1,422.9 298.0,420.0 297.5,417.5C297.0,415.0 295.8,412.5 295.0,410.0C294.2,407.5 293.1,405.2 292.5,402.5C291.9,399.8 291.2,396.5 291.2,393.8C291.2,391.0 291.9,389.0 292.5,386.2C293.1,383.5 295.0,380.2 295.0,377.5C295.0,374.8 293.3,372.7 292.5,370.0C291.7,367.3 290.7,364.2 290.0,361.2C289.3,358.3 288.4,355.2 288.1,352.5C287.8,349.8 287.8,347.5 288.1,345.0C288.4,342.5 289.3,339.8 290.0,337.5C290.7,335.2 291.5,333.5 292.5,331.2C293.5,329.0 295.0,326.0 296.2,323.8C297.5,321.5 299.4,318.5 300.0,317.5" fill="none" stroke="#ebd70a" stroke-width="9" stroke-linecap="round" stroke-linejoin="round"/>
<path d="M297.5,430.0C297.6,429.2 298.1,427.1 298.1,425.0C298.1,422.9 298.0,420.0 297.5,417.5C297.0,415.0 295.8,412.5 295.0,410.0C294.2,407.5 293.1,405.2 292.5,402.5C291.9,399.8 291.2,396.5 291.2,393.8C291.2,391.0 291.9,389.0 292.5,386.2C293.1,383.5 295.0,380.2 295.0,377.5C295.0,374.8 293.3,372.7 292.5,370.0C291.7,367.3 290.7,364.2 290.0,361.2C289.3,358.3 288.4,355.2 288.1,352.5C287.8,349.8 287.8,347.5 288.1,345.0C288.4,342.5 289.3,339.8 290.0,337.5C290.7,335.2 291.5,333.5 292.5,331.2C293.5,329.0 295.0,326.0 296.2,323.8C297.5,321.5 299.4,318.5 300.0,317.5" fill="none" stroke="#fff033" stroke-width="7" stroke-linecap="round" stroke-linejoin="round"/>
<path d="M297.5,430.0C297.6,429.2 298.1,427.1 298.1,425.0C298.1,422.9 298.0,420.0 297.5,417.5C297.0,415.0 295.8,412.5 295.0,410.0C294.2,407.5 293.1,405.2 292.5,402.5C291.9,399.8 291.2,396.5 291.2,393.8C291.2,391.0 291.9,389.0 292.5,386.2C293.1,383.5 295.0,380.2 295.0,377.5C295.0,374.8 293.3,372.7 292.5,370.0C291.7,367.3 290.7,364.2 290.0,361.2C289.3,358.3 288.4,355.2 288.1,352.5C287.8,349.8 287.8,347.5 288.1,345.0C288.4,342.5 289.3,339.8 290.0,337.5C290.7,335.2 291.5,333.5 292.5,331.2C293.5,329.0 295.0,326.0 296.2,323.8C297.5,321.5 299.4,318.5 300.0,317.5" fill="none" stroke="#5be61c" stroke-width="4" stroke-linecap="round" stroke-linejoin="round"/>
<path d="M297.5,430.0C297.6,429.2 298.1,427.1 298.1,425.0C298.1,422.9 298.0,420.0 297.5,417.5C297.0,415.0 295.8,412.5 295.0,410.0C294.2,407.5 293.1,405.2 292.5,402.5C291.9,399.8 291.2,396.5 291.2,393.8C291.2,391.0 291.9,389.0 292.5,386.2C293.1,383.5 295.0,380.2 295.0,377.5C295.0,374.8 293.3,372.7 292.5,370.0C291.7,367.3 290.7,364.2 290.0,361.2C289.3,358.3 288.4,355.2 288.1,352.5C287.8,349.8 287.8,347.5 288.1,345.0C288.4,342.5 289.3,339.8 290.0,337.5C290.7,335.2 291.5,333.5 292.5,331.2C293.5,329.0 295.0,326.0 296.2,323.8C297.5,321.5 299.4,318.5 300.0,317.5" fill="none" stroke="#1fce0f" stroke-width="2" stroke-linecap="round" stroke-linejoin="round"/>
<path d="M300.0,317.5C300.8,316.9 303.1,314.8 305.0,313.8C306.9,312.7 309.0,311.9 311.2,311.2C313.5,310.6 316.7,309.8 318.8,310.0C320.8,310.2 322.6,311.2 323.8,312.5C324.9,313.8 324.6,316.7 325.6,317.5C326.6,318.3 328.4,318.1 330.0,317.5C331.6,316.9 333.5,315.4 335.0,313.8C336.5,312.1 337.7,309.6 338.8,307.5C339.8,305.4 340.2,303.5 341.2,301.2C342.3,299.0 343.3,296.0 345.0,293.8C346.7,291.5 350.2,288.5 351.2,287.5" fill="none" stroke="#ebd70a" stroke-width="16" stroke-linecap="round" stroke-linejoin="round"/>
<path d="M300.0,317.5C300.8,316.9 303.1,314.8 305.0,313.8C306.9,312.7 309.0,311.9 311.2,311.2C313.5,310.6 316.7,309.8 318.8,310.0C320.8,310.2 322.6,311.2 323.8,312.5C324.9,313.8 324.6,316.7 325.6,317.5C326.6,318.3 328.4,318.1 330.0,317.5C331.6,316.9 333.5,315.4 335.0,313.8C336.5,312.1 337.7,309.6 338.8,307.5C339.8,305.4 340.2,303.5 341.2,301.2C342.3,299.0 343.3,296.0 345.0,293.8C346.7,291.5 350.2,288.5 351.2,287.5" fill="none" stroke="#fff033" stroke-width="13" stroke-linecap="round" stroke-linejoin="round"/>
<path d="M300.0,317.5C300.8,316.9 303.1,314.8 305.0,313.8C306.9,312.7 309.0,311.9 311.2,311.2C313.5,310.6 316.7,309.8 318.8,310.0C320.8,310.2 322.6,311.2 323.8,312.5C324.9,313.8 324.6,316.7 325.6,317.5C326.6,318.3 328.4,318.1 330.0,317.5C331.6,316.9 333.5,315.4 335.0,313.8C336.5,312.1 337.7,309.6 338.8,307.5C339.8,305.4 340.2,303.5 341.2,301.2C342.3,299.0 343.3,296.0 345.0,293.8C346.7,291.5 350.2,288.5 351.2,287.5" fill="none" stroke="#5be61c" stroke-width="8" stroke-linecap="round" stroke-linejoin="round"/>
<path d="M300.0,317.5C300.8,316.9 303.1,314.8 305.0,313.8C306.9,312.7 309.0,311.9 311.2,311.2C313.5,310.6 316.7,309.8 318.8,310.0C320.8,310.2 322.6,311.2 323.8,312.5C324.9,313.8 324.6,316.7 325.6,317.5C326.6,318.3 328.4,318.1 330.0,317.5C331.6,316.9 333.5,315.4 335.0,313.8C336.5,312.1 337.7,309.6 338.8,307.5C339.8,305.4 340.2,303.5 341.2,301.2C342.3,299.0 343.3,296.0 345.0,293.8C346.7,291.5 350.2,288.5 351.2,287.5" fill="none" stroke="#1fce0f" stroke-width="4" stroke-linecap="round" stroke-linejoin="round"/>
<path d="M351.2,287.5C352.9,287.0 357.1,285.2 361.2,284.4C365.4,283.6 371.7,283.3 376.2,282.5C380.8,281.7 385.0,280.9 388.8,279.4C392.5,277.9 396.8,275.9 398.8,273.8C400.7,271.6 400.3,267.5 400.6,266.2" fill="none" stroke="#ebd70a" stroke-width="14" stroke-linecap="round" stroke-linejoin="round"/>
<path d="M351.2,287.5C352.9,287.0 357.1,285.2 361.2,284.4C365.4,283.6 371.7,283.3 376.2,282.5C380.8,281.7 385.0,280.9 388.8,279.4C392.5,277.9 396.8,275.9 398.8,273.8C400.7,271.6 400.3,267.5 400.6,266.2" fill="none" stroke="#fff033" stroke-width="11" stroke-linecap="round" stroke-linejoin="round"/>
<path d="M351.2,287.5C352.9,287.0 357.1,285.2 361.2,284.4C365.4,283.6 371.7,283.3 376.2,282.5C380.8,281.7 385.0,280.9 388.8,279.4C392.5,277.9 396.8,275.9 398.8,273.8C400.7,271.6 400.3,267.5 400.6,266.2" fill="none" stroke="#5be61c" stroke-width="6" stroke-linecap="round" stroke-linejoin="round"/>
<path d="M351.2,287.5C352.9,287.0 357.1,285.2 361.2,284.4C365.4,283.6 371.7,283.3 376.2,282.5C380.8,281.7 385.0,280.9 388.8,279.4C392.5,277.9 396.8,275.9 398.8,273.8C400.7,271.6 400.3,267.5 400.6,266.2" fill="none" stroke="#1fce0f" stroke-width="3" stroke-linecap="round" stroke-linejoin="round"/>
<path d="M400.6,266.2C400.1,264.5 397.6,258.4 397.5,256.0C397.4,253.6 398.5,253.4 400.0,252.0C401.5,250.6 404.2,249.1 406.2,247.5C408.3,245.9 410.2,244.2 412.5,242.5C414.8,240.8 417.1,239.2 420.0,237.5C422.9,235.8 426.7,234.4 430.0,232.5C433.3,230.6 437.5,228.1 440.0,226.2C442.5,224.4 442.9,223.3 445.0,221.2C447.1,219.2 449.8,216.5 452.5,213.8C455.2,211.0 458.5,207.5 461.2,205.0C464.0,202.5 465.8,200.8 468.8,198.8C471.7,196.7 475.4,194.6 478.8,192.5C482.1,190.4 485.6,188.8 488.8,186.2C491.9,183.8 494.8,180.4 497.5,177.5C500.2,174.6 502.5,171.9 505.0,168.8C507.5,165.6 510.4,162.1 512.5,158.8C514.6,155.4 516.9,150.9 517.5,148.8C518.1,146.6 516.5,146.1 516.2,145.6" fill="none" stroke="#ebd70a" stroke-width="11" stroke-linecap="round" stroke-linejoin="round"/>
<path d="M400.6,266.2C400.1,264.5 397.6,258.4 397.5,256.0C397.4,253.6 398.5,253.4 400.0,252.0C401.5,250.6 404.2,249.1 406.2,247.5C408.3,245.9 410.2,244.2 412.5,242.5C414.8,240.8 417.1,239.2 420.0,237.5C422.9,235.8 426.7,234.4 430.0,232.5C433.3,230.6 437.5,228.1 440.0,226.2C442.5,224.4 442.9,223.3 445.0,221.2C447.1,219.2 449.8,216.5 452.5,213.8C455.2,211.0 458.5,207.5 461.2,205.0C464.0,202.5 465.8,200.8 468.8,198.8C471.7,196.7 475.4,194.6 478.8,192.5C482.1,190.4 485.6,188.8 488.8,186.2C491.9,183.8 494.8,180.4 497.5,177.5C500.2,174.6 502.5,171.9 505.0,168.8C507.5,165.6 510.4,162.1 512.5,158.8C514.6,155.4 516.9,150.9 517.5,148.8C518.1,146.6 516.5,146.1 516.2,145.6" fill="none" stroke="#fff033" stroke-width="8" stroke-linecap="round" stroke-linejoin="round"/>
<path d="M400.6,266.2C400.1,264.5 397.6,258.4 397.5,256.0C397.4,253.6 398.5,253.4 400.0,252.0C401.5,250.6 404.2,249.1 406.2,247.5C408.3,245.9 410.2,244.2 412.5,242.5C414.8,240.8 417.1,239.2 420.0,237.5C422.9,235.8 426.7,234.4 430.0,232.5C433.3,230.6 437.5,228.1 440.0,226.2C442.5,224.4 442.9,223.3 445.0,221.2C447.1,219.2 449.8,216.5 452.5,213.8C455.2,211.0 458.5,207.5 461.2,205.0C464.0,202.5 465.8,200.8 468.8,198.8C471.7,196.7 475.4,194.6 478.8,192.5C482.1,190.4 485.6,188.8 488.8,186.2C491.9,183.8 494.8,180.4 497.5,177.5C500.2,174.6 502.5,171.9 505.0,168.8C507.5,165.6 510.4,162.1 512.5,158.8C514.6,155.4 516.9,150.9 517.5,148.8C518.1,146.6 516.5,146.1 516.2,145.6" fill="none" stroke="#5be61c" stroke-width="3" stroke-linecap="round" stroke-linejoin="round"/>
<path d="M290.0,415.0C291.2,412.9 296.2,412.9 297.5,415.0C298.8,417.1 298.8,425.4 297.5,427.5C296.2,429.6 291.2,429.6 290.0,427.5C288.8,425.4 288.8,417.1 290.0,415.0Z" fill="#1fce0f"/>
<path d="M290.0,415.0C290.6,413.8 293.1,413.8 293.8,415.0C294.4,416.2 294.4,421.2 293.8,422.5C293.1,423.8 290.6,423.8 290.0,422.5C289.4,421.2 289.4,416.2 290.0,415.0Z" fill="#5be61c"/>
</g>
<use href="#db"/><use href="#ol"/><use href="#ct"/>
<g class="c"><text x="431" y="167">Parvathipuram</text><text x="449.5" y="188">Srikakulam</text><text x="425.5" y="195.5">Vizianagaram</text><text x="404.5" y="211">Paderu</text><text x="419.5" y="217">Visakhapatnam</text><text x="407.5" y="228">Anakapalli</text><text x="362.5" y="247">Rajahmundry</text><text x="338.5" y="264.5">Eluru</text><text x="379" y="263">Kakinada</text><text x="292" y="270.5">Vijayawada</text><text x="275.5" y="276">Amaravati</text><text x="337" y="275">Bhimavaram</text><text x="296.5" y="288">Guntur</text><text x="358" y="287">Amalapuram</text><text x="263.5" y="302">Narasaraopet</text><text x="314.5" y="304">Machilipatnam</text><text x="182.5" y="312">Kurnool</text><text x="196" y="330">Nandyal</text><text x="275" y="339">Ongole</text><text x="149.5" y="372">Anantapur</text><text x="272" y="381">Nellore</text><text x="220" y="390.5">Kadapa</text><text x="200.5" y="411">Rayachoti</text><text x="140.5" y="413">Hindupur</text><text x="250" y="422">Tirupati</text><text x="229" y="454">Chittoor</text></g>
<text x="205.6" y="211.5" class="d">Apr_01</text>
</g>
<rect x="523" y="818.5" width="395" height="332.0" fill="#fff"/>
<path d="M523,818.5V1150.5" stroke="#111" stroke-width="1.1" fill="none"/><path d="M918,818.5V1150.5" stroke="#111" stroke-width="1.1" fill="none"/>
<path d="M522.5,818.5H918.5" stroke="#aaa" stroke-width="1.2" fill="none"/><path d="M522.5,1150.5H918.5" stroke="#111" stroke-width="1.3" fill="none"/>
<g transform="translate(400,675.0)">
<g clip-path="url(#st)">
<rect x="120" y="140" width="400" height="340" fill="#ff8020"/>
<path d="M141.2,307.5C143.8,305.8 150.6,304.6 157.5,305.0C164.4,305.4 175.4,310.4 182.5,310.0C189.6,309.6 193.8,303.9 200.0,302.5C206.2,301.1 215.6,301.7 220.0,301.9C224.4,302.1 225.4,299.5 226.2,303.8C227.1,308.0 230.2,323.1 225.0,327.5C219.8,331.9 200.8,327.5 195.0,330.0C189.2,332.5 190.8,339.2 190.0,342.5C189.2,345.8 190.0,345.2 190.0,350.0C190.0,354.8 193.3,367.1 190.0,371.2C186.7,375.4 175.4,375.2 170.0,375.0C164.6,374.8 161.7,370.8 157.5,370.0C153.3,369.2 149.2,371.2 145.0,370.0C140.8,368.8 135.2,365.4 132.5,362.5C129.8,359.6 127.7,354.6 128.8,352.5C129.8,350.4 135.6,351.2 138.8,350.0C141.9,348.8 147.3,348.3 147.5,345.0C147.7,341.7 140.8,335.0 140.0,330.0C139.2,325.0 142.3,318.8 142.5,315.0C142.7,311.2 138.8,309.2 141.2,307.5Z" fill="#ffa46e"/>
<path d="M223.8,345.0C226.0,342.1 235.2,343.3 240.0,347.5C244.8,351.7 250.4,360.8 252.5,370.0C254.6,379.2 254.6,397.1 252.5,402.5C250.4,407.9 243.8,404.6 240.0,402.5C236.2,400.4 232.3,396.2 230.0,390.0C227.7,383.8 227.3,372.5 226.2,365.0C225.2,357.5 221.5,347.9 223.8,345.0Z" fill="#ffa46e"/>
<path d="M230.0,302.5C232.7,298.5 239.4,297.9 245.0,297.5C250.6,297.1 257.5,297.1 263.8,300.0C270.0,302.9 280.4,310.4 282.5,315.0C284.6,319.6 280.4,326.2 276.2,327.5C272.1,328.8 262.7,322.5 257.5,322.5C252.3,322.5 247.9,323.8 245.0,327.5C242.1,331.2 242.1,343.3 240.0,345.0C237.9,346.7 234.4,341.5 232.5,337.5C230.6,333.5 229.2,327.1 228.8,321.2C228.3,315.4 227.3,306.5 230.0,302.5Z" fill="#ffa46e"/>
<path d="M245.0,350.0C248.3,345.4 265.4,347.5 270.0,350.0C274.6,352.5 272.5,358.3 272.5,365.0C272.5,371.7 272.5,385.2 270.0,390.0C267.5,394.8 260.8,395.8 257.5,393.8C254.2,391.7 252.1,384.8 250.0,377.5C247.9,370.2 241.7,354.6 245.0,350.0Z" fill="#ffa46e"/>
<path d="M161.2,377.5C165.4,376.7 176.9,382.5 182.5,385.0C188.1,387.5 190.8,390.2 195.0,392.5C199.2,394.8 208.3,397.5 207.5,398.8C206.7,400.0 195.0,400.2 190.0,400.0C185.0,399.8 181.7,397.5 177.5,397.5C173.3,397.5 168.3,401.2 165.0,400.0C161.7,398.8 158.1,393.8 157.5,390.0C156.9,386.2 157.1,378.3 161.2,377.5Z" fill="#ffa46e"/>
<path d="M211.2,396.2C214.8,394.0 228.1,391.9 232.5,393.8C236.9,395.6 241.0,405.2 237.5,407.5C234.0,409.8 215.6,409.4 211.2,407.5C206.9,405.6 207.7,398.5 211.2,396.2Z" fill="#ffa46e"/>
<path d="M143.8,307.5C150.4,306.0 173.1,310.6 182.5,310.0C191.9,309.4 193.8,304.8 200.0,303.8C206.2,302.7 216.7,299.2 220.0,303.8C223.3,308.3 223.3,326.9 220.0,331.2C216.7,335.6 205.0,330.2 200.0,330.0C195.0,329.8 192.9,330.4 190.0,330.0C187.1,329.6 185.8,328.1 182.5,327.5C179.2,326.9 174.2,326.2 170.0,326.2C165.8,326.2 161.7,326.9 157.5,327.5C153.3,328.1 147.5,331.5 145.0,330.0C142.5,328.5 142.7,322.5 142.5,318.8C142.3,315.0 137.1,309.0 143.8,307.5Z" fill="#fa5078"/>
<path d="M143.8,307.5C148.8,306.7 173.1,310.6 182.5,310.0C191.9,309.4 194.6,304.8 200.0,303.8C205.4,302.7 213.8,299.8 215.0,303.8C216.2,307.7 210.0,324.4 207.5,327.5C205.0,330.6 203.8,323.8 200.0,322.5C196.2,321.2 190.0,320.6 185.0,320.0C180.0,319.4 175.4,319.6 170.0,318.8C164.6,317.9 156.9,316.9 152.5,315.0C148.1,313.1 138.8,308.3 143.8,307.5Z" fill="#f5205a"/>
<path d="M155.0,331.2C156.9,329.4 164.4,329.4 166.2,331.2C168.1,333.1 168.1,340.6 166.2,342.5C164.4,344.4 156.9,344.4 155.0,342.5C153.1,340.6 153.1,333.1 155.0,331.2Z" fill="#fa5078"/>
<path d="M193.8,330.0C198.5,326.9 215.6,327.1 220.0,331.2C224.4,335.4 218.5,348.5 220.0,355.0C221.5,361.5 227.3,365.0 228.8,370.0C230.2,375.0 231.5,381.7 228.8,385.0C226.0,388.3 216.0,388.3 212.5,390.0C209.0,391.7 209.6,395.8 207.5,395.0C205.4,394.2 202.7,387.9 200.0,385.0C197.3,382.1 195.0,377.5 191.2,377.5C187.5,377.5 180.2,385.4 177.5,385.0C174.8,384.6 177.7,378.3 175.0,375.0C172.3,371.7 162.9,369.8 161.2,365.0C159.6,360.2 161.5,349.4 165.0,346.2C168.5,343.1 178.1,345.6 182.5,346.2C186.9,346.9 189.4,352.7 191.2,350.0C193.1,347.3 189.0,333.1 193.8,330.0Z" fill="#fa5078"/>
<path d="M193.8,331.2C198.1,329.2 214.6,328.3 218.8,332.5C222.9,336.7 222.3,352.3 218.8,356.2C215.2,360.2 201.9,358.1 197.5,356.2C193.1,354.4 193.1,349.2 192.5,345.0C191.9,340.8 189.4,333.3 193.8,331.2Z" fill="#f5205a"/>
<path d="M192.5,357.5C194.6,355.0 206.7,353.8 212.5,355.0C218.3,356.2 224.8,360.4 227.5,365.0C230.2,369.6 230.0,378.5 228.8,382.5C227.5,386.5 223.5,387.5 220.0,388.8C216.5,390.0 211.7,391.0 207.5,390.0C203.3,389.0 196.2,385.8 195.0,382.5C193.8,379.2 200.4,374.2 200.0,370.0C199.6,365.8 190.4,360.0 192.5,357.5Z" fill="#f5205a"/>
<path d="M193.8,360.0C195.8,358.3 204.2,358.3 206.2,360.0C208.3,361.7 208.3,368.3 206.2,370.0C204.2,371.7 195.8,371.7 193.8,370.0C191.7,368.3 191.7,361.7 193.8,360.0Z" fill="#fa5078"/>
<path d="M200.0,336.2C201.2,334.6 206.2,334.6 207.5,336.2C208.8,337.9 208.8,344.6 207.5,346.2C206.2,347.9 201.2,347.9 200.0,346.2C198.8,344.6 198.8,337.9 200.0,336.2Z" fill="#c80000"/>
<path d="M228.8,352.5C230.0,350.4 235.2,350.4 237.5,352.5C239.8,354.6 241.7,360.8 242.5,365.0C243.3,369.2 243.8,375.8 242.5,377.5C241.2,379.2 237.1,377.1 235.0,375.0C232.9,372.9 231.0,368.8 230.0,365.0C229.0,361.2 227.5,354.6 228.8,352.5Z" fill="#fa5078"/>
<path d="M251.2,367.5C252.9,365.6 259.6,365.6 261.2,367.5C262.9,369.4 262.9,376.9 261.2,378.8C259.6,380.6 252.9,380.6 251.2,378.8C249.6,376.9 249.6,369.4 251.2,367.5Z" fill="#fa5078"/>
<path d="M238.8,390.0C240.6,388.3 248.1,388.3 250.0,390.0C251.9,391.7 251.9,398.3 250.0,400.0C248.1,401.7 240.6,401.7 238.8,400.0C236.9,398.3 236.9,391.7 238.8,390.0Z" fill="#fa5078"/>
<path d="M248.8,303.8C249.6,302.3 252.9,302.3 253.8,303.8C254.6,305.2 254.6,311.0 253.8,312.5C252.9,314.0 249.6,314.0 248.8,312.5C247.9,311.0 247.9,305.2 248.8,303.8Z" fill="#fa5078"/>
<path d="M293.8,255.0C294.8,254.0 299.0,254.0 300.0,255.0C301.0,256.0 301.0,260.2 300.0,261.2C299.0,262.3 294.8,262.3 293.8,261.2C292.7,260.2 292.7,256.0 293.8,255.0Z" fill="#fa5078"/>
<path d="M256.2,272.5C258.1,271.7 265.6,271.7 267.5,272.5C269.4,273.3 269.4,276.7 267.5,277.5C265.6,278.3 258.1,278.3 256.2,277.5C254.4,276.7 254.4,273.3 256.2,272.5Z" fill="#fa5078"/>
<path d="M248.8,302.5C249.6,300.8 252.9,300.8 253.8,302.5C254.6,304.2 254.6,310.8 253.8,312.5C252.9,314.2 249.6,314.2 248.8,312.5C247.9,310.8 247.9,304.2 248.8,302.5Z" fill="#fa5078"/>
<path d="M233.8,298.8C235.0,297.7 240.0,297.7 241.2,298.8C242.5,299.8 242.5,304.0 241.2,305.0C240.0,306.0 235.0,306.0 233.8,305.0C232.5,304.0 232.5,299.8 233.8,298.8Z" fill="#ebd70a"/>
<path d="M197.5,412.5C204.2,411.0 230.8,411.0 237.5,412.5C244.2,414.0 244.2,419.8 237.5,421.2C230.8,422.7 204.2,422.7 197.5,421.2C190.8,419.8 190.8,414.0 197.5,412.5Z" fill="#f2680c"/>
<path d="M202.5,420.0C204.2,418.5 210.0,417.9 215.0,418.8C220.0,419.6 229.2,421.5 232.5,425.0C235.8,428.5 239.4,437.5 235.0,440.0C230.6,442.5 211.2,442.1 206.2,440.0C201.2,437.9 205.6,430.8 205.0,427.5C204.4,424.2 200.8,421.5 202.5,420.0Z" fill="#ebd70a"/>
<path d="M206.2,435.0C208.8,434.6 220.2,438.3 225.0,440.0C229.8,441.7 234.2,442.9 235.0,445.0C235.8,447.1 232.5,451.2 230.0,452.5C227.5,453.8 222.1,450.4 220.0,452.5C217.9,454.6 219.2,461.5 217.5,465.0C215.8,468.5 213.3,472.9 210.0,473.8C206.7,474.6 199.0,472.1 197.5,470.0C196.0,467.9 198.8,464.6 201.2,461.2C203.8,457.9 211.0,453.1 212.5,450.0C214.0,446.9 211.0,445.0 210.0,442.5C209.0,440.0 203.8,435.4 206.2,435.0Z" fill="#fff033"/>
<path d="M206.2,427.5C207.7,425.4 213.5,425.4 215.0,427.5C216.5,429.6 216.5,437.9 215.0,440.0C213.5,442.1 207.7,442.1 206.2,440.0C204.8,437.9 204.8,429.6 206.2,427.5Z" fill="#5be61c"/>
<path d="M220.0,433.8C221.2,432.7 226.2,432.7 227.5,433.8C228.8,434.8 228.8,439.0 227.5,440.0C226.2,441.0 221.2,441.0 220.0,440.0C218.8,439.0 218.8,434.8 220.0,433.8Z" fill="#5be61c"/>
<path d="M235.0,430.0C238.8,425.8 255.8,424.2 260.0,427.5C264.2,430.8 263.8,445.8 260.0,450.0C256.2,454.2 241.7,455.8 237.5,452.5C233.3,449.2 231.2,434.2 235.0,430.0Z" fill="#ff8020"/>
<path d="M237.5,412.5C240.0,410.8 250.0,410.8 252.5,412.5C255.0,414.2 255.0,420.8 252.5,422.5C250.0,424.2 240.0,424.2 237.5,422.5C235.0,420.8 235.0,414.2 237.5,412.5Z" fill="#ebd70a"/>
<path d="M245.0,415.0C246.0,414.4 250.2,414.4 251.2,415.0C252.3,415.6 252.3,418.1 251.2,418.8C250.2,419.4 246.0,419.4 245.0,418.8C244.0,418.1 244.0,415.6 245.0,415.0Z" fill="#5be61c"/>
<path d="M265.0,422.5C267.1,420.8 275.4,420.8 277.5,422.5C279.6,424.2 279.6,430.8 277.5,432.5C275.4,434.2 267.1,434.2 265.0,432.5C262.9,430.8 262.9,424.2 265.0,422.5Z" fill="#ebd70a"/>
<path d="M248.8,276.2C250.8,273.4 258.5,274.0 261.2,273.1C264.0,272.3 264.4,268.4 265.0,271.2C265.6,274.1 267.7,286.9 265.0,290.0C262.3,293.1 251.5,292.3 248.8,290.0C246.0,287.7 246.7,279.1 248.8,276.2Z" fill="#ffa46e"/>
<path d="M287.5,256.2C288.6,254.5 291.7,253.3 295.0,253.1C298.3,252.9 305.4,252.0 307.5,255.0C309.6,258.0 309.6,268.5 307.5,271.2C305.4,274.0 298.2,272.5 295.0,271.2C291.8,270.0 289.4,266.2 288.1,263.8C286.9,261.2 286.4,258.0 287.5,256.2Z" fill="#ffa46e"/>
<path d="M297.5,280.0C299.6,278.5 307.9,278.5 310.0,280.0C312.1,281.5 312.1,287.3 310.0,288.8C307.9,290.2 299.6,290.2 297.5,288.8C295.4,287.3 295.4,281.5 297.5,280.0Z" fill="#ffa46e"/>
<path d="M227.5,300.0C233.1,291.5 252.5,297.5 261.2,297.5C270.0,297.5 276.9,296.7 280.0,300.0C283.1,303.3 283.1,313.3 280.0,317.5C276.9,321.7 264.4,319.8 261.2,325.0C258.1,330.2 266.9,344.8 261.2,348.8C255.6,352.7 233.1,356.9 227.5,348.8C221.9,340.6 221.9,308.5 227.5,300.0Z" fill="#ffa46e"/>
<path d="M232.5,310.0C233.8,304.6 241.7,302.5 245.0,305.0C248.3,307.5 253.8,319.6 252.5,325.0C251.2,330.4 240.8,340.0 237.5,337.5C234.2,335.0 231.2,315.4 232.5,310.0Z" fill="#ff8020"/>
<path d="M370.0,255.0C374.2,252.3 390.8,252.3 395.0,255.0C399.2,257.7 399.2,268.5 395.0,271.2C390.8,274.0 374.2,274.0 370.0,271.2C365.8,268.5 365.8,257.7 370.0,255.0Z" fill="#ffa46e"/>
<path d="M270.0,282.5C272.1,281.2 280.4,281.2 282.5,282.5C284.6,283.8 284.6,288.8 282.5,290.0C280.4,291.2 272.1,291.2 270.0,290.0C267.9,288.8 267.9,283.8 270.0,282.5Z" fill="#f2680c"/>
<path d="M327.5,242.5C330.4,237.7 342.1,237.7 345.0,242.5C347.9,247.3 347.9,266.5 345.0,271.2C342.1,276.0 330.4,276.0 327.5,271.2C324.6,266.5 324.6,247.3 327.5,242.5Z" fill="#f2680c"/>
<path d="M357.5,245.0C361.7,243.3 378.3,243.3 382.5,245.0C386.7,246.7 386.7,253.3 382.5,255.0C378.3,256.7 361.7,256.7 357.5,255.0C353.3,253.3 353.3,246.7 357.5,245.0Z" fill="#f2680c"/>
<path d="M235.0,300.0C236.2,299.2 241.2,299.2 242.5,300.0C243.8,300.8 243.8,304.2 242.5,305.0C241.2,305.8 236.2,305.8 235.0,305.0C233.8,304.2 233.8,300.8 235.0,300.0Z" fill="#ebd70a"/>
<path d="M350.0,231.2C352.3,229.8 361.5,229.8 363.8,231.2C366.0,232.7 366.0,238.5 363.8,240.0C361.5,241.5 352.3,241.5 350.0,240.0C347.7,238.5 347.7,232.7 350.0,231.2Z" fill="#ebd70a"/>
<path d="M363.8,230.0C371.0,228.8 400.2,228.8 407.5,230.0C414.8,231.2 414.8,236.2 407.5,237.5C400.2,238.8 371.0,238.8 363.8,237.5C356.5,236.2 356.5,231.2 363.8,230.0Z" fill="#ebd70a"/>
<path d="M352.5,273.8C359.6,272.3 387.9,271.2 395.0,272.5C402.1,273.8 402.1,279.8 395.0,281.2C387.9,282.7 359.6,282.5 352.5,281.2C345.4,280.0 345.4,275.2 352.5,273.8Z" fill="#ebd70a"/>
<path d="M356.2,275.6C362.3,274.6 387.3,273.6 392.5,274.4C397.7,275.1 393.5,279.0 387.5,280.0C381.5,281.0 361.5,281.4 356.2,280.6C351.0,279.9 350.2,276.7 356.2,275.6Z" fill="#fff033"/>
<path d="M328.8,213.8C333.5,211.0 352.7,211.0 357.5,213.8C362.3,216.5 362.3,227.3 357.5,230.0C352.7,232.7 333.5,232.7 328.8,230.0C324.0,227.3 324.0,216.5 328.8,213.8Z" fill="#ffa46e"/>
<path d="M327.5,215.0C328.5,214.0 332.7,214.0 333.8,215.0C334.8,216.0 334.8,220.2 333.8,221.2C332.7,222.3 328.5,222.3 327.5,221.2C326.5,220.2 326.5,216.0 327.5,215.0Z" fill="#fa5078"/>
<path d="M327.5,242.5C338.8,237.9 383.3,235.8 395.0,237.5C406.7,239.2 408.8,247.9 397.5,252.5C386.2,257.1 339.2,266.7 327.5,265.0C315.8,263.3 316.2,247.1 327.5,242.5Z" fill="#f2680c"/>
<path d="M347.5,245.0C345.2,242.5 348.8,235.0 351.2,230.0C353.8,225.0 357.7,219.4 362.5,215.0C367.3,210.6 374.2,206.0 380.0,203.8C385.8,201.5 394.2,205.0 397.5,201.2C400.8,197.5 398.5,185.4 400.0,181.2C401.5,177.1 403.8,174.8 406.2,176.2C408.8,177.7 412.1,189.1 415.0,190.0C417.9,190.9 420.4,182.5 423.8,181.9C427.1,181.2 432.3,184.1 435.0,186.2C437.7,188.4 440.4,191.9 440.0,195.0C439.6,198.1 435.4,201.7 432.5,205.0C429.6,208.3 425.8,211.2 422.5,215.0C419.2,218.8 414.6,223.3 412.5,227.5C410.4,231.7 412.9,238.3 410.0,240.0C407.1,241.7 400.0,239.2 395.0,237.5C390.0,235.8 385.0,228.8 380.0,230.0C375.0,231.2 370.4,242.5 365.0,245.0C359.6,247.5 349.8,247.5 347.5,245.0Z" fill="#ebd70a"/>
<path d="M350.0,242.5C348.3,240.8 352.7,234.4 355.0,230.0C357.3,225.6 359.6,220.4 363.8,216.2C367.9,212.1 374.4,207.3 380.0,205.0C385.6,202.7 394.0,206.2 397.5,202.5C401.0,198.8 399.8,186.7 401.2,182.5C402.7,178.3 404.2,176.2 406.2,177.5C408.3,178.8 410.8,189.1 413.8,190.0C416.7,190.9 420.4,183.6 423.8,183.1C427.1,182.6 431.5,184.9 433.8,186.9C436.0,188.9 437.9,192.2 437.5,195.0C437.1,197.8 434.2,200.4 431.2,203.8C428.3,207.1 423.5,211.0 420.0,215.0C416.5,219.0 412.5,224.2 410.0,227.5C407.5,230.8 407.5,233.8 405.0,235.0C402.5,236.2 399.2,236.2 395.0,235.0C390.8,233.8 385.0,226.7 380.0,227.5C375.0,228.3 370.0,237.5 365.0,240.0C360.0,242.5 351.7,244.2 350.0,242.5Z" fill="#fff033"/>
<path d="M362.5,225.0C361.5,222.9 364.6,218.1 367.5,215.0C370.4,211.9 375.0,208.1 380.0,206.2C385.0,204.4 394.0,207.5 397.5,203.8C401.0,200.0 399.8,187.9 401.2,183.8C402.7,179.6 404.3,177.5 406.2,178.8C408.2,180.0 410.2,190.3 413.1,191.2C416.0,192.2 420.5,184.9 423.8,184.4C427.0,183.9 431.0,186.1 432.5,188.1C434.0,190.1 434.6,193.0 432.5,196.2C430.4,199.5 424.2,204.4 420.0,207.5C415.8,210.6 412.1,213.3 407.5,215.0C402.9,216.7 397.1,215.8 392.5,217.5C387.9,219.2 383.1,223.3 380.0,225.0C376.9,226.7 376.7,227.5 373.8,227.5C370.8,227.5 363.5,227.1 362.5,225.0Z" fill="#5be61c"/>
<path d="M365.0,222.5C363.8,221.5 368.3,216.5 372.5,213.8C376.7,211.0 385.4,208.1 390.0,206.2C394.6,204.4 397.9,206.0 400.0,202.5C402.1,199.0 401.5,188.8 402.5,185.0C403.5,181.2 404.6,178.8 406.2,180.0C407.9,181.2 409.6,191.6 412.5,192.5C415.4,193.4 420.6,186.1 423.8,185.6C426.9,185.1 430.2,187.6 431.2,189.4C432.3,191.1 431.9,193.6 430.0,196.2C428.1,198.9 423.8,202.3 420.0,205.0C416.2,207.7 411.7,210.8 407.5,212.5C403.3,214.2 399.6,213.8 395.0,215.0C390.4,216.2 385.0,218.8 380.0,220.0C375.0,221.2 366.2,223.5 365.0,222.5Z" fill="#1fce0f"/>
<path d="M407.5,195.0C409.6,192.1 416.2,188.3 420.0,187.5C423.8,186.7 428.3,188.3 430.0,190.0C431.7,191.7 431.7,195.0 430.0,197.5C428.3,200.0 422.9,203.1 420.0,205.0C417.1,206.9 414.6,208.8 412.5,208.8C410.4,208.8 408.3,207.3 407.5,205.0C406.7,202.7 405.4,197.9 407.5,195.0Z" fill="#1a8f22"/>
<path d="M382.5,210.0C385.0,207.9 397.1,206.2 400.0,207.5C402.9,208.8 402.5,215.4 400.0,217.5C397.5,219.6 387.9,221.2 385.0,220.0C382.1,218.8 380.0,212.1 382.5,210.0Z" fill="#1a8f22"/>
<path d="M367.5,235.0C370.0,233.3 381.7,231.7 385.0,232.5C388.3,233.3 390.0,238.3 387.5,240.0C385.0,241.7 373.3,243.3 370.0,242.5C366.7,241.7 365.0,236.7 367.5,235.0Z" fill="#f2680c"/>
<path d="M440.0,177.5C445.0,174.6 465.0,174.6 470.0,177.5C475.0,180.4 475.0,192.1 470.0,195.0C465.0,197.9 445.0,197.9 440.0,195.0C435.0,192.1 435.0,180.4 440.0,177.5Z" fill="#ffa46e"/>
<path d="M465.0,166.2C466.0,165.6 470.2,165.6 471.2,166.2C472.3,166.9 472.3,169.4 471.2,170.0C470.2,170.6 466.0,170.6 465.0,170.0C464.0,169.4 464.0,166.9 465.0,166.2Z" fill="#ebd70a"/>
<path d="M436.2,168.8C436.5,170.2 437.7,174.4 437.5,177.5C437.3,180.6 435.4,185.8 435.0,187.5" fill="none" stroke="#fff033" stroke-width="4" stroke-linecap="round" stroke-linejoin="round"/>
<path d="M434.4,168.8C434.6,170.2 435.8,174.4 435.6,177.5C435.4,180.6 433.5,185.8 433.1,187.5" fill="none" stroke="#5be61c" stroke-width="2.5" stroke-linecap="round" stroke-linejoin="round"/>
<path d="M297.5,430.0C297.6,429.2 298.1,427.1 298.1,425.0C298.1,422.9 298.0,420.0 297.5,417.5C297.0,415.0 295.8,412.5 295.0,410.0C294.2,407.5 293.1,405.2 292.5,402.5C291.9,399.8 291.2,396.5 291.2,393.8C291.2,391.0 291.9,389.0 292.5,386.2C293.1,383.5 295.0,380.2 295.0,377.5C295.0,374.8 293.3,372.7 292.5,370.0C291.7,367.3 290.7,364.2 290.0,361.2C289.3,358.3 288.4,355.2 288.1,352.5C287.8,349.8 287.8,347.5 288.1,345.0C288.4,342.5 289.3,339.8 290.0,337.5C290.7,335.2 291.5,333.5 292.5,331.2C293.5,329.0 295.0,326.0 296.2,323.8C297.5,321.5 299.4,318.5 300.0,317.5" fill="none" stroke="#ebd70a" stroke-width="11" stroke-linecap="round" stroke-linejoin="round"/>
<path d="M297.5,430.0C297.6,429.2 298.1,427.1 298.1,425.0C298.1,422.9 298.0,420.0 297.5,417.5C297.0,415.0 295.8,412.5 295.0,410.0C294.2,407.5 293.1,405.2 292.5,402.5C291.9,399.8 291.2,396.5 291.2,393.8C291.2,391.0 291.9,389.0 292.5,386.2C293.1,383.5 295.0,380.2 295.0,377.5C295.0,374.8 293.3,372.7 292.5,370.0C291.7,367.3 290.7,364.2 290.0,361.2C289.3,358.3 288.4,355.2 288.1,352.5C287.8,349.8 287.8,347.5 288.1,345.0C288.4,342.5 289.3,339.8 290.0,337.5C290.7,335.2 291.5,333.5 292.5,331.2C293.5,329.0 295.0,326.0 296.2,323.8C297.5,321.5 299.4,318.5 300.0,317.5" fill="none" stroke="#fff033" stroke-width="9" stroke-linecap="round" stroke-linejoin="round"/>
<path d="M297.5,430.0C297.6,429.2 298.1,427.1 298.1,425.0C298.1,422.9 298.0,420.0 297.5,417.5C297.0,415.0 295.8,412.5 295.0,410.0C294.2,407.5 293.1,405.2 292.5,402.5C291.9,399.8 291.2,396.5 291.2,393.8C291.2,391.0 291.9,389.0 292.5,386.2C293.1,383.5 295.0,380.2 295.0,377.5C295.0,374.8 293.3,372.7 292.5,370.0C291.7,367.3 290.7,364.2 290.0,361.2C289.3,358.3 288.4,355.2 288.1,352.5C287.8,349.8 287.8,347.5 288.1,345.0C288.4,342.5 289.3,339.8 290.0,337.5C290.7,335.2 291.5,333.5 292.5,331.2C293.5,329.0 295.0,326.0 296.2,323.8C297.5,321.5 299.4,318.5 300.0,317.5" fill="none" stroke="#5be61c" stroke-width="6" stroke-linecap="round" stroke-linejoin="round"/>
<path d="M297.5,430.0C297.6,429.2 298.1,427.1 298.1,425.0C298.1,422.9 298.0,420.0 297.5,417.5C297.0,415.0 295.8,412.5 295.0,410.0C294.2,407.5 293.1,405.2 292.5,402.5C291.9,399.8 291.2,396.5 291.2,393.8C291.2,391.0 291.9,389.0 292.5,386.2C293.1,383.5 295.0,380.2 295.0,377.5C295.0,374.8 293.3,372.7 292.5,370.0C291.7,367.3 290.7,364.2 290.0,361.2C289.3,358.3 288.4,355.2 288.1,352.5C287.8,349.8 287.8,347.5 288.1,345.0C288.4,342.5 289.3,339.8 290.0,337.5C290.7,335.2 291.5,333.5 292.5,331.2C293.5,329.0 295.0,326.0 296.2,323.8C297.5,321.5 299.4,318.5 300.0,317.5" fill="none" stroke="#1fce0f" stroke-width="3" stroke-linecap="round" stroke-linejoin="round"/>
<path d="M300.0,317.5C300.8,316.9 303.1,314.8 305.0,313.8C306.9,312.7 309.0,311.9 311.2,311.2C313.5,310.6 316.7,309.8 318.8,310.0C320.8,310.2 322.6,311.2 323.8,312.5C324.9,313.8 324.6,316.7 325.6,317.5C326.6,318.3 328.4,318.1 330.0,317.5C331.6,316.9 333.5,315.4 335.0,313.8C336.5,312.1 337.7,309.6 338.8,307.5C339.8,305.4 340.2,303.5 341.2,301.2C342.3,299.0 343.3,296.0 345.0,293.8C346.7,291.5 350.2,288.5 351.2,287.5" fill="none" stroke="#ebd70a" stroke-width="16" stroke-linecap="round" stroke-linejoin="round"/>
<path d="M300.0,317.5C300.8,316.9 303.1,314.8 305.0,313.8C306.9,312.7 309.0,311.9 311.2,311.2C313.5,310.6 316.7,309.8 318.8,310.0C320.8,310.2 322.6,311.2 323.8,312.5C324.9,313.8 324.6,316.7 325.6,317.5C326.6,318.3 328.4,318.1 330.0,317.5C331.6,316.9 333.5,315.4 335.0,313.8C336.5,312.1 337.7,309.6 338.8,307.5C339.8,305.4 340.2,303.5 341.2,301.2C342.3,299.0 343.3,296.0 345.0,293.8C346.7,291.5 350.2,288.5 351.2,287.5" fill="none" stroke="#fff033" stroke-width="13" stroke-linecap="round" stroke-linejoin="round"/>
<path d="M300.0,317.5C300.8,316.9 303.1,314.8 305.0,313.8C306.9,312.7 309.0,311.9 311.2,311.2C313.5,310.6 316.7,309.8 318.8,310.0C320.8,310.2 322.6,311.2 323.8,312.5C324.9,313.8 324.6,316.7 325.6,317.5C326.6,318.3 328.4,318.1 330.0,317.5C331.6,316.9 333.5,315.4 335.0,313.8C336.5,312.1 337.7,309.6 338.8,307.5C339.8,305.4 340.2,303.5 341.2,301.2C342.3,299.0 343.3,296.0 345.0,293.8C346.7,291.5 350.2,288.5 351.2,287.5" fill="none" stroke="#5be61c" stroke-width="8" stroke-linecap="round" stroke-linejoin="round"/>
<path d="M300.0,317.5C300.8,316.9 303.1,314.8 305.0,313.8C306.9,312.7 309.0,311.9 311.2,311.2C313.5,310.6 316.7,309.8 318.8,310.0C320.8,310.2 322.6,311.2 323.8,312.5C324.9,313.8 324.6,316.7 325.6,317.5C326.6,318.3 328.4,318.1 330.0,317.5C331.6,316.9 333.5,315.4 335.0,313.8C336.5,312.1 337.7,309.6 338.8,307.5C339.8,305.4 340.2,303.5 341.2,301.2C342.3,299.0 343.3,296.0 345.0,293.8C346.7,291.5 350.2,288.5 351.2,287.5" fill="none" stroke="#1fce0f" stroke-width="4" stroke-linecap="round" stroke-linejoin="round"/>
<path d="M351.2,287.5C352.9,287.0 357.1,285.2 361.2,284.4C365.4,283.6 371.7,283.3 376.2,282.5C380.8,281.7 385.0,280.9 388.8,279.4C392.5,277.9 396.8,275.9 398.8,273.8C400.7,271.6 400.3,267.5 400.6,266.2" fill="none" stroke="#ebd70a" stroke-width="14" stroke-linecap="round" stroke-linejoin="round"/>
<path d="M351.2,287.5C352.9,287.0 357.1,285.2 361.2,284.4C365.4,283.6 371.7,283.3 376.2,282.5C380.8,281.7 385.0,280.9 388.8,279.4C392.5,277.9 396.8,275.9 398.8,273.8C400.7,271.6 400.3,267.5 400.6,266.2" fill="none" stroke="#fff033" stroke-width="11" stroke-linecap="round" stroke-linejoin="round"/>
<path d="M351.2,287.5C352.9,287.0 357.1,285.2 361.2,284.4C365.4,283.6 371.7,283.3 376.2,282.5C380.8,281.7 385.0,280.9 388.8,279.4C392.5,277.9 396.8,275.9 398.8,273.8C400.7,271.6 400.3,267.5 400.6,266.2" fill="none" stroke="#5be61c" stroke-width="6" stroke-linecap="round" stroke-linejoin="round"/>
<path d="M351.2,287.5C352.9,287.0 357.1,285.2 361.2,284.4C365.4,283.6 371.7,283.3 376.2,282.5C380.8,281.7 385.0,280.9 388.8,279.4C392.5,277.9 396.8,275.9 398.8,273.8C400.7,271.6 400.3,267.5 400.6,266.2" fill="none" stroke="#1fce0f" stroke-width="3" stroke-linecap="round" stroke-linejoin="round"/>
<path d="M400.6,266.2C400.1,264.5 397.6,258.4 397.5,256.0C397.4,253.6 398.5,253.4 400.0,252.0C401.5,250.6 404.2,249.1 406.2,247.5C408.3,245.9 410.2,244.2 412.5,242.5C414.8,240.8 417.1,239.2 420.0,237.5C422.9,235.8 426.7,234.4 430.0,232.5C433.3,230.6 437.5,228.1 440.0,226.2C442.5,224.4 442.9,223.3 445.0,221.2C447.1,219.2 449.8,216.5 452.5,213.8C455.2,211.0 458.5,207.5 461.2,205.0C464.0,202.5 465.8,200.8 468.8,198.8C471.7,196.7 475.4,194.6 478.8,192.5C482.1,190.4 485.6,188.8 488.8,186.2C491.9,183.8 494.8,180.4 497.5,177.5C500.2,174.6 502.5,171.9 505.0,168.8C507.5,165.6 510.4,162.1 512.5,158.8C514.6,155.4 516.9,150.9 517.5,148.8C518.1,146.6 516.5,146.1 516.2,145.6" fill="none" stroke="#ebd70a" stroke-width="11" stroke-linecap="round" stroke-linejoin="round"/>
<path d="M400.6,266.2C400.1,264.5 397.6,258.4 397.5,256.0C397.4,253.6 398.5,253.4 400.0,252.0C401.5,250.6 404.2,249.1 406.2,247.5C408.3,245.9 410.2,244.2 412.5,242.5C414.8,240.8 417.1,239.2 420.0,237.5C422.9,235.8 426.7,234.4 430.0,232.5C433.3,230.6 437.5,228.1 440.0,226.2C442.5,224.4 442.9,223.3 445.0,221.2C447.1,219.2 449.8,216.5 452.5,213.8C455.2,211.0 458.5,207.5 461.2,205.0C464.0,202.5 465.8,200.8 468.8,198.8C471.7,196.7 475.4,194.6 478.8,192.5C482.1,190.4 485.6,188.8 488.8,186.2C491.9,183.8 494.8,180.4 497.5,177.5C500.2,174.6 502.5,171.9 505.0,168.8C507.5,165.6 510.4,162.1 512.5,158.8C514.6,155.4 516.9,150.9 517.5,148.8C518.1,146.6 516.5,146.1 516.2,145.6" fill="none" stroke="#fff033" stroke-width="8" stroke-linecap="round" stroke-linejoin="round"/>
<path d="M400.6,266.2C400.1,264.5 397.6,258.4 397.5,256.0C397.4,253.6 398.5,253.4 400.0,252.0C401.5,250.6 404.2,249.1 406.2,247.5C408.3,245.9 410.2,244.2 412.5,242.5C414.8,240.8 417.1,239.2 420.0,237.5C422.9,235.8 426.7,234.4 430.0,232.5C433.3,230.6 437.5,228.1 440.0,226.2C442.5,224.4 442.9,223.3 445.0,221.2C447.1,219.2 449.8,216.5 452.5,213.8C455.2,211.0 458.5,207.5 461.2,205.0C464.0,202.5 465.8,200.8 468.8,198.8C471.7,196.7 475.4,194.6 478.8,192.5C482.1,190.4 485.6,188.8 488.8,186.2C491.9,183.8 494.8,180.4 497.5,177.5C500.2,174.6 502.5,171.9 505.0,168.8C507.5,165.6 510.4,162.1 512.5,158.8C514.6,155.4 516.9,150.9 517.5,148.8C518.1,146.6 516.5,146.1 516.2,145.6" fill="none" stroke="#5be61c" stroke-width="3" stroke-linecap="round" stroke-linejoin="round"/>
<path d="M288.8,415.0C290.2,412.9 296.0,412.9 297.5,415.0C299.0,417.1 299.0,425.4 297.5,427.5C296.0,429.6 290.2,429.6 288.8,427.5C287.3,425.4 287.3,417.1 288.8,415.0Z" fill="#1fce0f"/>
<path d="M288.8,415.0C289.5,413.8 292.4,413.8 293.1,415.0C293.9,416.2 293.9,421.2 293.1,422.5C292.4,423.8 289.5,423.8 288.8,422.5C288.0,421.2 288.0,416.2 288.8,415.0Z" fill="#5be61c"/>
</g>
<use href="#db"/><use href="#ol"/><use href="#ct"/>
<g class="c"><text x="431" y="167">Parvathipuram</text><text x="449.5" y="188">Srikakulam</text><text x="425.5" y="195.5">Vizianagaram</text><text x="404.5" y="211">Paderu</text><text x="419.5" y="217">Visakhapatnam</text><text x="407.5" y="228">Anakapalli</text><text x="362.5" y="247">Rajahmundry</text><text x="338.5" y="264.5">Eluru</text><text x="379" y="263">Kakinada</text><text x="292" y="270.5">Vijayawada</text><text x="275.5" y="276">Amaravati</text><text x="337" y="275">Bhimavaram</text><text x="296.5" y="288">Guntur</text><text x="358" y="287">Amalapuram</text><text x="263.5" y="302">Narasaraopet</text><text x="314.5" y="304">Machilipatnam</text><text x="182.5" y="312">Kurnool</text><text x="196" y="330">Nandyal</text><text x="275" y="339">Ongole</text><text x="149.5" y="372">Anantapur</text><text x="272" y="381">Nellore</text><text x="220" y="390.5">Kadapa</text><text x="200.5" y="411">Rayachoti</text><text x="140.5" y="413">Hindupur</text><text x="250" y="422">Tirupati</text><text x="229" y="454">Chittoor</text></g>
<text x="205.6" y="211.5" class="d">Apr_02</text>
</g>
<rect x="923" y="818.5" width="395" height="332.0" fill="#fff"/>
<path d="M923,818.5V1150.5" stroke="#111" stroke-width="1.1" fill="none"/><path d="M1318,818.5V1150.5" stroke="#111" stroke-width="1.1" fill="none"/>
<path d="M922.5,818.5H1318.5" stroke="#aaa" stroke-width="1.2" fill="none"/><path d="M922.5,1150.5H1318.5" stroke="#111" stroke-width="1.3" fill="none"/>
<g transform="translate(800,675.0)">
<g clip-path="url(#st)">
<rect x="120" y="140" width="400" height="340" fill="#ff8020"/>
<path d="M141.2,307.5C143.8,305.8 150.6,304.6 157.5,305.0C164.4,305.4 175.4,310.4 182.5,310.0C189.6,309.6 193.8,303.9 200.0,302.5C206.2,301.1 215.4,301.7 220.0,301.9C224.6,302.1 226.2,298.9 227.5,303.8C228.8,308.6 226.7,325.2 227.5,331.2C228.3,337.3 230.4,337.3 232.5,340.0C234.6,342.7 237.9,344.2 240.0,347.5C242.1,350.8 242.9,355.0 245.0,360.0C247.1,365.0 251.2,370.8 252.5,377.5C253.8,384.2 253.8,394.6 252.5,400.0C251.2,405.4 247.5,407.5 245.0,410.0C242.5,412.5 241.7,414.2 237.5,415.0C233.3,415.8 224.4,415.8 220.0,415.0C215.6,414.2 212.9,413.1 211.2,410.0C209.6,406.9 212.7,399.6 210.0,396.2C207.3,392.9 200.0,390.2 195.0,390.0C190.0,389.8 183.8,394.6 180.0,395.0C176.2,395.4 174.6,394.6 172.5,392.5C170.4,390.4 169.4,385.4 167.5,382.5C165.6,379.6 162.3,378.3 161.2,375.0C160.2,371.7 163.3,364.6 161.2,362.5C159.2,360.4 153.5,362.9 148.8,362.5C144.0,362.1 135.6,361.7 132.5,360.0C129.4,358.3 129.0,354.2 130.0,352.5C131.0,350.8 135.8,351.2 138.8,350.0C141.7,348.8 147.3,348.3 147.5,345.0C147.7,341.7 140.8,335.0 140.0,330.0C139.2,325.0 142.3,318.8 142.5,315.0C142.7,311.2 138.8,309.2 141.2,307.5Z" fill="#fa5078"/>
<path d="M142.5,306.2C149.6,303.3 172.9,310.4 182.5,310.0C192.1,309.6 197.1,301.5 200.0,303.8C202.9,306.0 201.7,320.2 200.0,323.8C198.3,327.3 195.0,325.8 190.0,325.0C185.0,324.2 175.4,320.4 170.0,318.8C164.6,317.1 160.6,314.2 157.5,315.0C154.4,315.8 152.3,319.2 151.2,323.8C150.2,328.3 152.9,339.4 151.2,342.5C149.6,345.6 143.1,345.0 141.2,342.5C139.4,340.0 139.8,333.5 140.0,327.5C140.2,321.5 135.4,309.2 142.5,306.2Z" fill="#f5205a"/>
<path d="M132.5,351.2C135.6,349.8 148.1,349.8 151.2,351.2C154.4,352.7 154.4,358.5 151.2,360.0C148.1,361.5 135.6,361.5 132.5,360.0C129.4,358.5 129.4,352.7 132.5,351.2Z" fill="#f5205a"/>
<path d="M167.5,350.0C171.2,347.1 188.3,347.1 192.5,350.0C196.7,352.9 196.2,364.6 192.5,367.5C188.8,370.4 174.2,370.4 170.0,367.5C165.8,364.6 163.8,352.9 167.5,350.0Z" fill="#f5205a"/>
<path d="M192.5,331.2C197.5,329.4 215.0,327.7 220.0,331.2C225.0,334.8 220.4,349.6 222.5,352.5C224.6,355.4 229.6,347.5 232.5,348.8C235.4,350.0 237.9,355.2 240.0,360.0C242.1,364.8 243.3,372.9 245.0,377.5C246.7,382.1 249.2,383.3 250.0,387.5C250.8,391.7 252.1,400.0 250.0,402.5C247.9,405.0 241.2,404.2 237.5,402.5C233.8,400.8 231.2,394.2 227.5,392.5C223.8,390.8 218.3,392.1 215.0,392.5C211.7,392.9 210.8,396.7 207.5,395.0C204.2,393.3 197.7,386.7 195.0,382.5C192.3,378.3 191.2,374.2 191.2,370.0C191.2,365.8 195.2,362.1 195.0,357.5C194.8,352.9 190.4,346.9 190.0,342.5C189.6,338.1 187.5,333.1 192.5,331.2Z" fill="#f5205a"/>
<path d="M230.0,367.5C231.2,365.0 237.9,363.3 240.0,365.0C242.1,366.7 243.8,375.0 242.5,377.5C241.2,380.0 234.6,381.7 232.5,380.0C230.4,378.3 228.8,370.0 230.0,367.5Z" fill="#fa5078"/>
<path d="M202.5,303.8C204.6,299.2 217.1,299.2 220.0,303.8C222.9,308.3 222.1,326.7 220.0,331.2C217.9,335.8 210.4,335.8 207.5,331.2C204.6,326.7 200.4,308.3 202.5,303.8Z" fill="#f5205a"/>
<path d="M172.5,332.5C175.4,330.8 187.1,330.8 190.0,332.5C192.9,334.2 192.9,340.8 190.0,342.5C187.1,344.2 175.4,344.2 172.5,342.5C169.6,340.8 169.6,334.2 172.5,332.5Z" fill="#ffa46e"/>
<path d="M147.5,352.5C149.6,350.4 157.9,350.4 160.0,352.5C162.1,354.6 162.1,362.9 160.0,365.0C157.9,367.1 149.6,367.1 147.5,365.0C145.4,362.9 145.4,354.6 147.5,352.5Z" fill="#ffa46e"/>
<path d="M128.8,360.0C131.7,358.5 143.3,362.1 148.8,362.5C154.2,362.9 159.2,360.0 161.2,362.5C163.3,365.0 165.0,375.0 161.2,377.5C157.5,380.0 143.8,378.5 138.8,377.5C133.8,376.5 132.9,374.2 131.2,371.2C129.6,368.3 125.8,361.5 128.8,360.0Z" fill="#ffa46e"/>
<path d="M227.5,297.5C230.2,291.5 242.1,292.1 245.0,295.0C247.9,297.9 246.2,310.0 245.0,315.0C243.8,320.0 240.2,322.3 237.5,325.0C234.8,327.7 230.4,335.8 228.8,331.2C227.1,326.7 224.8,303.5 227.5,297.5Z" fill="#ffa46e"/>
<path d="M232.5,297.5C234.2,293.3 239.2,294.2 240.0,297.5C240.8,300.8 239.2,313.3 237.5,317.5C235.8,321.7 230.8,325.8 230.0,322.5C229.2,319.2 230.8,301.7 232.5,297.5Z" fill="#ff8020"/>
<path d="M238.8,327.5C240.2,324.6 246.0,324.6 247.5,327.5C249.0,330.4 249.0,342.1 247.5,345.0C246.0,347.9 240.2,347.9 238.8,345.0C237.3,342.1 237.3,330.4 238.8,327.5Z" fill="#ffa46e"/>
<path d="M245.0,333.8C247.1,328.3 250.4,328.5 257.5,327.5C264.6,326.5 282.3,312.9 287.5,327.5C292.7,342.1 293.1,400.4 288.8,415.0C284.4,429.6 266.5,416.2 261.2,415.0C256.0,413.8 259.0,410.0 257.5,407.5C256.0,405.0 253.3,405.0 252.5,400.0C251.7,395.0 253.8,384.2 252.5,377.5C251.2,370.8 246.2,367.3 245.0,360.0C243.8,352.7 242.9,339.2 245.0,333.8Z" fill="#ffa46e"/>
<path d="M157.5,377.5C158.5,374.6 165.0,380.0 167.5,382.5C170.0,385.0 170.4,390.4 172.5,392.5C174.6,394.6 176.2,395.4 180.0,395.0C183.8,394.6 190.0,389.8 195.0,390.0C200.0,390.2 207.3,392.1 210.0,396.2C212.7,400.4 212.9,411.5 211.2,415.0C209.6,418.5 204.0,418.8 200.0,417.5C196.0,416.2 191.7,409.6 187.5,407.5C183.3,405.4 179.4,406.2 175.0,405.0C170.6,403.8 164.2,404.6 161.2,400.0C158.3,395.4 156.5,380.4 157.5,377.5Z" fill="#ffa46e"/>
<path d="M240.0,315.0C241.7,309.2 245.8,301.0 250.0,297.5C254.2,294.0 261.7,291.9 265.0,293.8C268.3,295.6 270.0,303.1 270.0,308.8C270.0,314.4 267.9,323.3 265.0,327.5C262.1,331.7 256.7,332.9 252.5,333.8C248.3,334.6 242.1,335.6 240.0,332.5C237.9,329.4 238.3,320.8 240.0,315.0Z" fill="#fa5078"/>
<path d="M250.0,300.0C251.2,295.8 258.3,295.8 260.0,300.0C261.7,304.2 261.2,320.8 260.0,325.0C258.8,329.2 254.2,329.2 252.5,325.0C250.8,320.8 248.8,304.2 250.0,300.0Z" fill="#f5205a"/>
<path d="M242.5,350.0C243.8,347.5 250.0,347.5 252.5,350.0C255.0,352.5 256.7,360.0 257.5,365.0C258.3,370.0 258.8,377.5 257.5,380.0C256.2,382.5 252.1,382.5 250.0,380.0C247.9,377.5 246.2,370.0 245.0,365.0C243.8,360.0 241.2,352.5 242.5,350.0Z" fill="#fa5078"/>
<path d="M211.2,392.5C216.2,389.6 239.4,388.8 245.0,392.5C250.6,396.2 247.1,411.0 245.0,415.0C242.9,419.0 237.5,417.1 232.5,416.2C227.5,415.4 218.5,414.0 215.0,410.0C211.5,406.0 206.2,395.4 211.2,392.5Z" fill="#fa5078"/>
<path d="M257.5,327.5C260.8,320.8 274.2,320.8 277.5,327.5C280.8,334.2 280.8,360.8 277.5,367.5C274.2,374.2 260.8,374.2 257.5,367.5C254.2,360.8 254.2,334.2 257.5,327.5Z" fill="#ff8020"/>
<path d="M273.8,302.5C276.0,295.2 285.2,295.2 287.5,302.5C289.8,309.8 289.8,339.0 287.5,346.2C285.2,353.5 276.0,353.5 273.8,346.2C271.5,339.0 271.5,309.8 273.8,302.5Z" fill="#ff8020"/>
<path d="M260.0,383.8C261.7,382.1 268.3,382.1 270.0,383.8C271.7,385.4 271.7,392.1 270.0,393.8C268.3,395.4 261.7,395.4 260.0,393.8C258.3,392.1 258.3,385.4 260.0,383.8Z" fill="#ff8020"/>
<path d="M138.8,377.5C141.9,375.4 154.4,375.4 157.5,377.5C160.6,379.6 160.6,387.9 157.5,390.0C154.4,392.1 141.9,392.1 138.8,390.0C135.6,387.9 135.6,379.6 138.8,377.5Z" fill="#ff8020"/>
<path d="M161.2,400.0C166.0,398.3 185.2,398.3 190.0,400.0C194.8,401.7 194.8,408.3 190.0,410.0C185.2,411.7 166.0,411.7 161.2,410.0C156.5,408.3 156.5,401.7 161.2,400.0Z" fill="#ff8020"/>
<path d="M195.0,415.0C210.4,410.8 272.1,410.8 287.5,415.0C302.9,419.2 302.9,435.8 287.5,440.0C272.1,444.2 210.4,444.2 195.0,440.0C179.6,435.8 179.6,419.2 195.0,415.0Z" fill="#ff8020"/>
<path d="M257.5,415.0C261.7,413.3 278.3,413.3 282.5,415.0C286.7,416.7 286.7,423.3 282.5,425.0C278.3,426.7 261.7,426.7 257.5,425.0C253.3,423.3 253.3,416.7 257.5,415.0Z" fill="#ffa46e"/>
<path d="M207.5,423.8C209.2,421.2 213.8,424.4 217.5,425.0C221.2,425.6 227.9,425.0 230.0,427.5C232.1,430.0 233.8,437.9 230.0,440.0C226.2,442.1 211.2,442.7 207.5,440.0C203.8,437.3 205.8,426.2 207.5,423.8Z" fill="#ebd70a"/>
<path d="M207.5,440.0C210.0,439.6 221.2,440.8 225.0,442.5C228.8,444.2 230.8,448.3 230.0,450.0C229.2,451.7 222.1,450.0 220.0,452.5C217.9,455.0 219.2,461.5 217.5,465.0C215.8,468.5 213.3,472.9 210.0,473.8C206.7,474.6 199.0,472.1 197.5,470.0C196.0,467.9 198.8,464.6 201.2,461.2C203.8,457.9 211.0,452.7 212.5,450.0C214.0,447.3 210.8,446.7 210.0,445.0C209.2,443.3 205.0,440.4 207.5,440.0Z" fill="#fff033"/>
<path d="M236.2,431.2C234.9,434.0 230.7,442.1 228.1,447.5C225.5,452.9 223.1,459.5 220.6,463.8C218.1,468.0 214.4,471.2 213.1,472.8" fill="none" stroke="#ff8020" stroke-width="5.5" stroke-linecap="round" stroke-linejoin="round"/>
<path d="M235.0,435.0C237.9,432.1 251.7,430.4 255.0,432.5C258.3,434.6 257.9,444.6 255.0,447.5C252.1,450.4 240.8,452.1 237.5,450.0C234.2,447.9 232.1,437.9 235.0,435.0Z" fill="#f2680c"/>
<path d="M242.5,413.8C243.8,412.7 248.8,412.7 250.0,413.8C251.2,414.8 251.2,419.0 250.0,420.0C248.8,421.0 243.8,421.0 242.5,420.0C241.2,419.0 241.2,414.8 242.5,413.8Z" fill="#ebd70a"/>
<path d="M267.5,426.2C268.8,425.4 273.8,425.4 275.0,426.2C276.2,427.1 276.2,430.4 275.0,431.2C273.8,432.1 268.8,432.1 267.5,431.2C266.2,430.4 266.2,427.1 267.5,426.2Z" fill="#ebd70a"/>
<path d="M196.2,336.2C198.1,334.0 205.6,334.0 207.5,336.2C209.4,338.5 209.4,347.7 207.5,350.0C205.6,352.3 198.1,352.3 196.2,350.0C194.4,347.7 194.4,338.5 196.2,336.2Z" fill="#c80000"/>
<path d="M207.5,341.2C209.0,339.4 214.8,339.4 216.2,341.2C217.7,343.1 217.7,350.6 216.2,352.5C214.8,354.4 209.0,354.4 207.5,352.5C206.0,350.6 206.0,343.1 207.5,341.2Z" fill="#c80000"/>
<path d="M210.0,360.0C211.2,358.3 217.1,357.9 220.0,360.0C222.9,362.1 226.2,368.8 227.5,372.5C228.8,376.2 229.2,381.2 227.5,382.5C225.8,383.8 220.4,379.6 217.5,380.0C214.6,380.4 212.5,385.0 210.0,385.0C207.5,385.0 202.1,382.5 202.5,380.0C202.9,377.5 211.2,373.3 212.5,370.0C213.8,366.7 208.8,361.7 210.0,360.0Z" fill="#c80000"/>
<path d="M237.5,385.0C239.2,382.9 247.9,382.7 250.0,385.0C252.1,387.3 251.7,396.7 250.0,398.8C248.3,400.8 242.1,399.8 240.0,397.5C237.9,395.2 235.8,387.1 237.5,385.0Z" fill="#c80000"/>
<path d="M248.8,277.5C250.6,275.4 255.6,273.8 261.2,272.5C266.9,271.2 279.0,269.2 282.5,270.0C286.0,270.8 286.0,275.0 282.5,277.5C279.0,280.0 266.7,283.8 261.2,285.0C255.8,286.2 252.1,286.2 250.0,285.0C247.9,283.8 246.9,279.6 248.8,277.5Z" fill="#fa5078"/>
<path d="M248.8,277.5C250.2,276.7 256.0,276.7 257.5,277.5C259.0,278.3 259.0,281.7 257.5,282.5C256.0,283.3 250.2,283.3 248.8,282.5C247.3,281.7 247.3,278.3 248.8,277.5Z" fill="#f5205a"/>
<path d="M257.5,285.0C261.7,282.1 274.2,278.8 282.5,277.5C290.8,276.2 303.3,274.6 307.5,277.5C311.7,280.4 315.8,292.1 307.5,295.0C299.2,297.9 265.8,296.7 257.5,295.0C249.2,293.3 253.3,287.9 257.5,285.0Z" fill="#ffa46e"/>
<path d="M286.2,255.0C287.1,252.1 291.9,252.5 295.0,252.5C298.1,252.5 303.3,252.1 305.0,255.0C306.7,257.9 307.5,267.5 305.0,270.0C302.5,272.5 293.1,272.5 290.0,270.0C286.9,267.5 285.4,257.9 286.2,255.0Z" fill="#fa5078"/>
<path d="M290.0,255.0C291.7,253.5 298.3,253.5 300.0,255.0C301.7,256.5 301.7,262.3 300.0,263.8C298.3,265.2 291.7,265.2 290.0,263.8C288.3,262.3 288.3,256.5 290.0,255.0Z" fill="#f5205a"/>
<path d="M307.5,250.0C310.2,247.1 321.0,247.1 323.8,250.0C326.5,252.9 326.5,264.6 323.8,267.5C321.0,270.4 310.2,270.4 307.5,267.5C304.8,264.6 304.8,252.9 307.5,250.0Z" fill="#ffa46e"/>
<path d="M292.5,272.5C296.2,269.8 311.2,269.8 315.0,272.5C318.8,275.2 318.8,286.0 315.0,288.8C311.2,291.5 296.2,291.5 292.5,288.8C288.8,286.0 288.8,275.2 292.5,272.5Z" fill="#ffa46e"/>
<path d="M227.5,297.5C236.2,287.9 271.2,294.2 280.0,297.5C288.8,300.8 283.8,312.9 280.0,317.5C276.2,322.1 261.2,318.8 257.5,325.0C253.8,331.2 262.5,350.0 257.5,355.0C252.5,360.0 232.5,364.6 227.5,355.0C222.5,345.4 218.8,307.1 227.5,297.5Z" fill="#ffa46e"/>
<path d="M255.0,295.0C259.2,292.3 267.9,291.2 270.0,295.0C272.1,298.8 270.0,311.7 267.5,317.5C265.0,323.3 257.7,324.8 255.0,330.0C252.3,335.2 255.0,345.6 251.2,348.8C247.5,351.9 235.6,351.9 232.5,348.8C229.4,345.6 230.4,336.2 232.5,330.0C234.6,323.8 241.2,317.1 245.0,311.2C248.8,305.4 250.8,297.7 255.0,295.0Z" fill="#fa5078"/>
<path d="M251.2,297.5C253.1,295.8 260.6,295.8 262.5,297.5C264.4,299.2 264.4,305.8 262.5,307.5C260.6,309.2 253.1,309.2 251.2,307.5C249.4,305.8 249.4,299.2 251.2,297.5Z" fill="#f5205a"/>
<path d="M240.0,332.5C241.0,330.4 245.2,330.4 246.2,332.5C247.3,334.6 247.3,342.9 246.2,345.0C245.2,347.1 241.0,347.1 240.0,345.0C239.0,342.9 239.0,334.6 240.0,332.5Z" fill="#ffa46e"/>
<path d="M232.5,300.0C234.6,296.7 243.3,295.4 245.0,297.5C246.7,299.6 244.6,309.2 242.5,312.5C240.4,315.8 234.2,319.6 232.5,317.5C230.8,315.4 230.4,303.3 232.5,300.0Z" fill="#ff8020"/>
<path d="M351.2,232.5C352.7,231.5 358.5,231.5 360.0,232.5C361.5,233.5 361.5,237.7 360.0,238.8C358.5,239.8 352.7,239.8 351.2,238.8C349.8,237.7 349.8,233.5 351.2,232.5Z" fill="#ebd70a"/>
<path d="M360.0,230.0C363.8,229.6 378.8,229.6 382.5,230.0C386.2,230.4 386.2,232.1 382.5,232.5C378.8,232.9 363.8,232.9 360.0,232.5C356.2,232.1 356.2,230.4 360.0,230.0Z" fill="#ebd70a"/>
<path d="M352.5,275.0C358.3,273.8 381.7,273.3 387.5,274.4C393.3,275.4 393.3,280.0 387.5,281.2C381.7,282.5 358.3,282.9 352.5,281.9C346.7,280.8 346.7,276.2 352.5,275.0Z" fill="#ebd70a"/>
<path d="M356.2,276.2C361.0,275.4 380.6,275.0 385.0,275.6C389.4,276.3 387.3,279.4 382.5,280.2C377.7,281.1 360.6,281.5 356.2,280.9C351.9,280.2 351.5,277.1 356.2,276.2Z" fill="#fff033"/>
<path d="M327.5,245.0C330.4,242.5 342.1,240.8 345.0,242.5C347.9,244.2 347.9,252.5 345.0,255.0C342.1,257.5 330.4,259.2 327.5,257.5C324.6,255.8 324.6,247.5 327.5,245.0Z" fill="#f2680c"/>
<path d="M357.5,255.0C361.7,252.3 378.3,252.3 382.5,255.0C386.7,257.7 386.7,268.5 382.5,271.2C378.3,274.0 361.7,274.0 357.5,271.2C353.3,268.5 353.3,257.7 357.5,255.0Z" fill="#ffa46e"/>
<path d="M328.8,212.5C334.2,209.6 355.8,209.6 361.2,212.5C366.7,215.4 366.7,227.1 361.2,230.0C355.8,232.9 334.2,232.9 328.8,230.0C323.3,227.1 323.3,215.4 328.8,212.5Z" fill="#ffa46e"/>
<path d="M327.5,215.0C328.5,213.8 332.7,213.8 333.8,215.0C334.8,216.2 334.8,221.2 333.8,222.5C332.7,223.8 328.5,223.8 327.5,222.5C326.5,221.2 326.5,216.2 327.5,215.0Z" fill="#fa5078"/>
<path d="M341.2,220.0C342.9,218.8 349.6,218.8 351.2,220.0C352.9,221.2 352.9,226.2 351.2,227.5C349.6,228.8 342.9,228.8 341.2,227.5C339.6,226.2 339.6,221.2 341.2,220.0Z" fill="#fa5078"/>
<path d="M375.0,220.0C380.4,217.5 402.1,217.5 407.5,220.0C412.9,222.5 412.9,232.5 407.5,235.0C402.1,237.5 380.4,237.5 375.0,235.0C369.6,232.5 369.6,222.5 375.0,220.0Z" fill="#f2680c"/>
<path d="M437.5,167.5C442.9,161.2 458.3,170.0 470.0,167.5C481.7,165.0 503.3,150.8 507.5,152.5C511.7,154.2 501.2,170.4 495.0,177.5C488.8,184.6 478.3,189.6 470.0,195.0C461.7,200.4 453.3,204.6 445.0,210.0C436.7,215.4 426.2,224.6 420.0,227.5C413.8,230.4 407.5,229.2 407.5,227.5C407.5,225.8 415.0,221.2 420.0,217.5C425.0,213.8 434.6,213.3 437.5,205.0C440.4,196.7 432.1,173.8 437.5,167.5Z" fill="#ffa46e"/>
<path d="M457.5,152.5C460.4,150.8 467.1,151.7 470.0,155.0C472.9,158.3 476.7,168.8 475.0,172.5C473.3,176.2 463.8,178.8 460.0,177.5C456.2,176.2 452.9,169.2 452.5,165.0C452.1,160.8 454.6,154.2 457.5,152.5Z" fill="#ff8020"/>
<path d="M440.0,170.0C441.2,167.9 449.2,167.9 451.2,170.0C453.3,172.1 452.3,178.3 452.5,182.5C452.7,186.7 452.9,190.8 452.5,195.0C452.1,199.2 452.5,205.4 450.0,207.5C447.5,209.6 440.4,208.3 437.5,207.5C434.6,206.7 432.1,204.6 432.5,202.5C432.9,200.4 438.1,198.3 440.0,195.0C441.9,191.7 443.8,186.7 443.8,182.5C443.8,178.3 438.8,172.1 440.0,170.0Z" fill="#fa5078"/>
<path d="M412.5,211.2C415.0,209.2 426.7,208.5 430.0,210.0C433.3,211.5 435.0,217.9 432.5,220.0C430.0,222.1 418.3,224.0 415.0,222.5C411.7,221.0 410.0,213.3 412.5,211.2Z" fill="#fa5078"/>
<path d="M502.5,150.0C503.8,148.8 508.8,148.8 510.0,150.0C511.2,151.2 511.2,156.2 510.0,157.5C508.8,158.8 503.8,158.8 502.5,157.5C501.2,156.2 501.2,151.2 502.5,150.0Z" fill="#fa5078"/>
<path d="M360.0,227.5C358.8,224.6 359.2,219.2 362.5,215.0C365.8,210.8 374.2,204.8 380.0,202.5C385.8,200.2 394.2,204.8 397.5,201.2C400.8,197.7 398.5,185.4 400.0,181.2C401.5,177.1 403.8,174.8 406.2,176.2C408.8,177.7 412.1,189.1 415.0,190.0C417.9,190.9 420.4,182.5 423.8,181.9C427.1,181.2 432.3,184.1 435.0,186.2C437.7,188.4 440.4,191.9 440.0,195.0C439.6,198.1 435.4,202.5 432.5,205.0C429.6,207.5 426.7,207.5 422.5,210.0C418.3,212.5 412.1,217.9 407.5,220.0C402.9,222.1 398.8,222.5 395.0,222.5C391.2,222.5 387.9,218.8 385.0,220.0C382.1,221.2 380.0,227.9 377.5,230.0C375.0,232.1 372.9,232.9 370.0,232.5C367.1,232.1 361.2,230.4 360.0,227.5Z" fill="#ebd70a"/>
<path d="M361.9,226.2C360.9,224.0 361.4,220.0 364.4,216.2C367.4,212.5 374.5,206.0 380.0,203.8C385.5,201.5 394.0,206.0 397.5,202.5C401.0,199.0 399.8,186.7 401.2,182.5C402.7,178.3 404.2,176.2 406.2,177.5C408.3,178.8 410.8,189.1 413.8,190.0C416.7,190.9 420.4,183.6 423.8,183.1C427.1,182.6 431.5,184.9 433.8,186.9C436.0,188.9 437.9,192.2 437.5,195.0C437.1,197.8 434.0,201.5 431.2,203.8C428.5,206.0 425.4,206.2 421.2,208.8C417.1,211.2 410.6,216.9 406.2,218.8C401.9,220.6 398.5,220.2 395.0,220.0C391.5,219.8 388.1,216.2 385.0,217.5C381.9,218.8 378.8,225.4 376.2,227.5C373.8,229.6 372.4,230.2 370.0,230.0C367.6,229.8 362.8,228.5 361.9,226.2Z" fill="#fff033"/>
<path d="M400.0,202.5C399.0,198.1 400.2,187.7 401.2,183.8C402.3,179.8 404.3,177.5 406.2,178.8C408.2,180.0 410.2,190.3 413.1,191.2C416.0,192.2 420.5,184.9 423.8,184.4C427.0,183.9 431.0,186.1 432.5,188.1C434.0,190.1 434.6,193.0 432.5,196.2C430.4,199.5 424.2,205.2 420.0,207.5C415.8,209.8 410.8,210.8 407.5,210.0C404.2,209.2 401.0,206.9 400.0,202.5Z" fill="#5be61c"/>
<path d="M371.2,211.2C372.5,210.0 377.5,210.0 378.8,211.2C380.0,212.5 380.0,217.5 378.8,218.8C377.5,220.0 372.5,220.0 371.2,218.8C370.0,217.5 370.0,212.5 371.2,211.2Z" fill="#5be61c"/>
<path d="M390.0,205.0C391.2,203.5 396.2,203.5 397.5,205.0C398.8,206.5 398.8,212.3 397.5,213.8C396.2,215.2 391.2,215.2 390.0,213.8C388.8,212.3 388.8,206.5 390.0,205.0Z" fill="#5be61c"/>
<path d="M410.0,195.0C411.2,192.5 416.7,190.8 420.0,190.0C423.3,189.2 428.3,188.3 430.0,190.0C431.7,191.7 431.7,197.5 430.0,200.0C428.3,202.5 422.9,204.2 420.0,205.0C417.1,205.8 414.2,206.7 412.5,205.0C410.8,203.3 408.8,197.5 410.0,195.0Z" fill="#1fce0f"/>
<path d="M415.0,193.8C415.4,191.9 417.7,190.6 420.0,190.0C422.3,189.4 427.3,188.1 428.8,190.0C430.2,191.9 430.6,199.4 428.8,201.2C426.9,203.1 419.8,202.5 417.5,201.2C415.2,200.0 414.6,195.6 415.0,193.8Z" fill="#1a8f22"/>
<path d="M418.8,191.2C420.0,190.0 425.0,190.0 426.2,191.2C427.5,192.5 427.5,197.5 426.2,198.8C425.0,200.0 420.0,200.0 418.8,198.8C417.5,197.5 417.5,192.5 418.8,191.2Z" fill="#003c86"/>
<path d="M351.2,232.5C352.7,231.2 358.5,231.2 360.0,232.5C361.5,233.8 361.5,238.8 360.0,240.0C358.5,241.2 352.7,241.2 351.2,240.0C349.8,238.8 349.8,233.8 351.2,232.5Z" fill="#ebd70a"/>
<path d="M436.2,168.8C436.5,170.2 437.7,174.4 437.5,177.5C437.3,180.6 435.4,185.8 435.0,187.5" fill="none" stroke="#fff033" stroke-width="4" stroke-linecap="round" stroke-linejoin="round"/>
<path d="M434.4,168.8C434.6,170.2 435.8,174.4 435.6,177.5C435.4,180.6 433.5,185.8 433.1,187.5" fill="none" stroke="#5be61c" stroke-width="2.5" stroke-linecap="round" stroke-linejoin="round"/>
<path d="M297.5,430.0C297.6,429.2 298.1,427.1 298.1,425.0C298.1,422.9 298.0,420.0 297.5,417.5C297.0,415.0 295.8,412.5 295.0,410.0C294.2,407.5 293.1,405.2 292.5,402.5C291.9,399.8 291.2,396.5 291.2,393.8C291.2,391.0 291.9,389.0 292.5,386.2C293.1,383.5 295.0,380.2 295.0,377.5C295.0,374.8 293.3,372.7 292.5,370.0C291.7,367.3 290.7,364.2 290.0,361.2C289.3,358.3 288.4,355.2 288.1,352.5C287.8,349.8 287.8,347.5 288.1,345.0C288.4,342.5 289.3,339.8 290.0,337.5C290.7,335.2 291.5,333.5 292.5,331.2C293.5,329.0 295.0,326.0 296.2,323.8C297.5,321.5 299.4,318.5 300.0,317.5" fill="none" stroke="#ebd70a" stroke-width="9" stroke-linecap="round" stroke-linejoin="round"/>
<path d="M297.5,430.0C297.6,429.2 298.1,427.1 298.1,425.0C298.1,422.9 298.0,420.0 297.5,417.5C297.0,415.0 295.8,412.5 295.0,410.0C294.2,407.5 293.1,405.2 292.5,402.5C291.9,399.8 291.2,396.5 291.2,393.8C291.2,391.0 291.9,389.0 292.5,386.2C293.1,383.5 295.0,380.2 295.0,377.5C295.0,374.8 293.3,372.7 292.5,370.0C291.7,367.3 290.7,364.2 290.0,361.2C289.3,358.3 288.4,355.2 288.1,352.5C287.8,349.8 287.8,347.5 288.1,345.0C288.4,342.5 289.3,339.8 290.0,337.5C290.7,335.2 291.5,333.5 292.5,331.2C293.5,329.0 295.0,326.0 296.2,323.8C297.5,321.5 299.4,318.5 300.0,317.5" fill="none" stroke="#fff033" stroke-width="7" stroke-linecap="round" stroke-linejoin="round"/>
<path d="M297.5,430.0C297.6,429.2 298.1,427.1 298.1,425.0C298.1,422.9 298.0,420.0 297.5,417.5C297.0,415.0 295.8,412.5 295.0,410.0C294.2,407.5 293.1,405.2 292.5,402.5C291.9,399.8 291.2,396.5 291.2,393.8C291.2,391.0 291.9,389.0 292.5,386.2C293.1,383.5 295.0,380.2 295.0,377.5C295.0,374.8 293.3,372.7 292.5,370.0C291.7,367.3 290.7,364.2 290.0,361.2C289.3,358.3 288.4,355.2 288.1,352.5C287.8,349.8 287.8,347.5 288.1,345.0C288.4,342.5 289.3,339.8 290.0,337.5C290.7,335.2 291.5,333.5 292.5,331.2C293.5,329.0 295.0,326.0 296.2,323.8C297.5,321.5 299.4,318.5 300.0,317.5" fill="none" stroke="#5be61c" stroke-width="4" stroke-linecap="round" stroke-linejoin="round"/>
<path d="M297.5,430.0C297.6,429.2 298.1,427.1 298.1,425.0C298.1,422.9 298.0,420.0 297.5,417.5C297.0,415.0 295.8,412.5 295.0,410.0C294.2,407.5 293.1,405.2 292.5,402.5C291.9,399.8 291.2,396.5 291.2,393.8C291.2,391.0 291.9,389.0 292.5,386.2C293.1,383.5 295.0,380.2 295.0,377.5C295.0,374.8 293.3,372.7 292.5,370.0C291.7,367.3 290.7,364.2 290.0,361.2C289.3,358.3 288.4,355.2 288.1,352.5C287.8,349.8 287.8,347.5 288.1,345.0C288.4,342.5 289.3,339.8 290.0,337.5C290.7,335.2 291.5,333.5 292.5,331.2C293.5,329.0 295.0,326.0 296.2,323.8C297.5,321.5 299.4,318.5 300.0,317.5" fill="none" stroke="#1fce0f" stroke-width="2" stroke-linecap="round" stroke-linejoin="round"/>
<path d="M300.0,317.5C300.8,316.9 303.1,314.8 305.0,313.8C306.9,312.7 309.0,311.9 311.2,311.2C313.5,310.6 316.7,309.8 318.8,310.0C320.8,310.2 322.6,311.2 323.8,312.5C324.9,313.8 324.6,316.7 325.6,317.5C326.6,318.3 328.4,318.1 330.0,317.5C331.6,316.9 333.5,315.4 335.0,313.8C336.5,312.1 337.7,309.6 338.8,307.5C339.8,305.4 340.2,303.5 341.2,301.2C342.3,299.0 343.3,296.0 345.0,293.8C346.7,291.5 350.2,288.5 351.2,287.5" fill="none" stroke="#ebd70a" stroke-width="15" stroke-linecap="round" stroke-linejoin="round"/>
<path d="M300.0,317.5C300.8,316.9 303.1,314.8 305.0,313.8C306.9,312.7 309.0,311.9 311.2,311.2C313.5,310.6 316.7,309.8 318.8,310.0C320.8,310.2 322.6,311.2 323.8,312.5C324.9,313.8 324.6,316.7 325.6,317.5C326.6,318.3 328.4,318.1 330.0,317.5C331.6,316.9 333.5,315.4 335.0,313.8C336.5,312.1 337.7,309.6 338.8,307.5C339.8,305.4 340.2,303.5 341.2,301.2C342.3,299.0 343.3,296.0 345.0,293.8C346.7,291.5 350.2,288.5 351.2,287.5" fill="none" stroke="#fff033" stroke-width="12" stroke-linecap="round" stroke-linejoin="round"/>
<path d="M300.0,317.5C300.8,316.9 303.1,314.8 305.0,313.8C306.9,312.7 309.0,311.9 311.2,311.2C313.5,310.6 316.7,309.8 318.8,310.0C320.8,310.2 322.6,311.2 323.8,312.5C324.9,313.8 324.6,316.7 325.6,317.5C326.6,318.3 328.4,318.1 330.0,317.5C331.6,316.9 333.5,315.4 335.0,313.8C336.5,312.1 337.7,309.6 338.8,307.5C339.8,305.4 340.2,303.5 341.2,301.2C342.3,299.0 343.3,296.0 345.0,293.8C346.7,291.5 350.2,288.5 351.2,287.5" fill="none" stroke="#5be61c" stroke-width="7" stroke-linecap="round" stroke-linejoin="round"/>
<path d="M300.0,317.5C300.8,316.9 303.1,314.8 305.0,313.8C306.9,312.7 309.0,311.9 311.2,311.2C313.5,310.6 316.7,309.8 318.8,310.0C320.8,310.2 322.6,311.2 323.8,312.5C324.9,313.8 324.6,316.7 325.6,317.5C326.6,318.3 328.4,318.1 330.0,317.5C331.6,316.9 333.5,315.4 335.0,313.8C336.5,312.1 337.7,309.6 338.8,307.5C339.8,305.4 340.2,303.5 341.2,301.2C342.3,299.0 343.3,296.0 345.0,293.8C346.7,291.5 350.2,288.5 351.2,287.5" fill="none" stroke="#1fce0f" stroke-width="3" stroke-linecap="round" stroke-linejoin="round"/>
<path d="M351.2,287.5C352.9,287.0 357.1,285.2 361.2,284.4C365.4,283.6 371.7,283.3 376.2,282.5C380.8,281.7 385.0,280.9 388.8,279.4C392.5,277.9 396.8,275.9 398.8,273.8C400.7,271.6 400.3,267.5 400.6,266.2" fill="none" stroke="#ebd70a" stroke-width="13" stroke-linecap="round" stroke-linejoin="round"/>
<path d="M351.2,287.5C352.9,287.0 357.1,285.2 361.2,284.4C365.4,283.6 371.7,283.3 376.2,282.5C380.8,281.7 385.0,280.9 388.8,279.4C392.5,277.9 396.8,275.9 398.8,273.8C400.7,271.6 400.3,267.5 400.6,266.2" fill="none" stroke="#fff033" stroke-width="10" stroke-linecap="round" stroke-linejoin="round"/>
<path d="M351.2,287.5C352.9,287.0 357.1,285.2 361.2,284.4C365.4,283.6 371.7,283.3 376.2,282.5C380.8,281.7 385.0,280.9 388.8,279.4C392.5,277.9 396.8,275.9 398.8,273.8C400.7,271.6 400.3,267.5 400.6,266.2" fill="none" stroke="#5be61c" stroke-width="6" stroke-linecap="round" stroke-linejoin="round"/>
<path d="M351.2,287.5C352.9,287.0 357.1,285.2 361.2,284.4C365.4,283.6 371.7,283.3 376.2,282.5C380.8,281.7 385.0,280.9 388.8,279.4C392.5,277.9 396.8,275.9 398.8,273.8C400.7,271.6 400.3,267.5 400.6,266.2" fill="none" stroke="#1fce0f" stroke-width="3" stroke-linecap="round" stroke-linejoin="round"/>
<path d="M400.6,266.2C400.1,264.5 397.6,258.4 397.5,256.0C397.4,253.6 398.5,253.4 400.0,252.0C401.5,250.6 404.2,249.1 406.2,247.5C408.3,245.9 410.2,244.2 412.5,242.5C414.8,240.8 417.1,239.2 420.0,237.5C422.9,235.8 426.7,234.4 430.0,232.5C433.3,230.6 437.5,228.1 440.0,226.2C442.5,224.4 442.9,223.3 445.0,221.2C447.1,219.2 449.8,216.5 452.5,213.8C455.2,211.0 458.5,207.5 461.2,205.0C464.0,202.5 465.8,200.8 468.8,198.8C471.7,196.7 475.4,194.6 478.8,192.5C482.1,190.4 485.6,188.8 488.8,186.2C491.9,183.8 494.8,180.4 497.5,177.5C500.2,174.6 502.5,171.9 505.0,168.8C507.5,165.6 510.4,162.1 512.5,158.8C514.6,155.4 516.9,150.9 517.5,148.8C518.1,146.6 516.5,146.1 516.2,145.6" fill="none" stroke="#ebd70a" stroke-width="10" stroke-linecap="round" stroke-linejoin="round"/>
<path d="M400.6,266.2C400.1,264.5 397.6,258.4 397.5,256.0C397.4,253.6 398.5,253.4 400.0,252.0C401.5,250.6 404.2,249.1 406.2,247.5C408.3,245.9 410.2,244.2 412.5,242.5C414.8,240.8 417.1,239.2 420.0,237.5C422.9,235.8 426.7,234.4 430.0,232.5C433.3,230.6 437.5,228.1 440.0,226.2C442.5,224.4 442.9,223.3 445.0,221.2C447.1,219.2 449.8,216.5 452.5,213.8C455.2,211.0 458.5,207.5 461.2,205.0C464.0,202.5 465.8,200.8 468.8,198.8C471.7,196.7 475.4,194.6 478.8,192.5C482.1,190.4 485.6,188.8 488.8,186.2C491.9,183.8 494.8,180.4 497.5,177.5C500.2,174.6 502.5,171.9 505.0,168.8C507.5,165.6 510.4,162.1 512.5,158.8C514.6,155.4 516.9,150.9 517.5,148.8C518.1,146.6 516.5,146.1 516.2,145.6" fill="none" stroke="#fff033" stroke-width="7" stroke-linecap="round" stroke-linejoin="round"/>
<path d="M400.6,266.2C400.1,264.5 397.6,258.4 397.5,256.0C397.4,253.6 398.5,253.4 400.0,252.0C401.5,250.6 404.2,249.1 406.2,247.5C408.3,245.9 410.2,244.2 412.5,242.5C414.8,240.8 417.1,239.2 420.0,237.5C422.9,235.8 426.7,234.4 430.0,232.5C433.3,230.6 437.5,228.1 440.0,226.2C442.5,224.4 442.9,223.3 445.0,221.2C447.1,219.2 449.8,216.5 452.5,213.8C455.2,211.0 458.5,207.5 461.2,205.0C464.0,202.5 465.8,200.8 468.8,198.8C471.7,196.7 475.4,194.6 478.8,192.5C482.1,190.4 485.6,188.8 488.8,186.2C491.9,183.8 494.8,180.4 497.5,177.5C500.2,174.6 502.5,171.9 505.0,168.8C507.5,165.6 510.4,162.1 512.5,158.8C514.6,155.4 516.9,150.9 517.5,148.8C518.1,146.6 516.5,146.1 516.2,145.6" fill="none" stroke="#5be61c" stroke-width="3" stroke-linecap="round" stroke-linejoin="round"/>
<path d="M288.8,416.2C290.2,414.4 296.0,414.4 297.5,416.2C299.0,418.1 299.0,425.6 297.5,427.5C296.0,429.4 290.2,429.4 288.8,427.5C287.3,425.6 287.3,418.1 288.8,416.2Z" fill="#1fce0f"/>
<path d="M288.8,416.2C289.5,415.2 292.4,415.2 293.1,416.2C293.9,417.3 293.9,421.5 293.1,422.5C292.4,423.5 289.5,423.5 288.8,422.5C288.0,421.5 288.0,417.3 288.8,416.2Z" fill="#5be61c"/>
</g>
<use href="#db"/><use href="#ol"/><use href="#ct"/>
<g class="c"><text x="431" y="167">Parvathipuram</text><text x="449.5" y="188">Srikakulam</text><text x="425.5" y="195.5">Vizianagaram</text><text x="404.5" y="211">Paderu</text><text x="419.5" y="217">Visakhapatnam</text><text x="407.5" y="228">Anakapalli</text><text x="362.5" y="247">Rajahmundry</text><text x="338.5" y="264.5">Eluru</text><text x="379" y="263">Kakinada</text><text x="292" y="270.5">Vijayawada</text><text x="275.5" y="276">Amaravati</text><text x="337" y="275">Bhimavaram</text><text x="296.5" y="288">Guntur</text><text x="358" y="287">Amalapuram</text><text x="263.5" y="302">Narasaraopet</text><text x="314.5" y="304">Machilipatnam</text><text x="182.5" y="312">Kurnool</text><text x="196" y="330">Nandyal</text><text x="275" y="339">Ongole</text><text x="149.5" y="372">Anantapur</text><text x="272" y="381">Nellore</text><text x="220" y="390.5">Kadapa</text><text x="200.5" y="411">Rayachoti</text><text x="140.5" y="413">Hindupur</text><text x="250" y="422">Tirupati</text><text x="229" y="454">Chittoor</text></g>
<text x="205.6" y="211.5" class="d">Apr_03</text>
</g>
</svg></body></html>
